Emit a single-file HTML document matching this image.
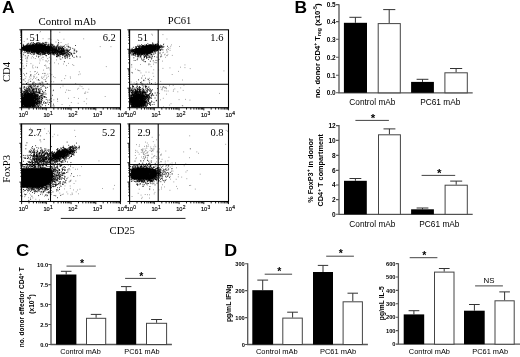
<!DOCTYPE html>
<html><head><meta charset="utf-8"><title>Figure</title>
<style>html,body{margin:0;padding:0;background:#fff}svg{display:block;filter:blur(0.4px)}.s{font-family:"Liberation Serif",serif;fill:#000}.a{font-family:"Liberation Sans",sans-serif;fill:#000}.b{font-family:"Liberation Sans",sans-serif;font-weight:bold;fill:#000}</style></head><body>
<svg width="520" height="357" viewBox="0 0 520 357">
<rect width="520" height="357" fill="#fff"/>
<text x="1.9" y="12.8" class="b" font-size="16.2" text-anchor="start" textLength="12.7" lengthAdjust="spacingAndGlyphs">A</text>
<text x="294.4" y="12.8" class="b" font-size="16.2" text-anchor="start" textLength="12.6" lengthAdjust="spacingAndGlyphs">B</text>
<text x="16.1" y="255.7" class="b" font-size="16.2" text-anchor="start" textLength="13.2" lengthAdjust="spacingAndGlyphs">C</text>
<text x="224.2" y="255.9" class="b" font-size="16.2" text-anchor="start" textLength="12.9" lengthAdjust="spacingAndGlyphs">D</text>
<rect x="21.6" y="29.8" width="98.9" height="77.9" fill="none" stroke="#000" stroke-width="1.1"/>
<path d="M50.8 29.8V107.7M21.6 84.3H120.5" stroke="#000" stroke-width="1.05" fill="none"/>
<path d="M29.0 107.7v1.9M21.6 101.8h-1.3M33.4 107.7v1.9M21.6 98.4h-1.3M36.5 107.7v1.9M21.6 96.0h-1.3M38.9 107.7v1.9M21.6 94.1h-1.3M40.8 107.7v1.9M21.6 92.5h-1.3M42.5 107.7v1.9M21.6 91.2h-1.3M43.9 107.7v1.9M21.6 90.1h-1.3M45.2 107.7v1.9M21.6 89.1h-1.3M53.8 107.7v1.9M21.6 82.4h-1.3M58.1 107.7v1.9M21.6 78.9h-1.3M61.2 107.7v1.9M21.6 76.5h-1.3M63.6 107.7v1.9M21.6 74.6h-1.3M65.6 107.7v1.9M21.6 73.1h-1.3M67.2 107.7v1.9M21.6 71.8h-1.3M68.7 107.7v1.9M21.6 70.6h-1.3M69.9 107.7v1.9M21.6 69.6h-1.3M78.5 107.7v1.9M21.6 62.9h-1.3M82.8 107.7v1.9M21.6 59.5h-1.3M85.9 107.7v1.9M21.6 57.0h-1.3M88.3 107.7v1.9M21.6 55.1h-1.3M90.3 107.7v1.9M21.6 53.6h-1.3M91.9 107.7v1.9M21.6 52.3h-1.3M93.4 107.7v1.9M21.6 51.2h-1.3M94.6 107.7v1.9M21.6 50.2h-1.3M103.2 107.7v1.9M21.6 43.4h-1.3M107.6 107.7v1.9M21.6 40.0h-1.3M110.7 107.7v1.9M21.6 37.5h-1.3M113.1 107.7v1.9M21.6 35.7h-1.3M115.0 107.7v1.9M21.6 34.1h-1.3M116.7 107.7v1.9M21.6 32.8h-1.3M118.1 107.7v1.9M21.6 31.7h-1.3M119.4 107.7v1.9M21.6 30.7h-1.3M21.6 107.7v2.6M21.6 107.7h-2.2M46.3 107.7v2.6M21.6 88.2h-2.2M71.1 107.7v2.6M21.6 68.8h-2.2M95.8 107.7v2.6M21.6 49.3h-2.2M120.5 107.7v2.6M21.6 29.8h-2.2" stroke="#000" stroke-width="0.9" fill="none"/>
<text x="18.7" y="117.4" class="a" font-size="5.7" stroke="#000" stroke-width="0.15">10<tspan dy="-2.1" dx="0.3" font-size="4.9">0</tspan></text>
<text x="43.4" y="117.4" class="a" font-size="5.7" stroke="#000" stroke-width="0.15">10<tspan dy="-2.1" dx="0.3" font-size="4.9">1</tspan></text>
<text x="68.2" y="117.4" class="a" font-size="5.7" stroke="#000" stroke-width="0.15">10<tspan dy="-2.1" dx="0.3" font-size="4.9">2</tspan></text>
<text x="92.9" y="117.4" class="a" font-size="5.7" stroke="#000" stroke-width="0.15">10<tspan dy="-2.1" dx="0.3" font-size="4.9">3</tspan></text>
<text x="117.6" y="117.4" class="a" font-size="5.7" stroke="#000" stroke-width="0.15">10<tspan dy="-2.1" dx="0.3" font-size="4.9">4</tspan></text>
<path d="M41.0 49.5h0.85M39.2 46.8h0.85M38.0 46.5h0.85M41.4 51.7h0.85M37.8 47.3h0.85M44.2 49.7h0.85M41.7 46.8h0.85M40.8 50.3h0.85M32.3 47.4h0.85M28.6 45.5h0.85M29.0 47.8h0.85M32.8 49.1h0.85M42.0 48.4h0.85M24.6 47.0h0.85M40.7 49.0h0.85M31.1 47.4h0.85M34.6 46.8h0.85M47.9 47.3h0.85M40.8 50.7h0.85M37.2 48.4h0.85M41.7 49.0h0.85M33.0 48.6h0.85M49.8 45.8h0.85M46.6 49.3h0.85M36.8 53.0h0.85M46.0 46.4h0.85M41.5 50.1h0.85M39.8 50.2h0.85M40.6 50.2h0.85M50.4 47.7h0.85M42.3 47.8h0.85M41.8 46.2h0.85M37.2 48.2h0.85M46.8 51.5h0.85M32.4 46.7h0.85M45.2 44.6h0.85M38.0 48.5h0.85M49.2 50.6h0.85M38.9 47.9h0.85M39.4 52.1h0.85M38.2 48.0h0.85M43.3 48.6h0.85M39.7 46.3h0.85M40.9 47.8h0.85M48.6 50.5h0.85M40.8 50.3h0.85M38.8 51.0h0.85M41.0 50.1h0.85M32.6 49.2h0.85M30.0 43.9h0.85M39.0 46.8h0.85M42.1 53.7h0.85M35.6 47.2h0.85M42.3 49.9h0.85M39.9 48.3h0.85M45.6 50.1h0.85M34.3 48.4h0.85M41.2 46.5h0.85M42.7 47.0h0.85M47.3 49.5h0.85M41.6 47.5h0.85M40.2 44.4h0.85M33.6 49.3h0.85M27.2 50.1h0.85M29.7 50.0h0.85M35.5 50.3h0.85M41.9 45.5h0.85M49.1 52.3h0.85M40.6 48.2h0.85M40.0 46.6h0.85M48.1 47.9h0.85M40.7 47.1h0.85M36.9 45.8h0.85M49.2 48.8h0.85M47.3 49.1h0.85M36.5 47.9h0.85M37.4 48.7h0.85M38.6 48.0h0.85M32.0 46.7h0.85M51.8 47.8h0.85M34.1 49.3h0.85M50.1 46.0h0.85M39.6 47.4h0.85M29.6 49.9h0.85M40.8 48.9h0.85M36.1 49.6h0.85M37.5 48.3h0.85M33.8 45.9h0.85M49.7 48.0h0.85M42.9 48.8h0.85M38.1 47.6h0.85M45.1 48.3h0.85M40.0 48.8h0.85M48.6 50.6h0.85M43.5 47.7h0.85M32.0 50.5h0.85M47.3 48.7h0.85M44.5 50.6h0.85M46.4 51.0h0.85M38.0 52.0h0.85M32.9 50.4h0.85M44.2 50.8h0.85M53.2 52.5h0.85M33.6 44.8h0.85M46.3 46.8h0.85M40.9 50.6h0.85M30.3 43.8h0.85M42.7 49.0h0.85M39.4 48.8h0.85M35.4 45.3h0.85M39.9 46.6h0.85M30.3 49.5h0.85M40.6 49.7h0.85M34.6 47.1h0.85M34.5 46.6h0.85M42.3 47.1h0.85M43.3 49.6h0.85M54.2 46.3h0.85M46.8 48.8h0.85M40.9 45.6h0.85M38.0 50.3h0.85M40.5 49.0h0.85M39.1 51.2h0.85M40.9 44.0h0.85M36.5 44.3h0.85M49.7 49.3h0.85M33.4 46.4h0.85M48.3 49.4h0.85M41.3 48.7h0.85M41.2 50.6h0.85M44.6 49.4h0.85M34.2 49.6h0.85M36.6 51.0h0.85M32.7 48.2h0.85M41.0 45.9h0.85M52.2 52.4h0.85M38.0 50.4h0.85M43.5 43.2h0.85M42.6 48.7h0.85M41.5 46.5h0.85M39.2 48.3h0.85M48.7 49.8h0.85M41.0 52.1h0.85M37.4 47.8h0.85M29.2 51.7h0.85M47.3 51.1h0.85M45.3 49.2h0.85M42.4 48.3h0.85M39.7 48.9h0.85M50.8 50.4h0.85M40.6 47.5h0.85M36.9 52.1h0.85M44.3 49.1h0.85M38.7 46.3h0.85M40.6 50.7h0.85M38.4 48.2h0.85M39.6 49.0h0.85M30.6 47.9h0.85M35.4 50.5h0.85M36.0 49.9h0.85M50.9 48.5h0.85M37.1 49.1h0.85M41.0 46.6h0.85M44.0 53.3h0.85M39.3 48.3h0.85M34.2 49.2h0.85M32.9 46.1h0.85M49.3 47.2h0.85M48.0 52.4h0.85M42.7 50.1h0.85M53.7 48.9h0.85M37.1 45.7h0.85M41.3 52.0h0.85M47.2 47.0h0.85M35.4 47.5h0.85M42.9 48.4h0.85M42.4 49.5h0.85M39.1 48.6h0.85M42.3 48.7h0.85M44.3 53.0h0.85M44.8 49.1h0.85M30.0 49.2h0.85M28.3 45.2h0.85M46.6 50.6h0.85M40.0 45.0h0.85M38.6 47.2h0.85M45.1 53.9h0.85M42.4 47.2h0.85M33.4 48.4h0.85M39.9 46.2h0.85M41.8 46.3h0.85M48.2 51.4h0.85M48.1 48.1h0.85M44.3 48.6h0.85M38.5 48.0h0.85M32.6 45.3h0.85M46.2 48.6h0.85M42.4 51.0h0.85M29.7 46.6h0.85M42.1 49.7h0.85M38.5 50.9h0.85M42.4 46.2h0.85M35.0 50.3h0.85M44.0 44.8h0.85M49.8 50.5h0.85M49.7 48.3h0.85M39.1 46.3h0.85M57.5 49.1h0.85M51.3 47.8h0.85M42.1 45.2h0.85M38.5 50.8h0.85M32.9 50.8h0.85M43.2 46.6h0.85M37.7 47.7h0.85M40.7 47.6h0.85M35.6 47.9h0.85M34.3 45.7h0.85M40.7 50.7h0.85M31.1 48.4h0.85M36.8 46.5h0.85M46.5 47.9h0.85M50.7 47.5h0.85M43.5 48.4h0.85M36.1 49.9h0.85M40.0 50.1h0.85M40.7 46.4h0.85M40.3 48.9h0.85M47.2 47.1h0.85M40.7 45.0h0.85M45.2 46.6h0.85M29.3 48.2h0.85M48.2 45.8h0.85M33.9 46.9h0.85M33.7 49.3h0.85M35.8 47.0h0.85M44.8 47.3h0.85M43.8 46.8h0.85M33.1 44.5h0.85M53.1 48.6h0.85M42.6 48.8h0.85M42.0 49.0h0.85M53.4 47.0h0.85M30.9 46.2h0.85M32.3 50.1h0.85M46.3 46.9h0.85M32.0 47.7h0.85M50.0 43.0h0.85M44.4 46.6h0.85M47.8 46.7h0.85M39.1 45.4h0.85M34.6 51.6h0.85M46.3 48.1h0.85M35.3 44.4h0.85M38.4 48.6h0.85M40.5 48.6h0.85M33.7 48.4h0.85M40.7 51.6h0.85M53.1 49.0h0.85M36.0 48.5h0.85M37.1 47.0h0.85M40.6 46.5h0.85M44.9 48.7h0.85M42.6 48.5h0.85M36.3 46.5h0.85M39.5 47.5h0.85M42.5 48.9h0.85M32.1 48.6h0.85M32.3 47.1h0.85M39.1 44.2h0.85M41.6 49.2h0.85M40.0 47.8h0.85M38.6 46.6h0.85M39.2 47.5h0.85M41.6 46.2h0.85M42.5 49.2h0.85M40.1 47.8h0.85M44.6 45.3h0.85M44.0 49.5h0.85M42.8 49.7h0.85M36.8 48.1h0.85M45.1 49.9h0.85M42.3 45.5h0.85M44.5 51.5h0.85M47.6 49.6h0.85M30.9 50.4h0.85M40.0 43.2h0.85M43.5 45.6h0.85M32.6 47.1h0.85M49.3 48.3h0.85M42.8 52.7h0.85M51.4 49.0h0.85M39.4 46.0h0.85M36.5 49.5h0.85M43.6 49.1h0.85M47.5 47.4h0.85M40.6 50.4h0.85M44.8 51.3h0.85M43.6 48.2h0.85M43.4 46.7h0.85M30.3 49.6h0.85M40.6 49.5h0.85M30.0 47.6h0.85M37.1 46.8h0.85M26.3 47.5h0.85M46.8 49.9h0.85M37.1 48.6h0.85M45.9 43.0h0.85M40.2 50.0h0.85M45.4 52.7h0.85M48.4 49.8h0.85M43.0 50.6h0.85M37.5 48.6h0.85M46.9 53.3h0.85M40.0 48.7h0.85M42.3 51.8h0.85M40.8 52.0h0.85M34.7 48.1h0.85M39.7 50.5h0.85M47.8 45.8h0.85M35.1 49.3h0.85M36.7 45.3h0.85M47.8 50.2h0.85M44.2 47.9h0.85M47.7 48.5h0.85M48.1 47.1h0.85M35.4 49.0h0.85M36.4 50.1h0.85M42.7 46.9h0.85M41.5 48.1h0.85M47.0 47.7h0.85M38.1 51.3h0.85M55.6 53.8h0.85M41.4 49.3h0.85M51.0 48.9h0.85M34.7 48.8h0.85M43.9 47.1h0.85M30.3 45.2h0.85M45.3 47.3h0.85M40.1 49.2h0.85M45.0 48.2h0.85M44.2 47.0h0.85M38.6 46.5h0.85M48.4 49.0h0.85M36.2 47.8h0.85M39.6 50.3h0.85M30.6 46.1h0.85M38.5 54.2h0.85M47.2 48.8h0.85M45.6 53.5h0.85M39.5 47.9h0.85M48.9 50.2h0.85M45.4 47.9h0.85M53.5 53.0h0.85M44.7 50.4h0.85M27.8 49.7h0.85M39.7 49.7h0.85M45.4 48.2h0.85M30.0 49.2h0.85M36.2 47.9h0.85M37.1 47.9h0.85M26.0 50.8h0.85M42.6 51.3h0.85M53.9 49.4h0.85M29.3 46.4h0.85M33.2 47.4h0.85M41.5 44.4h0.85M43.2 45.6h0.85M42.9 48.6h0.85M39.0 48.6h0.85M37.5 47.3h0.85M30.1 48.3h0.85M53.0 53.6h0.85M49.6 50.7h0.85M36.6 51.8h0.85M40.6 48.6h0.85M39.1 48.9h0.85M38.2 48.5h0.85M34.0 47.7h0.85M55.8 49.3h0.85M39.4 49.9h0.85M45.6 46.6h0.85M39.7 50.8h0.85M42.8 49.1h0.85M51.1 47.7h0.85M41.5 47.7h0.85M50.7 44.9h0.85M36.6 47.5h0.85M45.3 50.3h0.85M50.1 45.7h0.85M45.9 48.4h0.85M36.7 49.8h0.85M35.0 44.0h0.85M38.6 45.4h0.85M36.8 49.4h0.85M43.0 52.3h0.85M39.7 45.4h0.85M36.1 46.6h0.85M33.1 49.4h0.85M36.8 44.3h0.85M45.5 48.7h0.85M43.3 49.1h0.85M45.1 49.0h0.85M49.0 50.1h0.85M43.5 49.8h0.85M31.5 48.1h0.85M39.3 49.2h0.85M32.2 52.0h0.85M41.7 46.2h0.85M29.9 47.7h0.85M40.4 47.2h0.85M41.6 47.4h0.85M44.6 47.4h0.85M40.7 50.9h0.85M57.7 47.3h0.85M38.0 46.8h0.85M46.1 46.5h0.85M37.9 48.6h0.85M34.6 46.5h0.85M37.9 44.1h0.85M31.6 47.5h0.85M42.0 48.4h0.85M29.5 47.3h0.85M46.2 50.2h0.85M40.5 46.8h0.85M45.1 47.7h0.85M33.4 46.7h0.85M50.4 49.7h0.85M48.5 48.1h0.85M47.1 47.7h0.85M40.0 54.2h0.85M46.0 47.9h0.85M40.4 49.5h0.85M48.9 48.1h0.85M29.7 47.7h0.85M41.1 49.0h0.85M49.6 49.8h0.85M46.3 46.6h0.85M46.6 53.6h0.85M46.0 49.6h0.85M42.0 52.7h0.85M35.0 48.3h0.85M44.0 50.5h0.85M38.2 49.4h0.85M39.2 49.0h0.85M40.1 46.3h0.85M40.9 50.7h0.85M34.7 48.0h0.85M45.3 46.6h0.85M42.2 46.5h0.85M48.4 54.2h0.85M54.1 48.9h0.85M45.8 49.3h0.85M41.7 52.2h0.85M32.4 50.8h0.85M40.7 51.9h0.85M42.2 47.4h0.85M42.8 50.5h0.85M41.2 49.9h0.85M37.6 44.0h0.85M46.9 50.6h0.85M42.0 49.0h0.85M47.7 48.1h0.85M36.4 48.2h0.85M48.7 46.1h0.85M48.7 47.7h0.85M33.8 51.3h0.85M40.4 45.9h0.85M38.7 50.7h0.85M48.7 48.2h0.85M43.6 50.5h0.85M36.8 49.4h0.85M40.8 47.6h0.85M37.8 48.8h0.85M41.2 47.6h0.85M38.2 51.1h0.85M42.4 50.8h0.85M48.8 50.4h0.85M55.8 47.6h0.85M46.3 48.3h0.85M53.1 53.0h0.85M28.3 46.2h0.85M45.3 50.7h0.85M45.8 48.8h0.85M44.0 50.3h0.85M40.5 51.0h0.85M26.3 49.6h0.85M34.3 50.6h0.85M39.5 46.8h0.85M43.4 46.9h0.85M35.1 45.1h0.85M40.8 49.9h0.85M47.6 48.8h0.85M47.8 49.1h0.85M40.4 50.0h0.85M47.9 48.3h0.85M39.4 48.4h0.85M41.5 46.9h0.85M47.7 48.2h0.85M44.0 47.1h0.85M43.3 49.8h0.85M38.3 53.1h0.85M43.4 52.8h0.85M47.2 47.6h0.85M38.5 49.7h0.85M41.4 48.9h0.85M39.1 44.8h0.85M39.5 43.9h0.85M43.4 47.3h0.85M36.3 48.1h0.85M42.8 45.7h0.85M29.6 46.0h0.85M27.7 46.1h0.85M51.3 46.9h0.85M45.2 46.0h0.85M42.9 48.2h0.85M40.6 50.0h0.85M52.4 49.7h0.85M41.8 46.7h0.85M44.8 48.4h0.85M46.4 48.9h0.85M52.3 44.9h0.85M39.1 50.6h0.85M38.7 47.0h0.85M39.3 45.7h0.85M41.8 54.2h0.85M48.4 46.7h0.85M35.3 47.7h0.85M47.5 47.3h0.85M36.5 50.6h0.85M46.6 48.2h0.85M33.7 45.1h0.85M36.5 43.7h0.85M45.9 47.6h0.85M44.1 53.0h0.85M48.6 46.6h0.85M46.7 51.6h0.85M36.1 46.5h0.85M40.3 45.3h0.85M50.6 43.9h0.85M33.8 47.9h0.85M39.5 49.1h0.85M42.8 48.4h0.85M48.4 44.4h0.85M41.0 47.2h0.85M41.9 49.3h0.85M35.1 47.2h0.85M46.2 49.8h0.85M36.6 53.1h0.85M56.0 46.2h0.85M43.0 54.4h0.85M46.1 49.5h0.85M39.6 47.6h0.85M39.6 47.5h0.85M45.8 48.1h0.85M38.1 46.1h0.85M40.7 46.8h0.85M39.8 51.0h0.85M43.4 50.0h0.85M43.3 49.0h0.85M40.2 48.1h0.85M45.9 46.6h0.85M49.7 49.2h0.85M36.1 47.5h0.85M36.6 49.0h0.85M36.3 51.1h0.85M35.9 43.6h0.85M36.2 44.2h0.85M40.7 51.1h0.85M45.2 46.0h0.85M36.0 52.5h0.85M43.1 48.9h0.85M47.9 54.4h0.85M49.4 49.4h0.85M43.3 50.2h0.85M37.0 46.3h0.85M41.3 46.7h0.85M40.6 49.0h0.85M56.2 47.6h0.85M40.2 48.4h0.85M43.8 51.2h0.85M37.8 46.9h0.85M30.3 46.3h0.85M44.5 49.0h0.85M34.4 47.7h0.85M41.2 49.9h0.85M37.1 48.1h0.85M29.2 45.8h0.85M51.5 44.4h0.85M38.8 49.2h0.85M38.6 46.9h0.85M40.6 48.8h0.85M40.5 44.7h0.85M40.0 46.9h0.85M37.4 49.2h0.85M45.2 50.9h0.85M37.8 50.7h0.85M48.6 51.6h0.85M50.0 48.8h0.85M39.9 50.6h0.85M32.1 48.9h0.85M37.6 47.9h0.85M29.7 46.4h0.85M40.9 50.7h0.85M47.4 48.9h0.85M39.8 46.9h0.85M43.6 48.4h0.85M44.9 52.8h0.85M40.8 45.5h0.85M35.4 45.4h0.85M33.2 51.3h0.85M42.5 45.5h0.85M45.2 51.7h0.85M38.7 47.2h0.85M38.8 49.3h0.85M45.2 51.6h0.85M48.9 51.7h0.85M49.9 50.6h0.85M31.0 48.1h0.85M43.0 48.0h0.85M46.9 48.3h0.85M35.0 51.7h0.85M45.3 49.5h0.85M47.0 51.4h0.85M43.2 43.5h0.85M36.6 47.6h0.85M34.6 49.0h0.85M48.7 48.1h0.85M33.6 52.9h0.85M38.1 46.0h0.85M42.5 49.8h0.85M36.4 50.3h0.85M37.8 46.7h0.85M42.2 50.5h0.85M36.9 49.4h0.85M40.4 54.9h0.85M36.4 51.6h0.85M40.7 48.5h0.85M45.7 50.9h0.85M49.2 49.9h0.85M37.1 47.5h0.85M44.3 50.2h0.85M50.1 50.1h0.85M47.9 52.4h0.85M42.1 45.6h0.85M33.3 45.3h0.85M51.3 47.4h0.85M49.0 50.4h0.85M52.1 51.4h0.85M40.3 48.3h0.85M41.6 49.2h0.85M37.6 48.6h0.85M51.5 45.5h0.85M42.7 46.9h0.85M42.2 50.7h0.85M40.6 50.5h0.85M30.7 50.8h0.85M37.1 50.0h0.85M42.2 43.2h0.85M36.1 49.1h0.85M51.1 49.8h0.85M42.7 45.8h0.85M50.3 53.1h0.85M41.2 48.3h0.85M30.5 50.3h0.85M58.6 51.1h0.85M49.2 50.3h0.85M34.6 51.5h0.85M33.0 48.0h0.85M42.8 50.8h0.85M43.7 49.8h0.85M36.1 45.8h0.85M41.4 47.3h0.85M32.5 45.7h0.85M37.8 44.6h0.85M32.2 44.9h0.85M42.2 49.7h0.85M54.0 46.1h0.85M36.6 50.6h0.85M39.6 48.0h0.85M52.1 48.5h0.85M33.5 45.6h0.85M43.2 49.6h0.85M32.1 46.3h0.85M44.5 50.2h0.85M36.8 50.0h0.85M44.7 45.1h0.85M39.0 49.6h0.85M37.3 44.0h0.85M39.2 50.4h0.85M51.3 44.4h0.85M58.0 47.0h0.85M47.2 51.7h0.85M47.4 49.4h0.85M33.5 49.9h0.85M36.4 43.1h0.85M59.4 51.1h0.85M52.8 47.3h0.85M50.5 52.7h0.85M51.1 49.2h0.85M33.2 48.1h0.85M26.7 44.5h0.85M41.6 46.7h0.85M39.9 48.5h0.85M53.5 52.1h0.85M40.7 51.4h0.85M35.9 47.9h0.85M46.9 46.3h0.85M39.2 45.8h0.85M41.8 52.4h0.85M36.1 49.1h0.85M35.2 46.1h0.85M33.0 51.7h0.85M56.4 50.5h0.85M36.3 50.2h0.85M38.8 50.5h0.85M42.9 49.5h0.85M44.9 47.7h0.85M38.4 44.9h0.85M38.1 45.6h0.85M40.1 46.7h0.85M41.7 49.8h0.85M31.8 46.6h0.85M34.9 50.2h0.85M52.1 51.1h0.85M38.7 51.9h0.85M31.2 51.7h0.85M36.7 42.6h0.85M58.2 52.9h0.85M34.3 48.9h0.85M39.6 49.0h0.85M31.4 46.9h0.85M44.0 49.4h0.85M48.8 49.3h0.85M56.3 47.9h0.85M42.7 44.7h0.85M32.9 51.4h0.85M34.9 49.7h0.85M40.6 46.5h0.85M38.7 47.6h0.85M37.8 50.3h0.85M45.2 47.7h0.85M35.1 49.2h0.85M40.3 51.0h0.85M58.3 51.3h0.85M40.8 48.4h0.85M35.4 46.6h0.85M34.5 47.7h0.85M38.2 50.3h0.85M38.4 48.3h0.85M33.1 52.1h0.85M44.3 52.8h0.85M46.2 52.3h0.85M39.4 50.3h0.85M58.6 46.8h0.85M48.6 52.8h0.85M43.7 50.6h0.85M49.3 47.7h0.85M43.7 47.0h0.85M36.5 47.2h0.85M40.0 49.1h0.85M44.0 45.8h0.85M54.2 51.9h0.85M45.8 48.2h0.85M40.4 50.0h0.85M43.7 45.2h0.85M45.9 55.5h0.85M28.7 50.5h0.85M43.5 48.7h0.85M50.1 46.5h0.85M42.1 52.1h0.85M39.7 47.8h0.85M41.8 47.8h0.85M51.3 47.2h0.85M46.8 46.2h0.85M45.5 48.7h0.85M23.7 48.1h0.85M33.9 47.5h0.85M51.3 46.7h0.85M33.9 51.7h0.85M41.8 52.3h0.85M43.2 46.9h0.85M40.6 51.5h0.85M47.3 49.1h0.85M41.3 48.6h0.85M37.1 53.0h0.85M41.0 46.3h0.85M37.8 50.3h0.85M45.3 48.7h0.85M36.5 48.7h0.85M29.8 45.4h0.85M46.3 47.9h0.85M43.5 51.6h0.85M45.3 49.0h0.85M55.2 50.9h0.85M38.6 50.3h0.85M43.7 47.0h0.85M41.5 48.4h0.85M27.9 47.9h0.85M39.1 47.7h0.85M30.0 47.6h0.85M40.7 49.0h0.85M33.4 49.9h0.85M32.9 48.0h0.85M49.7 47.6h0.85M37.6 51.1h0.85M38.4 48.0h0.85M42.5 51.2h0.85M26.3 46.3h0.85M34.3 46.1h0.85M35.3 46.7h0.85M43.0 46.9h0.85M41.8 49.7h0.85M36.1 48.9h0.85M51.9 50.0h0.85M36.8 48.5h0.85M34.9 49.2h0.85M46.7 47.2h0.85M39.6 51.2h0.85M37.7 49.1h0.85M34.2 46.7h0.85M37.6 53.4h0.85M38.3 47.5h0.85M37.3 48.3h0.85M45.3 49.4h0.85M54.4 49.8h0.85M50.4 49.8h0.85M44.9 45.8h0.85M40.2 48.6h0.85M39.4 44.0h0.85M46.7 48.2h0.85M38.2 48.1h0.85M39.5 49.6h0.85M32.7 46.4h0.85M42.9 49.2h0.85M38.6 47.4h0.85M35.6 48.5h0.85M48.7 46.8h0.85M50.9 51.0h0.85M38.1 50.4h0.85M31.5 44.6h0.85M32.6 47.6h0.85M38.9 47.6h0.85M41.6 44.2h0.85M44.2 45.8h0.85M36.7 47.7h0.85M33.5 45.5h0.85M34.5 48.5h0.85M44.8 50.2h0.85M34.5 46.8h0.85M35.0 49.5h0.85M27.8 51.0h0.85M37.8 47.0h0.85M43.2 51.1h0.85M43.2 51.2h0.85M41.9 51.5h0.85M49.1 48.9h0.85M50.4 49.5h0.85M41.6 46.8h0.85M39.1 50.4h0.85M32.5 49.9h0.85M43.3 49.5h0.85M26.7 48.0h0.85M45.2 47.3h0.85M41.6 43.6h0.85M45.4 47.5h0.85M46.7 45.0h0.85M45.5 48.5h0.85M46.2 47.0h0.85M37.0 53.5h0.85M35.6 47.0h0.85M39.2 46.5h0.85M48.7 52.9h0.85M36.4 44.8h0.85M48.6 51.5h0.85M46.3 51.5h0.85M35.4 48.2h0.85M32.0 45.3h0.85M47.4 47.6h0.85M55.8 49.6h0.85M36.8 50.4h0.85M52.7 50.3h0.85M33.1 49.3h0.85M49.9 48.1h0.85M36.0 50.8h0.85M41.9 46.4h0.85M38.5 47.0h0.85M42.9 49.1h0.85M48.5 50.7h0.85M30.8 49.3h0.85M46.8 50.0h0.85M47.7 47.9h0.85M34.8 50.6h0.85M34.1 43.8h0.85M47.7 47.5h0.85M39.0 45.7h0.85M32.4 45.9h0.85M38.7 49.5h0.85M26.1 49.8h0.85M33.3 46.2h0.85M45.4 48.8h0.85M31.0 52.4h0.85M35.4 49.1h0.85M42.3 51.9h0.85M38.0 50.9h0.85M36.2 51.1h0.85M36.0 47.8h0.85M53.3 50.0h0.85M41.7 53.7h0.85M43.3 47.1h0.85M45.8 46.4h0.85M48.3 51.7h0.85M37.3 47.3h0.85M42.1 48.9h0.85M34.6 49.8h0.85M27.7 47.3h0.85M38.4 48.1h0.85M43.0 46.2h0.85M44.8 48.6h0.85M36.8 45.6h0.85M33.3 49.3h0.85M34.7 48.7h0.85M47.9 51.3h0.85M51.1 48.6h0.85M33.9 50.7h0.85M43.0 51.3h0.85M41.1 51.4h0.85M46.5 50.6h0.85M44.3 49.8h0.85M42.5 49.4h0.85M47.4 47.9h0.85M52.3 49.0h0.85M47.4 48.9h0.85M39.4 53.2h0.85M39.0 45.9h0.85M36.4 47.9h0.85M55.0 49.8h0.85M47.1 46.9h0.85M43.3 50.4h0.85M52.7 47.8h0.85M44.9 49.6h0.85M34.4 48.5h0.85M39.3 43.7h0.85M44.9 50.1h0.85M38.1 45.8h0.85M50.6 49.8h0.85M47.6 52.1h0.85M37.6 50.4h0.85M39.4 48.6h0.85M40.4 48.8h0.85M48.2 49.4h0.85M40.0 48.2h0.85M43.2 46.9h0.85M37.7 48.6h0.85M37.3 48.4h0.85M37.0 53.0h0.85M49.6 50.1h0.85M40.7 53.6h0.85M43.1 48.7h0.85M43.0 49.5h0.85M50.2 49.1h0.85M54.6 47.4h0.85M45.5 46.8h0.85M52.8 48.6h0.85M40.6 50.8h0.85M49.2 46.7h0.85M38.7 45.7h0.85M41.9 48.6h0.85M38.7 47.2h0.85M38.5 47.1h0.85M44.4 52.3h0.85M28.5 48.0h0.85M38.3 49.8h0.85M34.8 48.2h0.85M34.2 50.0h0.85M41.6 48.5h0.85M43.4 48.4h0.85M30.9 49.7h0.85M42.9 48.5h0.85M47.4 51.7h0.85M33.9 46.8h0.85M51.1 52.3h0.85M36.2 46.0h0.85M36.9 47.5h0.85M30.7 48.4h0.85M32.7 45.8h0.85M47.0 47.5h0.85M40.5 50.2h0.85M46.3 48.3h0.85M41.3 47.0h0.85M52.4 50.7h0.85M33.8 48.5h0.85M45.6 50.0h0.85M52.9 52.3h0.85M37.5 48.5h0.85M32.7 49.0h0.85M42.0 54.7h0.85M41.6 44.3h0.85M36.6 48.9h0.85M32.8 46.6h0.85M38.6 49.5h0.85M39.9 46.8h0.85M46.1 47.8h0.85M37.8 45.7h0.85M35.9 50.0h0.85M30.5 48.2h0.85M45.7 48.2h0.85M42.6 46.4h0.85M49.5 51.6h0.85M42.5 45.0h0.85M34.2 50.7h0.85M52.1 49.9h0.85M49.1 47.8h0.85M39.8 48.8h0.85M43.8 45.6h0.85M47.1 51.9h0.85M33.5 45.5h0.85M43.3 47.5h0.85M25.6 49.9h0.85M42.0 47.8h0.85M54.7 49.7h0.85M36.1 48.8h0.85M34.2 46.9h0.85M43.5 47.7h0.85M38.1 52.3h0.85M46.6 50.8h0.85M44.4 50.0h0.85M50.5 49.1h0.85M53.1 47.2h0.85M39.3 45.7h0.85M38.8 49.8h0.85M50.4 47.7h0.85M41.0 48.0h0.85M36.2 46.0h0.85M41.4 45.0h0.85M41.7 48.9h0.85M36.7 46.4h0.85M32.0 52.5h0.85M32.3 51.8h0.85M44.9 48.2h0.85M33.5 50.8h0.85M52.2 47.2h0.85M39.1 51.0h0.85M43.2 53.3h0.85M37.3 49.8h0.85M32.9 53.0h0.85M36.3 43.8h0.85M40.2 48.5h0.85M53.5 48.6h0.85M40.9 50.1h0.85M51.3 49.1h0.85M47.8 50.2h0.85M39.1 48.9h0.85M41.2 46.8h0.85M48.9 46.1h0.85M48.6 51.2h0.85M40.4 47.1h0.85M39.5 49.8h0.85M45.8 49.6h0.85M47.4 47.8h0.85M42.5 45.4h0.85M46.0 49.3h0.85M38.3 51.2h0.85M45.5 42.8h0.85M41.3 45.6h0.85M47.9 54.5h0.85M37.6 48.8h0.85M39.4 49.5h0.85M45.2 51.8h0.85M34.6 52.0h0.85M34.9 49.2h0.85M48.5 50.7h0.85M34.9 47.0h0.85M38.0 48.6h0.85M48.5 46.3h0.85M44.0 50.3h0.85M44.6 50.0h0.85M50.9 50.3h0.85M46.6 50.3h0.85M52.7 45.1h0.85M49.3 48.6h0.85M39.2 46.6h0.85M28.9 47.5h0.85M36.5 49.7h0.85M31.4 51.5h0.85M42.8 48.3h0.85M36.4 46.9h0.85M33.7 47.3h0.85M41.0 48.4h0.85M31.8 47.8h0.85M35.2 48.9h0.85M53.1 50.7h0.85M39.0 45.2h0.85M31.8 44.7h0.85M45.7 47.3h0.85M41.4 47.5h0.85M41.6 51.9h0.85M36.5 47.9h0.85M35.8 50.5h0.85M34.3 46.1h0.85M32.0 45.4h0.85M44.1 54.5h0.85M34.5 50.6h0.85M42.6 46.5h0.85M39.2 48.2h0.85M36.5 52.8h0.85M28.6 49.1h0.85M43.2 47.6h0.85M42.0 50.8h0.85M42.0 49.8h0.85M45.5 44.5h0.85M50.6 54.2h0.85M47.4 51.3h0.85M31.8 48.2h0.85M35.7 47.3h0.85M47.3 47.3h0.85M40.2 44.6h0.85M40.0 49.0h0.85M36.4 47.0h0.85M53.3 46.7h0.85M34.2 46.8h0.85M48.8 53.7h0.85M43.2 47.3h0.85M38.2 51.0h0.85M35.1 51.7h0.85M50.2 49.3h0.85M45.2 50.6h0.85M51.1 46.9h0.85M48.7 48.3h0.85M36.0 48.8h0.85M39.6 46.6h0.85M30.6 46.3h0.85M50.4 53.5h0.85M45.2 51.6h0.85M37.6 48.5h0.85M42.8 46.5h0.85M34.6 48.8h0.85M38.9 46.4h0.85M43.5 48.3h0.85M47.6 49.1h0.85M39.0 49.0h0.85M39.9 47.3h0.85M38.4 50.3h0.85M45.2 51.8h0.85M30.0 47.5h0.85M38.3 49.1h0.85M38.1 47.6h0.85M46.1 49.4h0.85M33.4 51.4h0.85M47.5 47.8h0.85M46.4 47.4h0.85M48.3 48.6h0.85M35.8 47.8h0.85M36.0 49.0h0.85M42.1 48.9h0.85M37.4 40.7h0.85M41.6 44.7h0.85M42.6 51.3h0.85M42.8 48.0h0.85M39.8 48.5h0.85M37.4 47.4h0.85M35.0 51.2h0.85M40.9 50.9h0.85M39.4 48.9h0.85M39.9 49.8h0.85M46.4 49.5h0.85M36.6 46.9h0.85M51.8 48.6h0.85M39.1 51.9h0.85M48.1 50.3h0.85M38.4 53.8h0.85M43.6 50.1h0.85M39.9 45.7h0.85M32.3 49.3h0.85M43.5 48.4h0.85M33.4 45.3h0.85M38.9 45.5h0.85M46.8 51.6h0.85M59.4 51.5h0.85M37.1 46.7h0.85M39.8 50.9h0.85M45.0 50.2h0.85M42.4 50.3h0.85M50.4 46.9h0.85M38.0 45.6h0.85M51.5 52.1h0.85M45.9 46.4h0.85M42.1 48.3h0.85M41.5 48.4h0.85M44.4 48.1h0.85M46.6 49.6h0.85M39.1 48.5h0.85M38.1 50.5h0.85M39.2 49.4h0.85M38.4 45.5h0.85M46.9 46.7h0.85M45.4 49.9h0.85M30.2 46.3h0.85M37.7 46.9h0.85M33.3 50.1h0.85M39.4 49.6h0.85M38.2 49.4h0.85M36.1 48.5h0.85M44.8 49.1h0.85M38.0 46.3h0.85M42.1 49.6h0.85M39.3 47.1h0.85M44.5 54.4h0.85M39.0 49.5h0.85M43.5 43.3h0.85M41.8 47.3h0.85M50.0 48.6h0.85M35.9 48.1h0.85M42.1 47.6h0.85M40.7 45.8h0.85M39.5 50.4h0.85M53.8 50.9h0.85M42.8 51.5h0.85M47.6 52.7h0.85M48.0 48.8h0.85M42.7 49.3h0.85M43.0 49.3h0.85M35.9 44.0h0.85M36.6 44.2h0.85M41.4 48.8h0.85M30.1 49.9h0.85M46.6 49.2h0.85M51.8 53.3h0.85M33.2 50.7h0.85M43.9 49.8h0.85M47.1 47.5h0.85M37.1 46.8h0.85M36.1 48.4h0.85M31.6 46.1h0.85M44.8 48.8h0.85M43.5 44.8h0.85M35.9 47.4h0.85M41.2 47.5h0.85M47.1 48.9h0.85M41.1 48.8h0.85M45.6 48.0h0.85M48.3 50.1h0.85M42.0 48.9h0.85M44.4 51.2h0.85M47.1 49.9h0.85M46.7 49.3h0.85M49.1 49.1h0.85M27.5 51.2h0.85M41.7 46.3h0.85M39.7 46.8h0.85M54.7 50.4h0.85M30.8 49.6h0.85M38.4 52.9h0.85M34.2 43.6h0.85M41.4 48.1h0.85M38.3 44.0h0.85M43.8 52.6h0.85M28.6 50.9h0.85M37.3 53.8h0.85M43.8 48.5h0.85M48.2 50.2h0.85M37.1 50.2h0.85M37.7 44.8h0.85M54.2 48.6h0.85M37.0 49.4h0.85M30.9 45.4h0.85M37.8 47.5h0.85M41.5 51.3h0.85M37.9 49.8h0.85M44.9 46.6h0.85M42.5 46.8h0.85M47.9 50.1h0.85M41.1 45.9h0.85M41.8 47.2h0.85M45.6 48.7h0.85M35.7 50.6h0.85M45.7 47.7h0.85M48.6 48.5h0.85M39.0 49.0h0.85M36.1 47.6h0.85M40.0 52.1h0.85M50.7 48.6h0.85M51.5 49.1h0.85M43.5 50.8h0.85M42.9 54.2h0.85M42.6 46.2h0.85M49.5 48.2h0.85M39.0 42.2h0.85M47.5 50.9h0.85M46.2 51.1h0.85M52.0 49.1h0.85M47.1 47.4h0.85M38.7 51.0h0.85M43.5 46.0h0.85M43.3 48.5h0.85M35.7 49.5h0.85M38.4 45.3h0.85M33.8 52.4h0.85M31.2 48.9h0.85M32.7 49.3h0.85M29.8 49.5h0.85M25.1 46.8h0.85M35.0 49.9h0.85M31.2 47.5h0.85M31.4 48.6h0.85M34.0 46.7h0.85M29.7 48.2h0.85M22.3 48.7h0.85M29.2 47.8h0.85M31.4 46.4h0.85M28.7 49.0h0.85M30.7 49.9h0.85M30.4 49.0h0.85M41.7 49.3h0.85M23.8 49.5h0.85M23.9 46.3h0.85M44.7 48.9h0.85M33.3 49.2h0.85M39.9 48.8h0.85M36.3 47.0h0.85M37.8 49.1h0.85M30.4 48.6h0.85M24.9 50.6h0.85M33.0 49.1h0.85M31.3 49.9h0.85M32.0 49.4h0.85M22.0 49.1h0.85M42.1 47.7h0.85M28.2 49.6h0.85M34.7 49.3h0.85M32.3 48.0h0.85M33.9 52.8h0.85M33.7 49.4h0.85M23.6 47.5h0.85M22.6 47.7h0.85M22.4 47.5h0.85M27.7 47.0h0.85M31.7 48.5h0.85M35.2 49.9h0.85M27.0 49.3h0.85M36.2 48.1h0.85M22.0 48.9h0.85M33.5 48.5h0.85M26.1 49.7h0.85M22.8 48.8h0.85M26.0 47.2h0.85M31.8 47.0h0.85M40.4 47.6h0.85M40.9 46.9h0.85M32.6 46.7h0.85M33.1 46.6h0.85M36.1 47.3h0.85M29.8 48.9h0.85M32.6 45.9h0.85M38.7 49.2h0.85M26.4 47.0h0.85M32.3 47.9h0.85M22.2 47.7h0.85M38.4 47.9h0.85M25.5 50.3h0.85M31.8 48.5h0.85M25.4 46.2h0.85M22.0 47.7h0.85M27.7 48.9h0.85M32.3 48.7h0.85M30.3 47.0h0.85M23.3 47.5h0.85M27.4 46.7h0.85M22.3 48.3h0.85M29.7 47.5h0.85M32.0 48.1h0.85M22.9 48.5h0.85M40.3 47.5h0.85M36.0 50.3h0.85M38.0 47.2h0.85M41.1 48.6h0.85M27.5 48.1h0.85M32.6 48.5h0.85M27.9 50.2h0.85M24.7 46.9h0.85M33.8 49.4h0.85M35.6 46.9h0.85M35.5 49.1h0.85M39.6 46.7h0.85M30.3 48.0h0.85M35.8 47.7h0.85M24.7 49.6h0.85M34.9 49.8h0.85M24.3 48.3h0.85M35.2 47.5h0.85M24.5 49.6h0.85M38.4 46.8h0.85M22.9 48.2h0.85M32.7 48.2h0.85M24.8 48.6h0.85M23.2 48.3h0.85M25.2 52.2h0.85M33.9 47.2h0.85M23.0 47.8h0.85M24.6 49.6h0.85M26.4 47.3h0.85M28.6 48.1h0.85M35.8 47.5h0.85M35.4 48.8h0.85M29.0 45.6h0.85M37.4 48.7h0.85M33.6 47.8h0.85M26.8 47.5h0.85M34.8 48.9h0.85M27.6 47.9h0.85M32.3 48.9h0.85M24.0 50.8h0.85M30.5 48.4h0.85M37.9 49.8h0.85M28.5 49.2h0.85M22.6 47.5h0.85M24.0 47.0h0.85M27.8 48.8h0.85M32.7 50.9h0.85M31.2 49.6h0.85M25.4 49.4h0.85M29.9 47.8h0.85M28.4 48.3h0.85M30.1 49.0h0.85M25.9 47.4h0.85M33.5 46.0h0.85M25.3 50.6h0.85M33.1 46.1h0.85M44.6 44.8h0.85M37.6 50.6h0.85M34.5 48.1h0.85M31.1 47.1h0.85M33.9 46.8h0.85M27.4 49.8h0.85M22.3 47.9h0.85M30.0 46.5h0.85M36.0 48.9h0.85M24.3 47.5h0.85M29.5 47.4h0.85M34.8 47.4h0.85M34.9 48.3h0.85M34.1 47.6h0.85M26.0 46.8h0.85M32.5 49.7h0.85M41.7 50.2h0.85M30.5 48.1h0.85M31.3 48.4h0.85M37.8 49.7h0.85M24.0 47.4h0.85M37.2 48.8h0.85M27.6 50.1h0.85M26.7 48.0h0.85M26.2 45.7h0.85M34.2 46.7h0.85M25.6 47.4h0.85M33.4 48.3h0.85M29.1 46.0h0.85M28.5 46.3h0.85M30.8 48.9h0.85M28.9 51.3h0.85M32.2 49.2h0.85M29.9 48.1h0.85M34.8 49.9h0.85M32.1 49.7h0.85M31.8 46.7h0.85M22.0 51.0h0.85M30.5 46.4h0.85M31.1 47.9h0.85M28.7 48.1h0.85M30.7 49.2h0.85M24.0 46.7h0.85M25.7 48.2h0.85M27.4 46.4h0.85M26.1 51.2h0.85M22.7 46.0h0.85M30.7 49.2h0.85M31.8 46.8h0.85M35.0 47.3h0.85M22.2 47.5h0.85M28.3 49.4h0.85M32.7 48.4h0.85M34.6 48.5h0.85M34.4 46.4h0.85M28.4 47.7h0.85M26.3 50.3h0.85M42.8 48.4h0.85M28.9 49.4h0.85M40.0 46.7h0.85M29.5 48.1h0.85M32.4 48.6h0.85M33.0 47.8h0.85M29.3 47.5h0.85M25.0 48.2h0.85M28.1 46.8h0.85M38.4 48.2h0.85M24.5 49.1h0.85M28.9 48.8h0.85M30.0 47.6h0.85M29.2 51.2h0.85M31.6 46.9h0.85M26.8 51.3h0.85M32.2 48.5h0.85M31.9 49.3h0.85M36.1 49.0h0.85M29.9 48.6h0.85M37.1 49.5h0.85M23.0 47.5h0.85M31.0 47.5h0.85M26.7 47.1h0.85M27.4 49.0h0.85M35.0 48.4h0.85M41.4 48.3h0.85M48.2 49.8h0.85M32.0 47.7h0.85M30.1 51.1h0.85M27.5 49.4h0.85M26.9 49.4h0.85M29.5 46.8h0.85M34.7 49.4h0.85M32.6 49.8h0.85M35.6 48.4h0.85M37.1 49.4h0.85M29.6 47.8h0.85M29.2 48.4h0.85M27.0 47.4h0.85M42.0 48.7h0.85M25.4 46.6h0.85M24.6 49.4h0.85M33.6 48.1h0.85M29.3 48.0h0.85M22.4 50.2h0.85M31.2 51.9h0.85M24.5 48.2h0.85M34.3 48.1h0.85M29.6 48.9h0.85M28.4 49.8h0.85M35.0 48.9h0.85M29.2 48.0h0.85M32.3 49.7h0.85M29.4 49.0h0.85M27.1 46.4h0.85M23.0 49.5h0.85M31.7 50.6h0.85M29.3 49.6h0.85M36.9 49.8h0.85M25.3 48.1h0.85M29.8 47.0h0.85M31.8 49.8h0.85M26.1 51.2h0.85M27.3 48.1h0.85M27.6 47.4h0.85M31.5 48.4h0.85M39.0 49.3h0.85M32.2 48.1h0.85M23.9 49.7h0.85M28.8 50.7h0.85M33.4 49.6h0.85M30.4 48.7h0.85M32.9 49.7h0.85M24.7 49.1h0.85M44.7 48.3h0.85M27.5 47.4h0.85M29.4 48.8h0.85M40.1 51.9h0.85M23.7 49.9h0.85M32.7 49.0h0.85M31.9 48.4h0.85M38.5 49.3h0.85M31.1 50.1h0.85M34.4 49.0h0.85M31.0 50.9h0.85M32.1 48.3h0.85M23.9 47.9h0.85M22.7 48.6h0.85M30.6 45.5h0.85M29.1 49.3h0.85M30.0 47.1h0.85M36.6 47.4h0.85M28.9 49.8h0.85M36.0 48.7h0.85M23.6 48.2h0.85M32.9 48.2h0.85M31.8 47.1h0.85M35.9 49.8h0.85M26.3 50.1h0.85M27.1 50.5h0.85M31.9 47.8h0.85M33.8 47.3h0.85M23.4 46.4h0.85M30.6 48.3h0.85M28.5 47.8h0.85M37.6 47.8h0.85M24.7 50.1h0.85M37.5 48.9h0.85M32.7 48.4h0.85M38.3 46.5h0.85M33.1 47.5h0.85M36.9 48.3h0.85M35.2 47.5h0.85M25.4 47.0h0.85M36.2 50.3h0.85M30.6 47.0h0.85M28.3 47.4h0.85M37.7 48.8h0.85M31.9 47.8h0.85M22.3 48.9h0.85M29.6 47.3h0.85M26.7 50.6h0.85M23.2 47.1h0.85M27.6 47.4h0.85M26.4 49.1h0.85M39.4 45.9h0.85M28.9 48.5h0.85M28.5 48.1h0.85M27.0 49.8h0.85M26.2 48.2h0.85M29.0 48.6h0.85M28.0 49.8h0.85M28.9 48.6h0.85M28.7 47.0h0.85M24.0 46.9h0.85M30.2 47.4h0.85M22.6 48.7h0.85M32.2 45.9h0.85M39.1 48.4h0.85M28.4 49.9h0.85M29.4 47.6h0.85M42.2 46.9h0.85M28.4 49.6h0.85M22.6 48.3h0.85M31.3 51.8h0.85M23.6 48.3h0.85M33.0 48.5h0.85M29.6 49.0h0.85M35.8 49.8h0.85M31.4 48.8h0.85M22.4 48.2h0.85M30.3 47.8h0.85M29.6 47.2h0.85M38.2 51.4h0.85M26.7 49.0h0.85M27.6 50.2h0.85M31.6 48.5h0.85M27.7 48.6h0.85M23.0 49.3h0.85M24.7 49.1h0.85M29.8 49.9h0.85M28.9 49.8h0.85M23.5 49.3h0.85M27.7 48.7h0.85M29.4 49.7h0.85M25.8 45.9h0.85M27.0 49.3h0.85M27.9 49.7h0.85M26.8 48.4h0.85M26.7 48.9h0.85M40.4 48.9h0.85M30.2 47.5h0.85M24.5 50.4h0.85M22.3 47.1h0.85M28.4 47.8h0.85M40.7 45.1h0.85M31.2 49.4h0.85M22.3 47.5h0.85M31.6 50.7h0.85M23.5 46.2h0.85M34.8 50.5h0.85M27.0 45.3h0.85M37.7 48.1h0.85M35.7 48.3h0.85M26.7 47.8h0.85M37.8 50.4h0.85M39.7 47.9h0.85M28.3 48.3h0.85M26.1 48.0h0.85M26.3 48.9h0.85M24.1 48.0h0.85M28.1 50.2h0.85M31.2 48.2h0.85M32.2 49.0h0.85M35.5 49.1h0.85M39.8 50.3h0.85M28.8 47.8h0.85M34.3 49.1h0.85M28.4 46.3h0.85M33.6 49.5h0.85M25.8 48.9h0.85M31.5 47.3h0.85M25.5 45.5h0.85M23.5 45.9h0.85M31.6 48.5h0.85M34.5 48.9h0.85M25.2 48.9h0.85M26.7 49.3h0.85M30.9 47.0h0.85M29.0 48.5h0.85M27.2 49.7h0.85M39.3 47.9h0.85M26.9 45.3h0.85M28.2 47.8h0.85M32.5 47.4h0.85M26.8 47.0h0.85M33.6 46.3h0.85M27.1 51.1h0.85M29.3 49.1h0.85M28.1 46.8h0.85M28.8 49.0h0.85M22.9 48.9h0.85M36.5 49.9h0.85M32.7 49.4h0.85M23.7 46.8h0.85M29.5 48.5h0.85M23.9 48.6h0.85M32.9 48.7h0.85M22.8 45.4h0.85M27.4 48.6h0.85M27.4 47.8h0.85M24.9 49.4h0.85M28.7 48.6h0.85M23.2 47.5h0.85M30.0 47.0h0.85M36.2 48.7h0.85M37.8 48.2h0.85M27.1 46.5h0.85M25.5 50.4h0.85M31.0 49.4h0.85M33.2 48.4h0.85M27.8 48.6h0.85M33.0 49.0h0.85M32.0 48.6h0.85M24.4 48.0h0.85M23.4 49.8h0.85M43.3 47.9h0.85M22.2 48.4h0.85M36.7 48.2h0.85M32.7 48.5h0.85M26.8 52.8h0.85M29.4 47.6h0.85M26.1 48.9h0.85M31.5 49.5h0.85M29.8 46.4h0.85M32.2 48.0h0.85M27.3 46.3h0.85M25.6 47.4h0.85M28.8 46.4h0.85M29.3 48.6h0.85M22.3 47.5h0.85M23.9 49.7h0.85M34.1 47.5h0.85M29.8 47.2h0.85M40.6 49.7h0.85M35.8 46.5h0.85M22.4 49.9h0.85M27.8 48.0h0.85M31.0 46.6h0.85M33.6 48.4h0.85M31.9 47.5h0.85M32.1 47.4h0.85M34.7 50.0h0.85M34.5 49.1h0.85M32.8 44.6h0.85M34.0 48.0h0.85M29.6 48.0h0.85M33.0 50.4h0.85M25.3 47.1h0.85M37.7 47.2h0.85M41.4 48.5h0.85M23.7 49.8h0.85M39.2 46.4h0.85M38.4 48.0h0.85M37.9 47.9h0.85M34.6 51.3h0.85M39.3 49.4h0.85M27.6 47.7h0.85M27.2 47.2h0.85M27.4 44.8h0.85M30.1 48.4h0.85M44.4 49.5h0.85M26.1 49.2h0.85M32.6 46.8h0.85M28.6 49.7h0.85M32.0 48.9h0.85M23.9 47.5h0.85M29.6 49.7h0.85M24.0 46.8h0.85M35.9 47.1h0.85M35.5 48.7h0.85M34.3 50.8h0.85M33.1 49.5h0.85M23.5 47.4h0.85M32.9 50.5h0.85M37.4 51.6h0.85M30.9 48.7h0.85M35.0 48.4h0.85M28.6 46.9h0.85M34.9 46.9h0.85M32.1 46.4h0.85M35.6 47.0h0.85M34.1 46.2h0.85M26.4 50.0h0.85M24.2 48.5h0.85M26.1 45.2h0.85M30.8 49.0h0.85M22.4 49.2h0.85M24.2 47.0h0.85M29.0 47.4h0.85M42.8 46.2h0.85M33.4 49.8h0.85M32.4 47.7h0.85M31.3 50.0h0.85M26.8 46.9h0.85M23.4 48.8h0.85M30.4 46.5h0.85M39.3 49.9h0.85M34.1 46.7h0.85M26.6 47.6h0.85M26.5 46.8h0.85M31.6 48.7h0.85M31.2 47.7h0.85M36.7 48.7h0.85M28.7 49.8h0.85M27.2 48.0h0.85M25.0 49.3h0.85M26.3 47.6h0.85M24.5 49.2h0.85M25.8 46.1h0.85M32.7 47.4h0.85M31.1 48.9h0.85M36.2 49.9h0.85M25.5 48.2h0.85M40.0 53.5h0.85M33.1 42.4h0.85M49.8 49.3h0.85M37.2 49.2h0.85M41.8 50.7h0.85M31.2 47.5h0.85M51.5 51.9h0.85M33.0 43.1h0.85M37.5 50.7h0.85M35.3 45.0h0.85M28.9 45.0h0.85M37.9 51.6h0.85M45.2 46.7h0.85M38.1 50.8h0.85M31.4 48.5h0.85M55.1 49.7h0.85M43.9 47.6h0.85M36.4 43.5h0.85M35.8 52.8h0.85M54.9 52.8h0.85M42.2 49.2h0.85M30.6 48.5h0.85M41.5 46.5h0.85M44.4 45.9h0.85M46.2 48.4h0.85M38.0 52.7h0.85M47.3 47.4h0.85M48.0 50.2h0.85M36.0 50.4h0.85M23.2 46.5h0.85M35.0 51.0h0.85M32.7 48.6h0.85M44.7 53.5h0.85M42.9 53.1h0.85M32.4 48.0h0.85M38.9 48.0h0.85M31.4 54.3h0.85M34.2 45.9h0.85M40.4 54.9h0.85M36.7 52.9h0.85M32.1 47.4h0.85M29.8 48.5h0.85M52.5 45.3h0.85M50.7 45.8h0.85M33.9 51.7h0.85M41.7 49.9h0.85M26.8 57.2h0.85M34.1 49.6h0.85M25.7 47.5h0.85M24.4 52.1h0.85M33.6 50.8h0.85M29.8 47.4h0.85M47.6 45.9h0.85M25.7 47.6h0.85M44.2 46.4h0.85M43.9 46.8h0.85M49.4 53.2h0.85M31.8 48.3h0.85M28.5 49.6h0.85M46.3 44.4h0.85M44.3 44.8h0.85M28.3 43.3h0.85M54.9 49.2h0.85M38.2 46.8h0.85M45.6 42.3h0.85M36.2 56.1h0.85M32.6 49.1h0.85M42.1 46.4h0.85M36.2 52.1h0.85M37.7 50.2h0.85M32.9 50.0h0.85M36.5 53.7h0.85M42.5 48.2h0.85M42.8 46.1h0.85M44.3 45.6h0.85M31.9 49.7h0.85M47.0 48.9h0.85M35.1 47.2h0.85M50.7 52.4h0.85M35.1 44.5h0.85M28.9 50.9h0.85M29.5 51.9h0.85M39.3 49.9h0.85M41.9 50.6h0.85M28.3 48.0h0.85M57.1 45.1h0.85M31.7 52.4h0.85M34.6 46.4h0.85M24.1 50.7h0.85M45.2 53.5h0.85M36.5 52.3h0.85M26.7 49.5h0.85M29.9 49.6h0.85M42.8 52.4h0.85M27.1 53.1h0.85M31.7 45.7h0.85M34.5 44.3h0.85M36.0 49.9h0.85M34.2 50.7h0.85M33.2 49.0h0.85M23.0 49.1h0.85M28.3 47.6h0.85M35.2 49.6h0.85M33.3 50.5h0.85M39.2 51.9h0.85M47.7 50.6h0.85M35.8 45.7h0.85M27.5 47.5h0.85M38.4 49.7h0.85M36.0 48.5h0.85M41.7 49.7h0.85M38.7 50.0h0.85M31.1 45.7h0.85M40.4 50.3h0.85M34.0 47.7h0.85M56.5 46.6h0.85M34.0 49.8h0.85M25.6 49.4h0.85M52.2 52.0h0.85M41.7 50.9h0.85M37.0 52.1h0.85M34.6 47.6h0.85M36.9 51.9h0.85M39.0 51.2h0.85M57.1 53.3h0.85M33.1 46.3h0.85M38.5 45.8h0.85M42.5 47.3h0.85M44.6 53.4h0.85M29.7 44.5h0.85M30.4 48.3h0.85M45.3 44.1h0.85M45.5 55.5h0.85M41.4 50.7h0.85M35.9 45.2h0.85M40.8 50.2h0.85M42.6 57.2h0.85M42.6 50.4h0.85M50.1 44.7h0.85M25.7 47.8h0.85M30.1 51.2h0.85M33.1 54.6h0.85M49.7 51.5h0.85M32.5 51.0h0.85M43.3 45.6h0.85M39.1 51.3h0.85M37.9 54.0h0.85M46.9 46.4h0.85M37.1 46.3h0.85M41.2 46.2h0.85M44.3 50.2h0.85M44.7 48.5h0.85M22.9 54.7h0.85M34.4 53.4h0.85M39.9 51.2h0.85M52.5 50.1h0.85M48.6 44.3h0.85M43.8 48.2h0.85M34.8 49.0h0.85M39.1 54.3h0.85M29.6 52.7h0.85M32.2 50.5h0.85M32.4 51.1h0.85M45.1 47.7h0.85M36.4 44.5h0.85M38.7 51.7h0.85M31.0 52.6h0.85M23.5 47.4h0.85M36.2 48.7h0.85M35.4 51.3h0.85M31.8 45.0h0.85M24.8 55.8h0.85M49.1 50.5h0.85M28.5 49.0h0.85M43.8 52.9h0.85M27.9 51.4h0.85M38.3 52.5h0.85M48.5 47.9h0.85M23.0 50.3h0.85M52.0 51.2h0.85M38.1 56.7h0.85M26.6 51.9h0.85M30.9 49.2h0.85M36.8 53.8h0.85M27.6 47.3h0.85M31.9 50.4h0.85M26.3 47.8h0.85M45.4 48.4h0.85M41.6 50.7h0.85M32.8 44.0h0.85M44.9 49.5h0.85M44.8 42.6h0.85M28.1 52.3h0.85M41.1 48.9h0.85M37.2 51.4h0.85M33.3 50.3h0.85M37.3 42.0h0.85M32.5 53.3h0.85M32.4 48.5h0.85M30.5 47.4h0.85M46.1 48.1h0.85M26.8 39.0h0.85M30.8 42.7h0.85M42.4 42.9h0.85M43.7 50.5h0.85M28.9 51.4h0.85M23.0 45.4h0.85M43.9 44.7h0.85M25.6 46.0h0.85M37.8 47.9h0.85M43.8 46.7h0.85M24.4 47.4h0.85M36.3 46.0h0.85M38.5 54.8h0.85M30.7 49.1h0.85M48.1 46.9h0.85M28.3 45.5h0.85M39.5 50.6h0.85M34.5 49.1h0.85M47.3 51.7h0.85M23.2 48.9h0.85M36.8 51.2h0.85M33.8 46.9h0.85M31.7 43.2h0.85M35.5 47.0h0.85M39.9 45.6h0.85M31.8 45.8h0.85M26.1 51.1h0.85M31.5 50.3h0.85M25.6 49.2h0.85M31.1 50.7h0.85M37.3 48.3h0.85M43.2 49.5h0.85M40.5 51.3h0.85M35.0 47.9h0.85M38.6 47.5h0.85M39.1 52.4h0.85M43.3 47.6h0.85M24.0 48.7h0.85M34.5 52.4h0.85M32.1 48.2h0.85M42.2 47.3h0.85M34.2 54.3h0.85M49.0 50.9h0.85M38.0 45.8h0.85M40.6 49.0h0.85M37.6 47.2h0.85M35.5 48.3h0.85M38.4 53.4h0.85M38.8 43.6h0.85M26.9 43.8h0.85M28.4 50.6h0.85M39.2 46.9h0.85M38.0 46.4h0.85M22.8 44.4h0.85M27.9 53.4h0.85M23.5 52.8h0.85M47.5 48.3h0.85M35.1 46.9h0.85M35.3 50.9h0.85M35.6 52.0h0.85M46.2 49.9h0.85M38.5 48.6h0.85M38.7 45.3h0.85M39.2 49.5h0.85M27.8 55.7h0.85M26.8 46.1h0.85M38.0 42.6h0.85M28.4 44.0h0.85M26.8 48.4h0.85M38.4 52.4h0.85M42.8 52.6h0.85M40.8 47.3h0.85M45.5 47.3h0.85M30.0 53.7h0.85M42.6 49.5h0.85M42.3 51.6h0.85M23.3 48.5h0.85M24.9 49.2h0.85M29.5 53.2h0.85M40.2 46.2h0.85M35.3 45.0h0.85M58.4 52.4h0.85M59.6 46.4h0.85M56.5 52.1h0.85M59.8 54.0h0.85M51.5 51.7h0.85M54.8 51.2h0.85M60.3 52.9h0.85M55.2 51.2h0.85M52.1 47.0h0.85M61.1 51.2h0.85M49.8 48.1h0.85M58.3 54.8h0.85M63.6 53.5h0.85M48.9 49.9h0.85M60.7 52.2h0.85M60.4 50.7h0.85M67.3 55.5h0.85M57.7 48.6h0.85M68.9 50.7h0.85M64.4 56.3h0.85M53.3 51.3h0.85M56.4 52.1h0.85M59.9 56.0h0.85M61.3 51.3h0.85M64.0 50.9h0.85M56.3 56.3h0.85M53.9 49.4h0.85M58.4 48.5h0.85M47.2 52.6h0.85M54.1 49.3h0.85M56.3 48.4h0.85M52.6 50.9h0.85M70.7 54.0h0.85M62.1 47.7h0.85M58.1 48.1h0.85M62.2 50.9h0.85M58.4 50.8h0.85M55.2 47.0h0.85M61.2 47.9h0.85M52.1 49.7h0.85M54.5 51.3h0.85M63.4 52.1h0.85M59.2 51.2h0.85M62.7 46.9h0.85M60.1 48.9h0.85M51.8 50.4h0.85M56.2 52.3h0.85M63.9 45.9h0.85M57.8 55.8h0.85M62.7 55.0h0.85M58.7 47.6h0.85M52.3 52.2h0.85M63.2 49.7h0.85M56.8 51.5h0.85M49.1 49.3h0.85M66.6 57.2h0.85M57.6 55.5h0.85M55.5 48.8h0.85M46.6 52.3h0.85M56.2 56.6h0.85M59.9 51.7h0.85M48.8 53.8h0.85M56.3 50.5h0.85M46.7 52.2h0.85M63.3 50.0h0.85M58.7 52.0h0.85M63.2 51.8h0.85M67.2 51.3h0.85M55.1 49.6h0.85M45.0 47.8h0.85M63.4 52.2h0.85M54.0 51.5h0.85M47.7 49.3h0.85M60.9 53.0h0.85M54.2 52.9h0.85M67.9 50.9h0.85M62.1 47.6h0.85M48.0 51.6h0.85M58.4 51.6h0.85M55.2 50.0h0.85M62.4 55.7h0.85M57.1 46.9h0.85M64.9 53.2h0.85M61.8 51.8h0.85M70.3 52.4h0.85M60.9 46.8h0.85M55.2 49.1h0.85M58.1 51.9h0.85M54.3 54.9h0.85M52.7 49.4h0.85M59.5 48.1h0.85M61.2 52.9h0.85M56.7 55.6h0.85M58.7 51.8h0.85M53.2 46.5h0.85M55.0 49.9h0.85M55.9 52.7h0.85M45.8 47.1h0.85M48.7 53.4h0.85M55.3 49.5h0.85M52.5 52.7h0.85M56.1 51.4h0.85M47.6 52.9h0.85M60.3 52.6h0.85M64.7 51.2h0.85M57.4 52.7h0.85M60.5 50.7h0.85M58.5 49.8h0.85M62.0 53.7h0.85M58.3 55.7h0.85M50.2 49.7h0.85M67.2 50.9h0.85M49.9 53.7h0.85M61.1 48.4h0.85M62.3 48.9h0.85M51.3 50.0h0.85M55.7 48.1h0.85M56.3 48.4h0.85M58.6 51.0h0.85M62.1 50.3h0.85M51.3 47.2h0.85M57.0 54.7h0.85M62.7 49.9h0.85M63.2 48.7h0.85M63.5 50.6h0.85M62.3 53.0h0.85M56.8 51.7h0.85M52.7 50.3h0.85M63.9 61.7h0.85M61.9 51.6h0.85M53.0 53.2h0.85M49.6 48.3h0.85M60.1 48.3h0.85M66.3 54.5h0.85M55.3 49.4h0.85M51.4 47.0h0.85M60.6 52.8h0.85M60.1 51.9h0.85M55.3 51.7h0.85M50.6 50.3h0.85M65.9 55.1h0.85M55.8 50.0h0.85M65.4 56.1h0.85M50.5 49.3h0.85M59.5 54.2h0.85M53.9 52.2h0.85M56.7 56.8h0.85M60.5 51.0h0.85M56.5 53.5h0.85M61.8 48.7h0.85M59.4 47.9h0.85M54.3 47.5h0.85M51.3 48.7h0.85M53.1 51.9h0.85M62.4 50.9h0.85M52.4 52.5h0.85M47.7 45.3h0.85M62.1 53.0h0.85M63.4 51.0h0.85M51.7 49.2h0.85M61.2 49.5h0.85M54.6 47.3h0.85M52.2 52.6h0.85M60.6 48.4h0.85M52.6 49.1h0.85M61.1 48.5h0.85M57.4 45.7h0.85M51.7 51.5h0.85M63.0 48.7h0.85M54.2 52.6h0.85M56.2 49.5h0.85M61.0 51.8h0.85M64.1 53.6h0.85M55.3 50.5h0.85M58.0 47.7h0.85M53.2 53.0h0.85M50.0 52.7h0.85M59.8 50.9h0.85M61.1 52.5h0.85M64.6 50.7h0.85M57.1 50.4h0.85M68.1 54.3h0.85M53.5 49.8h0.85M54.6 50.8h0.85M59.4 56.8h0.85M48.8 52.7h0.85M60.6 49.6h0.85M57.5 49.8h0.85M58.6 53.6h0.85M50.4 53.5h0.85M56.3 54.6h0.85M60.4 54.3h0.85M61.3 54.0h0.85M58.6 49.1h0.85M61.8 53.2h0.85M69.3 47.2h0.85M57.3 53.6h0.85M51.8 49.9h0.85M69.4 55.6h0.85M53.7 54.2h0.85M64.5 53.6h0.85M60.3 51.9h0.85M53.8 49.4h0.85M62.2 51.8h0.85M68.0 51.2h0.85M45.8 49.1h0.85M59.8 52.2h0.85M58.7 49.1h0.85M66.1 50.2h0.85M62.1 50.8h0.85M52.1 54.0h0.85M45.3 47.8h0.85M60.6 50.5h0.85M62.3 51.3h0.85M56.0 56.2h0.85M57.2 50.6h0.85M52.7 48.8h0.85M61.8 52.8h0.85M58.4 49.4h0.85M62.0 47.3h0.85M56.6 50.4h0.85M54.0 51.1h0.85M54.9 48.8h0.85M67.8 53.9h0.85M64.7 51.9h0.85M63.4 53.6h0.85M64.7 57.6h0.85M57.3 51.7h0.85M58.2 42.5h0.85M51.2 50.5h0.85M61.7 50.1h0.85M64.4 54.9h0.85M56.3 54.5h0.85M67.6 53.2h0.85M53.4 54.3h0.85M57.6 50.2h0.85M59.1 49.9h0.85M64.1 53.6h0.85M64.8 53.2h0.85M54.4 50.4h0.85M63.1 50.6h0.85M73.7 52.1h0.85M55.5 53.7h0.85M62.4 51.5h0.85M57.3 52.1h0.85M62.8 53.5h0.85M56.9 52.1h0.85M62.9 53.5h0.85M42.5 47.5h0.85M54.5 50.2h0.85M59.4 53.5h0.85M61.7 51.2h0.85M58.6 55.5h0.85M55.3 51.6h0.85M66.6 52.8h0.85M47.9 51.1h0.85M56.5 50.7h0.85M64.0 52.9h0.85M57.1 53.3h0.85M60.8 51.7h0.85M60.1 52.0h0.85M56.7 49.9h0.85M58.6 48.9h0.85M52.0 53.8h0.85M57.3 51.0h0.85M57.8 51.2h0.85M58.6 51.4h0.85M54.3 53.1h0.85M54.9 53.4h0.85M48.5 47.6h0.85M63.7 51.3h0.85M55.0 51.8h0.85M53.1 50.9h0.85M47.0 49.0h0.85M55.1 52.2h0.85M63.1 49.5h0.85M66.9 50.6h0.85M47.8 44.3h0.85M66.5 51.8h0.85M55.1 49.0h0.85M52.8 54.0h0.85M58.1 55.5h0.85M57.5 45.3h0.85M62.9 50.7h0.85M57.3 54.9h0.85M57.1 53.9h0.85M58.5 49.4h0.85M61.1 50.0h0.85M64.9 54.2h0.85M58.8 52.7h0.85M61.4 50.8h0.85M63.2 51.1h0.85M61.7 49.2h0.85M59.0 52.3h0.85M54.4 49.8h0.85M55.7 52.7h0.85M54.8 51.9h0.85M66.4 52.8h0.85M50.1 50.7h0.85M63.9 51.0h0.85M64.3 53.3h0.85M60.7 50.8h0.85M55.9 50.3h0.85M58.9 52.5h0.85M60.7 50.7h0.85M58.9 52.2h0.85M50.1 48.5h0.85M54.4 50.3h0.85M57.1 50.5h0.85M54.0 52.5h0.85M60.0 47.4h0.85M58.6 48.5h0.85M67.4 51.0h0.85M56.5 51.3h0.85M57.5 51.0h0.85M66.6 52.6h0.85M62.9 54.4h0.85M53.5 54.9h0.85M62.2 53.9h0.85M54.1 52.8h0.85M60.7 50.1h0.85M70.5 53.8h0.85M57.3 51.6h0.85M63.3 54.5h0.85M61.6 54.5h0.85M66.2 49.0h0.85M56.1 48.7h0.85M59.1 54.8h0.85M62.0 49.0h0.85M57.1 53.6h0.85M62.9 52.3h0.85M67.9 47.1h0.85M70.8 53.6h0.85M69.5 49.6h0.85M61.5 50.8h0.85M67.6 52.8h0.85M66.9 57.9h0.85M74.0 50.4h0.85M62.2 57.7h0.85M64.2 56.7h0.85M75.7 50.9h0.85M64.5 52.8h0.85M60.9 49.6h0.85M63.7 55.1h0.85M63.4 51.9h0.85M63.3 48.5h0.85M75.0 45.5h0.85M62.2 54.2h0.85M57.7 54.4h0.85M73.6 50.0h0.85M67.4 49.2h0.85M69.2 52.8h0.85M67.4 56.7h0.85M68.9 56.6h0.85M69.9 49.0h0.85M67.7 54.0h0.85M57.4 56.6h0.85M66.5 53.7h0.85M60.7 52.8h0.85M67.9 51.6h0.85M66.6 46.2h0.85M74.3 49.2h0.85M53.0 49.7h0.85M61.1 54.2h0.85M60.6 53.4h0.85M60.4 59.2h0.85M69.4 58.4h0.85M60.0 54.5h0.85M60.4 54.3h0.85M70.2 47.8h0.85M59.3 49.1h0.85M57.1 50.4h0.85M60.3 48.2h0.85M66.7 54.2h0.85M58.2 50.9h0.85M66.1 51.8h0.85M61.9 55.0h0.85M71.2 54.6h0.85M64.8 58.5h0.85M76.5 51.3h0.85M65.3 56.1h0.85M61.3 53.7h0.85M66.3 50.4h0.85M64.7 47.8h0.85M62.8 46.5h0.85M79.7 57.0h0.85M73.4 53.4h0.85M72.0 56.3h0.85M72.1 55.3h0.85M60.6 53.8h0.85M62.8 49.0h0.85M59.2 53.8h0.85M72.4 48.4h0.85M76.5 56.9h0.85M63.7 51.1h0.85M65.6 55.5h0.85M63.7 49.2h0.85M68.1 46.3h0.85M66.9 56.0h0.85M67.8 54.8h0.85M69.0 54.7h0.85M66.9 50.0h0.85M64.7 52.3h0.85M73.6 57.4h0.85M68.5 50.2h0.85M61.6 51.9h0.85M74.3 53.5h0.85M65.7 50.2h0.85M71.3 53.4h0.85M65.7 52.8h0.85M76.1 52.0h0.85M76.1 56.2h0.85M66.3 55.2h0.85M65.3 50.0h0.85M64.4 49.8h0.85M69.1 52.5h0.85M69.4 55.0h0.85M47.3 53.4h0.85M55.2 53.0h0.85M60.7 52.8h0.85M34.3 93.3h0.85M28.5 101.1h0.85M27.7 99.1h0.85M25.5 92.9h0.85M22.8 99.7h0.85M25.6 101.1h0.85M22.3 104.1h0.85M25.1 95.0h0.85M23.4 99.7h0.85M31.7 103.8h0.85M25.8 101.6h0.85M24.4 103.7h0.85M31.1 96.9h0.85M28.4 102.3h0.85M25.2 104.2h0.85M26.5 102.4h0.85M39.3 96.2h0.85M28.6 105.8h0.85M28.3 104.6h0.85M28.4 105.1h0.85M33.9 100.4h0.85M28.5 101.2h0.85M25.5 101.4h0.85M33.9 96.9h0.85M35.1 98.1h0.85M22.1 105.5h0.85M28.9 100.8h0.85M23.1 103.5h0.85M25.2 106.5h0.85M33.6 94.9h0.85M25.0 100.0h0.85M27.9 100.5h0.85M30.1 95.7h0.85M34.1 93.7h0.85M25.2 104.2h0.85M26.7 93.3h0.85M30.0 104.9h0.85M26.3 99.9h0.85M28.3 104.1h0.85M27.3 99.7h0.85M22.9 102.7h0.85M26.0 100.3h0.85M32.1 103.8h0.85M31.9 93.9h0.85M30.3 98.7h0.85M23.5 97.4h0.85M33.6 105.5h0.85M23.9 96.0h0.85M27.6 99.3h0.85M35.8 94.5h0.85M27.6 102.1h0.85M25.8 98.9h0.85M31.8 100.2h0.85M33.4 101.6h0.85M35.1 103.1h0.85M22.2 98.4h0.85M28.8 105.7h0.85M37.3 101.2h0.85M26.3 96.2h0.85M32.4 103.4h0.85M24.5 104.8h0.85M30.3 92.5h0.85M31.2 102.2h0.85M25.5 99.5h0.85M36.6 96.0h0.85M24.2 105.8h0.85M32.8 103.7h0.85M28.6 99.5h0.85M25.5 104.5h0.85M25.0 97.3h0.85M34.0 100.8h0.85M30.3 99.5h0.85M29.0 103.5h0.85M28.0 95.7h0.85M31.9 94.5h0.85M25.2 97.7h0.85M25.6 105.6h0.85M24.3 104.2h0.85M31.0 93.3h0.85M24.5 103.0h0.85M31.2 100.7h0.85M24.8 104.2h0.85M27.1 105.0h0.85M30.0 94.2h0.85M31.2 95.7h0.85M28.0 97.1h0.85M25.3 102.3h0.85M27.0 99.7h0.85M38.3 101.5h0.85M22.7 106.0h0.85M36.4 97.0h0.85M27.5 102.7h0.85M36.4 92.9h0.85M24.8 102.9h0.85M31.8 95.2h0.85M34.1 104.1h0.85M29.4 100.0h0.85M26.4 96.8h0.85M28.7 100.0h0.85M26.0 101.1h0.85M31.4 102.6h0.85M29.9 99.3h0.85M33.2 105.2h0.85M22.5 103.0h0.85M27.2 105.8h0.85M24.1 94.5h0.85M30.3 102.7h0.85M30.1 101.4h0.85M29.1 99.0h0.85M29.9 105.5h0.85M27.2 105.4h0.85M28.8 101.0h0.85M31.4 94.4h0.85M30.3 103.9h0.85M29.7 96.1h0.85M30.2 94.3h0.85M34.9 102.1h0.85M33.3 98.4h0.85M38.5 96.7h0.85M27.2 101.4h0.85M22.1 103.1h0.85M22.0 96.9h0.85M25.3 95.6h0.85M35.4 95.1h0.85M23.7 100.0h0.85M27.5 105.3h0.85M31.6 100.0h0.85M25.6 101.7h0.85M31.6 104.8h0.85M24.9 91.6h0.85M38.2 106.1h0.85M28.8 103.1h0.85M24.9 96.7h0.85M25.8 100.4h0.85M24.4 94.5h0.85M25.9 104.3h0.85M25.0 101.6h0.85M26.9 95.6h0.85M23.5 103.8h0.85M25.4 104.5h0.85M25.8 94.3h0.85M27.1 99.9h0.85M30.8 99.3h0.85M25.5 105.6h0.85M33.3 105.1h0.85M32.7 103.7h0.85M31.4 105.7h0.85M29.5 101.8h0.85M27.6 100.4h0.85M25.7 101.3h0.85M28.7 96.1h0.85M35.9 103.3h0.85M24.7 95.9h0.85M23.5 101.7h0.85M27.4 104.6h0.85M25.8 102.0h0.85M23.8 99.3h0.85M35.2 102.3h0.85M29.3 96.8h0.85M34.7 97.8h0.85M31.5 102.0h0.85M22.7 106.4h0.85M27.6 102.4h0.85M29.8 101.4h0.85M25.6 103.7h0.85M25.5 101.8h0.85M24.2 94.3h0.85M24.1 99.1h0.85M25.0 90.7h0.85M27.9 101.0h0.85M26.7 97.4h0.85M35.9 104.4h0.85M28.3 104.6h0.85M28.7 96.6h0.85M32.4 102.3h0.85M22.5 97.8h0.85M32.3 99.7h0.85M27.7 104.6h0.85M28.1 94.2h0.85M30.7 106.0h0.85M29.3 105.2h0.85M35.4 100.1h0.85M31.8 97.3h0.85M33.2 103.1h0.85M29.6 102.2h0.85M34.3 104.2h0.85M24.0 103.8h0.85M31.1 98.0h0.85M25.3 99.7h0.85M24.5 103.2h0.85M33.5 106.4h0.85M25.6 104.8h0.85M29.1 100.9h0.85M25.2 99.1h0.85M26.2 95.6h0.85M30.1 101.4h0.85M28.0 103.1h0.85M31.1 98.7h0.85M27.0 93.8h0.85M35.2 92.7h0.85M36.7 106.0h0.85M39.4 104.5h0.85M23.9 104.0h0.85M25.3 95.3h0.85M24.8 101.4h0.85M24.2 102.2h0.85M26.3 99.6h0.85M23.8 103.0h0.85M37.9 106.6h0.85M36.7 103.9h0.85M27.1 95.2h0.85M27.6 91.3h0.85M25.7 95.0h0.85M25.2 99.7h0.85M23.9 99.9h0.85M26.9 99.9h0.85M29.4 103.5h0.85M22.5 100.3h0.85M25.4 98.8h0.85M22.3 93.1h0.85M36.3 102.9h0.85M27.1 104.3h0.85M30.2 103.2h0.85M26.4 103.0h0.85M33.5 91.7h0.85M27.0 99.6h0.85M26.2 92.2h0.85M31.3 97.6h0.85M26.5 99.2h0.85M26.1 101.6h0.85M27.9 101.0h0.85M38.4 103.7h0.85M24.4 100.8h0.85M24.6 97.6h0.85M35.9 101.9h0.85M26.0 100.4h0.85M27.8 93.4h0.85M30.6 98.8h0.85M31.3 96.6h0.85M40.3 96.1h0.85M27.3 94.7h0.85M34.3 103.8h0.85M32.1 102.1h0.85M27.3 102.5h0.85M32.3 99.8h0.85M27.6 103.1h0.85M35.6 103.8h0.85M27.9 99.3h0.85M28.1 100.5h0.85M28.1 105.3h0.85M29.9 103.0h0.85M31.0 102.6h0.85M27.6 104.0h0.85M27.9 97.2h0.85M33.1 102.6h0.85M28.3 102.1h0.85M32.8 105.7h0.85M28.9 94.3h0.85M25.7 102.3h0.85M36.7 103.6h0.85M27.2 101.6h0.85M28.6 94.6h0.85M32.6 103.8h0.85M26.4 96.3h0.85M24.6 96.7h0.85M29.9 94.1h0.85M24.3 100.4h0.85M25.0 103.4h0.85M26.7 98.9h0.85M25.5 104.8h0.85M32.6 106.1h0.85M31.3 85.9h0.85M22.8 100.3h0.85M28.8 94.0h0.85M34.9 103.2h0.85M24.7 102.6h0.85M26.1 98.1h0.85M30.3 99.6h0.85M27.2 96.6h0.85M34.1 96.6h0.85M36.6 106.1h0.85M23.1 102.4h0.85M33.7 100.9h0.85M37.8 94.7h0.85M30.6 101.9h0.85M27.2 99.9h0.85M26.2 106.8h0.85M30.8 97.0h0.85M35.6 95.6h0.85M31.2 102.7h0.85M33.8 103.5h0.85M33.1 101.7h0.85M32.7 103.5h0.85M38.6 98.5h0.85M33.8 104.1h0.85M28.7 99.1h0.85M30.1 94.8h0.85M26.5 103.1h0.85M28.2 103.9h0.85M26.5 100.1h0.85M27.2 106.9h0.85M29.7 100.9h0.85M32.1 99.9h0.85M29.4 93.5h0.85M25.5 99.9h0.85M30.5 97.7h0.85M25.7 97.2h0.85M27.7 102.2h0.85M32.8 105.7h0.85M28.7 103.0h0.85M28.4 102.4h0.85M35.6 89.9h0.85M27.0 103.4h0.85M33.5 96.6h0.85M29.6 106.0h0.85M25.7 92.7h0.85M26.1 96.1h0.85M31.1 97.8h0.85M36.8 102.5h0.85M23.9 99.4h0.85M22.4 103.7h0.85M35.3 100.8h0.85M32.5 97.3h0.85M33.8 92.8h0.85M32.7 99.8h0.85M27.0 105.3h0.85M28.5 103.0h0.85M26.2 98.0h0.85M31.1 104.0h0.85M31.8 97.7h0.85M29.6 100.0h0.85M37.5 101.4h0.85M22.0 96.5h0.85M23.3 102.5h0.85M27.8 106.5h0.85M28.7 102.4h0.85M29.5 101.2h0.85M29.3 105.6h0.85M31.8 99.2h0.85M29.2 89.9h0.85M25.4 104.0h0.85M25.0 96.4h0.85M34.3 96.4h0.85M41.2 97.3h0.85M26.5 96.5h0.85M28.2 95.5h0.85M28.8 100.5h0.85M35.5 97.5h0.85M32.6 100.3h0.85M28.8 101.9h0.85M28.4 101.5h0.85M23.8 99.0h0.85M30.0 101.2h0.85M21.9 98.3h0.85M24.3 101.5h0.85M28.6 102.2h0.85M24.5 101.8h0.85M27.4 93.8h0.85M23.0 95.9h0.85M30.8 95.9h0.85M29.1 99.3h0.85M30.0 103.5h0.85M29.0 103.0h0.85M27.0 102.1h0.85M25.9 97.3h0.85M37.6 92.7h0.85M28.9 103.7h0.85M28.3 97.0h0.85M26.6 99.4h0.85M22.2 101.3h0.85M25.5 98.9h0.85M31.0 96.4h0.85M29.7 98.6h0.85M29.7 101.8h0.85M28.7 96.8h0.85M23.6 97.4h0.85M28.4 105.1h0.85M32.9 99.1h0.85M27.9 93.7h0.85M24.1 94.0h0.85M23.4 93.4h0.85M39.0 102.3h0.85M25.8 104.7h0.85M26.7 97.7h0.85M34.4 93.7h0.85M23.7 102.5h0.85M30.2 106.2h0.85M25.0 102.2h0.85M31.6 99.8h0.85M25.9 99.1h0.85M24.1 95.9h0.85M24.6 93.9h0.85M29.2 93.7h0.85M32.8 100.3h0.85M28.2 104.0h0.85M23.7 106.4h0.85M23.3 101.8h0.85M29.8 99.1h0.85M25.0 105.0h0.85M29.8 93.9h0.85M21.9 98.2h0.85M30.2 99.7h0.85M29.6 97.1h0.85M28.7 106.4h0.85M28.9 90.8h0.85M30.5 101.5h0.85M27.0 94.9h0.85M27.7 102.8h0.85M29.9 106.3h0.85M22.8 103.6h0.85M30.9 99.9h0.85M22.6 96.7h0.85M31.0 105.1h0.85M23.1 94.8h0.85M33.4 93.8h0.85M28.0 97.4h0.85M38.5 100.3h0.85M32.3 106.2h0.85M24.6 97.1h0.85M35.2 99.5h0.85M27.1 99.8h0.85M26.6 98.3h0.85M25.4 94.6h0.85M27.5 94.1h0.85M38.8 103.0h0.85M21.9 105.0h0.85M34.8 104.8h0.85M31.5 101.0h0.85M24.3 103.2h0.85M24.4 92.1h0.85M31.2 98.1h0.85M22.2 94.9h0.85M28.5 97.4h0.85M30.3 100.0h0.85M32.6 99.4h0.85M24.0 91.8h0.85M42.4 95.3h0.85M22.1 102.8h0.85M29.6 98.0h0.85M27.6 93.6h0.85M25.7 105.5h0.85M35.4 100.4h0.85M25.9 103.4h0.85M32.7 103.6h0.85M23.5 102.9h0.85M32.0 97.8h0.85M29.0 105.9h0.85M27.7 98.2h0.85M25.1 96.3h0.85M22.5 98.6h0.85M24.8 106.6h0.85M28.5 99.5h0.85M31.3 101.6h0.85M33.0 105.0h0.85M27.9 96.1h0.85M30.8 101.6h0.85M30.6 101.2h0.85M23.8 96.5h0.85M25.8 103.5h0.85M34.2 97.3h0.85M25.6 96.0h0.85M33.1 102.5h0.85M25.0 93.4h0.85M26.4 106.1h0.85M25.8 99.3h0.85M30.5 95.4h0.85M27.6 104.2h0.85M23.4 97.4h0.85M28.5 100.8h0.85M26.1 102.3h0.85M28.4 96.9h0.85M24.0 103.5h0.85M23.1 106.5h0.85M31.1 101.2h0.85M29.7 105.3h0.85M36.2 96.3h0.85M30.3 100.7h0.85M26.3 106.8h0.85M31.4 96.5h0.85M25.9 102.4h0.85M27.0 102.1h0.85M27.5 99.6h0.85M36.0 99.0h0.85M24.7 94.8h0.85M32.7 102.6h0.85M29.7 102.1h0.85M26.7 97.6h0.85M23.5 103.4h0.85M23.6 99.0h0.85M34.5 100.7h0.85M30.9 91.3h0.85M25.4 93.5h0.85M28.2 101.4h0.85M23.6 105.9h0.85M29.1 98.9h0.85M24.8 94.4h0.85M23.9 103.4h0.85M24.7 105.2h0.85M29.5 100.3h0.85M33.3 100.2h0.85M30.5 99.1h0.85M29.0 98.6h0.85M25.5 102.8h0.85M24.4 103.0h0.85M26.4 90.2h0.85M26.7 98.6h0.85M23.2 103.3h0.85M25.0 103.9h0.85M32.8 102.1h0.85M31.9 100.2h0.85M23.4 101.0h0.85M29.9 102.6h0.85M30.6 97.5h0.85M26.0 100.2h0.85M27.3 91.5h0.85M26.2 95.0h0.85M35.7 105.2h0.85M25.0 106.0h0.85M26.4 104.3h0.85M22.9 98.6h0.85M41.0 95.3h0.85M27.3 96.9h0.85M26.7 98.9h0.85M27.1 106.0h0.85M32.1 102.7h0.85M27.4 102.0h0.85M28.0 104.1h0.85M27.4 103.8h0.85M36.1 102.3h0.85M25.8 87.2h0.85M26.3 104.3h0.85M30.5 102.0h0.85M28.3 104.7h0.85M22.4 98.5h0.85M29.8 92.4h0.85M28.7 99.2h0.85M26.9 102.7h0.85M30.6 98.9h0.85M24.3 105.8h0.85M28.8 96.8h0.85M27.1 98.9h0.85M24.7 101.9h0.85M32.7 99.9h0.85M28.1 94.5h0.85M31.5 103.7h0.85M24.8 96.8h0.85M27.0 95.1h0.85M22.3 101.6h0.85M26.7 99.3h0.85M24.5 105.6h0.85M27.9 101.3h0.85M38.3 91.1h0.85M24.1 92.8h0.85M25.9 100.4h0.85M46.3 103.1h0.85M25.3 103.7h0.85M35.7 102.3h0.85M28.5 103.8h0.85M29.1 104.0h0.85M22.9 99.9h0.85M26.8 100.7h0.85M30.9 101.9h0.85M28.3 94.7h0.85M22.2 103.0h0.85M24.2 97.6h0.85M30.6 98.2h0.85M23.2 98.2h0.85M26.2 105.9h0.85M25.6 89.6h0.85M34.0 96.2h0.85M27.1 94.9h0.85M22.0 99.0h0.85M31.7 105.4h0.85M24.4 103.8h0.85M25.5 101.9h0.85M28.1 104.3h0.85M24.3 100.8h0.85M28.5 101.8h0.85M25.1 105.0h0.85M26.3 95.5h0.85M29.9 95.5h0.85M24.0 97.5h0.85M32.3 104.3h0.85M30.5 98.4h0.85M28.4 102.6h0.85M24.9 98.6h0.85M24.0 100.1h0.85M26.9 96.4h0.85M33.9 94.8h0.85M33.7 102.4h0.85M27.1 98.5h0.85M30.0 99.4h0.85M24.0 99.4h0.85M22.1 101.3h0.85M25.4 97.8h0.85M29.3 104.0h0.85M33.3 102.8h0.85M29.9 98.9h0.85M25.4 103.5h0.85M24.9 96.1h0.85M27.3 105.6h0.85M22.2 106.4h0.85M30.8 97.2h0.85M27.4 101.1h0.85M30.5 104.5h0.85M32.4 101.9h0.85M29.4 102.9h0.85M34.9 95.6h0.85M32.7 97.4h0.85M26.0 100.0h0.85M27.5 96.3h0.85M22.6 104.5h0.85M31.5 98.6h0.85M32.8 103.0h0.85M22.2 98.6h0.85M28.5 96.8h0.85M35.2 102.0h0.85M29.3 96.5h0.85M22.8 97.6h0.85M28.7 100.1h0.85M25.9 102.8h0.85M26.4 96.5h0.85M24.6 101.6h0.85M25.6 103.3h0.85M28.6 97.5h0.85M26.2 105.8h0.85M32.7 105.7h0.85M31.6 99.8h0.85M25.5 105.7h0.85M23.9 95.7h0.85M30.2 97.9h0.85M25.5 100.1h0.85M24.9 102.3h0.85M25.7 99.9h0.85M24.5 102.0h0.85M35.0 100.7h0.85M26.7 99.5h0.85M30.1 104.7h0.85M23.9 100.6h0.85M28.4 101.9h0.85M23.1 97.7h0.85M29.9 102.8h0.85M33.6 98.3h0.85M28.5 94.5h0.85M31.4 96.1h0.85M39.0 98.5h0.85M25.8 103.1h0.85M29.1 106.5h0.85M26.7 105.3h0.85M29.7 99.4h0.85M22.3 105.5h0.85M24.0 99.2h0.85M23.1 98.8h0.85M27.1 99.2h0.85M30.6 101.0h0.85M28.9 102.1h0.85M27.3 101.7h0.85M30.2 97.6h0.85M33.0 99.0h0.85M28.1 105.3h0.85M26.5 99.9h0.85M34.8 98.2h0.85M32.6 105.6h0.85M24.6 96.9h0.85M29.4 99.5h0.85M28.7 96.4h0.85M25.8 100.1h0.85M29.5 102.1h0.85M22.8 100.9h0.85M23.0 104.3h0.85M37.7 101.7h0.85M34.5 89.2h0.85M34.5 101.3h0.85M33.2 101.2h0.85M23.7 99.2h0.85M27.2 103.3h0.85M25.0 101.6h0.85M31.7 102.9h0.85M30.0 96.7h0.85M22.2 100.1h0.85M31.3 99.7h0.85M25.6 105.7h0.85M29.7 103.5h0.85M32.0 96.6h0.85M28.4 98.4h0.85M32.4 105.2h0.85M28.4 97.2h0.85M27.2 98.0h0.85M30.1 94.7h0.85M27.3 101.4h0.85M24.3 100.3h0.85M31.8 99.1h0.85M29.1 98.7h0.85M30.5 105.9h0.85M28.5 100.2h0.85M29.1 95.2h0.85M27.8 104.8h0.85M26.8 105.1h0.85M31.1 94.4h0.85M25.9 103.6h0.85M35.7 96.9h0.85M25.5 96.4h0.85M31.4 95.1h0.85M33.2 105.8h0.85M29.8 91.1h0.85M24.0 104.9h0.85M26.8 105.6h0.85M28.7 102.7h0.85M25.2 101.4h0.85M26.7 104.8h0.85M26.5 106.3h0.85M26.5 106.7h0.85M27.8 105.4h0.85M34.7 98.7h0.85M27.7 100.5h0.85M28.4 93.7h0.85M26.5 100.2h0.85M23.5 100.4h0.85M23.0 95.8h0.85M28.7 93.4h0.85M28.5 98.0h0.85M25.7 102.5h0.85M30.5 95.2h0.85M32.2 95.0h0.85M27.8 95.4h0.85M24.6 98.3h0.85M24.5 99.8h0.85M34.4 95.7h0.85M32.9 101.3h0.85M24.9 97.9h0.85M22.8 98.5h0.85M32.1 98.6h0.85M23.7 104.6h0.85M25.7 96.0h0.85M22.4 102.9h0.85M24.0 101.6h0.85M25.7 100.0h0.85M25.4 98.0h0.85M22.4 106.7h0.85M28.2 100.7h0.85M32.1 97.8h0.85M30.3 101.3h0.85M22.8 104.8h0.85M22.8 103.1h0.85M34.0 103.9h0.85M24.2 101.0h0.85M25.3 95.6h0.85M29.8 92.8h0.85M26.8 103.5h0.85M27.7 96.4h0.85M32.2 95.4h0.85M28.6 102.2h0.85M23.3 99.6h0.85M29.7 97.9h0.85M22.5 98.8h0.85M27.0 101.4h0.85M26.5 101.4h0.85M28.5 105.5h0.85M26.8 103.0h0.85M29.0 99.0h0.85M32.9 104.0h0.85M31.8 99.2h0.85M32.1 96.1h0.85M28.9 88.7h0.85M22.1 104.5h0.85M24.8 101.8h0.85M29.9 100.9h0.85M29.0 102.6h0.85M33.9 102.0h0.85M33.3 103.7h0.85M24.9 103.9h0.85M27.6 103.9h0.85M30.3 100.0h0.85M25.5 102.2h0.85M24.3 98.1h0.85M26.6 94.2h0.85M26.5 106.3h0.85M27.6 101.7h0.85M30.3 104.4h0.85M22.3 102.0h0.85M39.5 101.4h0.85M35.1 99.4h0.85M30.0 101.3h0.85M29.0 97.0h0.85M22.5 102.6h0.85M30.1 98.1h0.85M22.7 95.8h0.85M27.7 99.3h0.85M27.7 100.1h0.85M36.0 99.0h0.85M27.0 101.8h0.85M26.9 100.8h0.85M25.0 95.2h0.85M27.6 96.8h0.85M29.0 96.0h0.85M26.4 100.0h0.85M26.8 98.6h0.85M23.1 100.8h0.85M24.2 101.7h0.85M25.7 90.5h0.85M28.5 103.8h0.85M29.2 98.8h0.85M32.1 103.7h0.85M29.1 102.9h0.85M26.9 102.3h0.85M27.1 102.5h0.85M22.4 98.1h0.85M29.8 99.5h0.85M30.5 104.2h0.85M23.8 95.8h0.85M26.0 101.1h0.85M23.3 101.8h0.85M30.3 103.8h0.85M22.0 91.1h0.85M27.0 98.0h0.85M34.9 102.4h0.85M27.3 102.3h0.85M31.1 100.9h0.85M24.7 97.6h0.85M27.1 98.2h0.85M30.9 99.6h0.85M34.1 106.7h0.85M29.5 100.9h0.85M30.3 98.6h0.85M28.7 102.9h0.85M26.4 102.9h0.85M22.4 103.7h0.85M29.4 104.4h0.85M26.1 101.9h0.85M24.9 105.7h0.85M22.7 102.6h0.85M25.4 105.5h0.85M25.8 97.3h0.85M29.4 95.8h0.85M22.7 104.7h0.85M25.3 97.1h0.85M28.4 104.1h0.85M24.5 100.5h0.85M31.0 104.7h0.85M27.0 97.8h0.85M22.8 98.6h0.85M30.5 103.9h0.85M25.9 99.6h0.85M29.4 101.6h0.85M38.4 106.7h0.85M31.0 97.3h0.85M29.7 99.7h0.85M27.6 102.3h0.85M25.1 104.2h0.85M35.1 106.1h0.85M28.4 92.6h0.85M32.5 106.3h0.85M26.5 99.2h0.85M30.5 97.8h0.85M31.2 96.5h0.85M23.1 101.5h0.85M29.9 95.5h0.85M31.8 98.9h0.85M30.0 102.4h0.85M25.3 99.1h0.85M32.2 95.3h0.85M31.2 102.5h0.85M25.7 103.5h0.85M31.2 98.9h0.85M26.2 102.2h0.85M22.9 102.3h0.85M27.1 98.4h0.85M23.5 102.8h0.85M31.6 103.0h0.85M23.5 104.8h0.85M28.3 104.1h0.85M32.9 97.4h0.85M26.8 98.8h0.85M31.9 93.6h0.85M29.5 99.0h0.85M32.9 101.9h0.85M26.7 102.1h0.85M29.3 101.6h0.85M26.5 100.9h0.85M29.9 96.4h0.85M27.5 101.0h0.85M25.2 104.8h0.85M23.5 103.9h0.85M25.3 101.7h0.85M29.3 94.3h0.85M29.6 98.1h0.85M26.3 101.0h0.85M31.3 104.8h0.85M35.7 102.3h0.85M25.3 99.2h0.85M29.1 98.9h0.85M28.8 102.6h0.85M27.7 98.2h0.85M32.4 102.5h0.85M28.4 96.1h0.85M31.2 98.0h0.85M30.1 101.6h0.85M22.0 104.5h0.85M27.8 96.9h0.85M34.3 95.9h0.85M35.2 102.2h0.85M26.5 101.1h0.85M28.2 93.2h0.85M37.3 105.5h0.85M22.4 99.9h0.85M23.3 101.7h0.85M29.3 102.6h0.85M24.7 97.9h0.85M31.5 101.0h0.85M38.0 97.9h0.85M31.2 101.7h0.85M28.1 97.5h0.85M26.0 106.1h0.85M30.7 100.3h0.85M30.3 102.3h0.85M23.2 100.6h0.85M26.5 99.7h0.85M27.9 101.9h0.85M34.1 99.0h0.85M27.2 102.7h0.85M25.5 101.0h0.85M31.1 101.5h0.85M33.7 98.1h0.85M28.4 95.1h0.85M26.9 98.3h0.85M33.9 104.9h0.85M34.3 104.7h0.85M24.3 95.0h0.85M27.4 99.9h0.85M24.5 100.2h0.85M22.1 98.5h0.85M30.2 94.1h0.85M31.8 105.7h0.85M26.0 96.6h0.85M25.3 93.1h0.85M34.0 101.7h0.85M24.0 97.4h0.85M26.9 99.5h0.85M24.1 105.4h0.85M28.7 99.2h0.85M23.2 106.3h0.85M36.3 99.5h0.85M24.6 100.4h0.85M27.1 99.6h0.85M24.0 94.3h0.85M30.5 99.2h0.85M23.5 104.5h0.85M30.2 98.1h0.85M24.5 104.5h0.85M29.2 97.7h0.85M28.6 101.4h0.85M32.8 97.5h0.85M31.7 103.5h0.85M22.7 106.3h0.85M31.8 95.5h0.85M36.9 96.3h0.85M23.1 100.0h0.85M31.2 104.2h0.85M41.0 102.4h0.85M22.3 101.9h0.85M28.0 95.9h0.85M22.0 100.3h0.85M26.6 89.5h0.85M32.2 101.6h0.85M27.5 102.9h0.85M22.6 101.3h0.85M32.5 106.5h0.85M29.7 100.2h0.85M30.0 99.5h0.85M28.4 98.0h0.85M33.4 95.2h0.85M26.9 95.7h0.85M27.7 99.7h0.85M28.5 106.4h0.85M36.7 102.8h0.85M35.4 102.6h0.85M34.8 98.6h0.85M32.5 99.3h0.85M31.9 98.4h0.85M34.4 105.5h0.85M30.9 99.3h0.85M31.9 103.9h0.85M32.5 105.3h0.85M30.0 100.3h0.85M29.5 98.9h0.85M25.9 97.4h0.85M28.8 99.5h0.85M32.2 104.9h0.85M21.9 103.6h0.85M27.0 99.4h0.85M34.2 98.2h0.85M33.6 104.2h0.85M25.2 102.0h0.85M32.5 100.6h0.85M32.0 93.9h0.85M29.8 99.8h0.85M22.5 103.5h0.85M37.2 101.0h0.85M23.9 97.4h0.85M37.3 101.3h0.85M32.9 97.1h0.85M32.3 105.6h0.85M29.9 106.3h0.85M24.7 101.1h0.85M24.9 105.1h0.85M24.2 103.4h0.85M22.0 100.9h0.85M25.7 101.0h0.85M28.2 100.6h0.85M26.4 91.6h0.85M33.0 98.5h0.85M26.3 97.5h0.85M32.5 97.2h0.85M30.6 95.8h0.85M31.7 105.4h0.85M27.9 99.0h0.85M22.3 105.9h0.85M28.8 105.8h0.85M28.9 106.9h0.85M32.7 105.8h0.85M27.8 96.2h0.85M31.1 95.0h0.85M25.1 106.0h0.85M29.8 104.7h0.85M28.3 105.1h0.85M27.6 106.8h0.85M29.0 104.8h0.85M34.4 102.5h0.85M32.6 102.7h0.85M30.2 99.1h0.85M27.2 105.4h0.85M29.8 96.4h0.85M25.3 93.2h0.85M28.7 98.6h0.85M37.0 101.5h0.85M27.6 98.7h0.85M28.9 99.0h0.85M23.2 101.4h0.85M21.9 101.3h0.85M24.3 95.2h0.85M35.8 91.8h0.85M34.8 95.0h0.85M34.1 102.5h0.85M25.0 101.5h0.85M22.9 102.2h0.85M35.0 99.9h0.85M37.4 98.9h0.85M29.2 99.0h0.85M24.5 99.8h0.85M24.6 93.5h0.85M25.1 100.9h0.85M30.9 105.2h0.85M27.1 101.4h0.85M36.9 100.1h0.85M25.3 94.0h0.85M29.8 100.4h0.85M37.0 100.1h0.85M31.7 106.1h0.85M35.7 95.5h0.85M35.3 101.7h0.85M27.2 100.2h0.85M25.7 100.1h0.85M28.0 97.2h0.85M29.5 99.8h0.85M36.0 97.9h0.85M26.9 99.1h0.85M26.5 105.1h0.85M30.5 98.2h0.85M27.0 102.1h0.85M25.7 101.5h0.85M24.1 98.2h0.85M27.9 96.8h0.85M29.7 100.8h0.85M23.2 98.8h0.85M25.3 100.9h0.85M28.2 100.7h0.85M32.1 102.2h0.85M32.3 103.2h0.85M26.4 102.0h0.85M40.6 106.3h0.85M32.7 99.8h0.85M29.7 106.6h0.85M33.8 104.6h0.85M35.3 102.7h0.85M30.1 98.7h0.85M40.5 103.1h0.85M25.3 101.6h0.85M23.9 101.7h0.85M25.8 104.2h0.85M27.0 98.9h0.85M26.2 101.1h0.85M25.2 106.0h0.85M30.9 102.3h0.85M27.9 98.9h0.85M23.6 98.4h0.85M37.6 100.4h0.85M26.6 106.1h0.85M29.7 106.5h0.85M43.7 101.4h0.85M26.2 102.4h0.85M32.4 96.1h0.85M29.0 101.5h0.85M30.9 102.4h0.85M25.1 97.6h0.85M35.6 99.7h0.85M30.6 100.7h0.85M31.0 101.8h0.85M26.4 95.4h0.85M26.0 104.1h0.85M22.3 105.3h0.85M24.5 104.7h0.85M28.1 103.5h0.85M27.4 101.2h0.85M24.7 99.6h0.85M29.1 104.2h0.85M30.7 106.2h0.85M33.3 93.3h0.85M25.1 100.9h0.85M24.5 106.4h0.85M31.2 101.1h0.85M26.0 100.2h0.85M32.0 103.8h0.85M34.4 103.3h0.85M31.2 99.1h0.85M23.1 101.6h0.85M32.3 102.0h0.85M26.6 106.6h0.85M27.4 106.1h0.85M38.1 105.0h0.85M32.1 103.9h0.85M28.8 102.9h0.85M28.0 106.6h0.85M30.8 97.8h0.85M27.1 98.4h0.85M29.7 105.6h0.85M34.6 103.9h0.85M24.2 102.8h0.85M29.8 103.9h0.85M31.9 103.4h0.85M24.5 103.2h0.85M33.4 101.1h0.85M27.8 96.1h0.85M33.2 99.3h0.85M24.1 99.6h0.85M23.5 100.5h0.85M33.7 105.3h0.85M23.4 103.8h0.85M29.9 100.1h0.85M22.9 103.4h0.85M23.9 91.2h0.85M27.5 102.2h0.85M30.7 105.9h0.85M28.5 100.5h0.85M24.4 94.1h0.85M25.5 106.2h0.85M26.9 93.4h0.85M31.6 106.4h0.85M22.0 94.2h0.85M28.3 104.9h0.85M22.3 100.0h0.85M23.9 96.2h0.85M25.8 98.5h0.85M23.1 101.0h0.85M22.2 103.3h0.85M26.7 105.8h0.85M22.3 98.6h0.85M24.4 103.0h0.85M30.7 102.2h0.85M28.8 102.8h0.85M24.8 100.6h0.85M23.9 100.4h0.85M31.1 103.3h0.85M29.8 106.6h0.85M27.4 101.1h0.85M33.0 106.2h0.85M27.1 104.5h0.85M33.4 102.2h0.85M28.0 102.3h0.85M28.6 99.3h0.85M31.2 98.4h0.85M23.7 103.1h0.85M24.8 100.4h0.85M27.5 100.9h0.85M29.7 102.5h0.85M25.4 106.0h0.85M36.2 98.7h0.85M28.0 97.8h0.85M32.5 100.0h0.85M31.9 97.4h0.85M33.2 102.4h0.85M24.9 100.3h0.85M23.3 102.1h0.85M27.7 104.9h0.85M27.9 94.8h0.85M33.0 100.8h0.85M26.9 100.7h0.85M27.6 93.8h0.85M31.8 98.5h0.85M28.2 89.9h0.85M29.8 98.1h0.85M28.7 104.2h0.85M26.2 97.8h0.85M31.7 97.1h0.85M31.8 93.8h0.85M23.1 94.8h0.85M33.8 93.5h0.85M22.1 104.5h0.85M36.3 104.3h0.85M30.8 93.1h0.85M23.3 100.0h0.85M26.7 95.2h0.85M24.3 91.7h0.85M38.6 99.6h0.85M28.6 95.3h0.85M33.1 92.7h0.85M29.1 86.3h0.85M35.8 103.0h0.85M33.6 100.0h0.85M32.5 88.8h0.85M23.5 101.4h0.85M38.6 101.8h0.85M37.0 98.2h0.85M29.8 84.9h0.85M36.2 101.7h0.85M36.1 95.2h0.85M37.1 98.1h0.85M38.7 98.1h0.85M29.8 100.1h0.85M36.6 98.5h0.85M27.7 92.0h0.85M28.2 93.4h0.85M32.4 98.0h0.85M30.3 96.9h0.85M32.2 106.7h0.85M39.6 93.3h0.85M33.9 94.9h0.85M30.2 95.4h0.85M26.4 88.4h0.85M39.4 91.2h0.85M34.5 94.5h0.85M32.9 91.8h0.85M29.2 96.2h0.85M29.9 81.3h0.85M35.6 96.7h0.85M32.3 99.1h0.85M27.8 90.1h0.85M27.6 94.2h0.85M27.3 94.3h0.85M33.2 100.4h0.85M25.8 90.6h0.85M44.8 103.5h0.85M24.8 98.2h0.85M34.8 94.7h0.85M35.2 96.8h0.85M27.2 100.4h0.85M30.4 89.7h0.85M31.5 88.6h0.85M37.8 99.8h0.85M23.5 98.1h0.85M39.9 83.3h0.85M26.8 97.7h0.85M33.5 99.5h0.85M39.2 101.2h0.85M36.2 90.6h0.85M47.4 102.1h0.85M36.2 103.1h0.85M28.0 96.3h0.85M46.8 83.6h0.85M33.4 85.8h0.85M26.0 96.2h0.85M28.2 97.9h0.85M25.1 96.1h0.85M22.0 94.3h0.85M27.7 94.9h0.85M39.5 97.5h0.85M27.8 87.8h0.85M31.4 94.8h0.85M45.6 94.0h0.85M45.2 105.7h0.85M26.2 91.6h0.85M40.6 95.9h0.85M32.0 95.2h0.85M23.6 86.9h0.85M42.8 96.4h0.85M31.8 100.1h0.85M40.9 98.9h0.85M27.2 94.3h0.85M26.1 83.6h0.85M36.8 96.3h0.85M31.8 104.8h0.85M31.3 88.2h0.85M22.1 98.7h0.85M27.4 100.7h0.85M40.8 95.6h0.85M33.5 100.8h0.85M35.3 106.2h0.85M38.3 101.2h0.85M36.5 91.3h0.85M26.2 96.1h0.85M31.5 96.9h0.85M33.1 97.0h0.85M27.6 86.3h0.85M37.1 100.6h0.85M24.2 100.1h0.85M33.8 97.3h0.85M24.4 94.6h0.85M22.5 93.6h0.85M33.4 83.4h0.85M31.1 92.9h0.85M38.1 103.1h0.85M39.1 92.5h0.85M28.5 103.0h0.85M28.8 89.1h0.85M25.7 88.2h0.85M35.0 85.6h0.85M38.3 86.1h0.85M31.1 87.3h0.85M28.4 103.5h0.85M39.2 105.3h0.85M30.1 97.5h0.85M32.5 100.8h0.85M27.8 104.0h0.85M33.2 104.3h0.85M34.4 101.2h0.85M25.3 94.1h0.85M29.5 102.3h0.85M29.9 105.0h0.85M38.6 80.4h0.85M28.8 106.4h0.85M23.9 93.8h0.85M32.5 84.7h0.85M32.3 92.6h0.85M25.2 101.4h0.85M57.1 99.1h0.85M34.9 96.5h0.85M25.4 98.5h0.85M42.2 98.0h0.85M37.5 95.3h0.85M49.7 86.1h0.85M35.2 100.3h0.85M32.8 89.5h0.85M22.2 95.3h0.85M31.5 88.9h0.85M22.8 100.4h0.85M38.5 93.1h0.85M25.5 92.1h0.85M49.3 100.0h0.85M30.2 103.3h0.85M48.0 104.4h0.85M27.7 94.5h0.85M22.6 99.0h0.85M31.1 87.5h0.85M35.6 100.0h0.85M30.2 75.2h0.85M27.0 91.9h0.85M28.2 88.8h0.85M27.4 92.4h0.85M51.1 101.3h0.85M29.2 96.4h0.85M29.8 98.0h0.85M27.7 96.6h0.85M38.4 102.2h0.85M33.0 105.4h0.85M32.4 90.3h0.85M30.2 99.3h0.85M38.8 93.0h0.85M24.6 101.8h0.85M39.6 93.6h0.85M33.2 105.7h0.85M33.1 96.4h0.85M35.5 97.6h0.85M27.2 88.6h0.85M29.9 96.0h0.85M39.0 88.8h0.85M41.5 97.0h0.85M39.6 90.4h0.85M33.3 104.7h0.85M31.6 87.2h0.85M28.2 100.2h0.85M32.5 90.5h0.85M35.8 89.1h0.85M41.9 91.1h0.85M30.7 98.3h0.85M23.6 103.9h0.85M32.0 99.6h0.85M29.0 101.5h0.85M41.9 95.1h0.85M28.7 99.7h0.85M42.2 91.4h0.85M35.4 95.1h0.85M28.2 102.1h0.85M24.8 89.8h0.85M35.7 96.6h0.85M28.7 95.9h0.85M34.5 94.4h0.85M36.5 99.5h0.85M41.9 105.0h0.85M37.2 95.4h0.85M31.6 92.9h0.85M52.1 95.3h0.85M34.9 105.6h0.85M27.8 90.3h0.85M40.4 101.5h0.85M31.0 97.0h0.85M34.0 89.8h0.85M32.3 95.5h0.85M26.9 90.4h0.85M25.7 90.7h0.85M34.2 99.2h0.85M33.2 95.6h0.85M33.4 97.3h0.85M27.0 95.4h0.85M29.9 86.0h0.85M37.1 104.1h0.85M32.8 98.2h0.85M31.6 99.6h0.85M36.4 102.4h0.85M44.2 97.0h0.85M37.3 86.3h0.85M29.8 88.9h0.85M34.9 88.4h0.85M30.0 97.0h0.85M32.3 103.9h0.85M38.0 79.6h0.85M41.1 93.6h0.85M26.6 106.0h0.85M28.8 87.9h0.85M37.6 106.6h0.85M29.5 93.8h0.85M43.0 93.9h0.85M41.8 98.4h0.85M32.6 95.3h0.85M33.1 93.8h0.85M25.7 96.0h0.85M26.0 98.8h0.85M31.5 95.1h0.85M29.3 95.4h0.85M43.9 96.8h0.85M26.4 94.9h0.85M35.8 95.5h0.85M29.7 95.2h0.85M32.1 99.4h0.85M34.2 86.2h0.85M22.8 79.8h0.85M36.8 104.0h0.85M40.6 97.8h0.85M39.4 96.6h0.85M29.9 86.8h0.85M25.0 93.0h0.85M27.3 99.3h0.85M32.9 91.8h0.85M29.8 95.7h0.85M29.6 100.0h0.85M23.8 102.6h0.85M33.7 91.7h0.85M25.8 101.9h0.85M36.6 96.8h0.85M30.8 103.2h0.85M33.6 90.8h0.85M32.1 100.4h0.85M32.3 98.1h0.85M29.7 96.1h0.85M23.8 87.6h0.85M39.2 92.7h0.85M32.5 87.1h0.85M32.0 91.5h0.85M53.0 90.2h0.85M23.6 102.9h0.85M39.3 83.2h0.85M32.7 102.5h0.85M26.9 90.4h0.85M28.2 93.8h0.85M27.4 92.0h0.85M37.2 96.3h0.85M40.7 95.1h0.85M33.4 97.4h0.85M32.0 95.5h0.85M25.7 93.3h0.85M28.2 100.5h0.85M33.8 102.8h0.85M29.5 95.0h0.85M32.0 84.1h0.85M32.8 97.7h0.85M42.3 94.3h0.85M35.2 95.4h0.85M24.7 90.9h0.85M27.8 105.2h0.85M36.9 92.3h0.85M38.2 96.0h0.85M25.6 99.6h0.85M24.0 86.7h0.85M40.4 85.1h0.85M34.8 87.0h0.85M30.6 95.5h0.85M27.5 82.8h0.85M30.0 96.6h0.85M24.1 96.4h0.85M38.2 92.2h0.85M32.7 89.4h0.85M33.6 100.9h0.85M49.2 102.6h0.85M34.0 105.9h0.85M23.4 103.7h0.85M26.8 92.9h0.85M38.9 98.3h0.85M40.6 87.6h0.85M32.8 93.5h0.85M28.8 84.6h0.85M37.8 98.2h0.85M23.5 88.2h0.85M24.4 105.8h0.85M30.1 94.7h0.85M34.5 97.0h0.85M32.6 101.6h0.85M33.3 102.5h0.85M22.1 97.3h0.85M28.3 97.6h0.85M30.6 92.9h0.85M28.3 103.0h0.85M26.8 89.0h0.85M35.3 103.1h0.85M28.9 97.8h0.85M24.8 95.7h0.85M39.1 102.1h0.85M32.0 95.2h0.85M34.3 103.7h0.85M45.8 99.4h0.85M38.0 89.9h0.85M39.8 102.5h0.85M41.0 101.3h0.85M34.3 106.4h0.85M26.1 101.1h0.85M39.0 92.0h0.85M22.6 99.8h0.85M31.9 100.9h0.85M35.8 92.2h0.85M33.5 104.2h0.85M28.5 95.2h0.85M22.8 102.2h0.85M45.4 88.4h0.85M36.7 102.8h0.85M27.0 94.7h0.85M23.4 92.1h0.85M32.3 101.2h0.85M32.0 102.5h0.85M32.6 89.7h0.85M41.7 104.6h0.85M34.6 98.0h0.85M45.2 81.3h0.85M29.4 91.1h0.85M42.2 100.2h0.85M28.4 86.1h0.85M30.0 87.0h0.85M35.0 102.1h0.85M35.6 99.4h0.85M38.3 89.8h0.85M28.6 102.6h0.85M25.9 94.4h0.85M26.8 92.0h0.85M35.5 98.9h0.85M26.3 101.0h0.85M35.3 97.8h0.85M52.8 105.9h0.85M37.2 103.7h0.85M53.0 104.2h0.85M26.0 99.3h0.85M31.8 93.7h0.85M33.2 98.9h0.85M30.9 94.2h0.85M37.4 87.1h0.85M37.3 97.3h0.85M33.3 82.2h0.85M43.6 86.3h0.85M25.0 101.4h0.85M26.9 94.7h0.85M32.9 101.6h0.85M29.2 98.7h0.85M34.5 93.0h0.85M25.1 105.1h0.85M31.9 106.7h0.85M26.6 100.6h0.85M33.8 95.8h0.85M33.6 92.4h0.85M30.7 94.7h0.85M36.9 96.7h0.85M30.6 91.5h0.85M41.1 99.9h0.85M37.5 92.4h0.85M28.4 103.7h0.85M32.0 94.1h0.85M32.0 90.4h0.85M33.0 89.5h0.85M21.9 106.2h0.85M26.2 83.8h0.85M38.5 92.4h0.85M38.2 99.5h0.85M44.0 96.5h0.85M35.8 90.9h0.85M35.1 98.3h0.85M25.9 99.6h0.85M22.7 98.2h0.85M50.7 98.7h0.85M24.9 101.2h0.85M38.7 102.9h0.85M31.9 94.4h0.85M36.3 100.4h0.85M29.6 86.0h0.85M40.6 100.8h0.85M24.8 103.3h0.85M45.1 102.5h0.85M43.2 92.3h0.85M38.9 103.3h0.85M26.0 97.9h0.85M34.7 95.9h0.85M30.9 96.6h0.85M32.0 101.1h0.85M35.1 97.0h0.85M33.3 94.4h0.85M37.3 94.1h0.85M43.6 97.2h0.85M33.4 92.4h0.85M28.8 98.4h0.85M31.5 93.3h0.85M22.8 97.6h0.85M32.5 100.9h0.85M40.7 95.3h0.85M39.1 101.0h0.85M26.6 93.2h0.85M30.7 86.0h0.85M35.0 95.1h0.85M45.1 90.5h0.85M38.9 93.0h0.85M39.0 91.0h0.85M36.9 94.5h0.85M25.3 96.4h0.85M35.0 100.0h0.85M43.2 102.7h0.85M36.1 88.7h0.85M22.6 98.3h0.85M33.8 100.8h0.85M44.5 94.1h0.85M31.4 90.9h0.85M33.4 104.1h0.85M41.7 97.1h0.85M26.1 92.4h0.85M41.6 82.0h0.85M22.0 102.5h0.85M37.3 98.5h0.85M37.6 97.7h0.85M39.7 93.1h0.85M25.5 95.9h0.85M29.8 97.9h0.85M27.0 101.7h0.85M31.8 99.8h0.85M31.6 101.4h0.85M34.1 100.4h0.85M36.1 104.5h0.85M37.0 99.0h0.85M30.2 86.8h0.85M33.1 95.4h0.85M40.6 103.7h0.85M40.9 89.3h0.85M24.4 101.5h0.85M33.3 98.8h0.85M34.9 95.7h0.85M32.5 93.1h0.85M31.3 94.4h0.85M33.5 88.3h0.85M33.3 91.3h0.85M29.9 90.7h0.85M46.9 87.4h0.85M44.5 92.2h0.85M34.8 95.8h0.85M28.8 103.6h0.85M37.8 95.7h0.85M42.2 98.5h0.85M29.4 99.5h0.85M32.3 105.3h0.85M24.4 97.7h0.85M25.8 106.1h0.85M45.2 97.0h0.85M35.7 106.7h0.85M29.4 91.5h0.85M39.5 100.9h0.85M33.4 86.0h0.85M34.3 97.2h0.85M45.8 97.5h0.85M30.1 100.4h0.85M33.5 88.4h0.85M32.6 95.5h0.85M23.3 91.3h0.85M25.4 93.3h0.85M26.5 98.0h0.85M39.9 89.1h0.85M40.0 106.2h0.85M32.7 104.7h0.85M39.3 98.9h0.85M36.8 99.7h0.85M31.7 90.4h0.85M28.2 87.6h0.85M31.8 104.7h0.85M22.2 104.9h0.85M47.4 100.1h0.85M23.0 92.1h0.85M29.2 89.3h0.85M22.3 95.9h0.85M30.4 101.6h0.85M39.7 103.4h0.85M39.8 91.8h0.85M39.2 96.6h0.85M33.2 98.9h0.85M25.9 96.3h0.85M26.8 94.8h0.85M35.2 91.4h0.85M37.2 98.3h0.85M37.4 103.4h0.85M41.1 101.7h0.85M37.0 96.4h0.85M36.0 91.8h0.85M29.9 102.5h0.85M31.3 100.5h0.85M23.8 106.5h0.85M27.4 100.2h0.85M31.5 103.7h0.85M28.8 91.1h0.85M22.7 101.1h0.85M42.5 83.1h0.85M22.0 99.6h0.85M41.0 99.6h0.85M34.1 100.9h0.85M36.3 89.5h0.85M28.2 99.0h0.85M25.6 95.9h0.85M27.8 93.0h0.85M36.9 95.1h0.85M23.5 92.9h0.85M35.4 83.6h0.85M34.6 92.0h0.85M45.2 87.3h0.85M27.0 105.2h0.85M36.7 86.4h0.85M30.9 94.2h0.85M30.2 102.5h0.85M27.3 95.5h0.85M42.7 85.5h0.85M28.9 100.7h0.85M22.3 93.5h0.85M27.0 102.7h0.85M39.4 97.9h0.85M28.8 99.3h0.85M32.1 89.6h0.85M39.8 99.1h0.85M37.6 88.7h0.85M36.3 88.1h0.85M32.0 97.2h0.85M33.3 96.1h0.85M35.4 94.5h0.85M33.4 93.1h0.85M32.4 104.1h0.85M28.0 101.9h0.85M25.0 95.1h0.85M29.9 105.7h0.85M25.9 105.6h0.85M38.6 102.1h0.85M24.0 89.5h0.85M38.3 89.3h0.85M36.0 94.1h0.85M43.4 103.1h0.85M32.0 96.9h0.85M41.8 86.3h0.85M34.0 98.4h0.85M22.0 97.7h0.85M32.2 83.1h0.85M37.6 103.7h0.85M36.1 99.1h0.85M27.7 105.2h0.85M37.0 102.9h0.85M23.8 98.0h0.85M22.2 103.4h0.85M22.5 96.1h0.85M25.4 94.4h0.85M35.1 93.8h0.85M33.3 90.9h0.85M42.2 93.3h0.85M30.0 105.2h0.85M27.9 100.0h0.85M26.0 101.2h0.85" stroke="#000" stroke-width="0.85" fill="none" opacity="1"/>
<path d="M41.5 76.9h0.7M49.6 69.9h0.7M32.2 66.9h0.7M42.0 78.4h0.7M39.5 56.5h0.7M41.8 82.5h0.7M49.5 63.6h0.7M32.2 79.7h0.7M28.7 79.4h0.7M45.3 79.5h0.7M26.4 73.3h0.7M38.0 74.2h0.7M48.9 57.3h0.7M46.6 68.0h0.7M42.1 73.5h0.7M22.4 63.6h0.7M50.4 75.1h0.7M35.1 71.5h0.7M30.4 74.7h0.7M23.9 80.0h0.7M26.2 65.4h0.7M23.3 73.5h0.7M38.2 57.4h0.7M33.0 78.3h0.7M30.5 78.8h0.7M45.7 75.3h0.7M24.3 75.4h0.7M34.2 71.7h0.7M45.3 65.1h0.7M46.1 78.3h0.7M42.6 59.7h0.7M37.2 72.3h0.7M26.6 59.0h0.7M33.5 76.9h0.7M43.1 70.1h0.7M44.6 73.7h0.7M39.7 60.8h0.7M48.1 67.7h0.7M38.4 74.5h0.7M46.6 68.3h0.7M48.2 76.3h0.7M26.9 58.4h0.7M26.2 66.0h0.7M50.6 59.0h0.7M30.6 76.7h0.7M35.0 67.1h0.7M34.3 76.9h0.7M46.6 77.2h0.7M22.4 57.1h0.7M36.2 73.4h0.7M35.4 78.5h0.7M24.9 81.6h0.7M34.9 58.5h0.7M47.4 58.6h0.7M23.5 68.4h0.7M29.3 77.0h0.7M39.6 59.1h0.7M37.8 83.9h0.7M44.0 75.9h0.7M31.9 56.4h0.7M25.6 76.8h0.7M32.7 68.0h0.7M46.1 60.9h0.7M34.6 74.6h0.7M33.5 76.0h0.7M44.7 73.4h0.7M39.0 63.1h0.7M26.0 61.1h0.7M33.0 57.7h0.7M48.4 60.7h0.7M22.8 66.1h0.7M44.1 65.5h0.7M30.9 58.0h0.7M43.7 79.6h0.7M26.8 61.2h0.7M41.0 58.2h0.7M46.9 61.8h0.7M23.9 68.4h0.7M49.8 73.5h0.7M25.1 58.3h0.7M22.4 60.2h0.7M45.9 56.7h0.7M36.9 67.2h0.7M23.0 84.0h0.7M41.0 77.9h0.7M36.7 79.9h0.7M50.9 81.6h0.7M50.3 62.2h0.7M47.5 74.1h0.7M37.2 67.7h0.7M45.7 66.2h0.7M43.4 77.2h0.7M29.9 71.7h0.7M43.7 73.4h0.7M30.6 63.6h0.7M34.2 82.3h0.7M24.3 74.4h0.7M26.0 73.6h0.7M36.5 77.3h0.7M46.3 81.6h0.7M45.0 60.9h0.7M26.5 63.4h0.7M37.7 83.2h0.7M30.9 74.9h0.7M27.9 80.9h0.7M32.6 65.3h0.7M41.7 83.6h0.7M48.8 68.1h0.7M24.8 78.5h0.7M30.5 81.5h0.7M66.0 65.6h0.7M63.1 64.0h0.7M65.4 75.7h0.7M54.7 77.6h0.7M53.1 76.6h0.7M78.4 74.7h0.7M69.9 76.9h0.7M53.4 81.8h0.7M68.1 63.4h0.7M58.2 63.8h0.7M75.4 83.5h0.7M61.4 80.7h0.7M51.5 74.6h0.7M70.3 78.2h0.7M79.8 74.0h0.7M72.4 64.6h0.7M78.9 71.8h0.7M54.0 62.8h0.7M59.5 58.8h0.7M73.5 65.5h0.7M64.4 78.6h0.7M56.2 59.9h0.7M52.8 90.7h0.7M60.2 87.7h0.7M81.6 86.6h0.7M85.4 92.0h0.7M61.7 104.5h0.7M88.5 89.2h0.7M69.6 90.5h0.7M77.8 103.3h0.7M77.0 89.1h0.7M68.3 90.3h0.7M83.8 101.4h0.7M86.0 103.8h0.7M69.4 105.7h0.7M62.7 86.0h0.7M87.5 92.3h0.7M78.3 98.4h0.7M65.2 92.3h0.7M57.4 101.3h0.7M66.4 90.0h0.7M68.3 98.3h0.7M82.7 88.6h0.7M78.4 88.3h0.7M70.9 102.5h0.7M86.4 98.8h0.7M73.8 97.5h0.7M84.7 93.3h0.7M53.5 99.8h0.7M54.1 106.0h0.7M84.5 93.2h0.7M79.7 86.0h0.7M34.4 40.9h0.7M59.5 32.3h0.7M36.3 35.6h0.7M58.2 40.5h0.7M31.8 42.8h0.7M50.6 39.7h0.7M39.6 32.4h0.7M47.6 42.6h0.7M40.0 31.6h0.7M50.5 31.4h0.7M57.5 39.8h0.7M55.6 42.0h0.7M42.7 38.7h0.7M23.8 41.5h0.7M105.9 66.6h0.7M83.4 38.8h0.7M104.8 96.5h0.7M110.6 46.7h0.7M99.8 46.6h0.7M108.4 40.8h0.7M53.0 46.4h0.7M67.8 46.8h0.7M65.4 44.5h0.7M47.9 38.9h0.7M59.4 46.8h0.7M67.8 43.9h0.7M60.5 45.8h0.7M66.6 44.8h0.7M53.2 48.3h0.7M62.5 46.2h0.7M52.2 45.0h0.7M49.4 38.8h0.7M58.5 43.7h0.7M63.5 49.4h0.7M59.8 50.5h0.7M56.4 47.3h0.7M52.2 45.4h0.7M58.0 44.4h0.7M63.6 39.2h0.7M60.7 42.5h0.7M60.7 46.2h0.7M57.7 43.9h0.7M52.9 46.7h0.7M55.9 46.4h0.7M51.2 49.2h0.7M53.7 48.6h0.7M57.2 46.7h0.7M59.1 47.1h0.7M60.0 48.9h0.7M64.1 47.1h0.7" stroke="#222" stroke-width="0.7" fill="none" opacity="0.8"/>
<rect x="129.6" y="29.8" width="98.9" height="77.9" fill="none" stroke="#000" stroke-width="1.1"/>
<path d="M158.2 29.8V107.7M129.6 84.3H228.5" stroke="#000" stroke-width="1.05" fill="none"/>
<path d="M137.0 107.7v1.9M129.6 101.8h-1.3M141.4 107.7v1.9M129.6 98.4h-1.3M144.5 107.7v1.9M129.6 96.0h-1.3M146.9 107.7v1.9M129.6 94.1h-1.3M148.8 107.7v1.9M129.6 92.5h-1.3M150.5 107.7v1.9M129.6 91.2h-1.3M151.9 107.7v1.9M129.6 90.1h-1.3M153.2 107.7v1.9M129.6 89.1h-1.3M161.8 107.7v1.9M129.6 82.4h-1.3M166.1 107.7v1.9M129.6 78.9h-1.3M169.2 107.7v1.9M129.6 76.5h-1.3M171.6 107.7v1.9M129.6 74.6h-1.3M173.6 107.7v1.9M129.6 73.1h-1.3M175.2 107.7v1.9M129.6 71.8h-1.3M176.7 107.7v1.9M129.6 70.6h-1.3M177.9 107.7v1.9M129.6 69.6h-1.3M186.5 107.7v1.9M129.6 62.9h-1.3M190.8 107.7v1.9M129.6 59.5h-1.3M193.9 107.7v1.9M129.6 57.0h-1.3M196.3 107.7v1.9M129.6 55.1h-1.3M198.3 107.7v1.9M129.6 53.6h-1.3M199.9 107.7v1.9M129.6 52.3h-1.3M201.4 107.7v1.9M129.6 51.2h-1.3M202.6 107.7v1.9M129.6 50.2h-1.3M211.2 107.7v1.9M129.6 43.4h-1.3M215.6 107.7v1.9M129.6 40.0h-1.3M218.7 107.7v1.9M129.6 37.5h-1.3M221.1 107.7v1.9M129.6 35.7h-1.3M223.0 107.7v1.9M129.6 34.1h-1.3M224.7 107.7v1.9M129.6 32.8h-1.3M226.1 107.7v1.9M129.6 31.7h-1.3M227.4 107.7v1.9M129.6 30.7h-1.3M129.6 107.7v2.6M129.6 107.7h-2.2M154.3 107.7v2.6M129.6 88.2h-2.2M179.1 107.7v2.6M129.6 68.8h-2.2M203.8 107.7v2.6M129.6 49.3h-2.2M228.5 107.7v2.6M129.6 29.8h-2.2" stroke="#000" stroke-width="0.9" fill="none"/>
<text x="126.7" y="117.4" class="a" font-size="5.7" stroke="#000" stroke-width="0.15">10<tspan dy="-2.1" dx="0.3" font-size="4.9">0</tspan></text>
<text x="151.4" y="117.4" class="a" font-size="5.7" stroke="#000" stroke-width="0.15">10<tspan dy="-2.1" dx="0.3" font-size="4.9">1</tspan></text>
<text x="176.2" y="117.4" class="a" font-size="5.7" stroke="#000" stroke-width="0.15">10<tspan dy="-2.1" dx="0.3" font-size="4.9">2</tspan></text>
<text x="200.9" y="117.4" class="a" font-size="5.7" stroke="#000" stroke-width="0.15">10<tspan dy="-2.1" dx="0.3" font-size="4.9">3</tspan></text>
<text x="225.6" y="117.4" class="a" font-size="5.7" stroke="#000" stroke-width="0.15">10<tspan dy="-2.1" dx="0.3" font-size="4.9">4</tspan></text>
<path d="M156.7 46.4h0.85M154.7 48.2h0.85M139.3 51.4h0.85M146.4 52.7h0.85M144.8 49.7h0.85M148.8 45.2h0.85M150.3 46.8h0.85M155.3 51.3h0.85M147.5 46.1h0.85M148.5 49.4h0.85M151.5 48.0h0.85M140.9 49.9h0.85M142.4 53.5h0.85M143.6 48.5h0.85M147.2 46.8h0.85M145.0 49.3h0.85M144.8 49.1h0.85M154.4 49.0h0.85M140.1 49.5h0.85M151.6 47.3h0.85M148.0 49.1h0.85M150.4 48.4h0.85M146.7 47.6h0.85M149.5 47.1h0.85M157.1 47.7h0.85M146.3 50.9h0.85M147.0 49.4h0.85M147.2 47.8h0.85M142.4 48.6h0.85M153.8 47.0h0.85M145.3 48.7h0.85M151.4 52.5h0.85M142.4 51.1h0.85M148.2 48.5h0.85M150.3 46.3h0.85M152.1 48.9h0.85M142.0 53.2h0.85M152.2 50.8h0.85M139.5 49.9h0.85M144.6 50.9h0.85M155.0 44.3h0.85M147.6 48.9h0.85M153.0 48.3h0.85M140.5 49.9h0.85M141.8 48.6h0.85M147.7 48.2h0.85M149.0 46.0h0.85M160.3 49.7h0.85M151.5 46.0h0.85M135.6 49.4h0.85M146.2 53.8h0.85M154.7 47.0h0.85M154.2 50.6h0.85M147.6 51.6h0.85M149.3 47.6h0.85M141.0 50.0h0.85M153.0 45.7h0.85M138.6 51.7h0.85M132.5 55.1h0.85M145.1 51.0h0.85M157.8 44.7h0.85M141.7 54.5h0.85M145.9 49.2h0.85M148.8 51.1h0.85M154.8 48.3h0.85M145.6 49.4h0.85M149.2 51.5h0.85M148.2 52.7h0.85M142.8 51.0h0.85M157.2 50.2h0.85M149.3 47.2h0.85M143.6 49.5h0.85M149.2 48.4h0.85M139.5 49.0h0.85M150.4 50.4h0.85M139.8 49.7h0.85M138.3 49.5h0.85M167.1 46.3h0.85M145.6 48.3h0.85M140.8 46.6h0.85M147.3 48.7h0.85M155.7 44.7h0.85M149.9 51.5h0.85M136.7 52.2h0.85M138.6 51.6h0.85M155.6 47.9h0.85M149.1 47.6h0.85M149.1 51.2h0.85M146.5 49.1h0.85M149.7 50.5h0.85M138.5 50.7h0.85M143.7 50.8h0.85M153.2 48.9h0.85M154.6 46.1h0.85M145.2 47.6h0.85M147.8 49.3h0.85M146.4 47.0h0.85M147.1 48.4h0.85M150.8 48.2h0.85M153.9 48.7h0.85M137.2 50.5h0.85M139.6 52.3h0.85M155.4 47.9h0.85M150.0 46.0h0.85M135.1 50.0h0.85M146.1 46.4h0.85M148.0 49.7h0.85M151.1 51.7h0.85M152.0 47.8h0.85M148.1 50.3h0.85M141.7 52.7h0.85M152.5 48.0h0.85M144.0 57.2h0.85M152.2 50.3h0.85M157.5 49.6h0.85M148.7 50.4h0.85M142.5 51.4h0.85M139.0 51.4h0.85M150.6 45.7h0.85M158.1 45.3h0.85M153.3 47.3h0.85M149.3 47.6h0.85M161.3 49.1h0.85M157.6 49.2h0.85M151.4 48.9h0.85M146.3 50.6h0.85M148.5 48.8h0.85M140.0 49.8h0.85M150.9 47.8h0.85M149.5 48.6h0.85M141.9 48.3h0.85M143.5 49.3h0.85M146.2 51.7h0.85M141.6 46.1h0.85M151.4 47.7h0.85M147.0 54.4h0.85M155.7 49.1h0.85M152.9 48.6h0.85M152.9 47.2h0.85M143.7 48.9h0.85M156.4 50.9h0.85M144.3 52.0h0.85M146.8 51.5h0.85M145.9 51.4h0.85M147.0 48.8h0.85M147.5 49.6h0.85M144.5 47.0h0.85M157.1 47.0h0.85M137.6 46.3h0.85M132.1 50.4h0.85M155.2 44.8h0.85M145.9 45.9h0.85M153.8 49.0h0.85M149.5 51.6h0.85M156.8 49.9h0.85M144.5 47.1h0.85M141.9 46.7h0.85M157.7 47.3h0.85M148.4 49.5h0.85M158.9 46.4h0.85M154.3 48.8h0.85M146.9 45.6h0.85M152.8 47.0h0.85M145.2 50.1h0.85M148.3 51.4h0.85M144.0 50.2h0.85M149.3 49.1h0.85M151.5 48.2h0.85M154.4 46.8h0.85M139.7 50.4h0.85M154.3 47.2h0.85M144.2 49.1h0.85M148.6 48.8h0.85M149.5 45.6h0.85M156.1 49.1h0.85M142.9 52.7h0.85M150.2 51.8h0.85M141.2 53.6h0.85M148.0 45.1h0.85M151.9 48.0h0.85M142.1 49.7h0.85M136.9 52.1h0.85M146.5 48.9h0.85M155.6 48.1h0.85M144.1 47.9h0.85M147.4 51.4h0.85M144.5 47.7h0.85M152.9 48.6h0.85M147.6 53.4h0.85M141.0 50.7h0.85M137.9 50.2h0.85M151.0 51.0h0.85M140.7 52.0h0.85M152.1 48.3h0.85M161.4 47.1h0.85M142.8 50.9h0.85M137.4 53.9h0.85M153.2 47.6h0.85M151.1 49.8h0.85M158.5 46.4h0.85M140.5 46.3h0.85M146.1 46.4h0.85M146.8 50.2h0.85M145.3 47.8h0.85M154.4 47.8h0.85M149.0 50.9h0.85M140.5 48.5h0.85M161.6 46.8h0.85M141.9 49.6h0.85M144.5 47.3h0.85M145.4 49.6h0.85M147.6 50.3h0.85M138.1 47.8h0.85M152.1 47.7h0.85M154.5 48.8h0.85M139.9 51.5h0.85M142.1 50.6h0.85M154.6 52.4h0.85M147.3 50.7h0.85M149.4 50.6h0.85M133.5 50.7h0.85M149.3 49.9h0.85M143.5 51.5h0.85M153.9 48.4h0.85M146.5 48.7h0.85M148.5 51.5h0.85M156.0 47.0h0.85M142.6 48.5h0.85M153.2 48.8h0.85M149.4 49.9h0.85M149.8 48.7h0.85M142.0 48.9h0.85M148.4 49.9h0.85M145.7 48.7h0.85M155.3 47.1h0.85M149.0 48.4h0.85M143.0 47.0h0.85M144.8 48.1h0.85M152.4 46.2h0.85M145.4 50.9h0.85M147.1 50.3h0.85M152.3 45.3h0.85M145.4 47.7h0.85M155.2 47.9h0.85M150.5 52.2h0.85M145.8 49.7h0.85M150.0 48.4h0.85M154.6 49.8h0.85M153.2 48.5h0.85M145.8 48.8h0.85M145.7 46.3h0.85M149.7 50.5h0.85M147.7 48.3h0.85M147.9 49.7h0.85M149.5 52.5h0.85M143.0 50.7h0.85M151.5 48.8h0.85M146.4 47.4h0.85M144.5 51.1h0.85M155.7 46.7h0.85M150.3 49.9h0.85M153.2 48.9h0.85M150.1 50.6h0.85M141.3 50.3h0.85M138.0 46.9h0.85M143.2 46.9h0.85M150.5 50.7h0.85M146.0 49.2h0.85M146.4 48.9h0.85M148.4 49.8h0.85M145.2 48.1h0.85M144.9 51.2h0.85M145.4 52.4h0.85M146.4 52.1h0.85M141.2 48.9h0.85M150.3 49.8h0.85M146.8 53.3h0.85M148.1 49.7h0.85M144.6 52.9h0.85M152.4 49.3h0.85M138.8 51.3h0.85M145.1 50.4h0.85M152.7 47.0h0.85M148.9 50.8h0.85M148.6 48.5h0.85M141.9 48.8h0.85M140.8 52.2h0.85M148.2 46.8h0.85M147.7 46.7h0.85M154.0 45.4h0.85M143.8 50.2h0.85M145.6 47.9h0.85M144.9 49.2h0.85M144.7 50.1h0.85M146.4 48.0h0.85M147.8 46.0h0.85M155.5 44.7h0.85M147.2 50.0h0.85M149.9 49.4h0.85M154.5 46.0h0.85M147.3 49.6h0.85M145.0 48.5h0.85M154.6 46.8h0.85M145.1 49.1h0.85M146.5 49.7h0.85M146.5 50.1h0.85M148.4 50.0h0.85M155.0 46.5h0.85M156.6 47.0h0.85M151.2 49.0h0.85M146.0 45.7h0.85M156.3 46.4h0.85M143.4 51.9h0.85M148.0 52.8h0.85M156.7 49.2h0.85M149.0 50.5h0.85M140.5 50.7h0.85M148.4 48.2h0.85M149.0 46.2h0.85M152.5 50.9h0.85M140.7 50.6h0.85M155.9 48.7h0.85M142.1 48.2h0.85M152.2 52.0h0.85M141.8 50.2h0.85M143.4 49.3h0.85M149.3 48.9h0.85M143.9 53.8h0.85M146.8 49.0h0.85M153.6 48.3h0.85M146.5 51.2h0.85M142.1 51.5h0.85M153.1 49.6h0.85M146.7 49.4h0.85M138.4 50.4h0.85M149.2 50.6h0.85M148.4 48.4h0.85M143.1 49.8h0.85M148.3 51.4h0.85M147.7 48.3h0.85M147.0 48.4h0.85M146.3 45.2h0.85M139.1 48.3h0.85M150.1 48.7h0.85M148.4 51.3h0.85M142.0 52.3h0.85M149.7 47.5h0.85M155.6 45.3h0.85M141.6 49.8h0.85M149.8 48.5h0.85M136.2 50.4h0.85M147.1 54.1h0.85M154.9 48.3h0.85M141.8 50.8h0.85M141.4 50.6h0.85M149.5 48.2h0.85M148.9 48.4h0.85M144.5 52.6h0.85M150.7 48.2h0.85M143.5 50.2h0.85M150.6 50.4h0.85M155.4 48.9h0.85M141.6 54.0h0.85M153.8 49.8h0.85M154.7 45.3h0.85M145.6 48.6h0.85M153.9 46.0h0.85M145.9 52.4h0.85M151.0 47.9h0.85M157.6 45.1h0.85M150.0 48.4h0.85M150.3 48.3h0.85M143.1 50.3h0.85M140.6 51.3h0.85M145.9 51.2h0.85M145.2 48.3h0.85M149.7 51.2h0.85M136.5 51.2h0.85M150.9 46.0h0.85M142.9 51.2h0.85M143.2 48.7h0.85M156.7 46.0h0.85M143.0 45.5h0.85M141.7 47.8h0.85M156.7 50.1h0.85M140.8 54.0h0.85M151.7 48.2h0.85M151.9 49.3h0.85M143.5 46.5h0.85M142.7 50.0h0.85M145.7 48.1h0.85M152.7 46.4h0.85M152.3 47.6h0.85M148.1 47.0h0.85M147.5 47.7h0.85M138.3 50.6h0.85M147.3 50.8h0.85M149.1 47.0h0.85M144.3 45.0h0.85M141.6 52.6h0.85M155.6 49.4h0.85M149.1 50.1h0.85M150.1 45.5h0.85M142.9 52.2h0.85M153.8 48.7h0.85M145.9 48.7h0.85M144.6 47.9h0.85M137.3 51.1h0.85M145.1 49.2h0.85M156.7 48.9h0.85M143.8 50.9h0.85M139.5 52.5h0.85M148.9 48.6h0.85M150.6 51.5h0.85M145.1 47.7h0.85M158.8 47.5h0.85M155.5 46.7h0.85M149.5 47.7h0.85M150.9 48.2h0.85M143.9 52.7h0.85M149.3 45.1h0.85M146.3 47.7h0.85M141.0 49.1h0.85M145.0 49.7h0.85M143.3 46.3h0.85M144.7 51.3h0.85M140.2 51.5h0.85M150.0 48.0h0.85M149.2 47.5h0.85M145.4 47.6h0.85M150.0 51.4h0.85M143.9 52.1h0.85M136.1 49.3h0.85M142.1 53.3h0.85M144.3 51.2h0.85M136.5 51.1h0.85M150.5 48.7h0.85M132.9 51.8h0.85M151.9 51.1h0.85M149.6 45.6h0.85M146.4 51.1h0.85M143.1 51.0h0.85M144.9 49.8h0.85M151.6 47.2h0.85M162.9 47.1h0.85M149.3 47.5h0.85M147.8 48.6h0.85M139.6 47.5h0.85M149.0 48.8h0.85M133.3 47.3h0.85M145.8 49.3h0.85M150.8 46.3h0.85M150.7 48.1h0.85M144.8 49.4h0.85M152.8 49.4h0.85M152.3 47.1h0.85M146.0 47.2h0.85M144.5 48.9h0.85M145.0 51.0h0.85M149.8 50.3h0.85M148.2 51.2h0.85M148.1 51.0h0.85M150.2 50.2h0.85M147.1 46.9h0.85M139.7 54.2h0.85M149.6 49.7h0.85M146.6 48.5h0.85M163.0 44.6h0.85M147.2 49.2h0.85M141.4 47.7h0.85M143.7 49.1h0.85M144.9 51.2h0.85M141.1 51.0h0.85M155.4 49.7h0.85M141.3 44.5h0.85M152.1 49.4h0.85M144.3 52.2h0.85M145.3 49.7h0.85M141.9 50.7h0.85M145.2 48.6h0.85M153.3 48.7h0.85M139.4 51.8h0.85M152.0 46.9h0.85M145.4 49.6h0.85M146.2 49.6h0.85M151.0 47.7h0.85M158.7 46.1h0.85M144.6 53.4h0.85M160.4 47.3h0.85M146.5 47.3h0.85M153.7 48.6h0.85M142.9 50.7h0.85M154.9 49.4h0.85M159.4 49.6h0.85M149.9 48.8h0.85M150.5 51.1h0.85M152.1 50.5h0.85M148.7 50.5h0.85M154.1 47.9h0.85M140.5 53.6h0.85M150.6 47.9h0.85M148.8 48.5h0.85M138.3 50.3h0.85M139.8 50.8h0.85M146.9 51.5h0.85M146.9 50.0h0.85M145.9 48.7h0.85M140.0 52.3h0.85M148.4 47.9h0.85M148.6 48.2h0.85M143.6 50.3h0.85M154.1 47.7h0.85M139.8 49.2h0.85M157.2 46.1h0.85M153.9 47.7h0.85M151.5 48.4h0.85M139.0 49.7h0.85M158.9 47.2h0.85M150.6 48.1h0.85M146.8 49.9h0.85M150.1 53.1h0.85M147.4 48.9h0.85M143.9 47.2h0.85M138.8 51.8h0.85M137.5 53.5h0.85M152.1 47.9h0.85M141.3 50.2h0.85M147.6 51.4h0.85M143.5 49.1h0.85M147.2 48.7h0.85M144.1 46.4h0.85M138.7 49.3h0.85M146.3 51.3h0.85M160.0 50.6h0.85M149.7 52.5h0.85M146.9 48.3h0.85M160.0 45.2h0.85M145.3 49.0h0.85M155.4 46.8h0.85M151.7 47.8h0.85M140.9 50.7h0.85M148.4 46.8h0.85M142.8 48.4h0.85M152.7 49.3h0.85M148.8 49.9h0.85M145.0 50.5h0.85M144.3 47.2h0.85M143.7 50.2h0.85M148.0 51.2h0.85M138.4 50.2h0.85M149.7 47.0h0.85M148.9 48.2h0.85M141.4 52.3h0.85M140.0 52.3h0.85M145.3 47.7h0.85M142.8 48.5h0.85M143.0 50.4h0.85M137.5 53.2h0.85M152.0 51.2h0.85M142.2 45.6h0.85M144.2 49.4h0.85M149.2 48.0h0.85M147.1 49.6h0.85M139.2 54.0h0.85M141.5 50.7h0.85M153.4 46.8h0.85M147.6 52.3h0.85M146.0 51.5h0.85M149.1 49.4h0.85M151.4 48.2h0.85M146.4 51.2h0.85M149.0 50.0h0.85M141.1 50.2h0.85M154.1 49.9h0.85M149.4 47.9h0.85M144.3 50.6h0.85M155.2 48.1h0.85M154.6 47.5h0.85M154.1 46.3h0.85M148.6 47.0h0.85M151.1 49.8h0.85M142.5 48.6h0.85M145.2 46.7h0.85M142.6 48.3h0.85M151.8 51.2h0.85M145.2 49.0h0.85M148.7 48.0h0.85M146.1 51.1h0.85M148.8 48.9h0.85M144.5 52.5h0.85M144.3 50.0h0.85M142.0 48.9h0.85M148.1 48.4h0.85M150.5 48.9h0.85M140.1 45.9h0.85M152.9 47.3h0.85M155.6 48.0h0.85M143.5 50.9h0.85M146.1 49.5h0.85M142.6 51.2h0.85M153.5 47.3h0.85M157.2 46.6h0.85M148.9 45.9h0.85M137.2 54.9h0.85M155.3 50.2h0.85M138.4 51.1h0.85M149.8 49.0h0.85M149.2 47.2h0.85M146.7 47.2h0.85M145.7 50.2h0.85M143.4 49.3h0.85M145.2 49.6h0.85M152.5 48.9h0.85M149.7 46.1h0.85M145.6 51.1h0.85M142.9 49.1h0.85M142.3 52.6h0.85M145.1 48.2h0.85M150.9 50.8h0.85M150.2 50.7h0.85M148.7 48.8h0.85M145.2 48.6h0.85M144.3 50.4h0.85M146.9 49.5h0.85M150.8 48.6h0.85M140.2 48.8h0.85M141.5 46.5h0.85M148.1 46.8h0.85M140.6 48.2h0.85M152.2 47.9h0.85M152.9 48.2h0.85M145.2 50.7h0.85M150.8 48.9h0.85M141.9 49.2h0.85M141.2 49.7h0.85M148.0 52.0h0.85M155.1 49.3h0.85M152.7 48.8h0.85M162.5 49.8h0.85M161.8 47.7h0.85M149.7 50.9h0.85M148.5 49.6h0.85M142.2 51.8h0.85M148.2 50.6h0.85M146.3 46.0h0.85M150.2 51.0h0.85M140.6 48.4h0.85M145.9 49.0h0.85M138.3 54.0h0.85M153.0 47.2h0.85M137.7 51.4h0.85M158.2 49.1h0.85M153.7 46.4h0.85M148.8 46.1h0.85M158.2 48.6h0.85M136.1 47.4h0.85M150.1 49.1h0.85M145.8 50.6h0.85M158.3 48.2h0.85M137.8 50.4h0.85M140.4 48.8h0.85M149.3 48.6h0.85M141.7 50.0h0.85M143.1 50.9h0.85M146.2 50.1h0.85M146.0 50.9h0.85M146.7 49.3h0.85M144.4 49.9h0.85M137.9 55.8h0.85M143.8 50.0h0.85M144.9 48.6h0.85M149.6 47.9h0.85M145.1 46.9h0.85M142.5 47.7h0.85M157.2 45.1h0.85M141.6 50.5h0.85M155.1 44.7h0.85M139.1 50.7h0.85M149.2 46.2h0.85M137.7 48.8h0.85M151.5 48.5h0.85M151.4 48.3h0.85M147.2 50.4h0.85M146.8 49.7h0.85M142.5 48.8h0.85M149.9 48.3h0.85M143.4 51.1h0.85M150.3 48.7h0.85M143.3 51.5h0.85M160.9 45.5h0.85M139.1 49.0h0.85M142.3 47.5h0.85M141.0 51.8h0.85M152.0 51.3h0.85M151.4 47.6h0.85M153.2 47.1h0.85M145.5 47.2h0.85M154.0 50.1h0.85M144.9 49.0h0.85M147.6 49.5h0.85M151.9 48.6h0.85M149.5 45.9h0.85M145.7 46.0h0.85M157.0 50.4h0.85M151.2 50.7h0.85M158.2 49.3h0.85M138.8 50.1h0.85M134.6 49.6h0.85M140.6 50.2h0.85M149.4 47.1h0.85M145.8 49.9h0.85M146.5 49.0h0.85M134.3 50.3h0.85M151.6 49.0h0.85M139.3 49.9h0.85M148.8 47.1h0.85M151.0 47.1h0.85M145.5 49.2h0.85M159.3 46.7h0.85M144.2 51.0h0.85M144.8 49.9h0.85M135.1 51.6h0.85M147.2 46.7h0.85M154.6 47.6h0.85M146.2 46.8h0.85M138.5 49.4h0.85M139.1 51.4h0.85M152.0 47.2h0.85M138.6 49.8h0.85M141.6 50.4h0.85M148.3 48.2h0.85M147.7 51.1h0.85M156.5 46.7h0.85M151.2 48.1h0.85M141.6 52.5h0.85M149.4 49.1h0.85M149.2 48.5h0.85M141.6 53.5h0.85M152.1 48.9h0.85M152.5 50.8h0.85M146.2 50.5h0.85M145.5 50.7h0.85M145.9 54.1h0.85M145.3 50.4h0.85M149.8 48.1h0.85M152.3 48.2h0.85M145.1 49.5h0.85M143.2 52.1h0.85M150.7 50.5h0.85M140.0 50.8h0.85M143.1 50.0h0.85M154.2 48.6h0.85M146.3 51.5h0.85M152.7 51.9h0.85M137.2 51.3h0.85M145.0 47.8h0.85M147.9 46.8h0.85M135.2 49.3h0.85M145.9 53.0h0.85M143.4 47.5h0.85M136.6 50.1h0.85M146.0 49.6h0.85M139.5 48.9h0.85M135.0 51.4h0.85M138.8 45.2h0.85M153.5 49.2h0.85M149.2 49.5h0.85M141.7 52.1h0.85M141.6 53.7h0.85M148.5 45.4h0.85M152.0 52.2h0.85M145.9 51.4h0.85M146.1 48.1h0.85M133.3 53.7h0.85M144.9 50.3h0.85M141.2 48.4h0.85M153.3 47.5h0.85M145.1 47.1h0.85M148.4 50.5h0.85M144.8 49.2h0.85M140.7 52.9h0.85M144.0 49.4h0.85M156.4 47.3h0.85M138.9 48.7h0.85M145.4 52.9h0.85M148.5 48.5h0.85M151.8 51.0h0.85M143.2 52.6h0.85M152.0 49.3h0.85M134.5 51.5h0.85M154.9 47.5h0.85M159.9 47.4h0.85M141.8 51.2h0.85M148.9 50.5h0.85M146.1 51.9h0.85M144.3 49.9h0.85M140.6 48.7h0.85M148.5 47.7h0.85M144.9 49.2h0.85M148.7 50.4h0.85M151.5 50.5h0.85M148.5 47.9h0.85M138.7 49.8h0.85M143.0 46.3h0.85M156.4 44.2h0.85M149.3 50.0h0.85M146.1 54.4h0.85M147.5 47.7h0.85M157.0 46.1h0.85M139.5 48.4h0.85M143.9 49.8h0.85M149.2 45.9h0.85M149.3 53.2h0.85M143.5 49.5h0.85M151.2 50.9h0.85M143.7 47.9h0.85M141.9 52.2h0.85M152.3 44.2h0.85M135.7 48.6h0.85M139.2 51.3h0.85M148.6 52.8h0.85M151.7 48.7h0.85M153.8 46.4h0.85M139.7 50.4h0.85M152.5 45.2h0.85M152.3 50.1h0.85M144.6 49.9h0.85M145.9 49.6h0.85M151.8 46.9h0.85M153.1 50.0h0.85M152.4 44.6h0.85M137.2 52.1h0.85M144.2 48.3h0.85M143.2 47.2h0.85M145.8 48.0h0.85M143.8 50.7h0.85M140.9 52.4h0.85M135.2 56.0h0.85M139.9 51.5h0.85M152.4 48.4h0.85M151.5 48.3h0.85M137.7 51.4h0.85M153.7 47.1h0.85M138.1 49.4h0.85M149.2 49.5h0.85M153.4 49.3h0.85M150.2 44.8h0.85M159.6 47.4h0.85M152.1 47.8h0.85M146.5 49.4h0.85M156.0 50.8h0.85M150.8 52.5h0.85M145.2 50.5h0.85M144.9 52.1h0.85M147.6 51.1h0.85M156.9 43.6h0.85M159.4 47.9h0.85M145.7 45.7h0.85M145.7 44.9h0.85M147.9 48.8h0.85M157.5 47.0h0.85M153.3 50.6h0.85M158.8 46.9h0.85M151.6 45.5h0.85M141.3 49.6h0.85M147.3 46.8h0.85M145.2 50.9h0.85M144.9 49.3h0.85M142.5 52.7h0.85M157.3 48.1h0.85M146.8 52.6h0.85M150.1 47.5h0.85M140.0 49.2h0.85M159.6 46.1h0.85M163.5 46.7h0.85M146.3 52.0h0.85M146.1 50.2h0.85M141.7 47.6h0.85M143.4 50.3h0.85M143.8 45.9h0.85M150.1 48.5h0.85M145.9 48.2h0.85M135.0 54.3h0.85M144.8 50.7h0.85M155.2 50.2h0.85M148.6 49.0h0.85M149.2 50.7h0.85M150.7 47.8h0.85M150.0 49.6h0.85M151.3 49.0h0.85M155.1 48.4h0.85M152.4 48.5h0.85M144.3 47.8h0.85M146.6 50.4h0.85M154.5 47.9h0.85M144.6 48.6h0.85M154.6 48.3h0.85M144.7 51.1h0.85M140.2 50.6h0.85M147.3 49.0h0.85M141.1 52.1h0.85M156.8 45.1h0.85M148.2 50.4h0.85M160.0 46.4h0.85M142.2 50.0h0.85M158.6 47.6h0.85M149.0 52.5h0.85M135.7 46.8h0.85M152.5 49.9h0.85M139.8 51.4h0.85M147.7 49.6h0.85M143.0 49.0h0.85M142.6 50.1h0.85M146.2 52.7h0.85M151.0 45.6h0.85M149.8 51.7h0.85M149.1 51.1h0.85M147.3 50.6h0.85M142.3 51.6h0.85M139.9 52.9h0.85M139.1 46.3h0.85M150.4 48.4h0.85M148.1 49.9h0.85M147.3 47.5h0.85M148.7 49.7h0.85M150.2 52.7h0.85M143.4 50.0h0.85M150.6 47.8h0.85M140.9 49.1h0.85M153.4 47.8h0.85M150.9 47.2h0.85M150.0 47.5h0.85M142.8 50.1h0.85M147.8 52.1h0.85M138.5 51.6h0.85M156.4 50.5h0.85M145.4 48.2h0.85M144.8 50.2h0.85M148.5 49.7h0.85M150.8 46.6h0.85M141.3 47.8h0.85M140.1 50.2h0.85M149.2 53.9h0.85M150.5 48.8h0.85M155.4 46.5h0.85M149.4 50.8h0.85M151.9 49.3h0.85M145.6 47.0h0.85M146.7 48.2h0.85M151.3 48.3h0.85M150.6 45.5h0.85M152.9 46.7h0.85M138.8 47.8h0.85M144.0 52.0h0.85M151.4 46.3h0.85M148.0 48.9h0.85M138.8 48.6h0.85M136.2 49.2h0.85M132.8 49.9h0.85M142.3 48.4h0.85M142.9 52.2h0.85M145.6 50.0h0.85M151.7 50.3h0.85M151.3 47.5h0.85M141.4 48.6h0.85M144.9 49.6h0.85M147.0 51.4h0.85M146.9 52.8h0.85M153.2 47.4h0.85M152.3 42.8h0.85M155.1 48.8h0.85M149.7 45.5h0.85M161.4 46.5h0.85M146.7 51.5h0.85M146.4 47.7h0.85M151.1 46.6h0.85M151.6 48.8h0.85M153.7 45.8h0.85M154.4 48.7h0.85M158.4 46.2h0.85M157.8 49.0h0.85M151.9 47.1h0.85M150.6 50.0h0.85M142.9 47.6h0.85M143.2 52.7h0.85M148.4 50.9h0.85M149.1 49.2h0.85M148.7 48.2h0.85M154.2 48.5h0.85M148.7 46.3h0.85M149.2 47.6h0.85M144.7 51.7h0.85M141.5 49.7h0.85M151.0 50.9h0.85M144.6 50.3h0.85M149.1 46.7h0.85M135.7 47.2h0.85M150.8 48.9h0.85M140.1 49.1h0.85M145.3 48.8h0.85M147.3 53.6h0.85M143.2 50.2h0.85M143.2 48.6h0.85M142.6 49.5h0.85M144.4 50.4h0.85M148.7 47.3h0.85M158.1 45.3h0.85M149.5 53.2h0.85M143.6 52.4h0.85M155.3 48.6h0.85M137.3 53.6h0.85M148.0 48.0h0.85M154.5 46.7h0.85M153.4 47.2h0.85M150.5 46.6h0.85M145.3 47.7h0.85M143.6 50.2h0.85M146.6 49.7h0.85M154.6 47.9h0.85M137.2 50.2h0.85M147.9 51.1h0.85M153.2 50.2h0.85M146.2 50.7h0.85M139.5 53.0h0.85M149.9 49.8h0.85M145.4 49.6h0.85M143.8 50.9h0.85M140.2 52.2h0.85M150.5 52.7h0.85M147.3 49.0h0.85M148.6 49.1h0.85M146.9 47.1h0.85M141.4 49.0h0.85M145.9 47.1h0.85M141.1 49.6h0.85M151.6 48.2h0.85M151.2 50.5h0.85M151.7 47.7h0.85M145.3 45.9h0.85M143.7 50.7h0.85M141.5 52.8h0.85M155.4 47.2h0.85M152.6 45.6h0.85M141.7 49.4h0.85M147.5 48.8h0.85M142.7 53.8h0.85M149.1 49.5h0.85M151.3 49.0h0.85M146.2 48.3h0.85M138.5 53.5h0.85M142.4 46.7h0.85M143.0 46.7h0.85M158.5 48.2h0.85M155.3 50.8h0.85M150.6 49.8h0.85M143.5 49.7h0.85M144.2 49.8h0.85M143.6 52.3h0.85M151.7 48.3h0.85M138.3 52.0h0.85M152.4 48.3h0.85M140.6 51.1h0.85M153.3 44.5h0.85M150.6 45.1h0.85M147.9 52.6h0.85M148.0 50.1h0.85M145.7 49.5h0.85M160.4 49.8h0.85M145.8 48.7h0.85M147.6 53.5h0.85M148.7 51.2h0.85M145.5 47.0h0.85M154.8 47.9h0.85M143.2 48.5h0.85M143.8 48.6h0.85M139.0 52.9h0.85M149.6 50.8h0.85M145.6 50.2h0.85M148.4 51.4h0.85M152.0 49.2h0.85M143.9 47.4h0.85M143.1 48.6h0.85M144.5 47.2h0.85M156.6 48.3h0.85M136.4 48.8h0.85M140.1 50.8h0.85M153.4 46.4h0.85M150.9 48.1h0.85M153.8 50.9h0.85M149.2 50.3h0.85M147.5 48.5h0.85M141.1 50.8h0.85M147.1 48.5h0.85M147.1 48.9h0.85M141.8 49.1h0.85M153.8 47.8h0.85M155.1 45.8h0.85M140.1 50.6h0.85M151.7 47.3h0.85M150.9 50.5h0.85M153.4 48.1h0.85M147.2 46.0h0.85M147.6 49.7h0.85M155.2 45.5h0.85M142.9 48.0h0.85M152.4 43.5h0.85M141.6 54.1h0.85M151.1 46.1h0.85M147.2 50.9h0.85M150.5 48.3h0.85M143.2 51.5h0.85M147.5 50.8h0.85M149.7 48.0h0.85M155.4 47.0h0.85M149.9 47.6h0.85M146.2 48.9h0.85M143.9 50.2h0.85M154.6 51.7h0.85M155.3 47.6h0.85M155.4 48.8h0.85M157.3 45.2h0.85M155.6 46.8h0.85M153.8 47.3h0.85M152.5 47.9h0.85M137.3 48.9h0.85M146.2 49.5h0.85M135.3 48.8h0.85M143.5 49.4h0.85M148.7 47.4h0.85M139.2 51.1h0.85M145.7 51.2h0.85M144.6 50.9h0.85M142.7 50.5h0.85M148.0 50.0h0.85M142.4 49.8h0.85M142.9 49.6h0.85M150.9 54.5h0.85M147.7 50.6h0.85M148.1 51.3h0.85M150.0 50.8h0.85M149.4 53.6h0.85M155.0 44.7h0.85M149.1 49.1h0.85M135.5 49.4h0.85M145.0 48.2h0.85M148.2 45.6h0.85M151.6 50.1h0.85M149.4 48.3h0.85M147.5 48.3h0.85M153.7 49.2h0.85M158.3 46.8h0.85M155.4 46.9h0.85M146.6 47.3h0.85M150.4 48.6h0.85M150.9 51.6h0.85M147.2 50.0h0.85M152.4 48.3h0.85M144.6 50.4h0.85M150.3 50.3h0.85M152.0 47.2h0.85M149.9 51.2h0.85M145.0 50.3h0.85M144.2 50.1h0.85M156.9 48.1h0.85M142.3 50.7h0.85M148.7 51.2h0.85M140.1 48.6h0.85M147.1 46.3h0.85M153.7 44.3h0.85M143.0 47.1h0.85M144.0 51.3h0.85M150.8 50.5h0.85M150.8 44.8h0.85M149.2 45.4h0.85M144.8 48.9h0.85M144.6 50.6h0.85M143.2 53.2h0.85M150.8 51.0h0.85M151.6 50.3h0.85M147.3 53.0h0.85M141.8 51.0h0.85M147.6 48.8h0.85M149.3 47.5h0.85M152.2 50.0h0.85M148.1 50.5h0.85M141.9 46.6h0.85M144.4 49.2h0.85M161.0 46.7h0.85M153.1 50.0h0.85M159.0 47.7h0.85M151.1 48.3h0.85M142.9 48.0h0.85M143.3 52.6h0.85M149.1 48.7h0.85M147.6 48.1h0.85M147.4 49.2h0.85M151.1 50.4h0.85M138.7 51.0h0.85M155.0 46.1h0.85M146.2 49.7h0.85M153.5 49.4h0.85M146.4 50.4h0.85M153.2 49.1h0.85M157.6 48.5h0.85M141.9 48.6h0.85M146.8 48.9h0.85M150.9 49.4h0.85M156.8 49.3h0.85M155.6 46.5h0.85M145.3 50.9h0.85M148.1 50.3h0.85M148.9 47.8h0.85M156.8 50.0h0.85M139.2 49.3h0.85M147.7 50.5h0.85M147.2 46.7h0.85M152.1 48.1h0.85M154.1 48.8h0.85M153.0 50.0h0.85M152.4 47.5h0.85M153.2 48.7h0.85M140.9 49.5h0.85M145.8 50.4h0.85M151.3 46.5h0.85M151.5 48.5h0.85M141.9 51.7h0.85M143.5 47.6h0.85M151.7 50.3h0.85M144.1 51.8h0.85M153.0 47.4h0.85M158.4 47.4h0.85M148.8 44.5h0.85M151.1 47.5h0.85M150.0 45.6h0.85M153.9 51.1h0.85M157.8 42.0h0.85M150.8 49.4h0.85M131.4 50.4h0.85M147.2 52.0h0.85M143.2 50.3h0.85M147.4 50.0h0.85M145.5 51.3h0.85M152.9 45.8h0.85M153.7 46.9h0.85M146.2 51.6h0.85M148.2 50.3h0.85M152.0 49.7h0.85M144.8 47.9h0.85M151.4 50.1h0.85M149.7 48.6h0.85M152.4 48.5h0.85M140.4 50.9h0.85M150.5 50.3h0.85M143.0 48.6h0.85M149.6 48.1h0.85M147.4 51.1h0.85M149.9 52.4h0.85M149.4 52.3h0.85M153.5 53.3h0.85M147.9 49.1h0.85M154.9 47.2h0.85M145.4 50.1h0.85M149.9 46.3h0.85M149.3 48.5h0.85M147.8 49.6h0.85M146.9 51.5h0.85M150.6 48.5h0.85M148.4 51.2h0.85M152.2 51.1h0.85M147.2 49.7h0.85M158.8 47.5h0.85M157.0 49.5h0.85M145.7 47.0h0.85M151.4 47.4h0.85M144.2 46.6h0.85M154.4 48.5h0.85M148.2 50.0h0.85M149.4 49.3h0.85M150.8 48.4h0.85M134.2 52.9h0.85M150.3 49.0h0.85M156.6 45.3h0.85M132.5 54.6h0.85M150.3 45.8h0.85M145.9 50.8h0.85M141.6 51.4h0.85M159.4 50.2h0.85M147.9 50.0h0.85M143.0 50.4h0.85M146.3 47.7h0.85M140.9 54.1h0.85M148.5 47.3h0.85M145.8 52.5h0.85M156.8 46.8h0.85M149.1 50.9h0.85M146.2 47.4h0.85M142.8 50.1h0.85M143.9 47.5h0.85M146.8 51.3h0.85M151.7 48.3h0.85M158.3 46.2h0.85M147.6 46.8h0.85M152.2 48.4h0.85M139.0 49.1h0.85M157.7 49.2h0.85M148.6 50.9h0.85M139.5 49.1h0.85M140.9 48.8h0.85M146.0 50.6h0.85M153.4 50.3h0.85M162.4 46.1h0.85M147.9 50.3h0.85M143.6 49.4h0.85M150.2 47.3h0.85M150.5 51.3h0.85M142.0 45.9h0.85M148.5 47.2h0.85M148.9 48.3h0.85M149.6 51.2h0.85M152.4 47.9h0.85M141.7 45.5h0.85M136.3 49.6h0.85M148.5 47.9h0.85M144.7 46.7h0.85M139.1 47.4h0.85M151.2 45.0h0.85M151.5 47.0h0.85M150.7 49.3h0.85M151.8 50.9h0.85M143.5 48.0h0.85M145.3 48.1h0.85M151.2 48.5h0.85M147.7 50.0h0.85M145.1 51.7h0.85M137.7 51.2h0.85M150.3 47.3h0.85M143.8 51.5h0.85M145.8 45.8h0.85M140.3 52.3h0.85M142.8 52.4h0.85M154.9 47.7h0.85M150.4 47.2h0.85M145.3 48.2h0.85M150.7 46.3h0.85M146.8 49.4h0.85M150.3 44.7h0.85M137.9 49.0h0.85M146.3 49.6h0.85M148.5 52.9h0.85M151.0 49.8h0.85M144.8 51.1h0.85M151.2 49.9h0.85M146.8 50.5h0.85M155.6 46.4h0.85M135.8 52.6h0.85M151.4 48.1h0.85M145.1 54.8h0.85M144.9 47.2h0.85M144.9 50.5h0.85M144.1 49.0h0.85M149.1 48.1h0.85M148.1 49.0h0.85M141.7 50.2h0.85M141.2 51.9h0.85M142.4 49.5h0.85M137.7 49.8h0.85M140.7 53.1h0.85M146.8 50.3h0.85M138.0 48.3h0.85M146.5 46.7h0.85M153.5 47.5h0.85M148.2 49.6h0.85M146.6 50.8h0.85M143.8 50.4h0.85M153.8 48.6h0.85M148.0 48.4h0.85M147.7 50.4h0.85M146.1 46.2h0.85M148.2 48.8h0.85M149.9 48.9h0.85M155.8 45.6h0.85M142.2 51.2h0.85M141.9 50.6h0.85M147.3 45.5h0.85M150.9 51.2h0.85M148.5 46.3h0.85M151.5 46.5h0.85M146.7 50.1h0.85M143.2 46.6h0.85M146.6 49.2h0.85M142.8 48.4h0.85M151.3 48.4h0.85M144.8 48.4h0.85M148.2 49.2h0.85M146.4 46.7h0.85M145.4 48.3h0.85M147.7 51.3h0.85M152.3 49.6h0.85M147.9 48.5h0.85M149.1 48.0h0.85M145.5 47.9h0.85M147.0 49.1h0.85M157.0 48.7h0.85M145.3 50.9h0.85M144.8 51.4h0.85M151.4 53.9h0.85M141.6 49.9h0.85M146.7 49.8h0.85M151.0 46.8h0.85M143.5 50.3h0.85M152.4 46.3h0.85M139.2 52.6h0.85M151.7 50.5h0.85M142.2 49.6h0.85M148.5 49.8h0.85M146.7 49.2h0.85M152.6 47.5h0.85M144.5 48.8h0.85M144.7 49.8h0.85M146.2 48.5h0.85M154.7 48.6h0.85M145.6 51.8h0.85M144.5 49.6h0.85M146.8 48.2h0.85M145.3 49.6h0.85M139.9 49.6h0.85M148.6 49.5h0.85M148.9 53.2h0.85M150.8 48.4h0.85M146.7 49.3h0.85M149.6 48.3h0.85M155.1 45.9h0.85M150.6 49.6h0.85M141.4 51.2h0.85M150.2 47.5h0.85M159.2 48.6h0.85M145.6 48.5h0.85M143.5 50.2h0.85M147.6 46.5h0.85M142.0 48.7h0.85M145.2 48.8h0.85M143.9 50.9h0.85M152.2 48.5h0.85M136.0 50.6h0.85M150.2 48.6h0.85M148.7 49.1h0.85M139.6 45.7h0.85M150.5 47.7h0.85M149.4 48.3h0.85M146.4 51.8h0.85M141.1 50.1h0.85M141.7 50.2h0.85M149.7 50.0h0.85M148.1 46.5h0.85M148.5 50.6h0.85M152.4 52.3h0.85M150.2 46.8h0.85M144.6 49.7h0.85M152.7 46.2h0.85M152.0 49.6h0.85M142.8 51.0h0.85M143.4 49.8h0.85M145.7 49.8h0.85M141.2 51.1h0.85M136.2 50.1h0.85M144.4 52.5h0.85M150.0 47.8h0.85M142.7 49.9h0.85M144.1 53.7h0.85M133.1 51.5h0.85M134.7 53.0h0.85M143.2 52.7h0.85M144.5 51.6h0.85M148.3 51.2h0.85M147.4 43.7h0.85M143.6 46.9h0.85M152.1 49.4h0.85M147.3 50.0h0.85M148.3 48.0h0.85M157.3 48.0h0.85M146.3 46.6h0.85M144.1 49.7h0.85M146.4 48.4h0.85M147.0 47.1h0.85M147.3 46.3h0.85M142.9 48.5h0.85M151.8 49.4h0.85M147.7 47.0h0.85M145.2 50.9h0.85M153.7 45.5h0.85M145.1 49.7h0.85M149.1 48.9h0.85M150.7 46.0h0.85M155.3 45.8h0.85M147.6 50.1h0.85M153.3 49.9h0.85M151.8 50.8h0.85M146.5 50.7h0.85M155.2 46.5h0.85M130.5 49.8h0.85M145.2 52.6h0.85M136.0 51.5h0.85M140.3 52.6h0.85M136.5 51.6h0.85M138.3 50.4h0.85M139.4 46.5h0.85M154.0 51.3h0.85M142.5 49.6h0.85M140.1 54.3h0.85M147.4 50.5h0.85M131.4 51.7h0.85M136.3 52.5h0.85M131.2 51.1h0.85M139.3 50.1h0.85M143.4 48.7h0.85M131.4 50.8h0.85M142.3 50.2h0.85M134.8 52.5h0.85M139.1 50.0h0.85M138.6 50.5h0.85M141.1 51.0h0.85M133.7 50.4h0.85M135.7 51.7h0.85M139.9 49.4h0.85M136.9 51.6h0.85M143.7 51.0h0.85M148.2 50.3h0.85M141.8 50.2h0.85M132.7 51.5h0.85M140.4 51.4h0.85M138.7 50.4h0.85M133.6 50.7h0.85M140.4 52.4h0.85M143.6 52.7h0.85M139.9 52.0h0.85M135.6 51.0h0.85M140.7 48.9h0.85M133.7 51.6h0.85M130.9 51.5h0.85M130.1 51.8h0.85M138.0 50.0h0.85M132.9 50.4h0.85M138.5 53.0h0.85M135.2 50.9h0.85M145.2 53.4h0.85M135.3 52.9h0.85M144.1 51.4h0.85M132.7 49.7h0.85M140.9 54.7h0.85M137.0 53.7h0.85M147.9 48.2h0.85M134.7 53.7h0.85M143.0 51.6h0.85M137.8 52.0h0.85M134.6 55.4h0.85M131.8 48.3h0.85M138.7 53.4h0.85M135.3 51.1h0.85M132.5 51.2h0.85M132.5 49.6h0.85M130.1 50.6h0.85M147.7 50.2h0.85M138.9 54.7h0.85M134.5 49.5h0.85M140.7 48.7h0.85M139.7 52.8h0.85M132.2 50.5h0.85M146.9 48.6h0.85M134.3 51.6h0.85M136.2 49.6h0.85M146.4 49.4h0.85M139.6 50.2h0.85M136.7 48.7h0.85M142.8 49.9h0.85M144.6 48.6h0.85M135.3 52.0h0.85M138.5 49.8h0.85M137.2 48.8h0.85M138.2 46.5h0.85M138.8 53.2h0.85M142.6 52.1h0.85M135.7 51.9h0.85M135.8 51.0h0.85M137.4 45.3h0.85M142.8 51.4h0.85M142.3 49.1h0.85M141.6 51.5h0.85M138.2 49.8h0.85M137.8 49.9h0.85M145.8 47.2h0.85M130.7 49.8h0.85M130.7 50.5h0.85M137.7 48.7h0.85M139.8 53.1h0.85M143.7 54.0h0.85M143.9 50.5h0.85M147.3 51.6h0.85M147.8 50.0h0.85M138.9 51.9h0.85M136.8 52.8h0.85M131.8 50.2h0.85M143.2 50.7h0.85M138.5 53.3h0.85M143.8 49.3h0.85M139.0 48.0h0.85M137.9 51.7h0.85M148.6 51.1h0.85M142.9 53.2h0.85M137.1 52.8h0.85M140.0 48.3h0.85M133.2 50.3h0.85M143.7 50.8h0.85M143.2 49.9h0.85M131.2 54.9h0.85M152.4 50.7h0.85M137.0 53.1h0.85M132.1 51.0h0.85M130.4 52.3h0.85M139.3 50.2h0.85M134.6 48.6h0.85M133.6 53.4h0.85M136.1 53.3h0.85M133.4 51.2h0.85M135.6 50.7h0.85M142.1 47.2h0.85M141.9 51.9h0.85M138.0 51.1h0.85M136.8 52.3h0.85M138.3 49.5h0.85M138.8 52.6h0.85M140.0 50.9h0.85M139.1 50.1h0.85M135.6 48.0h0.85M137.0 52.7h0.85M136.0 49.6h0.85M142.8 51.0h0.85M138.8 51.8h0.85M141.7 50.7h0.85M133.6 54.2h0.85M138.3 49.7h0.85M139.0 53.0h0.85M130.5 53.7h0.85M137.3 54.4h0.85M141.5 50.6h0.85M144.6 52.7h0.85M136.2 51.5h0.85M135.3 52.7h0.85M130.6 51.2h0.85M139.4 50.3h0.85M135.7 49.5h0.85M135.6 48.2h0.85M139.7 52.3h0.85M142.0 50.7h0.85M144.4 51.4h0.85M143.0 51.3h0.85M138.2 49.7h0.85M137.4 54.4h0.85M133.1 51.3h0.85M133.4 51.9h0.85M137.9 52.5h0.85M138.8 51.8h0.85M144.7 51.4h0.85M137.3 53.1h0.85M137.4 51.7h0.85M136.3 50.0h0.85M132.0 52.6h0.85M147.5 48.2h0.85M142.6 50.5h0.85M140.4 48.8h0.85M138.2 51.3h0.85M145.5 54.1h0.85M139.7 50.3h0.85M149.7 50.1h0.85M137.8 51.2h0.85M140.5 52.0h0.85M135.0 51.0h0.85M147.9 53.1h0.85M140.4 51.3h0.85M136.9 52.8h0.85M135.4 51.4h0.85M135.7 50.1h0.85M138.3 51.0h0.85M135.1 51.1h0.85M138.4 50.2h0.85M134.7 51.0h0.85M141.8 52.6h0.85M139.1 50.5h0.85M137.9 54.2h0.85M142.9 49.1h0.85M137.8 50.2h0.85M136.2 48.3h0.85M138.2 48.7h0.85M135.0 53.8h0.85M143.3 49.2h0.85M132.7 49.8h0.85M136.7 49.4h0.85M142.0 50.7h0.85M135.3 54.1h0.85M141.8 50.9h0.85M147.8 52.6h0.85M134.4 51.8h0.85M135.8 48.8h0.85M148.0 52.9h0.85M131.4 52.3h0.85M137.8 50.6h0.85M144.7 50.6h0.85M136.7 52.7h0.85M136.5 52.6h0.85M138.1 52.4h0.85M141.4 52.1h0.85M132.8 54.5h0.85M137.3 54.1h0.85M135.0 50.8h0.85M136.7 53.1h0.85M135.9 51.9h0.85M139.3 50.8h0.85M133.0 54.6h0.85M137.1 54.9h0.85M141.6 51.6h0.85M135.6 51.0h0.85M140.5 47.6h0.85M143.4 48.7h0.85M136.7 46.5h0.85M140.5 52.1h0.85M139.6 51.5h0.85M136.1 51.4h0.85M144.5 49.9h0.85M140.8 52.1h0.85M136.9 51.5h0.85M139.3 50.1h0.85M151.0 49.4h0.85M147.2 52.3h0.85M143.6 52.1h0.85M133.3 51.8h0.85M131.7 49.7h0.85M136.8 51.4h0.85M146.6 51.1h0.85M143.7 48.6h0.85M131.9 50.6h0.85M147.4 48.1h0.85M144.4 47.8h0.85M136.7 48.8h0.85M145.8 51.7h0.85M139.5 50.8h0.85M136.8 51.3h0.85M134.6 49.7h0.85M132.1 51.4h0.85M133.8 52.8h0.85M140.9 52.9h0.85M136.7 48.5h0.85M133.1 53.3h0.85M136.4 50.4h0.85M134.9 51.1h0.85M136.8 48.4h0.85M134.9 53.0h0.85M145.8 50.3h0.85M135.3 53.5h0.85M137.1 49.1h0.85M137.4 52.3h0.85M146.4 49.6h0.85M140.9 50.3h0.85M144.2 51.1h0.85M139.5 49.2h0.85M136.3 50.6h0.85M138.0 50.7h0.85M136.1 51.2h0.85M139.3 48.7h0.85M138.7 51.2h0.85M138.2 48.5h0.85M137.3 48.9h0.85M139.9 53.1h0.85M142.7 50.1h0.85M135.2 50.2h0.85M139.9 49.7h0.85M135.2 46.9h0.85M133.5 50.0h0.85M135.2 53.3h0.85M130.8 49.2h0.85M141.3 49.1h0.85M137.2 51.4h0.85M138.1 49.7h0.85M142.9 53.3h0.85M132.7 50.9h0.85M143.1 50.3h0.85M132.7 50.6h0.85M142.5 49.0h0.85M139.4 51.6h0.85M134.5 52.2h0.85M141.6 52.5h0.85M143.0 48.1h0.85M142.8 51.7h0.85M143.3 49.2h0.85M142.9 51.3h0.85M131.8 53.6h0.85M133.9 49.5h0.85M140.2 49.8h0.85M140.0 50.5h0.85M139.5 52.3h0.85M137.9 52.5h0.85M142.6 49.3h0.85M142.6 51.8h0.85M138.8 52.9h0.85M146.9 51.7h0.85M130.2 52.3h0.85M137.4 50.6h0.85M139.9 50.3h0.85M146.8 50.9h0.85M138.2 52.4h0.85M142.3 52.8h0.85M141.5 50.7h0.85M138.8 47.3h0.85M130.3 53.3h0.85M136.3 54.2h0.85M147.7 48.3h0.85M139.7 55.8h0.85M133.9 52.0h0.85M136.9 50.7h0.85M136.6 51.1h0.85M142.2 49.4h0.85M140.8 49.6h0.85M140.9 51.4h0.85M133.9 51.5h0.85M134.2 49.8h0.85M144.3 47.5h0.85M141.1 52.0h0.85M134.9 53.1h0.85M142.9 48.5h0.85M140.9 51.6h0.85M134.2 52.3h0.85M142.1 49.5h0.85M133.5 55.4h0.85M140.8 48.2h0.85M142.9 46.0h0.85M143.1 59.2h0.85M139.7 52.7h0.85M139.8 56.2h0.85M145.0 51.4h0.85M137.5 52.6h0.85M151.8 49.9h0.85M147.5 55.2h0.85M133.4 57.8h0.85M144.9 61.7h0.85M155.2 53.2h0.85M144.2 50.6h0.85M137.1 56.8h0.85M143.6 52.7h0.85M144.1 56.4h0.85M150.6 54.1h0.85M144.0 54.4h0.85M157.2 47.0h0.85M138.3 55.7h0.85M146.0 58.3h0.85M152.8 60.8h0.85M140.4 56.2h0.85M143.7 57.4h0.85M146.2 57.1h0.85M140.8 54.6h0.85M142.1 53.2h0.85M142.5 50.5h0.85M151.7 55.1h0.85M151.5 50.7h0.85M133.7 51.9h0.85M144.2 56.8h0.85M151.4 58.3h0.85M154.2 56.6h0.85M145.8 51.5h0.85M149.2 52.4h0.85M140.4 56.1h0.85M146.4 57.0h0.85M140.9 58.1h0.85M147.3 53.5h0.85M140.7 50.4h0.85M137.1 58.9h0.85M136.8 56.3h0.85M143.7 52.1h0.85M142.4 53.8h0.85M150.5 56.0h0.85M145.1 49.4h0.85M134.7 60.5h0.85M139.2 48.7h0.85M151.8 48.9h0.85M149.5 57.3h0.85M146.6 57.4h0.85M137.0 49.9h0.85M144.0 54.1h0.85M144.6 55.7h0.85M140.8 46.8h0.85M147.5 53.3h0.85M149.9 61.2h0.85M145.6 56.1h0.85M139.9 57.2h0.85M147.1 54.9h0.85M150.5 50.2h0.85M148.5 55.6h0.85M154.5 47.9h0.85M144.6 61.6h0.85M142.7 52.6h0.85M155.6 62.7h0.85M145.8 51.6h0.85M141.6 52.7h0.85M140.2 51.3h0.85M146.2 54.2h0.85M147.9 54.2h0.85M138.0 56.6h0.85M146.6 52.1h0.85M143.5 55.2h0.85M145.6 53.6h0.85M149.6 57.7h0.85M143.3 54.0h0.85M138.6 53.5h0.85M147.9 57.0h0.85M146.1 53.8h0.85M140.9 54.8h0.85M138.7 54.5h0.85M145.2 51.0h0.85M147.0 53.3h0.85M148.6 52.4h0.85M148.0 59.4h0.85M146.2 56.8h0.85M141.3 52.9h0.85M134.0 53.5h0.85M138.5 54.5h0.85M133.0 51.1h0.85M145.6 55.4h0.85M135.4 52.6h0.85M160.2 56.8h0.85M146.0 44.6h0.85M139.7 55.8h0.85M146.5 55.6h0.85M150.7 54.4h0.85M150.1 47.9h0.85M159.8 53.0h0.85M141.3 59.2h0.85M148.6 57.4h0.85M141.4 55.0h0.85M149.3 50.1h0.85M143.8 53.2h0.85M143.4 51.6h0.85M137.7 55.5h0.85M146.5 58.0h0.85M144.7 51.7h0.85M136.6 54.3h0.85M143.2 60.9h0.85M158.5 59.4h0.85M139.8 49.3h0.85M143.7 51.0h0.85M153.4 54.4h0.85M142.7 54.0h0.85M152.4 50.8h0.85M147.9 49.5h0.85M143.8 51.8h0.85M146.9 54.6h0.85M152.1 56.4h0.85M141.5 49.5h0.85M140.3 52.6h0.85M143.7 51.4h0.85M151.4 57.2h0.85M143.5 52.3h0.85M143.7 53.9h0.85M144.9 48.5h0.85M142.5 47.6h0.85M145.2 56.3h0.85M138.8 54.6h0.85M141.4 51.6h0.85M156.6 57.1h0.85M147.9 52.5h0.85M147.4 53.4h0.85M147.7 50.9h0.85M144.6 52.7h0.85M136.7 59.8h0.85M149.8 51.3h0.85M136.4 51.5h0.85M140.1 51.9h0.85M136.1 51.2h0.85M145.4 55.4h0.85M133.4 54.0h0.85M139.2 50.4h0.85M143.1 51.7h0.85M149.1 56.4h0.85M143.2 51.8h0.85M155.6 60.4h0.85M147.3 53.5h0.85M151.0 59.0h0.85M141.9 60.2h0.85M144.1 57.8h0.85M142.0 54.2h0.85M142.3 54.1h0.85M151.0 50.9h0.85M143.3 55.9h0.85M133.5 105.6h0.85M143.8 103.5h0.85M130.1 99.4h0.85M136.8 103.7h0.85M141.0 106.3h0.85M143.2 96.5h0.85M141.0 92.7h0.85M137.2 95.9h0.85M136.4 105.7h0.85M136.1 97.8h0.85M136.8 98.0h0.85M135.0 95.6h0.85M142.4 99.5h0.85M131.1 104.2h0.85M138.7 102.0h0.85M137.5 99.1h0.85M135.9 90.5h0.85M137.8 106.8h0.85M135.8 99.7h0.85M141.7 99.3h0.85M139.5 103.1h0.85M130.4 102.5h0.85M137.4 95.5h0.85M131.8 94.9h0.85M132.2 106.2h0.85M136.0 106.1h0.85M133.6 101.1h0.85M133.9 103.3h0.85M136.0 106.3h0.85M140.3 103.0h0.85M136.3 99.6h0.85M136.5 104.6h0.85M137.1 102.4h0.85M136.3 100.7h0.85M133.5 92.0h0.85M139.1 103.7h0.85M131.2 105.8h0.85M137.7 102.5h0.85M141.7 105.4h0.85M136.6 96.0h0.85M130.9 101.9h0.85M143.8 105.2h0.85M136.4 102.6h0.85M133.0 104.5h0.85M137.8 97.4h0.85M138.0 100.0h0.85M137.0 105.7h0.85M135.3 97.3h0.85M136.0 96.5h0.85M134.9 106.9h0.85M144.4 104.0h0.85M137.4 96.7h0.85M131.9 102.8h0.85M137.3 98.2h0.85M141.1 101.3h0.85M138.2 102.2h0.85M136.5 102.6h0.85M132.5 103.1h0.85M138.6 100.6h0.85M142.8 98.3h0.85M145.4 101.2h0.85M132.9 99.1h0.85M138.0 94.4h0.85M139.2 92.8h0.85M137.2 103.3h0.85M136.8 95.6h0.85M136.0 100.1h0.85M133.6 97.4h0.85M136.6 103.1h0.85M144.8 95.1h0.85M133.1 97.6h0.85M138.8 100.7h0.85M135.0 93.7h0.85M139.3 101.0h0.85M133.4 101.1h0.85M140.1 93.9h0.85M132.5 86.4h0.85M133.7 106.3h0.85M135.0 105.9h0.85M134.2 97.0h0.85M138.3 95.2h0.85M134.8 93.0h0.85M136.9 101.0h0.85M144.0 102.7h0.85M133.5 100.6h0.85M130.6 101.2h0.85M135.5 103.0h0.85M140.8 91.4h0.85M138.0 104.5h0.85M140.1 105.7h0.85M137.7 105.9h0.85M131.7 97.1h0.85M133.2 104.6h0.85M139.3 94.6h0.85M139.7 102.2h0.85M137.4 103.2h0.85M136.4 101.1h0.85M141.4 96.2h0.85M131.0 97.3h0.85M141.3 99.5h0.85M145.3 86.2h0.85M133.2 98.9h0.85M135.6 96.1h0.85M137.9 97.0h0.85M134.3 102.4h0.85M136.6 99.8h0.85M131.1 102.4h0.85M133.4 101.4h0.85M133.8 102.0h0.85M139.9 102.1h0.85M139.5 94.3h0.85M138.6 102.4h0.85M133.6 100.2h0.85M134.6 90.1h0.85M138.8 97.9h0.85M137.8 99.8h0.85M138.7 101.4h0.85M135.2 103.4h0.85M140.3 90.1h0.85M136.6 98.1h0.85M140.9 96.0h0.85M131.3 104.9h0.85M133.6 99.4h0.85M141.7 98.8h0.85M139.4 106.7h0.85M137.3 100.4h0.85M133.0 96.1h0.85M136.1 101.3h0.85M130.0 100.7h0.85M138.2 100.6h0.85M139.3 96.9h0.85M138.0 105.3h0.85M139.0 102.8h0.85M136.0 96.2h0.85M139.0 99.1h0.85M132.1 104.6h0.85M140.0 105.5h0.85M134.7 101.3h0.85M139.0 100.6h0.85M132.9 103.0h0.85M137.2 101.5h0.85M141.6 102.4h0.85M134.4 101.7h0.85M145.4 97.5h0.85M135.2 97.1h0.85M138.1 94.9h0.85M138.5 104.6h0.85M132.9 96.9h0.85M131.3 98.0h0.85M134.5 97.7h0.85M137.6 95.9h0.85M134.0 102.0h0.85M142.9 106.6h0.85M135.1 101.6h0.85M134.8 100.1h0.85M131.1 92.5h0.85M134.8 105.7h0.85M140.0 92.0h0.85M135.6 98.0h0.85M137.8 95.7h0.85M140.7 100.0h0.85M139.1 105.2h0.85M143.4 101.1h0.85M141.3 103.0h0.85M134.2 102.3h0.85M143.1 95.7h0.85M140.3 94.4h0.85M135.9 100.0h0.85M139.4 102.5h0.85M142.2 98.0h0.85M140.4 102.9h0.85M136.5 95.2h0.85M139.1 102.5h0.85M140.1 100.8h0.85M135.3 102.8h0.85M138.6 104.3h0.85M145.2 98.0h0.85M145.7 86.8h0.85M140.9 97.1h0.85M145.7 96.7h0.85M141.4 96.2h0.85M131.3 104.8h0.85M140.5 97.6h0.85M147.5 99.5h0.85M143.7 96.1h0.85M132.1 101.4h0.85M131.8 103.2h0.85M133.9 96.4h0.85M137.5 99.9h0.85M134.4 104.9h0.85M137.8 102.8h0.85M142.6 100.6h0.85M140.3 99.0h0.85M139.3 103.5h0.85M134.0 93.7h0.85M130.6 96.5h0.85M139.0 100.3h0.85M135.1 103.3h0.85M133.8 103.6h0.85M139.7 96.4h0.85M137.1 96.6h0.85M135.5 103.0h0.85M132.8 101.4h0.85M133.1 102.8h0.85M132.6 98.5h0.85M139.3 102.5h0.85M137.2 100.8h0.85M134.8 97.5h0.85M132.4 94.7h0.85M137.7 106.0h0.85M130.8 100.4h0.85M129.9 97.7h0.85M143.9 101.8h0.85M135.3 101.3h0.85M137.8 100.5h0.85M131.1 95.4h0.85M145.7 97.3h0.85M142.0 97.6h0.85M142.4 104.3h0.85M132.2 99.9h0.85M132.6 97.3h0.85M134.8 96.4h0.85M132.1 98.8h0.85M141.1 104.4h0.85M138.7 102.0h0.85M147.4 95.6h0.85M131.2 100.9h0.85M137.4 99.9h0.85M132.7 94.8h0.85M135.2 97.6h0.85M134.3 95.8h0.85M142.6 103.1h0.85M145.0 98.5h0.85M136.8 99.8h0.85M136.6 99.8h0.85M135.7 91.6h0.85M135.3 104.3h0.85M136.1 103.2h0.85M134.4 98.1h0.85M141.2 102.1h0.85M134.0 99.9h0.85M137.9 100.0h0.85M135.3 99.9h0.85M135.9 101.6h0.85M139.1 104.9h0.85M131.9 100.7h0.85M139.0 100.9h0.85M142.9 100.7h0.85M133.2 100.1h0.85M134.8 101.2h0.85M140.3 100.4h0.85M136.2 105.8h0.85M137.8 105.5h0.85M137.1 94.8h0.85M131.4 93.1h0.85M141.7 103.0h0.85M134.3 96.3h0.85M138.1 100.4h0.85M138.0 97.0h0.85M132.2 100.9h0.85M142.6 92.3h0.85M139.7 101.3h0.85M135.8 102.3h0.85M131.1 90.4h0.85M145.1 99.6h0.85M140.6 106.3h0.85M137.8 103.2h0.85M135.2 99.0h0.85M136.9 102.9h0.85M140.3 101.3h0.85M145.6 102.6h0.85M138.1 103.3h0.85M135.0 95.8h0.85M137.1 99.5h0.85M132.6 101.6h0.85M135.6 98.2h0.85M144.5 105.2h0.85M141.4 100.9h0.85M141.3 97.8h0.85M134.4 103.5h0.85M130.0 101.3h0.85M133.3 103.0h0.85M133.5 98.4h0.85M141.7 103.5h0.85M139.0 95.1h0.85M135.6 100.7h0.85M143.8 96.7h0.85M138.4 105.7h0.85M132.8 101.4h0.85M144.3 103.0h0.85M136.8 101.7h0.85M146.3 103.7h0.85M141.3 99.0h0.85M134.6 96.1h0.85M135.7 97.7h0.85M141.0 104.1h0.85M136.0 98.4h0.85M137.9 104.2h0.85M137.2 96.1h0.85M135.5 98.8h0.85M139.2 92.2h0.85M133.9 105.5h0.85M137.5 97.1h0.85M138.6 102.4h0.85M132.5 104.3h0.85M139.6 100.4h0.85M140.8 95.5h0.85M140.0 100.1h0.85M132.3 98.2h0.85M141.8 98.4h0.85M134.9 97.9h0.85M132.9 105.6h0.85M138.8 104.6h0.85M135.0 98.7h0.85M135.0 97.6h0.85M133.6 101.9h0.85M134.0 101.1h0.85M130.9 102.4h0.85M133.4 99.0h0.85M143.9 104.0h0.85M134.8 103.4h0.85M136.4 106.3h0.85M134.3 103.4h0.85M135.6 101.1h0.85M135.8 98.1h0.85M137.0 105.7h0.85M133.8 99.2h0.85M138.2 97.5h0.85M140.5 104.4h0.85M131.6 105.0h0.85M140.8 95.4h0.85M133.4 100.7h0.85M134.9 104.5h0.85M141.0 103.8h0.85M141.5 105.5h0.85M136.2 99.0h0.85M133.2 104.9h0.85M140.6 105.9h0.85M135.1 99.2h0.85M138.2 102.1h0.85M132.8 103.2h0.85M139.0 96.6h0.85M144.5 96.7h0.85M140.8 100.1h0.85M137.3 97.3h0.85M134.0 104.4h0.85M135.7 99.4h0.85M140.6 104.4h0.85M137.3 102.2h0.85M144.4 100.3h0.85M138.3 103.1h0.85M130.2 91.9h0.85M137.1 105.2h0.85M137.5 98.5h0.85M133.6 104.9h0.85M135.2 93.5h0.85M139.7 102.2h0.85M138.3 106.0h0.85M142.6 103.7h0.85M135.8 91.1h0.85M137.9 100.4h0.85M136.2 100.9h0.85M132.7 99.6h0.85M137.5 106.1h0.85M133.2 104.9h0.85M147.2 94.7h0.85M135.4 101.2h0.85M142.1 100.9h0.85M132.7 100.8h0.85M136.4 102.2h0.85M133.3 104.3h0.85M137.5 95.9h0.85M136.9 101.2h0.85M135.7 104.9h0.85M141.7 96.7h0.85M137.7 101.4h0.85M132.1 94.2h0.85M143.8 98.4h0.85M145.1 92.3h0.85M139.7 104.4h0.85M132.6 98.9h0.85M131.8 101.2h0.85M142.5 105.8h0.85M138.4 106.3h0.85M136.3 94.8h0.85M134.8 97.9h0.85M137.0 102.5h0.85M144.4 96.1h0.85M130.2 104.5h0.85M132.1 95.2h0.85M141.6 104.0h0.85M136.6 101.7h0.85M133.3 98.3h0.85M133.9 100.7h0.85M136.6 94.9h0.85M137.9 95.0h0.85M135.1 99.8h0.85M144.0 106.2h0.85M143.8 99.6h0.85M143.0 100.8h0.85M137.6 102.3h0.85M130.4 98.1h0.85M135.8 102.8h0.85M135.9 96.9h0.85M131.2 101.1h0.85M131.1 95.4h0.85M136.0 101.9h0.85M132.7 92.5h0.85M137.8 104.9h0.85M134.6 99.2h0.85M131.5 104.5h0.85M133.8 100.3h0.85M135.6 92.4h0.85M149.1 93.5h0.85M137.0 97.1h0.85M138.8 101.6h0.85M138.3 97.4h0.85M134.6 104.6h0.85M137.0 101.9h0.85M137.4 92.7h0.85M139.2 95.7h0.85M130.8 101.6h0.85M137.8 101.6h0.85M136.5 98.3h0.85M145.7 91.4h0.85M139.0 97.3h0.85M132.4 99.8h0.85M148.6 103.4h0.85M131.8 102.1h0.85M138.4 102.3h0.85M131.8 99.0h0.85M138.3 98.6h0.85M147.9 100.9h0.85M133.0 105.7h0.85M134.1 103.0h0.85M136.1 97.5h0.85M142.9 101.4h0.85M141.5 99.4h0.85M129.9 95.0h0.85M134.1 100.1h0.85M136.8 103.5h0.85M130.8 102.1h0.85M130.9 97.7h0.85M143.0 105.3h0.85M143.3 99.8h0.85M135.9 96.9h0.85M139.2 95.0h0.85M134.2 103.2h0.85M134.2 102.7h0.85M144.9 96.3h0.85M143.0 97.7h0.85M132.2 102.1h0.85M141.2 97.6h0.85M133.1 98.9h0.85M133.2 101.9h0.85M133.2 99.8h0.85M138.1 99.0h0.85M141.8 97.8h0.85M143.4 101.3h0.85M140.3 102.6h0.85M134.2 104.2h0.85M137.3 97.7h0.85M134.5 99.1h0.85M130.4 98.2h0.85M140.1 93.7h0.85M134.8 89.6h0.85M133.9 102.9h0.85M136.3 101.2h0.85M131.4 103.7h0.85M132.3 105.4h0.85M137.5 99.2h0.85M143.3 99.1h0.85M141.2 101.5h0.85M136.5 105.8h0.85M138.5 101.0h0.85M136.0 102.0h0.85M136.9 99.4h0.85M131.7 88.6h0.85M136.0 99.8h0.85M142.1 103.2h0.85M136.0 97.0h0.85M140.3 98.1h0.85M139.0 106.3h0.85M130.3 101.2h0.85M141.7 94.9h0.85M137.4 102.9h0.85M133.2 100.3h0.85M144.2 92.4h0.85M138.6 98.9h0.85M136.7 97.1h0.85M142.8 95.6h0.85M138.2 103.6h0.85M136.1 99.7h0.85M135.3 105.9h0.85M138.6 100.6h0.85M131.5 101.8h0.85M139.0 100.9h0.85M143.1 91.8h0.85M148.0 100.1h0.85M131.3 92.6h0.85M140.5 103.8h0.85M135.5 100.8h0.85M137.3 99.0h0.85M141.8 104.0h0.85M136.0 93.2h0.85M142.8 98.7h0.85M138.8 91.4h0.85M130.7 100.3h0.85M136.3 104.9h0.85M140.6 100.5h0.85M135.7 103.2h0.85M139.8 97.2h0.85M144.3 101.4h0.85M137.6 99.0h0.85M139.8 105.9h0.85M134.0 103.9h0.85M134.5 95.1h0.85M135.0 104.0h0.85M139.1 106.2h0.85M133.4 99.6h0.85M136.9 104.0h0.85M136.0 96.5h0.85M141.5 97.9h0.85M143.4 100.8h0.85M134.3 97.3h0.85M138.6 105.2h0.85M139.4 101.6h0.85M141.9 96.1h0.85M138.4 103.5h0.85M140.7 100.2h0.85M145.5 106.4h0.85M136.7 100.5h0.85M131.8 100.4h0.85M135.5 102.1h0.85M134.6 103.8h0.85M136.2 93.5h0.85M134.2 96.7h0.85M130.7 99.9h0.85M140.8 95.7h0.85M150.4 98.2h0.85M137.8 99.1h0.85M135.9 106.8h0.85M131.6 102.1h0.85M130.7 102.0h0.85M133.8 102.2h0.85M131.4 102.2h0.85M137.1 98.3h0.85M132.9 95.4h0.85M134.8 103.0h0.85M136.0 101.9h0.85M142.5 99.6h0.85M138.0 105.1h0.85M139.0 103.0h0.85M136.3 99.3h0.85M143.1 101.3h0.85M140.5 103.5h0.85M137.0 104.3h0.85M139.5 101.8h0.85M144.6 99.3h0.85M146.4 102.4h0.85M135.8 93.4h0.85M140.5 104.1h0.85M138.2 93.8h0.85M141.1 94.7h0.85M141.8 102.1h0.85M133.4 93.4h0.85M135.0 100.7h0.85M136.0 98.3h0.85M135.6 105.3h0.85M132.4 100.1h0.85M138.7 101.0h0.85M135.0 102.2h0.85M139.7 95.7h0.85M142.7 92.0h0.85M142.8 98.6h0.85M131.9 98.8h0.85M135.4 96.2h0.85M130.2 98.6h0.85M141.0 103.0h0.85M142.8 98.2h0.85M134.9 99.5h0.85M137.2 103.3h0.85M144.7 104.5h0.85M133.0 94.8h0.85M139.7 101.9h0.85M137.1 105.6h0.85M135.0 100.5h0.85M138.3 104.2h0.85M141.1 101.6h0.85M137.8 89.4h0.85M142.2 93.5h0.85M135.1 93.4h0.85M144.0 98.4h0.85M135.8 100.3h0.85M139.9 104.8h0.85M136.0 106.4h0.85M132.4 104.3h0.85M133.7 104.4h0.85M133.5 98.9h0.85M143.3 95.6h0.85M131.1 103.8h0.85M135.3 99.0h0.85M131.8 99.7h0.85M137.3 96.5h0.85M136.4 103.4h0.85M132.3 106.4h0.85M131.3 100.3h0.85M148.1 98.2h0.85M141.5 102.1h0.85M129.9 102.9h0.85M132.4 101.4h0.85M142.4 103.5h0.85M134.9 99.9h0.85M136.3 100.9h0.85M133.1 98.7h0.85M139.3 98.1h0.85M132.8 98.4h0.85M134.9 101.8h0.85M134.3 100.1h0.85M136.9 99.5h0.85M137.8 100.8h0.85M144.1 103.4h0.85M141.9 97.8h0.85M142.7 96.2h0.85M132.8 106.3h0.85M135.3 100.0h0.85M138.3 101.4h0.85M135.1 102.2h0.85M133.2 100.8h0.85M139.5 95.9h0.85M135.5 95.5h0.85M139.9 104.0h0.85M140.8 106.0h0.85M141.2 104.4h0.85M132.9 105.5h0.85M137.8 103.8h0.85M130.8 106.1h0.85M141.9 93.5h0.85M133.9 98.7h0.85M146.5 95.9h0.85M141.3 99.7h0.85M142.8 89.2h0.85M134.5 106.8h0.85M133.0 106.7h0.85M134.1 106.5h0.85M139.2 99.0h0.85M133.0 100.2h0.85M141.8 101.0h0.85M139.0 96.0h0.85M136.4 99.0h0.85M131.2 97.4h0.85M142.2 95.6h0.85M139.3 106.7h0.85M141.1 103.2h0.85M135.4 94.2h0.85M137.1 103.1h0.85M134.1 96.2h0.85M140.5 95.9h0.85M138.5 98.7h0.85M139.3 103.6h0.85M129.9 100.3h0.85M137.7 97.4h0.85M144.0 91.2h0.85M139.7 91.8h0.85M139.0 97.5h0.85M133.3 96.5h0.85M131.8 99.3h0.85M134.6 89.3h0.85M133.3 106.6h0.85M134.1 100.4h0.85M132.9 97.4h0.85M135.9 94.2h0.85M135.4 92.7h0.85M137.7 93.1h0.85M139.2 105.5h0.85M134.2 106.2h0.85M133.7 99.2h0.85M134.7 106.6h0.85M136.5 98.2h0.85M135.0 105.0h0.85M133.1 91.4h0.85M133.5 99.6h0.85M134.0 106.4h0.85M146.5 102.3h0.85M133.1 100.7h0.85M139.9 102.3h0.85M135.7 101.9h0.85M139.5 103.5h0.85M145.5 86.1h0.85M132.4 97.7h0.85M139.8 101.6h0.85M139.9 93.6h0.85M135.0 103.6h0.85M135.8 98.6h0.85M137.3 96.4h0.85M139.0 100.7h0.85M141.6 96.6h0.85M140.5 96.1h0.85M137.5 103.8h0.85M135.6 103.6h0.85M133.3 105.6h0.85M133.7 97.1h0.85M135.5 100.2h0.85M132.2 104.3h0.85M135.4 103.4h0.85M134.8 95.7h0.85M135.4 103.2h0.85M139.6 97.1h0.85M138.5 98.0h0.85M138.5 95.4h0.85M142.2 102.5h0.85M134.7 94.0h0.85M137.3 98.0h0.85M137.2 97.1h0.85M133.5 103.5h0.85M142.8 94.4h0.85M135.1 102.4h0.85M135.3 98.4h0.85M146.0 96.5h0.85M137.7 98.2h0.85M135.6 89.5h0.85M140.1 99.5h0.85M134.8 97.6h0.85M132.1 105.6h0.85M136.2 99.0h0.85M129.9 96.2h0.85M137.6 100.4h0.85M132.6 89.8h0.85M139.6 98.2h0.85M130.0 103.2h0.85M135.0 95.9h0.85M130.0 99.9h0.85M136.4 92.0h0.85M140.6 94.4h0.85M142.5 102.1h0.85M135.2 102.1h0.85M133.3 100.2h0.85M143.6 97.8h0.85M139.8 96.2h0.85M135.9 105.1h0.85M130.5 102.1h0.85M134.1 104.8h0.85M139.3 96.1h0.85M135.4 101.4h0.85M142.3 106.5h0.85M133.3 98.6h0.85M131.7 98.1h0.85M134.9 103.8h0.85M136.4 96.1h0.85M139.8 104.7h0.85M133.2 99.3h0.85M135.6 92.6h0.85M136.7 103.7h0.85M145.0 101.4h0.85M134.7 99.8h0.85M138.9 104.3h0.85M132.1 101.5h0.85M139.1 90.9h0.85M142.4 99.5h0.85M140.1 100.3h0.85M134.9 100.2h0.85M137.4 104.7h0.85M134.8 95.2h0.85M132.8 95.9h0.85M139.6 95.9h0.85M143.1 101.2h0.85M135.7 106.8h0.85M134.4 99.1h0.85M139.7 104.1h0.85M138.7 94.6h0.85M135.3 105.0h0.85M137.1 104.7h0.85M147.0 105.1h0.85M145.3 103.9h0.85M132.9 105.2h0.85M139.1 96.6h0.85M132.9 99.8h0.85M140.2 97.6h0.85M133.4 101.1h0.85M133.8 100.3h0.85M139.8 102.0h0.85M140.8 97.5h0.85M132.3 94.1h0.85M136.6 99.8h0.85M131.3 99.5h0.85M134.1 96.5h0.85M142.6 100.7h0.85M142.1 95.4h0.85M132.4 100.8h0.85M135.8 103.5h0.85M130.4 103.1h0.85M139.7 98.0h0.85M134.6 104.5h0.85M133.5 95.4h0.85M139.2 102.7h0.85M139.8 101.1h0.85M141.3 103.4h0.85M140.0 101.1h0.85M143.1 98.7h0.85M139.6 95.0h0.85M136.4 98.3h0.85M131.8 94.6h0.85M137.4 103.0h0.85M133.5 95.0h0.85M132.4 104.6h0.85M130.9 106.4h0.85M139.5 106.8h0.85M134.5 97.3h0.85M135.8 98.7h0.85M134.5 102.1h0.85M136.6 106.6h0.85M134.0 100.6h0.85M135.0 100.5h0.85M139.9 102.0h0.85M136.0 102.7h0.85M136.6 100.6h0.85M141.2 95.7h0.85M146.5 98.3h0.85M131.7 104.7h0.85M143.2 103.3h0.85M136.8 102.8h0.85M136.5 98.4h0.85M136.5 99.9h0.85M134.2 92.9h0.85M133.4 98.5h0.85M136.4 96.2h0.85M144.4 90.8h0.85M135.9 105.1h0.85M131.1 94.1h0.85M136.7 99.9h0.85M143.4 104.2h0.85M136.2 99.5h0.85M140.6 99.9h0.85M133.8 104.7h0.85M143.8 104.2h0.85M132.2 99.8h0.85M135.0 101.7h0.85M136.8 99.4h0.85M134.1 94.1h0.85M138.4 101.2h0.85M138.6 97.9h0.85M138.0 96.8h0.85M132.5 88.8h0.85M134.5 98.7h0.85M137.7 101.4h0.85M134.2 99.5h0.85M138.8 92.4h0.85M140.4 98.3h0.85M130.2 97.3h0.85M139.1 105.4h0.85M142.6 103.5h0.85M133.5 104.0h0.85M140.4 103.4h0.85M136.5 98.7h0.85M132.5 93.9h0.85M146.3 105.9h0.85M140.0 103.2h0.85M132.3 102.8h0.85M135.9 101.6h0.85M133.4 103.2h0.85M137.3 92.5h0.85M132.5 99.0h0.85M145.1 102.5h0.85M144.0 102.9h0.85M141.7 100.7h0.85M140.2 98.9h0.85M135.4 97.0h0.85M139.8 104.1h0.85M133.9 106.0h0.85M133.8 96.8h0.85M137.8 105.3h0.85M131.2 98.8h0.85M138.0 105.2h0.85M131.2 103.3h0.85M133.3 105.6h0.85M136.1 100.2h0.85M132.6 103.0h0.85M132.0 102.7h0.85M133.0 101.8h0.85M140.0 97.0h0.85M139.5 102.8h0.85M133.0 105.7h0.85M135.8 105.3h0.85M133.1 103.8h0.85M142.5 98.5h0.85M135.8 104.6h0.85M139.5 103.3h0.85M136.5 94.2h0.85M137.1 95.5h0.85M137.5 90.4h0.85M139.1 97.6h0.85M135.7 105.8h0.85M140.1 98.3h0.85M142.6 105.1h0.85M139.5 99.9h0.85M137.1 98.2h0.85M137.9 98.4h0.85M142.4 101.8h0.85M138.0 103.2h0.85M138.5 94.8h0.85M142.9 102.0h0.85M134.5 97.0h0.85M133.9 98.7h0.85M137.1 97.5h0.85M137.5 102.3h0.85M136.5 103.2h0.85M137.5 100.8h0.85M136.7 97.4h0.85M139.5 91.3h0.85M137.7 100.6h0.85M138.5 94.3h0.85M135.0 96.6h0.85M134.5 104.3h0.85M136.0 98.6h0.85M142.3 101.5h0.85M138.8 103.5h0.85M137.9 102.6h0.85M132.8 100.9h0.85M131.4 97.4h0.85M132.7 97.3h0.85M135.2 100.2h0.85M133.1 106.4h0.85M141.3 95.5h0.85M140.7 94.6h0.85M143.2 102.7h0.85M132.2 90.8h0.85M134.8 94.7h0.85M141.6 95.2h0.85M135.5 103.4h0.85M136.6 102.3h0.85M135.4 104.5h0.85M132.3 103.7h0.85M131.1 101.9h0.85M131.4 100.1h0.85M139.2 106.9h0.85M132.1 106.7h0.85M132.6 104.3h0.85M134.1 94.2h0.85M137.0 95.6h0.85M139.8 104.9h0.85M142.5 96.2h0.85M143.6 105.5h0.85M144.1 96.0h0.85M137.9 94.6h0.85M135.8 101.8h0.85M139.3 97.0h0.85M136.3 96.5h0.85M138.2 104.1h0.85M136.8 106.4h0.85M139.9 102.7h0.85M141.7 95.1h0.85M136.3 92.5h0.85M136.4 98.7h0.85M140.2 98.8h0.85M133.5 100.5h0.85M135.8 103.4h0.85M132.5 93.8h0.85M130.7 98.7h0.85M131.4 105.1h0.85M133.9 106.8h0.85M133.2 102.4h0.85M139.9 105.5h0.85M131.0 99.2h0.85M136.1 92.3h0.85M139.7 102.8h0.85M138.8 94.3h0.85M137.3 103.0h0.85M141.1 98.5h0.85M134.5 99.0h0.85M135.0 93.9h0.85M132.2 100.1h0.85M141.9 103.7h0.85M137.5 99.4h0.85M136.0 101.0h0.85M139.6 101.4h0.85M140.8 92.1h0.85M140.2 98.5h0.85M136.5 99.0h0.85M139.4 100.4h0.85M139.3 97.2h0.85M137.4 106.8h0.85M141.6 99.3h0.85M137.1 99.2h0.85M136.0 101.1h0.85M142.0 103.8h0.85M130.8 102.5h0.85M134.5 93.4h0.85M131.6 98.6h0.85M144.1 101.4h0.85M135.7 100.9h0.85M133.1 101.8h0.85M136.1 93.3h0.85M139.4 100.6h0.85M139.5 96.4h0.85M136.9 105.2h0.85M134.7 99.7h0.85M134.2 102.3h0.85M141.1 102.7h0.85M141.2 106.0h0.85M133.8 102.3h0.85M134.8 104.1h0.85M135.0 100.2h0.85M144.2 100.2h0.85M137.9 98.7h0.85M136.9 105.8h0.85M134.2 100.2h0.85M133.4 102.6h0.85M136.0 96.7h0.85M138.1 94.5h0.85M145.3 94.1h0.85M130.7 98.6h0.85M141.4 104.8h0.85M139.1 102.5h0.85M142.4 92.5h0.85M131.8 102.6h0.85M138.8 106.1h0.85M131.8 97.5h0.85M140.1 101.8h0.85M135.2 106.7h0.85M141.3 104.6h0.85M132.4 99.7h0.85M140.2 96.9h0.85M135.9 104.1h0.85M141.6 102.6h0.85M139.7 97.8h0.85M133.9 103.9h0.85M138.1 95.9h0.85M136.2 97.4h0.85M132.4 98.1h0.85M139.1 101.5h0.85M137.4 94.4h0.85M136.5 99.4h0.85M133.0 98.5h0.85M135.3 105.0h0.85M145.0 101.7h0.85M143.2 101.7h0.85M130.0 101.4h0.85M133.4 97.8h0.85M138.4 105.4h0.85M136.2 104.4h0.85M134.6 106.7h0.85M133.6 94.7h0.85M140.1 97.6h0.85M141.6 100.4h0.85M136.2 94.4h0.85M134.3 101.7h0.85M137.6 98.6h0.85M133.1 103.1h0.85M129.9 103.1h0.85M132.4 100.5h0.85M137.5 100.1h0.85M141.4 97.6h0.85M134.6 102.7h0.85M136.6 102.4h0.85M135.8 97.5h0.85M139.7 101.6h0.85M135.2 97.8h0.85M134.7 98.2h0.85M134.3 104.0h0.85M138.0 100.9h0.85M141.1 101.3h0.85M136.4 102.0h0.85M139.4 104.9h0.85M139.5 100.4h0.85M144.1 100.3h0.85M130.5 104.2h0.85M142.0 101.8h0.85M138.4 105.7h0.85M143.5 104.0h0.85M144.2 102.6h0.85M146.1 94.9h0.85M141.0 102.6h0.85M137.3 95.4h0.85M141.5 100.4h0.85M132.4 98.4h0.85M135.8 101.8h0.85M132.8 97.0h0.85M138.6 101.0h0.85M145.5 99.3h0.85M135.9 105.8h0.85M138.1 101.5h0.85M143.9 96.7h0.85M134.1 93.1h0.85M136.2 105.8h0.85M135.7 105.1h0.85M133.4 106.6h0.85M136.3 99.1h0.85M144.0 101.2h0.85M139.3 101.8h0.85M139.9 101.9h0.85M131.5 102.6h0.85M138.9 103.1h0.85M133.6 101.9h0.85M137.7 96.3h0.85M131.5 104.3h0.85M139.8 101.9h0.85M137.8 104.1h0.85M142.0 103.4h0.85M134.8 103.5h0.85M137.7 96.6h0.85M132.8 103.3h0.85M136.0 104.6h0.85M133.4 103.8h0.85M141.7 95.2h0.85M132.5 103.1h0.85M139.2 106.1h0.85M131.6 99.3h0.85M143.1 98.7h0.85M135.7 93.3h0.85M135.9 93.9h0.85M138.1 102.0h0.85M135.0 103.8h0.85M131.8 99.1h0.85M146.3 95.2h0.85M134.2 94.8h0.85M142.1 100.1h0.85M131.1 95.5h0.85M141.6 104.3h0.85M140.2 100.9h0.85M139.6 93.8h0.85M137.9 94.3h0.85M131.9 101.3h0.85M132.8 95.3h0.85M140.9 103.4h0.85M140.1 105.4h0.85M143.0 100.9h0.85M135.8 93.0h0.85M135.5 98.3h0.85M141.2 104.2h0.85M143.1 106.1h0.85M141.8 103.5h0.85M137.2 99.3h0.85M136.5 96.7h0.85M138.3 100.7h0.85M133.3 98.9h0.85M133.7 95.2h0.85M138.2 105.6h0.85M143.8 96.3h0.85M135.4 99.0h0.85M143.2 104.2h0.85M136.6 104.3h0.85M134.9 100.0h0.85M136.3 98.7h0.85M135.4 102.6h0.85M140.3 100.6h0.85M134.2 99.2h0.85M130.7 99.2h0.85M136.9 98.0h0.85M135.8 100.5h0.85M133.3 96.9h0.85M135.8 102.1h0.85M131.8 91.5h0.85M132.2 103.2h0.85M133.8 101.5h0.85M133.0 103.5h0.85M136.6 102.6h0.85M138.6 100.0h0.85M138.5 101.6h0.85M136.8 97.1h0.85M140.8 106.0h0.85M134.0 96.8h0.85M137.2 97.4h0.85M136.9 104.6h0.85M138.4 96.1h0.85M132.6 103.3h0.85M144.7 99.2h0.85M135.8 104.0h0.85M141.0 96.4h0.85M134.8 98.3h0.85M138.6 103.8h0.85M134.2 103.4h0.85M137.8 100.8h0.85M130.0 100.4h0.85M135.1 99.9h0.85M135.8 103.3h0.85M136.7 103.2h0.85M132.3 105.8h0.85M134.2 104.2h0.85M137.4 105.7h0.85M136.0 94.2h0.85M131.3 99.8h0.85M142.3 98.9h0.85M136.6 106.5h0.85M133.9 102.2h0.85M137.5 98.1h0.85M137.3 105.5h0.85M140.9 99.3h0.85M148.9 102.4h0.85M135.1 97.6h0.85M132.1 104.5h0.85M130.4 100.0h0.85M136.2 94.9h0.85M132.1 106.5h0.85M133.9 100.8h0.85M135.0 104.6h0.85M141.6 105.0h0.85M138.7 103.4h0.85M131.2 106.7h0.85M133.9 96.8h0.85M134.7 97.2h0.85M138.1 104.1h0.85M141.9 100.4h0.85M133.8 99.6h0.85M131.3 97.5h0.85M145.0 97.3h0.85M134.3 103.7h0.85M137.4 104.3h0.85M132.6 96.0h0.85M142.0 97.8h0.85M135.9 101.8h0.85M133.5 103.2h0.85M135.0 90.7h0.85M139.7 89.3h0.85M134.5 97.7h0.85M133.7 100.8h0.85M140.4 96.9h0.85M133.7 104.2h0.85M138.5 104.0h0.85M137.8 99.7h0.85M134.2 98.7h0.85M144.9 96.1h0.85M135.3 100.8h0.85M135.6 95.7h0.85M135.6 98.8h0.85M136.3 95.4h0.85M134.9 104.3h0.85M143.5 104.8h0.85M141.9 96.1h0.85M137.1 100.5h0.85M143.6 96.5h0.85M132.2 97.5h0.85M143.4 105.1h0.85M136.4 102.8h0.85M138.2 106.8h0.85M132.0 104.0h0.85M136.7 99.8h0.85M132.8 97.6h0.85M132.6 92.9h0.85M139.6 100.2h0.85M130.1 90.7h0.85M136.0 87.1h0.85M138.0 95.2h0.85M138.6 99.2h0.85M145.6 101.5h0.85M141.5 100.2h0.85M134.8 91.2h0.85M143.7 100.1h0.85M153.3 95.4h0.85M133.7 98.5h0.85M137.0 91.5h0.85M142.1 92.9h0.85M141.3 96.5h0.85M131.2 101.7h0.85M141.9 104.2h0.85M136.3 96.7h0.85M139.1 86.6h0.85M155.3 84.4h0.85M132.7 94.7h0.85M130.1 99.3h0.85M136.9 97.2h0.85M141.2 97.3h0.85M140.4 95.9h0.85M142.5 101.6h0.85M138.2 94.2h0.85M137.3 98.7h0.85M137.6 94.6h0.85M132.2 106.8h0.85M144.8 103.0h0.85M141.5 99.8h0.85M141.7 100.4h0.85M145.1 106.0h0.85M133.7 99.8h0.85M150.0 105.2h0.85M133.6 98.8h0.85M141.7 98.4h0.85M144.1 96.4h0.85M144.0 97.9h0.85M136.7 96.5h0.85M142.2 92.2h0.85M144.5 103.7h0.85M146.8 104.1h0.85M148.2 101.3h0.85M148.3 97.4h0.85M142.7 105.6h0.85M152.3 95.0h0.85M145.8 98.6h0.85M136.1 91.3h0.85M149.3 103.0h0.85M142.1 90.4h0.85M136.8 93.4h0.85M138.2 79.8h0.85M141.6 106.5h0.85M136.7 97.3h0.85M141.9 91.1h0.85M142.8 92.2h0.85M137.4 98.6h0.85M139.8 97.7h0.85M134.3 101.5h0.85M133.3 102.2h0.85M137.1 90.0h0.85M139.6 90.7h0.85M136.8 96.2h0.85M145.1 101.9h0.85M143.2 95.4h0.85M130.5 95.8h0.85M138.1 96.3h0.85M136.8 94.0h0.85M145.2 89.1h0.85M140.2 104.7h0.85M135.3 91.2h0.85M138.7 95.1h0.85M141.8 105.3h0.85M139.3 100.5h0.85M136.5 94.2h0.85M142.0 93.1h0.85M147.7 94.7h0.85M139.1 90.8h0.85M137.4 91.1h0.85M137.0 86.4h0.85M139.4 102.5h0.85M133.3 96.6h0.85M150.0 89.3h0.85M135.2 91.2h0.85M134.3 88.2h0.85M149.0 104.5h0.85M131.4 96.4h0.85M137.2 103.8h0.85M140.1 92.3h0.85M139.5 93.5h0.85M154.6 98.0h0.85M137.0 97.7h0.85M149.5 91.2h0.85M144.0 94.3h0.85M139.6 103.9h0.85M138.9 101.2h0.85M136.1 103.8h0.85M145.1 87.5h0.85M146.6 104.4h0.85M135.6 99.2h0.85M136.3 104.9h0.85M138.3 95.0h0.85M150.5 91.7h0.85M148.4 94.8h0.85M134.3 91.8h0.85M147.3 96.5h0.85M137.7 87.7h0.85M147.6 103.5h0.85M142.1 101.8h0.85M141.1 97.7h0.85M136.3 98.5h0.85M135.3 92.9h0.85M131.9 97.9h0.85M135.3 93.9h0.85M149.0 96.7h0.85M139.8 87.5h0.85M136.6 103.1h0.85M143.6 97.3h0.85M138.9 97.4h0.85M142.6 95.0h0.85M147.4 96.0h0.85M149.2 88.9h0.85M148.4 98.2h0.85M145.8 94.9h0.85M141.0 100.6h0.85M146.8 100.2h0.85M142.9 93.3h0.85M151.2 98.3h0.85M138.5 95.0h0.85M132.2 92.4h0.85M130.1 98.3h0.85M139.5 98.4h0.85M131.9 94.4h0.85M135.8 103.1h0.85M130.3 87.6h0.85M148.3 99.2h0.85M149.7 104.1h0.85M134.4 95.3h0.85M135.5 98.7h0.85M145.2 100.8h0.85M142.7 94.6h0.85M141.4 95.6h0.85M135.9 93.8h0.85M137.3 88.4h0.85M132.1 85.8h0.85M143.0 104.3h0.85M140.5 89.9h0.85M148.5 95.0h0.85M141.2 105.9h0.85M137.5 93.0h0.85M138.2 91.7h0.85M136.4 98.5h0.85M135.3 102.7h0.85M133.6 101.4h0.85M142.2 94.6h0.85M138.0 94.9h0.85M150.9 91.9h0.85M147.7 103.2h0.85M140.8 97.1h0.85M145.4 94.5h0.85M138.7 104.1h0.85M139.2 90.5h0.85M143.7 96.4h0.85M136.3 100.4h0.85M134.9 90.9h0.85M138.3 95.8h0.85M140.3 89.5h0.85M151.1 101.1h0.85M140.9 98.4h0.85M133.3 100.1h0.85M132.2 103.1h0.85M136.5 95.6h0.85M149.9 103.1h0.85M131.0 92.6h0.85M141.2 95.5h0.85M145.2 92.7h0.85M138.8 100.4h0.85M144.8 104.7h0.85M141.5 95.7h0.85M144.7 96.3h0.85M136.9 94.1h0.85M146.0 106.2h0.85M148.5 87.0h0.85M147.1 90.0h0.85M137.7 100.6h0.85M131.3 89.3h0.85M147.0 91.4h0.85M140.9 97.8h0.85M142.0 92.6h0.85M149.3 94.6h0.85M145.3 86.5h0.85M142.5 97.9h0.85M148.8 80.9h0.85M143.6 102.0h0.85M138.2 105.1h0.85M153.6 102.4h0.85M145.2 105.3h0.85M142.8 104.6h0.85M143.9 92.7h0.85M133.1 104.3h0.85M143.9 92.8h0.85M140.1 106.1h0.85M144.5 102.1h0.85M132.4 90.8h0.85M141.1 105.7h0.85M140.1 82.6h0.85M146.7 96.8h0.85M137.0 89.8h0.85M147.7 98.6h0.85M142.6 99.1h0.85M142.8 102.2h0.85M151.1 90.4h0.85M139.5 94.2h0.85M150.9 95.2h0.85M135.2 92.4h0.85M137.1 88.9h0.85M139.1 91.2h0.85M144.0 105.2h0.85M141.8 91.7h0.85M142.9 89.3h0.85M135.6 96.2h0.85M142.8 97.2h0.85M135.5 94.7h0.85M137.3 95.1h0.85M141.7 100.5h0.85M142.2 92.8h0.85M134.8 93.5h0.85M139.9 98.5h0.85M148.4 96.0h0.85M146.0 86.7h0.85M143.9 98.1h0.85M136.4 98.0h0.85M142.5 100.6h0.85M147.4 96.9h0.85M133.0 95.2h0.85M137.6 101.7h0.85M147.2 88.7h0.85M148.0 89.6h0.85M156.9 92.8h0.85M147.1 95.3h0.85M144.6 92.3h0.85M140.8 97.1h0.85M140.6 101.9h0.85M137.1 94.9h0.85M131.4 96.1h0.85M136.8 102.4h0.85M144.3 92.5h0.85M142.8 105.1h0.85M138.6 89.7h0.85M156.0 100.4h0.85M134.8 98.9h0.85M142.5 92.1h0.85M134.4 95.9h0.85M138.5 106.8h0.85M138.4 96.0h0.85M138.8 87.0h0.85M136.8 88.6h0.85M140.8 83.3h0.85M132.6 98.5h0.85M146.4 88.7h0.85M139.9 98.9h0.85M133.0 86.5h0.85M149.9 93.5h0.85M143.3 92.2h0.85M142.3 88.8h0.85M131.0 90.5h0.85M135.9 93.0h0.85M137.8 99.6h0.85M136.5 102.7h0.85M135.6 101.1h0.85M139.9 99.1h0.85M133.8 102.8h0.85M144.4 93.5h0.85M135.9 102.3h0.85M146.7 101.7h0.85M137.5 97.0h0.85M146.1 102.2h0.85M147.3 97.8h0.85M135.4 98.8h0.85M142.9 93.7h0.85M142.9 91.8h0.85M141.6 93.2h0.85M153.7 104.4h0.85M141.7 88.8h0.85M132.0 101.3h0.85M139.0 98.9h0.85M140.7 95.7h0.85M131.3 92.0h0.85M145.1 94.3h0.85M142.2 97.8h0.85M136.1 104.5h0.85M130.6 90.1h0.85M139.8 87.8h0.85M146.3 93.1h0.85M143.4 95.0h0.85M138.3 97.0h0.85M145.2 101.4h0.85M133.2 102.5h0.85M148.1 101.6h0.85M157.0 88.6h0.85M133.0 95.3h0.85M133.6 97.3h0.85M143.3 96.9h0.85M140.6 99.5h0.85M145.0 92.9h0.85M135.6 104.3h0.85M137.7 91.8h0.85M141.8 94.8h0.85M140.7 96.5h0.85M144.0 102.6h0.85M134.5 89.4h0.85M150.3 92.7h0.85M139.7 92.9h0.85M133.0 103.1h0.85M141.4 96.8h0.85M131.7 95.8h0.85M144.2 97.9h0.85M146.8 97.4h0.85M144.4 99.7h0.85M136.2 105.2h0.85M142.3 102.0h0.85M133.0 90.2h0.85M138.7 91.9h0.85M143.9 99.4h0.85M147.9 100.6h0.85M132.6 102.8h0.85M135.7 92.4h0.85M140.3 96.8h0.85M142.7 105.9h0.85M138.5 99.0h0.85M136.5 94.3h0.85M148.6 99.7h0.85M142.8 91.9h0.85M151.0 95.8h0.85M135.7 96.8h0.85M144.3 101.5h0.85M149.4 90.3h0.85M137.1 106.6h0.85M154.7 93.0h0.85M139.3 87.3h0.85M134.6 91.4h0.85M139.2 89.5h0.85M145.9 96.6h0.85M138.3 102.6h0.85M138.2 89.2h0.85M140.6 100.2h0.85M138.6 95.6h0.85M143.2 80.6h0.85M131.9 93.2h0.85M138.2 105.9h0.85M155.8 100.8h0.85M142.5 101.1h0.85M149.7 90.8h0.85M136.7 97.9h0.85M141.8 85.2h0.85M142.7 87.1h0.85M144.9 102.2h0.85M141.2 93.1h0.85M143.1 90.2h0.85M130.6 89.7h0.85M133.3 103.9h0.85M141.8 96.7h0.85M145.6 97.0h0.85M140.1 91.7h0.85M135.9 97.1h0.85M140.7 93.5h0.85M146.2 90.4h0.85M146.8 97.4h0.85M152.1 93.5h0.85M137.3 91.7h0.85M131.8 98.5h0.85M133.0 98.9h0.85M135.8 103.4h0.85M140.2 96.9h0.85M137.2 99.5h0.85M138.2 94.7h0.85M140.5 101.1h0.85M132.6 94.0h0.85M130.8 99.3h0.85M134.3 92.3h0.85M144.1 96.8h0.85M142.5 96.0h0.85M142.5 97.4h0.85M132.6 98.2h0.85M137.6 95.4h0.85M141.7 93.5h0.85M133.0 104.2h0.85M151.8 94.7h0.85M147.3 99.3h0.85M135.7 91.7h0.85M138.0 94.2h0.85M137.7 96.1h0.85M132.5 102.2h0.85M132.5 90.3h0.85M145.9 101.6h0.85M149.3 97.7h0.85M135.7 104.0h0.85M139.2 96.1h0.85M134.4 99.4h0.85M155.9 95.2h0.85M137.0 90.0h0.85M148.0 79.3h0.85M130.2 88.7h0.85M135.4 84.3h0.85M145.2 103.2h0.85M139.5 94.3h0.85M135.3 100.7h0.85M146.5 97.2h0.85M148.7 98.6h0.85M149.1 83.0h0.85M139.1 95.8h0.85M146.2 100.2h0.85M136.4 98.9h0.85M147.6 90.2h0.85M141.8 103.4h0.85M135.4 105.0h0.85M139.3 103.8h0.85M145.9 98.5h0.85M138.0 92.8h0.85M141.0 98.2h0.85M149.0 96.4h0.85M142.0 99.7h0.85M150.4 97.5h0.85M142.5 101.6h0.85M139.1 90.0h0.85M130.4 95.7h0.85M147.2 103.1h0.85M150.5 102.5h0.85M135.7 87.9h0.85M136.5 95.3h0.85M135.1 102.6h0.85M134.8 100.5h0.85M145.0 86.1h0.85M137.2 104.7h0.85M145.4 97.7h0.85M132.7 92.5h0.85M140.5 104.7h0.85M143.1 96.4h0.85M141.4 101.7h0.85M140.1 104.4h0.85M146.9 92.1h0.85M140.0 92.3h0.85M137.4 97.8h0.85M137.5 93.4h0.85M132.3 87.1h0.85M138.6 98.1h0.85M143.9 91.8h0.85M135.2 104.7h0.85M142.6 102.4h0.85M136.2 92.5h0.85M132.4 103.0h0.85M132.5 86.2h0.85M135.0 104.7h0.85M140.1 98.3h0.85M140.6 96.6h0.85M138.8 88.2h0.85M150.7 95.9h0.85M147.7 87.2h0.85M143.4 89.6h0.85M131.5 98.5h0.85M146.6 105.3h0.85M148.5 95.2h0.85M145.0 93.2h0.85M136.4 98.4h0.85M139.1 102.1h0.85M136.1 106.0h0.85M147.3 89.8h0.85M139.6 101.1h0.85M134.7 92.3h0.85M137.9 101.5h0.85M145.8 94.3h0.85M145.3 106.0h0.85M145.8 92.4h0.85M134.4 98.7h0.85M145.2 99.6h0.85M137.4 91.2h0.85M148.1 96.0h0.85M152.0 89.8h0.85M137.8 93.0h0.85M151.8 104.6h0.85M136.7 85.0h0.85M147.4 97.7h0.85M132.6 87.7h0.85M142.5 95.7h0.85M140.9 99.4h0.85M137.5 95.3h0.85M144.2 96.3h0.85M138.2 100.9h0.85M142.8 92.2h0.85M138.8 104.5h0.85M143.5 86.0h0.85M133.4 98.1h0.85M151.5 101.7h0.85M138.7 100.5h0.85M140.1 95.1h0.85M142.4 83.8h0.85M146.5 100.3h0.85M137.2 91.7h0.85M132.2 98.7h0.85M141.0 98.1h0.85M151.0 83.5h0.85M135.3 92.2h0.85M146.1 95.5h0.85M133.9 98.3h0.85M141.6 94.3h0.85M136.8 92.0h0.85M143.2 102.0h0.85M138.5 96.2h0.85M148.9 97.6h0.85M143.2 90.3h0.85M136.1 83.9h0.85M131.2 99.3h0.85M148.0 95.4h0.85M132.3 97.6h0.85M147.4 96.0h0.85M145.9 96.6h0.85M132.1 91.4h0.85M143.8 95.5h0.85M141.9 98.3h0.85M137.2 96.4h0.85M138.4 101.6h0.85M150.1 105.2h0.85M138.0 100.4h0.85M135.3 90.3h0.85M140.5 100.8h0.85M139.6 102.1h0.85M145.4 101.7h0.85M139.0 88.6h0.85M151.6 94.1h0.85" stroke="#000" stroke-width="0.85" fill="none" opacity="1"/>
<path d="M167.6 54.4h0.7M162.3 61.1h0.7M167.4 51.9h0.7M161.9 47.2h0.7M157.7 54.8h0.7M161.8 49.8h0.7M166.5 50.3h0.7M167.2 48.8h0.7M161.4 56.6h0.7M160.6 55.0h0.7M166.5 52.1h0.7M155.8 45.5h0.7M158.6 45.6h0.7M168.3 47.7h0.7M157.9 49.5h0.7M163.5 43.8h0.7M167.0 55.6h0.7M161.1 56.0h0.7M156.3 49.3h0.7M163.2 52.3h0.7M169.7 50.4h0.7M159.0 53.1h0.7M164.8 54.2h0.7M162.4 52.8h0.7M161.2 54.8h0.7M160.7 48.9h0.7M169.7 48.2h0.7M164.0 54.8h0.7M141.0 78.1h0.7M132.0 73.2h0.7M138.0 70.4h0.7M138.7 70.6h0.7M153.2 64.1h0.7M153.8 62.3h0.7M151.4 79.5h0.7M143.9 75.3h0.7M132.0 72.5h0.7M149.3 78.3h0.7M144.1 59.5h0.7M152.6 73.2h0.7M143.5 79.7h0.7M131.3 72.4h0.7M144.5 80.6h0.7M133.5 60.4h0.7M154.9 82.7h0.7M131.4 64.9h0.7M142.2 75.9h0.7M133.8 83.0h0.7M145.7 72.1h0.7M131.4 64.7h0.7M157.4 83.5h0.7M148.3 64.0h0.7M153.4 76.4h0.7M140.6 72.9h0.7M139.6 70.9h0.7M141.5 78.0h0.7M130.7 82.0h0.7M149.4 82.7h0.7M145.1 78.1h0.7M147.3 79.2h0.7M138.6 57.8h0.7M131.5 67.1h0.7M148.6 72.2h0.7M153.4 69.8h0.7M141.2 82.3h0.7M141.4 81.7h0.7M137.3 70.0h0.7M136.3 81.8h0.7M150.8 66.6h0.7M145.1 78.4h0.7M157.6 60.6h0.7M147.1 83.7h0.7M135.0 69.2h0.7M137.3 83.3h0.7M148.9 63.9h0.7M140.0 64.5h0.7M149.7 64.6h0.7M148.4 64.9h0.7M160.4 81.4h0.7M179.3 46.5h0.7M171.8 74.5h0.7M171.9 55.4h0.7M165.2 57.3h0.7M171.0 44.9h0.7M170.4 46.3h0.7M158.4 69.9h0.7M166.1 49.7h0.7M162.6 68.4h0.7M166.0 55.6h0.7M169.6 67.9h0.7M184.6 67.6h0.7M168.1 49.5h0.7M182.1 80.0h0.7M178.0 71.4h0.7M184.6 64.9h0.7M180.1 67.2h0.7M178.7 99.6h0.7M169.3 85.7h0.7M177.5 91.8h0.7M163.0 106.9h0.7M189.6 100.1h0.7M180.4 87.9h0.7M182.5 105.9h0.7M181.9 105.5h0.7M185.2 99.4h0.7M172.8 85.4h0.7M166.1 94.2h0.7M159.0 93.5h0.7M174.5 88.9h0.7M162.9 98.3h0.7M172.9 91.3h0.7M160.0 99.8h0.7M182.8 90.4h0.7M169.4 105.1h0.7M167.8 91.0h0.7M183.6 85.3h0.7M170.7 103.7h0.7M173.0 89.9h0.7M164.4 90.8h0.7M165.7 87.2h0.7M165.8 91.0h0.7M160.9 89.3h0.7M166.3 88.7h0.7M165.1 87.6h0.7M161.8 89.9h0.7M162.2 88.8h0.7M162.8 87.0h0.7M165.8 88.3h0.7M161.9 87.9h0.7M162.7 87.1h0.7M164.5 88.0h0.7M164.3 87.2h0.7M160.4 87.1h0.7M163.1 86.5h0.7M162.6 34.6h0.7M141.1 38.4h0.7M139.1 33.6h0.7M166.6 39.0h0.7M142.4 34.7h0.7M143.4 33.7h0.7M152.3 35.1h0.7M151.5 34.2h0.7M219.3 93.4h0.7M217.6 38.2h0.7M189.8 68.6h0.7M223.6 70.9h0.7" stroke="#222" stroke-width="0.7" fill="none" opacity="0.8"/>
<rect x="21.6" y="123.9" width="98.9" height="77.6" fill="none" stroke="#000" stroke-width="1.1"/>
<path d="M50.5 123.9V201.5M21.6 164.5H120.5" stroke="#000" stroke-width="1.05" fill="none"/>
<path d="M29.0 201.5v1.9M21.6 195.7h-1.3M33.4 201.5v1.9M21.6 192.2h-1.3M36.5 201.5v1.9M21.6 189.8h-1.3M38.9 201.5v1.9M21.6 187.9h-1.3M40.8 201.5v1.9M21.6 186.4h-1.3M42.5 201.5v1.9M21.6 185.1h-1.3M43.9 201.5v1.9M21.6 184.0h-1.3M45.2 201.5v1.9M21.6 183.0h-1.3M53.8 201.5v1.9M21.6 176.3h-1.3M58.1 201.5v1.9M21.6 172.8h-1.3M61.2 201.5v1.9M21.6 170.4h-1.3M63.6 201.5v1.9M21.6 168.5h-1.3M65.6 201.5v1.9M21.6 167.0h-1.3M67.2 201.5v1.9M21.6 165.7h-1.3M68.7 201.5v1.9M21.6 164.6h-1.3M69.9 201.5v1.9M21.6 163.6h-1.3M78.5 201.5v1.9M21.6 156.9h-1.3M82.8 201.5v1.9M21.6 153.4h-1.3M85.9 201.5v1.9M21.6 151.0h-1.3M88.3 201.5v1.9M21.6 149.1h-1.3M90.3 201.5v1.9M21.6 147.6h-1.3M91.9 201.5v1.9M21.6 146.3h-1.3M93.4 201.5v1.9M21.6 145.2h-1.3M94.6 201.5v1.9M21.6 144.2h-1.3M103.2 201.5v1.9M21.6 137.5h-1.3M107.6 201.5v1.9M21.6 134.0h-1.3M110.7 201.5v1.9M21.6 131.6h-1.3M113.1 201.5v1.9M21.6 129.7h-1.3M115.0 201.5v1.9M21.6 128.2h-1.3M116.7 201.5v1.9M21.6 126.9h-1.3M118.1 201.5v1.9M21.6 125.8h-1.3M119.4 201.5v1.9M21.6 124.8h-1.3M21.6 201.5v2.6M21.6 201.5h-2.2M46.3 201.5v2.6M21.6 182.1h-2.2M71.1 201.5v2.6M21.6 162.7h-2.2M95.8 201.5v2.6M21.6 143.3h-2.2M120.5 201.5v2.6M21.6 123.9h-2.2" stroke="#000" stroke-width="0.9" fill="none"/>
<text x="18.7" y="211.2" class="a" font-size="5.7" stroke="#000" stroke-width="0.15">10<tspan dy="-2.1" dx="0.3" font-size="4.9">0</tspan></text>
<text x="43.4" y="211.2" class="a" font-size="5.7" stroke="#000" stroke-width="0.15">10<tspan dy="-2.1" dx="0.3" font-size="4.9">1</tspan></text>
<text x="68.2" y="211.2" class="a" font-size="5.7" stroke="#000" stroke-width="0.15">10<tspan dy="-2.1" dx="0.3" font-size="4.9">2</tspan></text>
<text x="92.9" y="211.2" class="a" font-size="5.7" stroke="#000" stroke-width="0.15">10<tspan dy="-2.1" dx="0.3" font-size="4.9">3</tspan></text>
<text x="117.6" y="211.2" class="a" font-size="5.7" stroke="#000" stroke-width="0.15">10<tspan dy="-2.1" dx="0.3" font-size="4.9">4</tspan></text>
<path d="M22 168.3H49.5Q53.5 170 53 176Q52.5 181 48 184.5Q44 187.8 36 187.8H22Z" fill="#000"/>
<path d="M37.3 178.1h0.85M27.9 181.9h0.85M44.7 179.7h0.85M31.4 181.3h0.85M33.3 184.8h0.85M32.8 174.6h0.85M35.4 171.7h0.85M30.3 176.0h0.85M41.5 179.3h0.85M30.4 178.7h0.85M38.1 178.2h0.85M25.0 176.9h0.85M30.3 174.1h0.85M35.3 182.4h0.85M49.0 177.8h0.85M28.6 186.1h0.85M25.6 174.4h0.85M36.2 173.3h0.85M50.0 179.9h0.85M47.7 175.9h0.85M45.8 176.7h0.85M36.8 179.3h0.85M41.6 180.8h0.85M36.2 168.9h0.85M35.2 162.1h0.85M35.5 172.9h0.85M45.4 162.0h0.85M55.9 175.6h0.85M23.8 180.0h0.85M42.4 180.0h0.85M57.5 172.7h0.85M40.6 178.4h0.85M31.9 179.2h0.85M49.2 172.6h0.85M42.0 183.3h0.85M43.8 168.3h0.85M40.5 175.3h0.85M48.9 176.8h0.85M55.5 170.4h0.85M42.5 172.5h0.85M53.8 186.5h0.85M29.8 181.8h0.85M37.6 168.2h0.85M28.7 178.1h0.85M42.6 175.4h0.85M40.6 179.3h0.85M40.6 170.7h0.85M39.2 180.6h0.85M24.7 186.4h0.85M51.0 178.4h0.85M56.7 172.9h0.85M29.6 173.9h0.85M31.6 188.1h0.85M38.5 177.2h0.85M41.3 186.7h0.85M39.5 175.3h0.85M40.5 184.8h0.85M36.2 185.6h0.85M40.8 176.5h0.85M42.4 188.9h0.85M35.9 185.4h0.85M43.1 178.4h0.85M38.5 182.2h0.85M43.5 179.7h0.85M43.9 172.6h0.85M32.2 171.8h0.85M35.0 176.3h0.85M34.8 180.6h0.85M29.6 176.1h0.85M45.8 187.2h0.85M38.5 184.4h0.85M50.2 171.7h0.85M40.2 171.5h0.85M34.6 179.9h0.85M26.8 180.6h0.85M36.8 176.1h0.85M42.8 172.8h0.85M23.0 177.7h0.85M31.6 176.4h0.85M28.3 172.2h0.85M28.9 170.2h0.85M30.8 173.0h0.85M38.2 195.6h0.85M32.5 168.4h0.85M43.1 170.4h0.85M30.1 175.5h0.85M38.3 177.9h0.85M40.1 176.8h0.85M47.7 182.2h0.85M33.1 176.2h0.85M25.9 181.2h0.85M36.1 188.3h0.85M31.9 186.1h0.85M29.8 167.9h0.85M30.3 179.4h0.85M46.9 172.4h0.85M46.4 174.5h0.85M33.3 175.7h0.85M52.4 178.4h0.85M40.6 168.8h0.85M39.3 179.0h0.85M52.2 172.5h0.85M31.6 172.2h0.85M32.1 181.2h0.85M30.8 184.6h0.85M38.1 172.2h0.85M32.1 169.6h0.85M25.0 183.9h0.85M45.6 171.8h0.85M33.8 186.5h0.85M31.4 178.6h0.85M42.2 176.2h0.85M36.1 175.4h0.85M38.8 168.5h0.85M38.2 178.4h0.85M26.1 179.9h0.85M29.5 162.4h0.85M42.7 174.9h0.85M24.9 176.4h0.85M45.8 177.0h0.85M24.7 179.9h0.85M35.9 176.3h0.85M38.2 180.5h0.85M36.7 171.8h0.85M36.7 178.0h0.85M48.0 170.3h0.85M36.4 172.3h0.85M40.0 174.2h0.85M31.8 171.1h0.85M24.3 171.2h0.85M26.2 176.4h0.85M38.9 176.8h0.85M40.8 172.5h0.85M42.9 176.7h0.85M41.5 180.7h0.85M34.4 184.3h0.85M44.7 174.9h0.85M53.1 186.7h0.85M24.1 164.5h0.85M32.2 179.9h0.85M45.9 181.0h0.85M37.5 182.8h0.85M43.9 174.8h0.85M39.3 183.3h0.85M32.1 173.7h0.85M30.4 185.6h0.85M43.6 182.1h0.85M34.5 177.2h0.85M48.4 175.7h0.85M48.1 177.2h0.85M37.5 180.5h0.85M45.3 187.3h0.85M34.7 186.9h0.85M31.1 172.5h0.85M50.8 170.6h0.85M34.9 175.9h0.85M24.2 177.8h0.85M40.4 174.5h0.85M28.9 178.1h0.85M43.0 169.4h0.85M36.9 180.5h0.85M52.9 170.1h0.85M49.3 175.7h0.85M43.1 176.5h0.85M27.8 167.7h0.85M58.8 169.8h0.85M35.5 185.5h0.85M40.5 178.4h0.85M26.2 167.2h0.85M41.0 182.1h0.85M31.1 173.7h0.85M41.6 182.4h0.85M28.6 184.0h0.85M46.1 177.4h0.85M28.1 180.6h0.85M43.9 187.4h0.85M32.6 186.4h0.85M34.8 180.4h0.85M36.9 177.9h0.85M50.8 173.5h0.85M45.2 175.9h0.85M37.6 173.4h0.85M39.6 166.1h0.85M35.6 183.2h0.85M45.3 168.2h0.85M28.0 175.1h0.85M54.4 175.0h0.85M37.8 176.0h0.85M40.6 172.3h0.85M40.2 180.1h0.85M47.1 172.4h0.85M45.9 188.4h0.85M44.9 181.4h0.85M54.9 184.4h0.85M42.4 182.2h0.85M64.5 173.4h0.85M34.4 183.8h0.85M40.2 165.1h0.85M39.9 179.5h0.85M29.7 179.6h0.85M40.1 167.2h0.85M42.5 189.8h0.85M53.5 171.0h0.85M26.2 177.8h0.85M40.5 169.8h0.85M31.4 185.3h0.85M40.1 183.4h0.85M37.7 183.4h0.85M33.2 174.5h0.85M29.5 166.4h0.85M34.4 169.7h0.85M33.8 178.3h0.85M39.5 179.7h0.85M34.4 177.1h0.85M48.2 176.6h0.85M38.2 163.3h0.85M28.0 183.7h0.85M30.2 171.2h0.85M46.5 170.4h0.85M46.7 176.8h0.85M32.3 165.6h0.85M49.7 166.9h0.85M26.8 181.9h0.85M26.7 180.3h0.85M37.5 175.8h0.85M28.4 173.6h0.85M40.3 171.7h0.85M43.5 178.8h0.85M42.7 178.7h0.85M42.9 179.6h0.85M45.2 179.6h0.85M40.7 172.1h0.85M22.4 177.7h0.85M46.4 172.0h0.85M23.6 174.2h0.85M41.0 182.3h0.85M34.9 170.6h0.85M37.3 181.3h0.85M37.3 183.2h0.85M33.3 182.4h0.85M52.5 171.6h0.85M30.0 181.1h0.85M65.7 180.3h0.85M37.6 184.9h0.85M36.8 168.0h0.85M29.3 185.2h0.85M22.7 169.2h0.85M45.1 178.2h0.85M48.6 171.3h0.85M31.2 175.4h0.85M26.7 176.0h0.85M36.3 182.4h0.85M37.0 175.1h0.85M42.2 183.8h0.85M47.1 179.0h0.85M34.4 174.6h0.85M26.1 177.8h0.85M37.6 186.9h0.85M39.8 181.7h0.85M49.5 166.6h0.85M32.0 176.0h0.85M38.9 170.8h0.85M45.5 182.6h0.85M42.3 181.3h0.85M28.0 183.9h0.85M32.3 166.5h0.85M38.9 179.8h0.85M31.7 167.8h0.85M27.5 176.5h0.85M46.8 176.3h0.85M47.3 176.4h0.85M27.6 181.0h0.85M42.8 172.0h0.85M25.1 171.7h0.85M48.3 175.6h0.85M63.0 173.6h0.85M43.2 179.2h0.85M35.8 182.2h0.85M30.1 177.0h0.85M27.3 164.7h0.85M38.4 170.7h0.85M26.1 180.7h0.85M36.3 179.6h0.85M53.3 178.4h0.85M41.9 170.5h0.85M45.3 182.3h0.85M28.4 181.2h0.85M40.7 176.1h0.85M38.6 191.4h0.85M32.0 175.5h0.85M38.7 176.3h0.85M46.1 187.4h0.85M32.8 170.1h0.85M43.7 171.4h0.85M37.8 175.0h0.85M39.5 174.8h0.85M44.1 172.1h0.85M59.3 181.9h0.85M32.2 171.8h0.85M36.2 174.7h0.85M30.4 185.5h0.85M46.6 171.1h0.85M42.9 177.5h0.85M44.8 173.6h0.85M57.0 177.9h0.85M55.8 174.7h0.85M50.0 176.8h0.85M52.9 176.4h0.85M28.3 171.2h0.85M32.2 180.9h0.85M41.3 178.1h0.85M47.5 186.9h0.85M28.9 183.3h0.85M58.7 173.9h0.85M32.8 179.8h0.85M40.0 174.3h0.85M37.3 186.8h0.85M46.2 172.8h0.85M22.6 171.0h0.85M39.6 172.9h0.85M30.4 181.6h0.85M35.4 175.2h0.85M39.9 185.9h0.85M40.7 181.5h0.85M38.7 186.5h0.85M26.9 171.0h0.85M33.4 189.2h0.85M51.8 171.1h0.85M33.8 180.7h0.85M38.6 182.6h0.85M33.5 167.9h0.85M43.5 184.7h0.85M24.2 166.6h0.85M33.9 166.7h0.85M41.8 170.8h0.85M44.7 175.5h0.85M39.2 181.3h0.85M36.2 171.6h0.85M46.2 169.0h0.85M50.7 174.0h0.85M33.3 179.8h0.85M41.8 180.4h0.85M24.8 172.4h0.85M41.1 179.7h0.85M37.2 185.0h0.85M36.4 183.0h0.85M47.8 179.5h0.85M36.3 181.8h0.85M42.0 181.1h0.85M30.2 180.2h0.85M52.4 175.9h0.85M39.3 176.1h0.85M46.0 165.6h0.85M52.4 180.5h0.85M36.0 179.1h0.85M48.2 179.7h0.85M44.1 184.5h0.85M39.6 181.8h0.85M51.3 180.8h0.85M32.5 182.0h0.85M56.4 175.7h0.85M42.2 180.1h0.85M46.0 175.2h0.85M37.9 188.9h0.85M44.3 174.0h0.85M45.2 178.0h0.85M51.9 168.3h0.85M39.0 183.3h0.85M26.8 173.3h0.85M42.4 177.8h0.85M35.5 179.4h0.85M25.7 172.8h0.85M53.6 173.9h0.85M42.1 177.3h0.85M45.8 179.5h0.85M41.8 184.3h0.85M41.0 167.8h0.85M32.3 185.8h0.85M47.6 176.3h0.85M24.0 173.5h0.85M56.7 184.5h0.85M49.1 168.3h0.85M26.1 174.2h0.85M26.1 178.2h0.85M28.4 180.3h0.85M36.2 174.4h0.85M44.0 180.2h0.85M39.3 175.5h0.85M37.7 166.5h0.85M39.4 187.7h0.85M41.7 171.9h0.85M33.8 170.3h0.85M37.7 177.1h0.85M37.8 179.1h0.85M47.4 181.5h0.85M27.9 182.4h0.85M29.1 179.8h0.85M39.0 187.2h0.85M37.2 177.0h0.85M35.7 182.5h0.85M40.9 176.1h0.85M45.5 189.6h0.85M52.6 186.2h0.85M33.4 177.1h0.85M39.6 167.9h0.85M53.4 169.4h0.85M41.7 170.6h0.85M39.3 182.3h0.85M42.8 172.7h0.85M32.4 182.9h0.85M37.6 178.3h0.85M46.5 163.3h0.85M40.5 184.8h0.85M54.0 181.6h0.85M31.7 183.2h0.85M54.8 174.0h0.85M31.8 176.8h0.85M34.6 166.0h0.85M32.6 180.1h0.85M33.6 178.7h0.85M50.3 194.7h0.85M46.0 172.1h0.85M47.0 177.6h0.85M41.2 183.1h0.85M45.1 170.2h0.85M28.1 179.2h0.85M44.4 189.6h0.85M43.5 175.5h0.85M33.9 173.6h0.85M26.7 170.2h0.85M33.3 178.2h0.85M31.4 177.7h0.85M35.7 176.3h0.85M34.3 179.2h0.85M38.3 162.5h0.85M40.5 178.2h0.85M32.8 178.6h0.85M32.0 178.3h0.85M30.4 181.5h0.85M41.2 169.3h0.85M32.0 181.6h0.85M41.7 178.4h0.85M28.1 173.7h0.85M39.6 179.3h0.85M38.0 172.9h0.85M36.1 174.8h0.85M27.9 171.3h0.85M31.0 169.0h0.85M42.2 181.9h0.85M45.9 173.1h0.85M31.5 179.0h0.85M34.0 175.8h0.85M35.3 168.4h0.85M49.2 169.4h0.85M24.2 182.1h0.85M28.4 183.6h0.85M41.0 179.5h0.85M34.7 169.5h0.85M27.6 178.1h0.85M37.1 170.7h0.85M28.0 172.6h0.85M37.5 180.0h0.85M45.9 175.4h0.85M50.6 181.6h0.85M51.0 172.6h0.85M43.1 183.7h0.85M22.5 182.7h0.85M41.6 182.7h0.85M39.5 184.0h0.85M34.3 174.6h0.85M44.3 181.6h0.85M26.3 184.3h0.85M48.3 183.3h0.85M31.6 184.6h0.85M42.5 182.7h0.85M37.6 175.1h0.85M31.9 174.1h0.85M45.9 173.2h0.85M32.6 179.4h0.85M35.7 166.0h0.85M32.3 175.5h0.85M52.1 181.3h0.85M29.3 171.3h0.85M34.0 178.8h0.85M31.2 180.0h0.85M25.8 179.4h0.85M48.4 162.6h0.85M37.8 178.9h0.85M41.9 178.1h0.85M37.4 179.1h0.85M39.0 178.0h0.85M51.7 183.3h0.85M46.1 174.0h0.85M33.8 183.4h0.85M28.9 183.2h0.85M26.3 189.4h0.85M48.8 174.4h0.85M34.0 166.0h0.85M37.6 184.2h0.85M43.3 176.0h0.85M55.8 180.6h0.85M41.6 175.8h0.85M43.1 192.2h0.85M41.9 168.2h0.85M39.9 188.2h0.85M48.4 174.6h0.85M41.0 169.2h0.85M43.6 172.6h0.85M33.4 174.3h0.85M31.8 187.0h0.85M50.9 175.9h0.85M38.8 187.0h0.85M35.5 175.0h0.85M30.6 186.2h0.85M39.4 177.6h0.85M34.3 172.4h0.85M46.3 173.2h0.85M33.5 168.1h0.85M28.4 174.6h0.85M33.7 169.0h0.85M32.6 176.7h0.85M35.5 169.9h0.85M35.5 179.9h0.85M37.9 177.7h0.85M38.0 181.1h0.85M26.1 174.1h0.85M41.2 177.6h0.85M28.6 175.8h0.85M31.8 177.5h0.85M23.4 168.3h0.85M25.3 176.7h0.85M59.4 182.9h0.85M48.5 177.5h0.85M51.7 179.4h0.85M38.4 183.5h0.85M27.3 165.1h0.85M27.5 185.3h0.85M45.7 178.4h0.85M35.8 176.4h0.85M41.2 172.5h0.85M44.5 171.9h0.85M49.5 175.5h0.85M29.8 175.8h0.85M29.7 176.6h0.85M22.1 174.6h0.85M38.5 179.5h0.85M34.4 184.2h0.85M23.0 176.1h0.85M33.5 177.3h0.85M35.5 185.1h0.85M37.7 172.1h0.85M59.5 177.6h0.85M36.4 182.3h0.85M32.6 176.1h0.85M45.3 170.7h0.85M33.8 182.7h0.85M53.5 176.9h0.85M36.8 183.5h0.85M24.8 173.4h0.85M30.8 165.7h0.85M45.7 181.1h0.85M48.8 161.9h0.85M36.5 184.9h0.85M30.2 170.0h0.85M40.8 177.4h0.85M43.3 177.3h0.85M48.7 181.3h0.85M40.0 175.2h0.85M44.0 173.6h0.85M46.2 183.9h0.85M46.1 170.1h0.85M41.7 179.5h0.85M45.5 168.6h0.85M32.5 176.9h0.85M50.1 174.0h0.85M45.7 178.2h0.85M54.8 179.2h0.85M23.7 175.8h0.85M40.1 184.6h0.85M43.7 175.8h0.85M26.7 177.6h0.85M36.8 184.9h0.85M46.0 169.5h0.85M40.2 171.9h0.85M33.3 184.1h0.85M44.3 167.6h0.85M40.9 178.3h0.85M36.1 180.6h0.85M43.0 191.5h0.85M39.9 173.3h0.85M33.5 181.5h0.85M54.9 180.9h0.85M42.6 178.9h0.85M34.0 177.9h0.85M27.2 181.7h0.85M42.1 178.5h0.85M30.3 176.0h0.85M32.9 179.2h0.85M35.4 179.5h0.85M46.1 184.7h0.85M28.9 175.6h0.85M28.3 184.6h0.85M30.4 185.1h0.85M33.5 183.3h0.85M33.2 176.2h0.85M39.0 178.0h0.85M36.7 181.3h0.85M48.5 182.4h0.85M33.7 167.0h0.85M39.0 161.4h0.85M43.9 181.0h0.85M27.3 180.8h0.85M32.1 184.7h0.85M31.2 172.7h0.85M32.2 178.8h0.85M28.8 190.3h0.85M34.7 187.4h0.85M35.5 175.7h0.85M31.7 173.2h0.85M41.8 184.3h0.85M38.9 172.4h0.85M39.9 173.0h0.85M22.6 173.9h0.85M38.4 175.2h0.85M35.7 186.3h0.85M46.4 186.1h0.85M39.9 178.8h0.85M53.5 173.9h0.85M40.9 178.2h0.85M40.6 180.9h0.85M39.0 182.1h0.85M30.5 180.3h0.85M28.8 183.6h0.85M46.6 176.3h0.85M33.5 177.3h0.85M42.8 168.9h0.85M29.1 182.8h0.85M36.0 170.2h0.85M22.5 178.1h0.85M37.1 187.8h0.85M26.9 181.0h0.85M27.3 171.5h0.85M36.0 172.6h0.85M53.7 177.0h0.85M31.2 190.4h0.85M30.8 175.2h0.85M35.9 172.9h0.85M43.0 184.0h0.85M26.4 174.6h0.85M34.4 169.4h0.85M26.1 175.2h0.85M29.7 179.0h0.85M44.8 178.3h0.85M40.1 172.0h0.85M32.3 179.4h0.85M42.6 176.7h0.85M42.3 175.8h0.85M27.4 178.9h0.85M33.8 167.6h0.85M44.9 179.3h0.85M43.9 174.5h0.85M50.4 179.9h0.85M46.0 173.5h0.85M34.8 184.4h0.85M37.3 177.3h0.85M50.5 183.7h0.85M39.5 187.9h0.85M24.6 176.8h0.85M32.8 185.5h0.85M51.2 174.5h0.85M38.8 182.5h0.85M42.1 178.7h0.85M46.2 188.1h0.85M38.7 171.1h0.85M36.7 177.1h0.85M34.4 181.2h0.85M44.0 182.3h0.85M41.8 178.7h0.85M28.8 175.4h0.85M30.2 179.1h0.85M36.6 177.1h0.85M42.2 175.7h0.85M46.9 183.1h0.85M29.6 184.5h0.85M34.8 173.3h0.85M35.0 170.3h0.85M40.6 184.0h0.85M24.7 179.6h0.85M42.7 180.9h0.85M43.2 179.7h0.85M33.7 182.2h0.85M40.5 181.7h0.85M40.3 175.8h0.85M37.3 180.7h0.85M46.6 166.7h0.85M26.7 168.3h0.85M33.1 173.6h0.85M39.4 175.6h0.85M49.1 173.9h0.85M31.6 172.7h0.85M35.1 178.2h0.85M33.5 172.2h0.85M25.9 178.3h0.85M32.9 171.8h0.85M35.3 179.1h0.85M55.1 186.2h0.85M30.0 174.8h0.85M36.3 169.1h0.85M31.8 174.4h0.85M31.9 185.3h0.85M39.6 179.9h0.85M26.8 174.0h0.85M23.9 181.5h0.85M64.2 182.8h0.85M35.0 167.5h0.85M45.0 183.8h0.85M28.1 182.4h0.85M22.2 170.2h0.85M38.8 169.5h0.85M44.1 185.1h0.85M38.1 180.0h0.85M51.3 180.1h0.85M48.9 185.2h0.85M28.7 189.4h0.85M47.9 178.2h0.85M44.8 179.1h0.85M39.8 171.9h0.85M34.4 175.6h0.85M47.2 180.1h0.85M41.4 176.8h0.85M48.7 163.9h0.85M30.1 182.7h0.85M34.4 181.0h0.85M51.5 181.9h0.85M25.3 176.2h0.85M28.1 180.1h0.85M46.8 176.1h0.85M42.3 176.3h0.85M54.4 178.2h0.85M39.9 180.6h0.85M47.0 181.3h0.85M37.7 177.8h0.85M42.3 180.7h0.85M34.8 174.3h0.85M36.0 180.0h0.85M34.2 171.5h0.85M35.1 174.8h0.85M43.2 174.7h0.85M34.5 187.8h0.85M41.8 172.4h0.85M48.3 175.5h0.85M31.1 181.1h0.85M25.9 177.1h0.85M42.8 181.6h0.85M33.5 174.8h0.85M37.3 184.2h0.85M22.7 182.0h0.85M40.6 185.0h0.85M28.5 183.9h0.85M30.6 179.2h0.85M34.7 164.0h0.85M37.5 179.7h0.85M45.4 174.1h0.85M28.1 181.4h0.85M35.0 183.3h0.85M50.2 176.3h0.85M36.6 173.6h0.85M44.3 183.4h0.85M37.9 187.7h0.85M33.6 177.4h0.85M33.4 175.1h0.85M35.7 173.8h0.85M34.5 179.1h0.85M39.0 171.8h0.85M42.4 173.1h0.85M42.0 178.0h0.85M46.2 174.0h0.85M32.5 175.2h0.85M39.1 180.8h0.85M35.6 186.9h0.85M33.3 175.0h0.85M36.6 178.5h0.85M50.7 190.5h0.85M35.2 176.7h0.85M43.6 176.9h0.85M45.5 171.7h0.85M45.5 165.5h0.85M42.7 181.3h0.85M59.5 172.6h0.85M44.1 181.2h0.85M30.0 179.0h0.85M30.9 171.1h0.85M25.1 176.4h0.85M29.1 166.1h0.85M40.6 168.0h0.85M44.1 178.9h0.85M31.0 168.7h0.85M30.2 170.0h0.85M34.8 175.5h0.85M59.4 165.9h0.85M32.9 180.6h0.85M46.9 185.0h0.85M29.5 182.0h0.85M45.4 181.5h0.85M25.8 172.9h0.85M26.0 179.0h0.85M31.4 180.9h0.85M37.0 175.6h0.85M53.4 184.0h0.85M26.4 185.3h0.85M44.6 185.0h0.85M41.9 167.4h0.85M34.7 163.8h0.85M25.7 173.6h0.85M49.1 177.7h0.85M39.9 181.6h0.85M30.0 183.7h0.85M39.9 172.0h0.85M32.9 176.1h0.85M43.3 185.5h0.85M35.2 176.2h0.85M53.7 195.5h0.85M53.8 178.6h0.85M34.8 181.3h0.85M40.6 173.0h0.85M49.9 191.8h0.85M30.5 173.0h0.85M33.5 170.3h0.85M45.1 169.3h0.85M43.8 179.7h0.85M44.5 169.1h0.85M39.2 179.0h0.85M45.7 179.6h0.85M32.8 184.0h0.85M50.2 185.2h0.85M31.4 180.5h0.85M29.9 176.5h0.85M44.6 169.3h0.85M62.5 184.4h0.85M31.2 174.2h0.85M37.3 176.7h0.85M27.3 176.7h0.85M24.3 173.9h0.85M53.8 177.1h0.85M34.5 186.4h0.85M40.8 181.0h0.85M32.9 183.7h0.85M35.0 182.5h0.85M43.7 187.4h0.85M46.8 177.4h0.85M28.6 175.8h0.85M31.8 186.2h0.85M34.0 164.4h0.85M41.4 182.1h0.85M29.8 181.6h0.85M26.2 178.9h0.85M36.5 179.3h0.85M41.7 173.6h0.85M45.1 174.6h0.85M39.0 185.6h0.85M29.7 177.9h0.85M52.2 184.7h0.85M31.9 173.9h0.85M42.8 173.7h0.85M38.6 169.6h0.85M43.6 168.2h0.85M39.1 181.5h0.85M32.0 168.4h0.85M26.6 166.4h0.85M53.9 166.4h0.85M26.4 179.4h0.85M38.4 183.4h0.85M49.7 180.1h0.85M37.4 174.2h0.85M36.3 182.9h0.85M43.4 181.1h0.85M22.9 173.0h0.85M31.8 174.3h0.85M28.4 181.4h0.85M47.5 188.0h0.85M33.2 176.9h0.85M38.8 177.4h0.85M30.4 182.1h0.85M25.4 170.8h0.85M37.8 171.4h0.85M40.2 175.2h0.85M55.6 170.4h0.85M30.6 180.8h0.85M39.0 180.1h0.85M35.3 183.0h0.85M41.1 185.1h0.85M25.8 179.0h0.85M36.0 179.8h0.85M29.5 182.2h0.85M26.0 182.6h0.85M42.9 167.0h0.85M41.6 166.2h0.85M43.1 168.2h0.85M37.3 175.9h0.85M23.3 166.7h0.85M42.5 174.7h0.85M47.8 177.2h0.85M62.8 178.5h0.85M53.9 179.5h0.85M38.8 180.7h0.85M31.2 173.8h0.85M53.0 176.4h0.85M27.7 180.5h0.85M30.5 178.0h0.85M48.4 185.1h0.85M54.6 184.4h0.85M44.1 180.8h0.85M40.9 177.4h0.85M58.7 177.2h0.85M53.4 177.0h0.85M49.2 161.1h0.85M39.7 174.1h0.85M52.5 186.5h0.85M32.7 177.3h0.85M46.8 179.5h0.85M39.3 183.5h0.85M26.7 187.2h0.85M42.6 161.1h0.85M30.3 177.4h0.85M59.1 177.9h0.85M25.1 185.9h0.85M42.3 178.0h0.85M48.3 175.8h0.85M37.8 183.9h0.85M42.9 183.7h0.85M35.6 187.9h0.85M26.1 170.1h0.85M43.5 176.3h0.85M40.8 178.4h0.85M37.6 172.0h0.85M41.8 185.8h0.85M31.5 189.2h0.85M53.2 173.3h0.85M46.4 171.8h0.85M38.0 171.9h0.85M34.3 167.4h0.85M37.7 172.1h0.85M31.1 166.8h0.85M39.5 189.3h0.85M35.8 177.3h0.85M28.9 175.5h0.85M31.4 169.2h0.85M31.1 175.2h0.85M41.9 176.2h0.85M41.6 185.7h0.85M47.4 175.7h0.85M23.1 177.1h0.85M39.7 183.9h0.85M40.2 194.3h0.85M36.0 181.9h0.85M30.7 172.3h0.85M36.2 179.3h0.85M45.1 159.8h0.85M49.0 186.8h0.85M51.1 183.0h0.85M37.7 181.3h0.85M50.5 172.4h0.85M44.9 181.0h0.85M37.6 188.4h0.85M32.5 172.3h0.85M38.4 174.4h0.85M50.8 168.3h0.85M26.9 179.8h0.85M45.5 171.1h0.85M50.4 166.8h0.85M48.0 172.8h0.85M34.4 188.4h0.85M38.1 174.2h0.85M40.8 188.9h0.85M39.2 173.4h0.85M40.5 170.7h0.85M32.4 174.6h0.85M44.4 175.0h0.85M42.9 184.5h0.85M52.7 168.0h0.85M38.0 171.2h0.85M44.3 179.3h0.85M38.4 174.7h0.85M29.8 168.0h0.85M47.2 176.7h0.85M38.8 179.7h0.85M45.6 188.7h0.85M36.9 181.6h0.85M23.8 175.5h0.85M32.1 174.2h0.85M48.9 178.4h0.85M39.1 178.3h0.85M36.5 176.5h0.85M32.7 174.7h0.85M34.6 176.7h0.85M38.1 180.2h0.85M28.5 172.4h0.85M45.6 173.6h0.85M42.7 173.9h0.85M27.7 169.4h0.85M33.0 175.1h0.85M27.5 186.0h0.85M38.6 172.7h0.85M51.8 182.5h0.85M31.7 171.9h0.85M36.8 182.0h0.85M25.9 184.4h0.85M35.0 182.6h0.85M37.2 180.6h0.85M44.2 185.2h0.85M32.1 188.7h0.85M27.1 179.6h0.85M44.5 178.0h0.85M46.4 168.5h0.85M38.1 183.6h0.85M38.6 171.5h0.85M39.9 178.9h0.85M29.7 185.4h0.85M33.8 172.0h0.85M39.5 174.1h0.85M36.9 179.2h0.85M34.9 181.3h0.85M41.2 184.8h0.85M29.7 178.2h0.85M40.9 179.5h0.85M41.5 181.2h0.85M38.9 178.9h0.85M49.5 175.9h0.85M31.8 186.4h0.85M44.0 177.0h0.85M32.3 187.1h0.85M36.2 173.3h0.85M49.9 169.5h0.85M37.3 181.5h0.85M36.1 175.0h0.85M42.5 171.0h0.85M36.7 182.0h0.85M28.9 185.8h0.85M36.8 177.5h0.85M34.4 181.2h0.85M34.4 179.2h0.85M49.8 185.1h0.85M25.2 185.6h0.85M34.3 179.6h0.85M39.5 179.5h0.85M33.3 181.2h0.85M47.6 174.6h0.85M38.5 182.5h0.85M48.1 179.8h0.85M41.0 180.7h0.85M35.6 179.8h0.85M36.2 175.9h0.85M41.9 182.1h0.85M42.5 178.5h0.85M35.9 181.1h0.85M35.0 177.8h0.85M51.8 169.9h0.85M33.2 176.4h0.85M47.9 180.8h0.85M37.3 185.3h0.85M29.8 188.7h0.85M37.9 174.4h0.85M48.1 180.8h0.85M40.2 177.1h0.85M22.4 165.9h0.85M38.4 183.3h0.85M31.4 178.3h0.85M24.5 169.2h0.85M37.9 181.7h0.85M44.9 184.6h0.85M31.3 176.8h0.85M45.3 171.9h0.85M35.6 177.7h0.85M38.2 182.7h0.85M42.1 175.2h0.85M47.1 180.6h0.85M41.5 180.2h0.85M49.0 174.8h0.85M37.7 172.0h0.85M36.3 173.0h0.85M31.0 166.3h0.85M37.4 183.4h0.85M37.9 173.7h0.85M40.9 176.2h0.85M37.5 185.7h0.85M39.6 179.7h0.85M35.8 176.6h0.85M30.1 176.9h0.85M31.2 184.1h0.85M36.1 181.8h0.85M49.5 183.4h0.85M32.0 187.1h0.85M37.4 173.5h0.85M40.3 167.8h0.85M43.7 184.1h0.85M50.0 179.0h0.85M37.6 175.2h0.85M62.4 184.4h0.85M43.6 179.4h0.85M47.7 166.6h0.85M45.7 174.2h0.85M31.3 180.0h0.85M31.5 175.2h0.85M52.3 179.4h0.85M41.5 168.6h0.85M46.0 173.8h0.85M42.2 171.7h0.85M41.3 180.7h0.85M25.1 179.3h0.85M30.1 184.7h0.85M41.3 177.8h0.85M65.1 182.3h0.85M34.7 182.5h0.85M40.6 185.3h0.85M29.2 188.8h0.85M33.6 175.4h0.85M31.6 175.8h0.85M55.1 178.6h0.85M28.6 176.7h0.85M40.3 183.1h0.85M35.3 178.7h0.85M64.2 176.8h0.85M39.1 170.7h0.85M46.6 174.9h0.85M54.5 184.5h0.85M45.3 174.7h0.85M35.1 175.4h0.85M38.9 175.6h0.85M33.3 178.2h0.85M37.9 175.4h0.85M46.2 183.6h0.85M33.2 189.9h0.85M41.5 184.6h0.85M54.8 169.5h0.85M42.6 182.8h0.85M48.8 182.1h0.85M47.1 169.0h0.85M29.7 180.9h0.85M36.5 179.7h0.85M46.2 179.0h0.85M30.8 172.1h0.85M41.8 181.0h0.85M41.5 178.4h0.85M39.1 169.6h0.85M37.9 182.0h0.85M28.1 180.1h0.85M44.4 191.0h0.85M37.6 176.2h0.85M27.4 171.3h0.85M23.7 167.3h0.85M44.4 177.6h0.85M40.9 168.5h0.85M52.6 184.1h0.85M26.2 178.2h0.85M39.7 172.0h0.85M32.4 183.1h0.85M44.5 182.8h0.85M41.1 178.3h0.85M42.7 176.8h0.85M53.3 179.0h0.85M43.1 177.2h0.85M32.3 177.4h0.85M35.4 173.1h0.85M45.5 189.2h0.85M40.9 177.1h0.85M31.9 169.3h0.85M43.8 181.0h0.85M31.3 178.2h0.85M30.8 185.9h0.85M39.4 180.3h0.85M53.6 165.0h0.85M42.0 179.3h0.85M35.8 177.9h0.85M49.5 174.0h0.85M32.7 187.7h0.85M47.6 180.6h0.85M45.7 178.4h0.85M35.9 177.0h0.85M41.4 175.2h0.85M24.4 176.9h0.85M41.1 177.1h0.85M44.6 179.6h0.85M47.2 178.6h0.85M37.1 181.2h0.85M46.5 175.4h0.85M31.0 185.6h0.85M34.0 180.0h0.85M34.5 179.2h0.85M51.0 187.5h0.85M27.1 169.7h0.85M52.4 179.4h0.85M36.0 182.6h0.85M30.4 181.7h0.85M50.6 185.0h0.85M44.9 175.0h0.85M35.7 172.7h0.85M55.1 185.0h0.85M38.1 177.5h0.85M40.7 174.1h0.85M43.2 180.7h0.85M42.4 178.2h0.85M26.1 168.3h0.85M58.4 175.0h0.85M36.8 176.1h0.85M31.0 187.0h0.85M22.2 180.5h0.85M33.3 185.0h0.85M45.9 178.2h0.85M25.2 182.3h0.85M47.1 181.5h0.85M35.8 181.4h0.85M31.6 179.2h0.85M41.7 176.4h0.85M29.6 176.5h0.85M30.6 170.9h0.85M47.7 176.9h0.85M33.8 174.8h0.85M42.2 175.9h0.85M32.1 179.3h0.85M39.6 172.6h0.85M28.8 185.1h0.85M35.9 184.6h0.85M43.6 177.3h0.85M36.2 187.0h0.85M32.6 175.5h0.85M31.0 176.8h0.85M30.0 178.4h0.85M27.2 180.7h0.85M41.3 178.9h0.85M32.9 185.0h0.85M56.1 176.9h0.85M31.4 181.3h0.85M36.4 178.5h0.85M44.0 169.9h0.85M44.7 171.7h0.85M27.2 175.5h0.85M51.2 174.1h0.85M42.4 172.3h0.85M43.8 179.5h0.85M48.5 178.7h0.85M38.3 167.0h0.85M41.0 182.2h0.85M40.0 178.7h0.85M43.2 182.6h0.85M30.3 177.2h0.85M42.0 179.1h0.85M29.7 166.3h0.85M41.1 181.8h0.85M53.1 180.1h0.85M30.5 180.2h0.85M37.2 173.8h0.85M25.5 167.2h0.85M32.0 175.2h0.85M38.7 177.7h0.85M40.2 188.5h0.85M37.6 185.5h0.85M31.3 173.5h0.85M33.5 167.3h0.85M52.9 179.1h0.85M44.6 187.5h0.85M42.2 186.9h0.85M40.8 174.4h0.85M47.8 177.8h0.85M31.9 166.5h0.85M54.0 162.6h0.85M38.8 186.8h0.85M44.0 174.0h0.85M35.8 174.1h0.85M40.4 177.2h0.85M26.6 169.1h0.85M48.3 170.2h0.85M28.0 190.9h0.85M30.6 170.0h0.85M29.4 181.9h0.85M31.4 176.7h0.85M38.3 177.8h0.85M51.1 180.4h0.85M30.0 175.7h0.85M38.3 181.0h0.85M22.8 164.5h0.85M44.9 171.6h0.85M33.8 170.3h0.85M27.2 183.2h0.85M27.8 179.1h0.85M39.7 175.3h0.85M58.9 169.5h0.85M60.9 171.8h0.85M35.3 179.1h0.85M47.7 181.4h0.85M34.6 175.3h0.85M48.3 186.2h0.85M33.0 184.5h0.85M42.9 178.9h0.85M27.9 170.1h0.85M41.7 161.3h0.85M33.4 179.9h0.85M22.8 186.9h0.85M52.8 171.3h0.85M36.9 176.7h0.85M33.0 174.6h0.85M42.2 187.1h0.85M38.7 178.1h0.85M39.1 173.4h0.85M43.5 174.6h0.85M29.1 181.2h0.85M34.4 176.7h0.85M24.1 172.0h0.85M36.6 181.0h0.85M36.9 176.3h0.85M30.4 177.6h0.85M46.6 177.4h0.85M29.2 185.2h0.85M31.9 185.3h0.85M35.5 173.1h0.85M36.0 173.5h0.85M36.5 180.4h0.85M35.7 174.8h0.85M37.8 179.7h0.85M38.0 180.6h0.85M43.2 179.2h0.85M44.4 177.6h0.85M48.2 179.8h0.85M45.5 176.4h0.85M25.3 174.9h0.85M38.4 179.6h0.85M37.7 185.9h0.85M26.4 167.4h0.85M36.4 173.6h0.85M38.3 181.3h0.85M62.1 170.0h0.85M28.5 177.2h0.85M24.9 173.2h0.85M49.4 177.2h0.85M37.8 183.8h0.85M22.8 178.2h0.85M37.6 179.0h0.85M29.2 175.0h0.85M37.1 181.7h0.85M31.6 181.0h0.85M44.9 172.3h0.85M35.4 177.5h0.85M40.6 184.3h0.85M39.7 176.2h0.85M36.3 179.0h0.85M44.9 179.0h0.85M33.2 175.6h0.85M31.1 172.6h0.85M33.7 174.2h0.85M44.7 170.8h0.85M38.6 170.9h0.85M45.0 179.2h0.85M49.1 180.6h0.85M29.0 177.7h0.85M32.5 174.6h0.85M29.1 175.8h0.85M38.8 178.7h0.85M59.7 176.6h0.85M38.8 177.0h0.85M35.8 175.8h0.85M38.5 176.4h0.85M44.4 179.9h0.85M30.3 177.5h0.85M40.7 176.0h0.85M36.0 177.0h0.85M43.3 178.5h0.85M33.3 177.2h0.85M48.7 172.2h0.85M43.7 176.1h0.85M70.2 181.0h0.85M38.5 176.9h0.85M24.9 174.7h0.85M55.4 179.5h0.85M35.5 177.5h0.85M38.4 172.2h0.85M39.0 180.4h0.85M25.3 176.2h0.85M45.2 184.3h0.85M54.1 170.4h0.85M37.3 175.7h0.85M47.2 179.3h0.85M38.8 180.9h0.85M34.1 182.9h0.85M35.1 183.6h0.85M39.6 178.8h0.85M28.3 169.0h0.85M24.6 180.3h0.85M35.3 170.1h0.85M41.0 170.7h0.85M38.4 176.1h0.85M48.3 182.5h0.85M46.1 175.0h0.85M48.7 177.1h0.85M39.0 180.0h0.85M40.4 170.2h0.85M43.6 168.8h0.85M42.1 177.1h0.85M38.7 171.5h0.85M46.6 176.7h0.85M45.3 173.5h0.85M31.9 177.9h0.85M46.8 170.2h0.85M33.1 174.7h0.85M35.7 175.0h0.85M47.2 181.4h0.85M38.2 182.2h0.85M46.8 174.1h0.85M31.8 181.3h0.85M56.2 164.5h0.85M32.7 181.8h0.85M31.1 182.3h0.85M40.0 170.6h0.85M34.1 179.6h0.85M30.4 180.8h0.85M40.7 175.8h0.85M41.4 175.5h0.85M39.9 172.0h0.85M50.1 176.1h0.85M48.0 189.4h0.85M51.6 177.4h0.85M39.4 177.3h0.85M40.7 173.0h0.85M22.5 179.3h0.85M38.4 186.0h0.85M53.6 170.0h0.85M30.1 181.8h0.85M48.2 178.2h0.85M38.6 167.3h0.85M57.7 173.7h0.85M42.9 179.4h0.85M30.4 182.3h0.85M50.6 177.3h0.85M39.3 181.2h0.85M46.5 182.3h0.85M30.4 172.4h0.85M33.3 162.6h0.85M26.7 176.5h0.85M32.3 172.9h0.85M45.6 179.4h0.85M45.1 176.6h0.85M34.5 172.7h0.85M40.2 167.5h0.85M30.6 180.8h0.85M45.3 177.2h0.85M28.1 180.7h0.85M31.7 176.8h0.85M29.7 187.6h0.85M50.9 172.8h0.85M28.0 177.2h0.85M43.4 184.5h0.85M37.5 170.7h0.85M40.6 179.0h0.85M24.4 176.1h0.85M35.5 172.1h0.85M39.9 183.3h0.85M46.7 172.6h0.85M33.0 181.3h0.85M35.2 175.6h0.85M57.0 163.3h0.85M32.4 172.9h0.85M37.6 187.0h0.85M36.8 175.9h0.85M39.4 175.8h0.85M41.3 191.6h0.85M32.1 176.4h0.85M37.4 165.9h0.85M43.2 177.2h0.85M39.4 172.6h0.85M47.4 174.2h0.85M25.2 181.9h0.85M36.8 178.3h0.85M24.1 169.8h0.85M29.3 176.6h0.85M36.8 185.1h0.85M51.2 178.2h0.85M37.2 188.0h0.85M38.5 183.1h0.85M33.8 176.9h0.85M35.6 173.7h0.85M41.2 172.9h0.85M37.1 179.8h0.85M56.1 167.0h0.85M38.6 181.1h0.85M35.0 182.3h0.85M42.6 180.2h0.85M34.4 176.3h0.85M36.0 172.0h0.85M39.6 171.6h0.85M30.0 169.8h0.85M47.5 174.4h0.85M30.4 181.9h0.85M34.4 179.3h0.85M36.5 179.5h0.85M39.6 165.5h0.85M50.6 183.0h0.85M25.5 182.4h0.85M36.0 178.1h0.85M49.0 183.0h0.85M46.4 188.6h0.85M47.3 174.2h0.85M27.0 182.1h0.85M23.3 175.6h0.85M34.9 173.6h0.85M49.6 179.3h0.85M36.1 182.4h0.85M34.5 184.1h0.85M55.5 176.8h0.85M36.6 183.9h0.85M29.2 168.6h0.85M38.0 179.1h0.85M37.7 177.3h0.85M45.8 183.4h0.85M48.6 176.7h0.85M38.1 185.6h0.85M41.5 184.8h0.85M33.9 177.2h0.85M32.5 177.4h0.85M41.6 175.0h0.85M54.8 169.3h0.85M45.4 171.5h0.85M40.5 173.2h0.85M38.6 177.9h0.85M31.1 170.8h0.85M31.9 177.6h0.85M44.9 186.3h0.85M23.2 180.0h0.85M33.9 177.5h0.85M40.7 181.8h0.85M41.4 177.3h0.85M51.3 179.0h0.85M37.9 183.7h0.85M28.2 172.3h0.85M50.4 176.4h0.85M22.7 181.9h0.85M48.2 173.2h0.85M26.8 177.2h0.85M41.0 174.2h0.85M30.1 180.3h0.85M42.4 168.7h0.85M28.4 175.6h0.85M32.5 178.6h0.85M42.3 187.6h0.85M40.9 182.5h0.85M24.6 173.6h0.85M46.9 169.4h0.85M49.3 180.4h0.85M39.0 176.7h0.85M27.9 171.5h0.85M33.3 175.0h0.85M50.0 171.6h0.85M31.6 166.5h0.85M39.4 178.8h0.85M48.7 192.5h0.85M43.1 172.8h0.85M40.0 180.9h0.85M37.2 171.2h0.85M41.2 170.3h0.85M36.9 176.7h0.85M58.9 176.2h0.85M31.6 185.4h0.85M24.8 179.0h0.85M40.2 174.9h0.85M37.0 172.8h0.85M32.0 183.5h0.85M29.1 174.8h0.85M30.8 182.4h0.85M34.1 172.8h0.85M41.1 164.6h0.85M56.3 175.4h0.85M41.1 169.0h0.85M39.0 180.2h0.85M43.5 173.6h0.85M57.0 172.0h0.85M52.9 171.2h0.85M45.6 188.4h0.85M59.4 178.0h0.85M30.8 171.2h0.85M32.0 172.4h0.85M45.4 180.2h0.85M44.6 185.0h0.85M34.0 183.9h0.85M49.9 192.1h0.85M39.5 177.0h0.85M28.6 176.1h0.85M38.0 180.7h0.85M24.5 176.0h0.85M35.9 174.7h0.85M31.8 181.4h0.85M28.2 182.3h0.85M27.2 180.5h0.85M26.8 187.3h0.85M45.3 188.5h0.85M29.6 169.6h0.85M24.8 177.3h0.85M48.5 184.0h0.85M44.6 170.2h0.85M48.7 184.1h0.85M32.5 160.8h0.85M30.0 178.0h0.85M53.6 180.5h0.85M37.3 190.2h0.85M53.4 181.6h0.85M44.1 187.8h0.85M30.7 181.8h0.85M33.7 172.1h0.85M42.9 186.8h0.85M56.6 184.5h0.85M49.3 177.7h0.85M22.9 174.4h0.85M41.9 174.7h0.85M57.1 187.7h0.85M36.0 191.4h0.85M44.5 190.7h0.85M36.2 184.6h0.85M35.7 179.1h0.85M49.5 192.7h0.85M39.3 181.2h0.85M29.2 177.5h0.85M43.0 170.1h0.85M33.7 171.0h0.85M40.0 185.4h0.85M41.5 177.0h0.85M27.9 167.5h0.85M38.2 189.9h0.85M35.4 178.6h0.85M33.6 171.0h0.85M48.7 184.1h0.85M23.3 170.2h0.85M51.5 172.7h0.85M37.6 171.7h0.85M41.3 173.4h0.85M32.0 171.1h0.85M57.1 197.7h0.85M40.3 183.9h0.85M43.8 179.1h0.85M37.2 176.5h0.85M46.0 170.3h0.85M29.7 184.1h0.85M24.0 190.7h0.85M35.3 180.4h0.85M51.4 178.7h0.85M39.4 174.8h0.85M43.3 184.0h0.85M29.2 183.8h0.85M47.9 182.5h0.85M30.5 185.8h0.85M51.9 175.6h0.85M38.3 188.4h0.85M50.1 184.0h0.85M31.6 184.6h0.85M38.0 171.7h0.85M60.8 179.3h0.85M29.6 174.5h0.85M31.3 181.8h0.85M48.2 173.6h0.85M34.7 174.4h0.85M49.7 186.1h0.85M29.5 176.9h0.85M39.8 166.2h0.85M32.7 180.1h0.85M24.0 180.6h0.85M38.6 175.1h0.85M48.5 172.3h0.85M42.4 177.2h0.85M49.1 173.4h0.85M44.1 183.5h0.85M49.6 190.7h0.85M22.8 178.5h0.85M27.2 186.1h0.85M51.9 176.9h0.85M40.5 188.5h0.85M40.1 178.1h0.85M48.2 168.5h0.85M41.0 180.6h0.85M38.0 184.8h0.85M30.5 189.1h0.85M33.7 186.4h0.85M32.2 180.9h0.85M34.7 191.2h0.85M27.6 174.5h0.85M52.9 184.9h0.85M37.7 177.2h0.85M25.1 177.1h0.85M41.7 187.8h0.85M47.5 189.5h0.85M42.0 173.9h0.85M34.6 190.1h0.85M39.2 189.3h0.85M22.0 175.5h0.85M30.0 180.9h0.85M30.1 169.5h0.85M37.3 162.5h0.85M32.1 182.1h0.85M26.4 178.7h0.85M29.1 176.6h0.85M40.5 182.4h0.85M42.5 173.6h0.85M53.6 181.4h0.85M31.5 188.8h0.85M34.1 193.3h0.85M46.7 178.3h0.85M33.2 173.0h0.85M30.2 177.1h0.85M51.9 180.4h0.85M37.4 182.2h0.85M35.0 170.0h0.85M23.0 189.6h0.85M35.4 190.9h0.85M57.7 181.2h0.85M46.2 176.6h0.85M36.9 179.8h0.85M38.2 190.2h0.85M37.3 185.8h0.85M39.6 183.8h0.85M57.2 167.8h0.85M50.3 174.6h0.85M40.4 176.7h0.85M33.4 169.2h0.85M47.3 177.5h0.85M54.7 182.4h0.85M41.1 178.7h0.85M49.8 172.0h0.85M31.7 160.8h0.85M50.1 183.9h0.85M33.8 165.8h0.85M47.3 168.6h0.85M24.9 164.8h0.85M23.3 172.1h0.85M26.8 187.3h0.85M45.6 179.7h0.85M32.2 178.7h0.85M24.2 182.0h0.85M28.3 175.2h0.85M41.6 172.5h0.85M23.5 186.7h0.85M25.7 173.6h0.85M36.5 154.8h0.85M32.7 189.6h0.85M50.6 185.6h0.85M37.1 180.6h0.85M32.1 166.4h0.85M41.8 187.1h0.85M41.2 178.8h0.85M47.2 181.4h0.85M49.9 175.8h0.85M47.4 173.1h0.85M40.5 184.5h0.85M46.2 177.5h0.85M25.7 167.0h0.85M73.4 176.5h0.85M45.4 174.0h0.85M34.5 184.0h0.85M28.0 178.4h0.85M35.8 182.6h0.85M47.1 177.6h0.85M52.9 175.4h0.85M33.9 179.6h0.85M35.2 184.9h0.85M46.8 173.7h0.85M42.1 165.5h0.85M34.7 190.3h0.85M44.9 195.3h0.85M32.7 187.8h0.85M39.2 181.4h0.85M40.8 184.9h0.85M52.2 179.5h0.85M42.1 178.3h0.85M41.2 172.9h0.85M48.8 184.4h0.85M41.6 179.0h0.85M31.0 171.9h0.85M26.2 173.1h0.85M48.0 182.4h0.85M22.9 171.7h0.85M52.5 191.9h0.85M47.2 195.3h0.85M30.9 182.5h0.85M31.5 196.2h0.85M43.0 182.5h0.85M42.4 174.1h0.85M37.9 161.9h0.85M33.7 171.7h0.85M47.0 189.6h0.85M41.5 171.6h0.85M26.9 185.1h0.85M35.8 177.5h0.85M27.1 181.4h0.85M40.9 185.6h0.85M28.7 179.3h0.85M23.6 181.3h0.85M38.8 176.7h0.85M48.4 169.8h0.85M55.4 182.7h0.85M45.0 181.7h0.85M31.3 175.3h0.85M49.0 179.5h0.85M42.2 177.0h0.85M47.9 184.6h0.85M25.0 194.5h0.85M50.0 186.0h0.85M42.4 179.2h0.85M48.1 199.3h0.85M37.9 171.3h0.85M38.6 180.2h0.85M49.1 170.3h0.85M34.2 177.2h0.85M49.3 188.1h0.85M41.0 187.8h0.85M40.0 180.4h0.85M26.8 183.0h0.85M39.5 171.3h0.85M39.1 178.5h0.85M42.7 175.2h0.85M30.9 188.6h0.85M35.7 187.1h0.85M29.1 177.6h0.85M35.0 172.0h0.85M46.0 169.1h0.85M40.9 163.1h0.85M45.7 179.6h0.85M50.4 194.5h0.85M31.2 179.4h0.85M24.7 175.8h0.85M39.0 179.5h0.85M46.7 183.0h0.85M48.7 174.1h0.85M39.9 171.4h0.85M36.5 158.6h0.85M37.2 179.6h0.85M33.4 176.1h0.85M31.9 180.8h0.85M43.0 175.8h0.85M36.7 181.8h0.85M28.8 186.8h0.85M59.7 182.0h0.85M33.1 180.8h0.85M50.5 188.7h0.85M24.1 181.6h0.85M30.5 175.8h0.85M41.0 183.1h0.85M35.2 172.8h0.85M36.1 171.4h0.85M56.5 167.4h0.85M44.5 179.9h0.85M38.2 171.3h0.85M33.0 176.6h0.85M32.5 177.3h0.85M39.3 175.7h0.85M42.7 184.5h0.85M32.5 184.5h0.85M38.7 174.9h0.85M43.0 187.4h0.85M34.7 165.4h0.85M46.2 186.5h0.85M26.4 178.0h0.85M42.8 161.3h0.85M46.1 184.4h0.85M46.5 190.1h0.85M26.9 186.0h0.85M61.7 162.1h0.85M34.0 184.2h0.85M30.3 165.2h0.85M41.1 180.2h0.85M30.2 180.7h0.85M47.4 186.4h0.85M42.2 169.6h0.85M34.5 161.8h0.85M26.6 180.0h0.85M43.5 178.6h0.85M37.6 164.1h0.85M24.2 170.1h0.85M31.4 174.3h0.85M60.6 186.3h0.85M26.9 173.7h0.85M31.8 174.3h0.85M32.1 163.4h0.85M49.9 183.8h0.85M44.3 179.5h0.85M42.4 176.0h0.85M37.8 168.8h0.85M26.8 177.1h0.85M30.2 191.3h0.85M32.2 161.7h0.85M38.0 178.0h0.85M37.1 182.2h0.85M22.7 172.9h0.85M27.2 179.5h0.85M31.8 171.0h0.85M51.9 174.6h0.85M48.9 184.9h0.85M29.8 164.7h0.85M39.5 183.7h0.85M49.8 181.5h0.85M42.0 173.8h0.85M49.5 168.6h0.85M40.6 182.1h0.85M43.4 191.2h0.85M54.6 176.0h0.85M34.1 175.1h0.85M39.9 185.1h0.85M26.5 177.3h0.85M31.3 172.8h0.85M32.1 192.5h0.85M56.0 189.8h0.85M62.9 181.8h0.85M30.0 183.2h0.85M34.8 175.6h0.85M40.3 182.3h0.85M35.7 178.5h0.85M26.7 178.3h0.85M45.1 179.4h0.85M35.7 167.8h0.85M49.5 169.9h0.85M44.8 176.0h0.85M46.1 186.6h0.85M34.2 155.7h0.85M27.8 180.9h0.85M58.6 183.7h0.85M36.2 189.0h0.85M35.6 185.2h0.85M41.6 164.1h0.85M47.9 192.1h0.85M34.0 184.6h0.85M43.1 176.7h0.85M33.7 186.3h0.85M30.9 174.7h0.85M46.7 185.8h0.85M54.2 174.4h0.85M23.6 187.0h0.85M35.4 191.8h0.85M38.0 169.7h0.85M37.4 188.9h0.85M48.6 179.7h0.85M27.0 177.3h0.85M38.5 170.1h0.85M31.7 189.8h0.85M41.1 187.3h0.85M37.4 174.6h0.85M41.0 171.9h0.85M41.6 176.5h0.85M34.6 176.8h0.85M27.7 189.1h0.85M24.4 185.6h0.85M35.4 180.2h0.85M42.7 181.5h0.85M39.7 181.6h0.85M41.4 175.4h0.85M34.6 177.0h0.85M30.2 174.7h0.85M51.7 168.0h0.85M55.6 174.9h0.85M44.3 178.9h0.85M35.9 183.0h0.85M55.7 178.0h0.85M37.4 174.8h0.85M59.1 187.7h0.85M49.6 179.1h0.85M48.0 174.5h0.85M30.6 162.9h0.85M45.3 182.0h0.85M32.6 181.6h0.85M39.8 185.4h0.85M37.4 169.6h0.85M32.6 187.2h0.85M31.5 180.7h0.85M42.3 174.7h0.85M38.0 165.4h0.85M31.7 179.1h0.85M44.4 188.6h0.85M32.7 182.3h0.85M36.4 172.9h0.85M29.5 178.4h0.85M37.8 173.2h0.85M66.5 178.6h0.85M44.7 176.8h0.85M67.0 162.0h0.85M34.0 180.2h0.85M50.2 178.4h0.85M27.3 190.5h0.85M44.6 176.8h0.85M35.0 176.9h0.85M39.3 165.9h0.85M39.1 174.2h0.85M42.7 181.2h0.85M26.6 188.8h0.85M45.6 172.0h0.85M26.6 173.6h0.85M41.2 188.2h0.85M28.2 172.9h0.85M43.0 178.3h0.85M37.0 177.8h0.85M34.2 191.8h0.85M47.8 176.2h0.85M50.7 192.8h0.85M42.5 181.0h0.85M32.5 179.6h0.85M39.9 188.4h0.85M27.7 166.6h0.85M32.3 181.4h0.85M29.1 170.3h0.85M39.0 187.4h0.85M23.3 180.4h0.85M35.8 183.5h0.85M37.6 174.0h0.85M46.8 181.9h0.85M26.8 163.7h0.85M30.1 180.1h0.85M45.5 174.4h0.85M33.4 165.1h0.85M32.7 179.4h0.85M31.3 177.8h0.85M27.2 171.8h0.85M40.3 167.0h0.85M37.6 187.4h0.85M31.4 174.9h0.85M28.7 168.8h0.85M31.3 169.0h0.85M34.9 174.4h0.85M25.5 178.7h0.85M47.6 184.3h0.85M34.3 178.2h0.85M26.2 176.5h0.85M44.0 184.0h0.85M51.1 167.1h0.85M53.3 181.2h0.85M53.2 178.4h0.85M49.8 178.1h0.85M26.0 180.7h0.85M31.8 178.0h0.85M42.4 184.0h0.85M43.8 185.5h0.85M28.3 179.0h0.85M32.7 169.7h0.85M46.2 170.7h0.85M31.2 189.1h0.85M46.9 175.2h0.85M45.2 178.2h0.85M32.0 183.5h0.85M29.7 174.2h0.85M39.4 170.1h0.85M22.0 166.0h0.85M46.7 192.6h0.85M49.3 173.5h0.85M31.6 170.9h0.85M37.0 186.0h0.85M36.3 178.1h0.85M24.5 176.4h0.85M40.8 179.2h0.85M44.8 189.8h0.85M54.4 182.0h0.85M29.7 176.4h0.85M37.3 186.3h0.85M33.8 178.4h0.85M23.3 189.4h0.85M42.0 175.0h0.85M23.3 178.3h0.85M46.5 195.8h0.85M57.4 175.7h0.85M33.0 171.3h0.85M42.2 172.9h0.85M43.5 181.0h0.85M41.8 171.3h0.85M49.6 177.1h0.85M24.8 178.4h0.85M39.4 179.1h0.85M47.5 187.7h0.85M61.5 178.0h0.85M50.4 159.3h0.85M57.4 178.6h0.85M51.0 177.0h0.85M43.3 183.5h0.85M31.2 174.5h0.85M36.0 177.1h0.85M50.5 181.4h0.85M40.1 164.5h0.85M39.3 176.6h0.85M48.0 175.0h0.85M24.8 177.0h0.85M57.1 172.2h0.85M51.2 177.5h0.85M62.5 182.2h0.85M26.5 177.2h0.85M28.4 200.4h0.85M43.6 160.9h0.85M46.4 182.2h0.85M26.9 174.2h0.85M37.0 191.8h0.85M32.2 173.1h0.85M47.8 174.0h0.85M26.7 177.8h0.85M46.4 179.9h0.85M33.8 189.6h0.85M52.4 166.7h0.85M25.5 171.8h0.85M35.4 180.1h0.85M36.9 179.3h0.85M42.5 169.1h0.85M50.9 180.3h0.85M33.4 183.0h0.85M34.3 169.0h0.85M33.7 184.6h0.85M41.2 184.0h0.85M32.5 183.0h0.85M52.8 176.4h0.85M32.6 188.1h0.85M38.9 170.1h0.85M33.4 188.8h0.85M41.7 192.9h0.85M44.6 180.9h0.85M49.0 174.3h0.85M49.1 178.3h0.85M35.3 181.9h0.85M33.0 170.5h0.85M28.5 182.8h0.85M41.1 179.6h0.85M45.5 172.3h0.85M33.7 191.2h0.85M28.0 188.6h0.85M35.2 182.9h0.85M40.5 177.1h0.85M39.2 186.2h0.85M30.7 171.9h0.85M47.0 176.0h0.85M36.2 177.6h0.85M33.6 165.5h0.85M37.0 175.5h0.85M23.9 174.8h0.85M40.5 191.9h0.85M32.3 189.0h0.85M33.3 182.5h0.85M35.4 184.6h0.85M39.5 176.1h0.85M21.9 186.4h0.85M22.3 174.5h0.85M56.5 180.8h0.85M38.9 180.0h0.85M40.6 176.5h0.85M41.6 177.8h0.85M34.6 182.6h0.85M44.7 181.7h0.85M48.0 193.0h0.85M56.0 179.8h0.85M26.7 187.6h0.85M39.3 184.9h0.85M34.5 185.5h0.85M26.6 180.4h0.85M24.2 194.2h0.85M35.6 163.6h0.85M51.5 186.4h0.85M52.6 170.9h0.85M42.2 189.0h0.85M36.5 182.1h0.85M36.1 177.0h0.85M52.7 173.5h0.85M38.8 183.6h0.85M38.9 185.5h0.85M26.2 177.7h0.85M34.9 182.8h0.85M36.5 176.2h0.85M45.6 194.6h0.85M32.1 174.4h0.85M32.4 170.3h0.85M25.8 175.8h0.85M45.8 175.5h0.85M29.9 178.5h0.85M30.2 199.3h0.85M54.3 179.5h0.85M28.9 172.7h0.85M32.1 174.2h0.85M25.0 181.9h0.85M29.4 162.5h0.85M27.6 185.1h0.85M50.5 170.8h0.85M36.4 183.2h0.85M47.6 175.7h0.85M41.1 175.9h0.85M37.4 182.1h0.85M35.9 172.6h0.85M33.0 181.5h0.85M25.0 190.4h0.85M61.5 162.3h0.85M47.5 175.8h0.85M44.4 180.4h0.85M36.2 185.7h0.85M39.1 190.0h0.85M41.5 168.5h0.85M36.4 179.1h0.85M32.3 170.1h0.85M58.3 178.6h0.85M37.8 167.2h0.85M43.9 178.3h0.85M49.5 191.6h0.85M31.6 173.8h0.85M50.1 187.1h0.85M41.5 184.5h0.85M35.0 179.0h0.85M38.2 163.5h0.85M45.8 184.9h0.85M28.8 175.2h0.85M41.3 184.5h0.85M38.4 175.8h0.85M42.6 180.1h0.85M28.0 176.8h0.85M34.5 184.1h0.85M24.8 173.3h0.85M38.7 158.6h0.85M56.2 154.8h0.85M47.8 159.6h0.85M49.3 162.7h0.85M44.8 154.0h0.85M38.9 163.8h0.85M54.8 160.2h0.85M56.4 157.8h0.85M35.9 159.3h0.85M43.0 161.0h0.85M46.6 154.0h0.85M48.7 154.8h0.85M42.9 160.1h0.85M45.6 159.1h0.85M37.7 158.2h0.85M47.1 155.4h0.85M33.7 150.3h0.85M41.3 154.8h0.85M41.2 154.3h0.85M38.3 157.2h0.85M47.2 153.9h0.85M33.5 159.8h0.85M46.4 153.9h0.85M44.3 157.5h0.85M44.3 150.9h0.85M41.7 157.0h0.85M42.4 155.4h0.85M40.3 150.4h0.85M40.9 162.9h0.85M42.3 158.1h0.85M43.3 162.7h0.85M36.7 153.5h0.85M34.0 156.9h0.85M41.6 160.8h0.85M36.3 155.2h0.85M46.7 160.8h0.85M36.1 161.6h0.85M39.8 156.5h0.85M40.2 155.1h0.85M30.1 154.8h0.85M36.1 159.9h0.85M43.5 160.6h0.85M35.9 158.8h0.85M31.7 156.1h0.85M47.5 156.3h0.85M53.0 158.3h0.85M37.9 156.0h0.85M27.6 165.0h0.85M47.3 169.8h0.85M54.3 156.8h0.85M34.2 152.8h0.85M38.5 158.3h0.85M31.5 162.1h0.85M47.2 153.3h0.85M39.3 153.2h0.85M47.5 153.6h0.85M33.6 152.2h0.85M34.3 152.9h0.85M47.8 159.1h0.85M33.0 156.1h0.85M40.4 158.4h0.85M34.0 164.0h0.85M45.0 164.5h0.85M22.9 155.4h0.85M45.6 157.9h0.85M39.1 154.1h0.85M44.2 155.5h0.85M49.7 160.4h0.85M46.9 150.2h0.85M43.0 164.0h0.85M52.9 160.4h0.85M48.4 153.9h0.85M50.5 163.1h0.85M43.7 159.4h0.85M40.0 158.8h0.85M39.0 160.1h0.85M39.8 152.6h0.85M36.9 160.2h0.85M42.3 163.0h0.85M47.2 161.6h0.85M40.6 161.9h0.85M36.3 156.3h0.85M46.8 157.8h0.85M35.8 162.4h0.85M50.5 159.1h0.85M49.5 159.9h0.85M47.0 154.0h0.85M28.8 158.9h0.85M33.6 159.7h0.85M36.3 158.8h0.85M35.1 158.1h0.85M50.7 152.5h0.85M29.5 165.1h0.85M46.0 156.9h0.85M38.3 159.5h0.85M38.5 161.9h0.85M38.9 156.0h0.85M44.5 154.4h0.85M44.5 153.0h0.85M37.4 159.2h0.85M36.3 162.4h0.85M40.3 158.8h0.85M28.0 162.3h0.85M41.5 150.6h0.85M42.5 158.9h0.85M36.2 154.8h0.85M31.7 159.7h0.85M41.1 157.1h0.85M54.1 155.6h0.85M41.9 152.0h0.85M42.9 161.0h0.85M35.0 166.6h0.85M37.2 159.1h0.85M38.4 157.0h0.85M22.1 164.4h0.85M26.5 165.0h0.85M33.6 157.3h0.85M57.2 151.5h0.85M39.4 153.6h0.85M39.6 159.6h0.85M51.1 146.6h0.85M40.4 160.2h0.85M46.7 154.1h0.85M41.4 164.7h0.85M43.3 165.2h0.85M33.0 156.7h0.85M41.1 154.2h0.85M45.1 153.1h0.85M43.1 152.1h0.85M35.3 159.8h0.85M44.8 153.8h0.85M31.0 161.7h0.85M34.3 160.5h0.85M49.4 158.8h0.85M30.9 164.2h0.85M48.2 154.5h0.85M38.1 163.6h0.85M43.0 159.2h0.85M48.1 158.7h0.85M59.4 159.8h0.85M42.0 158.3h0.85M39.0 162.8h0.85M33.2 162.6h0.85M37.1 152.0h0.85M47.4 158.5h0.85M42.9 156.5h0.85M40.9 155.7h0.85M49.8 161.5h0.85M40.8 158.1h0.85M43.0 161.0h0.85M42.6 156.1h0.85M39.6 159.3h0.85M40.2 156.8h0.85M49.2 158.2h0.85M47.1 153.8h0.85M46.6 157.2h0.85M39.5 155.9h0.85M37.0 157.1h0.85M41.9 157.6h0.85M54.3 157.5h0.85M42.8 157.5h0.85M36.0 156.0h0.85M43.5 152.1h0.85M51.8 161.9h0.85M31.5 164.2h0.85M48.4 160.9h0.85M45.7 163.3h0.85M36.0 157.3h0.85M45.2 157.6h0.85M31.9 162.7h0.85M48.0 156.1h0.85M43.7 161.1h0.85M27.5 158.5h0.85M35.6 158.6h0.85M33.2 154.9h0.85M42.7 164.5h0.85M33.2 165.4h0.85M47.5 160.7h0.85M49.9 155.1h0.85M48.6 151.3h0.85M36.1 160.2h0.85M46.3 152.2h0.85M28.9 161.8h0.85M43.2 160.3h0.85M40.8 153.4h0.85M48.7 159.6h0.85M42.4 165.8h0.85M42.8 163.3h0.85M40.4 147.7h0.85M33.7 149.4h0.85M39.8 162.7h0.85M30.1 162.7h0.85M39.5 161.7h0.85M43.7 154.1h0.85M45.1 157.3h0.85M47.2 164.2h0.85M40.0 164.3h0.85M40.7 160.5h0.85M42.6 155.5h0.85M42.2 156.4h0.85M45.0 153.6h0.85M35.1 162.4h0.85M44.9 159.6h0.85M45.1 161.3h0.85M44.5 160.9h0.85M36.3 160.9h0.85M36.6 154.5h0.85M39.9 160.8h0.85M41.5 164.6h0.85M45.8 158.9h0.85M42.1 153.1h0.85M41.7 158.2h0.85M52.8 153.3h0.85M40.6 155.7h0.85M42.4 151.7h0.85M43.3 157.9h0.85M42.6 167.5h0.85M40.9 160.0h0.85M41.3 162.1h0.85M56.0 161.8h0.85M43.6 153.1h0.85M44.2 151.6h0.85M35.7 157.0h0.85M34.1 159.4h0.85M39.0 155.9h0.85M43.8 155.0h0.85M49.8 159.0h0.85M38.5 160.2h0.85M36.9 156.6h0.85M48.1 151.1h0.85M44.4 164.6h0.85M26.8 169.5h0.85M28.7 152.1h0.85M27.5 156.3h0.85M37.4 151.8h0.85M40.0 161.3h0.85M36.2 159.4h0.85M45.3 163.8h0.85M40.7 160.8h0.85M44.6 157.7h0.85M39.0 159.8h0.85M45.8 152.4h0.85M38.8 159.8h0.85M43.2 159.0h0.85M52.1 160.1h0.85M32.9 165.4h0.85M36.6 155.8h0.85M48.4 155.6h0.85M30.0 162.3h0.85M44.2 159.6h0.85M31.9 162.7h0.85M37.1 162.1h0.85M33.0 156.0h0.85M28.1 157.5h0.85M48.3 157.7h0.85M37.4 163.8h0.85M42.6 160.7h0.85M43.4 157.3h0.85M42.1 159.5h0.85M48.7 159.0h0.85M47.0 152.9h0.85M28.7 161.4h0.85M42.2 159.5h0.85M34.5 159.8h0.85M34.1 159.6h0.85M40.6 157.5h0.85M43.2 155.8h0.85M41.0 160.7h0.85M51.2 157.8h0.85M46.5 159.3h0.85M52.2 163.9h0.85M36.9 161.4h0.85M43.1 163.6h0.85M24.9 158.5h0.85M29.6 165.2h0.85M43.0 160.2h0.85M43.9 158.6h0.85M43.9 156.0h0.85M27.6 161.6h0.85M40.7 156.0h0.85M37.1 163.6h0.85M36.2 155.0h0.85M45.5 162.7h0.85M32.5 155.9h0.85M34.1 160.7h0.85M44.8 162.6h0.85M40.7 157.2h0.85M37.1 162.9h0.85M37.1 155.7h0.85M39.6 158.2h0.85M43.7 155.2h0.85M52.7 163.1h0.85M33.6 159.9h0.85M34.4 158.2h0.85M32.9 158.4h0.85M42.9 158.3h0.85M32.2 152.2h0.85M28.8 164.7h0.85M39.9 158.5h0.85M50.7 152.6h0.85M43.8 155.0h0.85M42.3 150.8h0.85M38.4 158.2h0.85M41.8 152.6h0.85M39.4 161.6h0.85M40.4 161.3h0.85M45.4 158.1h0.85M38.6 158.7h0.85M34.8 161.6h0.85M43.2 162.0h0.85M56.0 158.5h0.85M44.8 158.1h0.85M46.7 162.1h0.85M39.2 153.7h0.85M32.0 163.3h0.85M44.2 159.5h0.85M29.9 157.9h0.85M30.7 155.6h0.85M37.3 156.1h0.85M51.6 151.5h0.85M36.9 156.0h0.85M41.5 160.6h0.85M35.7 152.8h0.85M38.2 160.0h0.85M33.8 162.9h0.85M34.3 156.8h0.85M38.0 165.6h0.85M46.2 158.4h0.85M34.3 155.0h0.85M32.0 163.7h0.85M46.4 156.3h0.85M32.0 146.5h0.85M33.8 158.2h0.85M41.0 157.5h0.85M32.0 158.1h0.85M35.9 160.0h0.85M38.8 159.5h0.85M39.4 153.1h0.85M45.5 150.2h0.85M41.8 153.3h0.85M34.4 156.9h0.85M33.3 150.3h0.85M30.4 149.8h0.85M37.2 157.1h0.85M36.4 147.6h0.85M38.0 160.4h0.85M28.9 150.9h0.85M43.6 154.7h0.85M44.8 153.8h0.85M26.8 155.3h0.85M36.7 157.0h0.85M31.0 153.2h0.85M51.6 152.7h0.85M48.3 149.8h0.85M38.7 157.4h0.85M43.3 155.5h0.85M32.4 156.1h0.85M26.5 142.8h0.85M26.0 163.5h0.85M43.0 164.9h0.85M40.6 148.1h0.85M30.0 157.1h0.85M31.1 150.7h0.85M29.3 151.7h0.85M23.5 157.7h0.85M31.9 161.9h0.85M48.8 155.2h0.85M44.5 161.1h0.85M38.5 154.6h0.85M46.1 158.9h0.85M35.8 153.0h0.85M37.1 160.3h0.85M41.9 152.5h0.85M36.0 156.4h0.85M34.1 155.1h0.85M30.1 151.4h0.85M39.1 156.7h0.85M34.9 166.5h0.85M35.9 159.1h0.85M39.0 153.2h0.85M41.9 161.1h0.85M37.2 158.1h0.85M57.1 151.1h0.85M35.6 158.4h0.85M37.1 151.5h0.85M33.7 154.4h0.85M35.2 155.8h0.85M48.3 156.7h0.85M34.5 159.1h0.85M41.7 150.2h0.85M32.8 150.1h0.85M39.5 159.9h0.85M35.6 161.8h0.85M33.1 154.0h0.85M36.7 156.5h0.85M48.8 150.0h0.85M41.1 156.0h0.85M45.4 148.9h0.85M29.0 164.1h0.85M46.0 161.0h0.85M36.3 160.9h0.85M37.2 150.2h0.85M36.2 154.3h0.85M29.9 152.7h0.85M32.3 158.2h0.85M44.0 161.2h0.85M44.8 150.3h0.85M41.2 159.7h0.85M40.0 150.9h0.85M31.3 160.1h0.85M26.8 158.3h0.85M34.1 148.9h0.85M34.0 154.8h0.85M42.9 159.6h0.85M45.8 159.4h0.85M33.9 153.4h0.85M38.2 153.8h0.85M25.5 145.3h0.85M42.4 156.1h0.85M50.9 153.0h0.85M44.4 156.3h0.85M40.5 155.9h0.85M44.8 158.1h0.85M33.8 155.0h0.85M35.5 156.0h0.85M38.7 153.4h0.85M33.0 155.5h0.85M24.7 157.6h0.85M39.7 140.0h0.85M29.4 155.4h0.85M44.0 157.9h0.85M43.7 155.0h0.85M43.0 159.0h0.85M36.2 156.0h0.85M25.4 148.8h0.85M44.1 160.7h0.85M31.3 147.9h0.85M23.1 161.3h0.85M39.4 165.1h0.85M45.9 165.7h0.85M42.9 152.7h0.85M34.6 161.1h0.85M27.0 158.4h0.85M34.1 162.0h0.85M33.1 151.8h0.85M43.7 139.4h0.85M44.5 157.0h0.85M32.8 158.8h0.85M33.6 158.6h0.85M37.6 159.3h0.85M30.3 152.1h0.85M49.9 157.0h0.85M35.7 150.9h0.85M33.3 156.7h0.85M28.5 155.3h0.85M35.2 145.7h0.85M37.0 161.6h0.85M33.9 154.4h0.85M38.8 152.5h0.85M24.7 155.6h0.85M33.8 152.2h0.85M46.7 156.0h0.85M31.7 152.0h0.85M48.1 159.5h0.85M24.5 158.5h0.85M33.5 152.5h0.85M44.8 159.1h0.85M31.0 155.4h0.85M41.4 154.9h0.85M39.9 152.0h0.85M46.0 162.8h0.85M32.3 148.4h0.85M33.6 159.8h0.85M38.4 155.2h0.85M38.2 148.1h0.85M36.7 155.0h0.85M32.5 159.4h0.85M32.4 152.3h0.85M41.9 158.7h0.85M37.5 156.6h0.85M39.7 157.2h0.85M30.1 159.7h0.85M51.1 157.4h0.85M35.1 161.4h0.85M41.4 151.7h0.85M36.3 152.6h0.85M44.2 148.9h0.85M45.8 152.1h0.85M39.1 153.3h0.85M39.7 161.3h0.85M41.4 149.4h0.85M35.2 156.2h0.85M50.2 152.9h0.85M34.2 151.6h0.85M36.6 158.8h0.85M30.0 162.5h0.85M45.9 159.5h0.85M66.5 158.3h0.85M55.8 153.8h0.85M76.1 147.0h0.85M64.5 152.5h0.85M56.6 152.6h0.85M61.1 154.4h0.85M65.6 154.1h0.85M62.9 153.4h0.85M66.4 150.9h0.85M54.1 157.6h0.85M49.3 158.1h0.85M70.6 148.3h0.85M48.4 154.9h0.85M64.4 150.5h0.85M69.0 153.3h0.85M56.2 156.9h0.85M53.4 154.6h0.85M63.9 156.3h0.85M67.5 155.8h0.85M53.3 163.6h0.85M56.9 155.5h0.85M72.4 152.1h0.85M70.2 148.5h0.85M55.3 154.1h0.85M58.9 154.6h0.85M60.4 151.1h0.85M63.9 149.6h0.85M58.0 155.3h0.85M56.8 154.8h0.85M66.6 156.0h0.85M70.1 153.6h0.85M65.6 149.5h0.85M57.0 152.6h0.85M59.0 153.9h0.85M56.4 153.9h0.85M69.6 150.5h0.85M50.1 155.8h0.85M61.5 152.7h0.85M76.1 152.2h0.85M73.2 149.2h0.85M67.3 152.8h0.85M61.9 151.5h0.85M63.8 148.3h0.85M68.5 158.7h0.85M71.9 145.9h0.85M63.6 151.2h0.85M58.5 153.7h0.85M69.8 153.3h0.85M57.0 156.1h0.85M63.4 158.1h0.85M53.0 155.5h0.85M56.3 154.8h0.85M49.5 154.4h0.85M61.6 152.1h0.85M56.7 154.5h0.85M58.7 152.0h0.85M60.8 153.8h0.85M64.4 148.6h0.85M59.7 156.9h0.85M53.2 156.0h0.85M59.2 156.8h0.85M70.0 152.1h0.85M59.1 150.3h0.85M58.9 152.2h0.85M62.5 157.1h0.85M74.3 151.1h0.85M63.1 152.9h0.85M64.2 152.4h0.85M73.4 148.8h0.85M63.1 151.7h0.85M68.3 156.2h0.85M66.5 152.8h0.85M62.7 154.7h0.85M59.4 158.1h0.85M73.5 153.0h0.85M67.6 151.1h0.85M73.9 147.2h0.85M57.9 159.7h0.85M59.9 152.1h0.85M52.1 158.5h0.85M70.0 152.0h0.85M52.3 155.8h0.85M57.6 156.8h0.85M71.8 152.2h0.85M65.3 156.5h0.85M73.2 147.9h0.85M65.4 149.9h0.85M57.8 157.4h0.85M55.7 154.8h0.85M70.4 152.6h0.85M52.4 155.8h0.85M61.3 151.6h0.85M75.5 150.3h0.85M63.1 155.8h0.85M63.8 150.0h0.85M62.8 154.5h0.85M63.8 155.7h0.85M68.3 153.3h0.85M61.8 153.8h0.85M74.9 146.4h0.85M69.9 152.7h0.85M58.6 154.5h0.85M66.7 149.1h0.85M64.0 154.6h0.85M57.4 155.2h0.85M71.6 151.7h0.85M57.6 151.0h0.85M52.0 158.6h0.85M61.7 153.5h0.85M61.6 152.0h0.85M73.9 152.4h0.85M72.2 148.3h0.85M66.7 154.1h0.85M55.9 153.2h0.85M57.9 157.2h0.85M64.4 151.4h0.85M67.3 150.8h0.85M63.8 153.1h0.85M57.7 157.1h0.85M63.3 147.9h0.85M61.8 157.3h0.85M49.1 159.1h0.85M64.4 150.2h0.85M62.8 150.8h0.85M53.5 156.8h0.85M64.7 148.7h0.85M59.6 154.4h0.85M53.2 158.5h0.85M58.4 155.6h0.85M67.0 150.2h0.85M65.1 153.2h0.85M65.4 151.8h0.85M69.0 153.6h0.85M72.5 153.6h0.85M54.6 154.2h0.85M65.6 155.2h0.85M58.6 154.6h0.85M64.9 152.7h0.85M69.2 149.5h0.85M66.1 150.8h0.85M65.6 150.6h0.85M61.2 156.1h0.85M57.0 155.1h0.85M66.9 152.2h0.85M61.3 153.9h0.85M57.5 156.6h0.85M67.4 156.5h0.85M64.7 155.6h0.85M59.9 155.4h0.85M57.3 155.5h0.85M61.0 156.2h0.85M50.4 156.2h0.85M61.1 155.5h0.85M58.5 153.6h0.85M70.7 150.0h0.85M60.6 156.8h0.85M50.0 157.7h0.85M65.1 153.5h0.85M52.0 152.9h0.85M57.9 152.7h0.85M67.1 151.4h0.85M71.7 151.2h0.85M66.7 150.9h0.85M59.3 155.4h0.85M68.3 150.5h0.85M70.9 150.9h0.85M72.6 148.1h0.85M60.8 155.5h0.85M62.5 152.2h0.85M66.9 154.7h0.85M60.5 155.9h0.85M60.3 152.3h0.85M70.9 150.1h0.85M60.0 156.0h0.85M56.9 152.8h0.85M61.4 154.1h0.85M68.7 151.6h0.85M59.0 151.4h0.85M61.0 152.9h0.85M69.7 147.9h0.85M52.0 151.8h0.85M61.5 154.9h0.85M72.8 147.1h0.85M63.9 151.8h0.85M72.8 151.7h0.85M72.2 151.0h0.85M69.5 152.6h0.85M59.0 156.7h0.85M61.0 148.6h0.85M62.2 150.7h0.85M66.1 156.3h0.85M64.7 154.3h0.85M55.3 153.5h0.85M59.2 159.0h0.85M60.3 154.8h0.85M51.5 155.1h0.85M63.6 152.9h0.85M61.0 154.9h0.85M65.8 149.8h0.85M54.6 156.8h0.85M67.8 148.9h0.85M67.0 149.1h0.85M61.8 156.7h0.85M52.7 156.0h0.85M61.4 151.1h0.85M67.5 150.0h0.85M58.6 151.9h0.85M65.5 154.1h0.85M71.2 150.7h0.85M57.6 158.3h0.85M58.9 156.0h0.85M72.8 152.8h0.85M51.4 153.8h0.85M57.8 156.7h0.85M57.9 156.5h0.85M64.0 153.5h0.85M62.5 151.7h0.85M71.2 151.6h0.85M72.0 148.9h0.85M52.1 159.4h0.85M55.4 155.5h0.85M60.3 153.6h0.85M60.5 151.3h0.85M55.1 155.8h0.85M58.1 158.6h0.85M63.0 156.6h0.85M59.6 156.1h0.85M58.8 152.1h0.85M61.0 153.3h0.85M78.7 146.1h0.85M58.4 156.1h0.85M61.4 154.0h0.85M67.3 151.8h0.85M58.0 151.3h0.85M62.0 154.8h0.85M63.7 155.9h0.85M59.8 154.7h0.85M57.2 150.1h0.85M66.0 151.4h0.85M66.4 150.9h0.85M52.8 153.6h0.85M60.5 152.2h0.85M60.6 155.1h0.85M62.3 154.5h0.85M61.4 152.0h0.85M56.2 149.7h0.85M66.0 155.1h0.85M56.2 152.7h0.85M57.0 155.5h0.85M62.9 152.7h0.85M62.0 149.5h0.85M61.5 153.1h0.85M65.3 150.9h0.85M59.0 154.7h0.85M79.0 147.7h0.85M75.0 147.9h0.85M62.7 151.1h0.85M70.9 151.5h0.85M63.6 155.5h0.85M70.5 149.7h0.85M63.9 151.8h0.85M69.6 146.5h0.85M76.0 149.4h0.85M49.5 157.3h0.85M57.2 154.8h0.85M63.2 155.8h0.85M51.0 157.2h0.85M69.6 148.4h0.85M67.1 154.2h0.85M59.1 149.6h0.85M63.4 152.0h0.85M72.2 150.4h0.85M66.8 153.1h0.85M63.6 150.1h0.85M57.9 154.8h0.85M61.9 153.3h0.85M67.2 152.3h0.85M66.9 152.5h0.85M64.8 151.5h0.85M53.1 157.8h0.85M67.8 153.6h0.85M57.4 157.3h0.85M63.0 153.6h0.85M58.2 153.3h0.85M58.5 155.3h0.85M58.1 154.4h0.85M59.0 151.2h0.85M62.8 153.6h0.85M62.9 146.2h0.85M68.9 151.7h0.85M56.5 159.5h0.85M62.6 155.1h0.85M63.2 147.6h0.85M69.9 148.8h0.85M69.2 151.4h0.85M57.1 148.9h0.85M59.5 151.7h0.85M62.6 150.7h0.85M66.9 151.0h0.85M59.6 158.9h0.85M67.3 150.6h0.85M64.7 148.9h0.85M57.7 154.1h0.85M57.8 152.2h0.85M66.4 150.9h0.85M57.4 153.2h0.85M58.3 156.3h0.85M64.2 149.3h0.85M70.7 153.9h0.85M60.6 151.5h0.85M62.5 152.0h0.85M65.6 152.5h0.85M70.2 147.5h0.85M58.5 155.0h0.85M59.3 153.2h0.85M55.2 159.7h0.85M61.2 155.3h0.85M57.5 153.5h0.85M61.9 157.4h0.85M70.8 156.2h0.85M71.8 154.5h0.85M61.0 152.1h0.85M70.4 149.6h0.85M65.7 151.1h0.85M55.9 155.2h0.85M56.8 154.1h0.85M67.8 151.6h0.85M68.5 150.8h0.85M64.5 150.4h0.85M70.5 146.5h0.85M64.1 154.3h0.85M46.3 153.6h0.85M53.0 155.6h0.85M60.7 153.0h0.85M66.1 157.8h0.85M56.1 155.8h0.85M62.6 155.9h0.85M49.2 152.9h0.85M55.7 152.5h0.85M63.8 151.9h0.85M49.9 154.7h0.85M52.3 154.1h0.85M61.1 151.8h0.85M69.8 156.8h0.85M65.4 148.9h0.85M71.1 156.1h0.85M61.1 154.6h0.85M69.1 152.1h0.85M70.0 152.7h0.85M58.5 153.2h0.85M60.7 152.1h0.85M70.4 152.1h0.85M61.1 155.6h0.85M62.8 155.7h0.85M72.3 151.3h0.85M58.7 151.5h0.85M73.2 151.5h0.85M58.6 154.1h0.85M55.3 158.3h0.85M64.2 152.0h0.85M53.2 160.7h0.85M63.0 147.9h0.85M58.7 154.2h0.85M63.2 150.5h0.85M69.4 153.0h0.85M62.5 151.7h0.85M51.3 155.1h0.85M61.0 150.9h0.85M64.1 154.8h0.85M59.3 153.1h0.85M62.1 157.3h0.85M71.0 147.2h0.85M59.2 160.2h0.85M60.2 158.0h0.85M65.4 155.6h0.85M60.1 154.1h0.85M65.6 152.5h0.85M61.9 156.8h0.85M61.3 156.8h0.85M58.6 153.6h0.85M66.8 153.5h0.85M68.3 152.0h0.85M62.1 152.3h0.85M52.6 154.9h0.85M68.7 151.6h0.85M63.6 156.0h0.85M56.7 155.6h0.85M58.9 156.9h0.85M53.3 154.8h0.85M59.2 153.4h0.85M58.9 158.7h0.85M61.0 153.4h0.85M53.5 152.5h0.85M57.7 151.7h0.85M65.5 151.2h0.85M59.5 153.7h0.85M56.7 151.8h0.85M58.2 154.9h0.85M61.6 151.5h0.85M72.1 151.8h0.85M66.4 156.0h0.85M56.7 157.1h0.85M63.9 153.7h0.85M53.0 153.8h0.85M62.4 153.3h0.85M71.8 150.1h0.85M63.8 152.3h0.85M54.4 154.6h0.85M63.0 157.3h0.85M69.9 150.2h0.85M56.9 154.7h0.85M58.9 160.0h0.85M67.5 152.0h0.85M59.1 151.7h0.85M61.8 147.5h0.85M60.0 152.9h0.85M71.7 146.9h0.85M67.9 151.2h0.85M67.1 150.5h0.85M64.9 154.7h0.85M78.0 147.6h0.85M61.6 153.3h0.85M58.8 154.1h0.85M62.6 152.6h0.85M52.0 156.7h0.85M53.6 155.4h0.85M68.6 148.8h0.85M61.6 154.1h0.85M62.2 152.4h0.85M62.5 155.0h0.85M56.3 154.6h0.85M66.8 150.9h0.85M55.1 157.0h0.85M66.7 154.6h0.85M62.4 151.9h0.85M71.7 154.0h0.85M67.3 151.0h0.85M63.2 151.2h0.85M56.1 155.2h0.85M64.4 154.2h0.85M63.1 158.0h0.85M56.5 158.0h0.85M60.0 156.2h0.85M56.9 159.9h0.85M71.2 147.5h0.85M70.5 151.8h0.85M68.0 152.0h0.85M61.7 150.4h0.85M59.7 154.1h0.85M52.4 153.7h0.85M62.7 154.4h0.85M59.9 157.4h0.85M59.5 155.7h0.85M70.6 149.6h0.85M69.7 151.3h0.85M57.5 158.5h0.85M72.7 150.2h0.85M69.2 154.1h0.85M62.6 158.6h0.85M62.0 152.1h0.85M62.9 153.1h0.85M60.1 153.4h0.85M54.6 156.9h0.85M54.5 158.1h0.85M67.0 151.5h0.85M60.4 152.5h0.85M62.8 157.5h0.85M64.8 151.9h0.85M73.5 149.8h0.85M60.7 159.0h0.85M66.9 155.2h0.85M66.6 153.7h0.85M67.0 154.2h0.85M76.3 147.3h0.85M48.4 156.5h0.85M53.8 156.1h0.85M55.6 155.4h0.85M69.6 150.5h0.85M58.3 156.4h0.85M58.3 154.4h0.85M62.0 150.7h0.85M68.6 149.4h0.85M68.4 152.9h0.85M56.3 154.3h0.85M68.1 151.4h0.85M76.3 147.7h0.85M70.1 147.7h0.85M61.3 156.2h0.85M51.1 157.0h0.85M56.1 152.0h0.85M58.3 153.3h0.85M59.8 152.8h0.85M57.5 148.6h0.85M71.0 156.3h0.85M65.5 152.1h0.85M56.7 155.6h0.85M64.5 150.9h0.85M61.6 155.5h0.85M64.5 152.9h0.85M63.5 151.5h0.85M62.4 153.7h0.85M58.2 154.3h0.85M68.3 154.5h0.85M49.3 153.4h0.85M68.9 152.9h0.85M65.4 149.4h0.85M63.1 154.7h0.85M65.4 151.0h0.85M59.2 155.1h0.85M63.8 156.2h0.85M48.8 155.5h0.85M70.3 148.8h0.85M63.4 156.7h0.85M56.5 155.8h0.85M74.5 147.4h0.85M50.5 159.0h0.85M59.7 154.1h0.85M63.1 156.2h0.85M60.9 156.2h0.85M67.4 152.2h0.85M69.2 152.5h0.85M62.1 160.7h0.85M50.4 153.8h0.85M56.4 154.0h0.85M63.7 152.6h0.85M76.7 148.7h0.85M56.0 155.2h0.85M60.0 152.9h0.85M68.3 152.7h0.85M69.6 149.1h0.85M66.4 152.5h0.85M58.8 150.6h0.85M62.1 150.8h0.85M67.1 153.4h0.85M65.6 159.3h0.85M70.5 146.6h0.85M66.3 153.0h0.85M63.9 151.9h0.85M68.3 145.3h0.85M54.3 157.0h0.85M63.8 155.3h0.85M60.2 152.7h0.85M67.4 152.6h0.85M51.8 158.4h0.85M55.8 157.2h0.85M63.7 154.5h0.85M68.9 149.4h0.85M66.6 152.2h0.85M61.0 153.8h0.85M59.4 154.3h0.85M64.1 151.5h0.85M69.3 151.9h0.85M55.7 156.2h0.85M65.8 149.2h0.85M64.4 152.1h0.85M64.2 152.6h0.85M65.0 153.2h0.85M48.5 157.2h0.85M66.0 154.3h0.85M70.2 152.3h0.85M70.7 153.4h0.85M59.6 152.5h0.85M70.5 153.1h0.85M51.7 153.6h0.85M69.8 152.0h0.85M51.9 157.2h0.85M68.7 153.4h0.85M62.3 153.0h0.85M59.3 153.0h0.85M64.3 159.0h0.85M78.6 148.9h0.85M53.4 155.5h0.85M60.8 153.3h0.85M52.2 155.9h0.85M58.5 154.5h0.85M52.9 155.9h0.85M55.0 153.3h0.85M58.5 153.1h0.85M59.1 152.9h0.85M58.7 152.7h0.85M59.0 153.5h0.85M74.3 152.6h0.85M58.8 151.1h0.85M69.6 151.6h0.85M64.7 155.6h0.85M50.7 155.0h0.85M63.7 156.4h0.85M62.0 153.7h0.85M62.3 153.4h0.85M63.5 151.8h0.85M58.1 153.6h0.85M66.4 155.2h0.85M63.4 152.5h0.85M70.2 152.8h0.85M67.1 152.0h0.85M60.0 155.2h0.85M61.6 156.5h0.85M57.1 155.6h0.85M62.7 151.0h0.85M60.4 151.5h0.85M60.4 153.3h0.85M79.0 146.8h0.85M66.6 151.3h0.85M64.8 152.0h0.85M57.6 158.1h0.85M69.5 147.5h0.85M61.7 152.8h0.85M52.7 156.3h0.85M65.7 152.7h0.85M65.4 156.9h0.85M59.8 157.1h0.85M76.1 143.1h0.85M61.2 157.0h0.85M64.7 151.4h0.85M71.5 153.3h0.85M52.6 157.9h0.85M61.5 154.2h0.85M55.3 156.6h0.85M63.6 150.9h0.85M60.5 157.3h0.85M72.2 147.4h0.85M65.8 151.9h0.85M59.5 154.8h0.85M72.1 152.4h0.85M56.7 155.1h0.85M65.4 155.4h0.85M62.2 153.9h0.85M64.1 154.6h0.85M51.0 159.7h0.85M64.7 152.9h0.85M55.9 155.8h0.85M75.0 148.9h0.85M52.6 157.0h0.85M62.9 153.3h0.85M53.2 156.8h0.85M66.7 142.1h0.85M63.7 155.0h0.85M57.1 149.7h0.85M63.3 158.4h0.85M64.9 158.3h0.85M64.8 152.4h0.85M57.9 158.0h0.85M54.4 154.1h0.85M60.1 154.8h0.85M63.0 149.8h0.85M55.4 159.4h0.85M63.3 153.3h0.85M60.5 154.7h0.85M58.0 157.3h0.85M68.1 152.1h0.85M68.5 151.6h0.85M60.1 156.5h0.85M62.1 151.6h0.85M72.7 150.5h0.85M65.6 156.3h0.85M54.8 154.7h0.85M68.8 151.2h0.85M60.0 153.8h0.85M60.9 153.2h0.85M65.3 153.0h0.85M73.5 151.5h0.85M73.2 151.1h0.85M73.6 150.4h0.85M70.4 151.9h0.85M72.9 149.0h0.85M59.9 155.1h0.85M56.8 158.5h0.85M61.7 155.0h0.85M69.2 153.3h0.85M58.2 151.4h0.85M52.4 153.9h0.85M58.1 152.7h0.85M65.6 149.5h0.85M52.7 156.4h0.85M73.9 148.4h0.85M62.0 153.5h0.85M69.5 153.8h0.85M60.0 156.3h0.85M63.2 155.3h0.85M74.1 145.3h0.85M53.9 152.4h0.85M55.0 155.6h0.85M63.5 157.4h0.85M71.6 151.9h0.85M61.9 155.2h0.85M65.4 151.6h0.85M67.0 151.1h0.85M62.1 153.2h0.85M59.0 152.8h0.85M63.1 153.0h0.85M55.0 159.3h0.85M73.2 154.7h0.85M70.0 151.3h0.85M56.8 152.5h0.85M51.8 155.4h0.85M51.9 156.4h0.85M64.3 151.7h0.85M59.2 154.1h0.85M66.1 151.7h0.85M73.1 148.6h0.85M58.8 153.2h0.85M61.3 154.2h0.85M65.9 151.8h0.85M72.4 146.5h0.85M64.2 153.1h0.85M54.1 152.1h0.85M63.1 156.0h0.85M64.9 152.6h0.85M60.5 152.7h0.85M60.0 155.5h0.85M69.0 153.0h0.85M58.2 155.8h0.85M68.7 147.5h0.85M64.3 151.6h0.85M63.1 150.2h0.85M55.9 154.8h0.85M59.0 153.1h0.85M56.9 155.8h0.85M68.9 149.4h0.85M63.9 151.9h0.85M63.9 155.6h0.85M63.9 152.7h0.85M55.9 157.6h0.85M72.4 146.3h0.85M65.9 152.1h0.85M54.5 159.4h0.85M65.5 157.5h0.85M57.5 153.5h0.85M53.1 155.9h0.85M52.0 155.2h0.85M69.3 152.9h0.85M68.2 152.2h0.85M67.0 151.9h0.85M54.6 156.5h0.85M61.9 151.6h0.85M55.5 157.9h0.85M52.2 154.0h0.85M64.5 154.2h0.85M63.7 149.4h0.85M68.9 151.4h0.85M53.3 158.2h0.85M61.7 149.2h0.85M46.0 157.1h0.85M58.4 155.0h0.85M63.2 151.3h0.85M64.9 153.2h0.85M55.8 156.9h0.85M63.5 152.6h0.85M64.4 150.9h0.85M57.4 154.3h0.85M56.5 158.4h0.85M63.8 154.7h0.85M73.3 154.0h0.85M75.2 148.1h0.85M72.4 149.9h0.85M61.1 154.2h0.85M62.9 153.2h0.85M64.3 156.5h0.85M49.0 153.4h0.85M54.5 156.1h0.85M63.1 154.1h0.85M74.1 150.5h0.85M53.8 156.6h0.85M73.6 155.2h0.85M62.1 153.9h0.85M64.5 154.3h0.85M61.6 152.5h0.85M72.0 154.6h0.85M62.6 152.0h0.85M58.7 151.7h0.85M55.0 154.7h0.85M58.1 155.2h0.85M59.4 152.0h0.85M60.1 148.1h0.85M64.7 152.3h0.85M70.9 150.2h0.85M61.6 151.5h0.85M75.3 150.8h0.85M70.0 150.7h0.85M66.1 150.3h0.85M58.7 153.6h0.85M57.0 156.5h0.85M67.6 154.9h0.85M56.9 153.4h0.85M62.2 155.0h0.85M54.7 154.7h0.85M68.7 152.0h0.85M61.7 150.9h0.85M60.3 155.5h0.85M68.6 147.9h0.85M64.8 151.9h0.85M56.6 159.1h0.85M66.4 149.8h0.85M56.1 155.4h0.85M53.2 155.2h0.85M65.3 149.5h0.85M63.3 154.1h0.85M58.2 155.3h0.85M66.2 153.3h0.85M58.1 156.4h0.85M55.2 157.9h0.85M57.0 156.8h0.85M47.0 162.4h0.85M59.1 156.7h0.85M59.7 155.0h0.85M56.0 158.5h0.85M46.3 157.5h0.85M53.8 156.8h0.85M54.1 155.4h0.85M57.9 158.8h0.85M58.9 159.2h0.85M59.2 160.5h0.85M64.4 153.6h0.85M52.8 156.2h0.85M55.0 159.4h0.85M59.2 156.9h0.85M53.5 156.6h0.85M55.8 157.8h0.85M42.1 161.4h0.85M59.1 154.2h0.85M63.6 157.3h0.85M60.1 151.5h0.85M60.6 156.4h0.85M57.7 150.1h0.85M49.2 158.0h0.85M50.2 162.3h0.85M51.3 160.4h0.85M58.5 164.5h0.85M57.0 161.1h0.85M54.6 154.2h0.85M58.5 160.1h0.85M54.1 160.6h0.85M59.6 156.2h0.85M57.8 157.1h0.85M53.8 158.1h0.85M58.8 154.3h0.85M44.1 162.0h0.85M53.5 159.4h0.85M52.6 159.1h0.85M55.7 156.3h0.85M56.6 158.0h0.85M48.3 162.7h0.85M61.8 156.6h0.85M48.8 161.4h0.85M56.8 161.6h0.85M54.6 157.0h0.85M61.6 149.6h0.85M54.9 156.9h0.85M45.5 157.1h0.85M58.0 157.6h0.85M64.9 157.6h0.85M50.3 160.9h0.85M58.7 156.8h0.85M51.3 163.7h0.85M65.4 155.6h0.85M52.9 154.7h0.85M51.4 160.9h0.85M48.5 162.4h0.85M56.0 158.2h0.85M60.6 162.9h0.85M60.5 155.5h0.85M58.7 156.9h0.85M57.0 157.2h0.85M52.0 159.1h0.85M50.2 161.9h0.85M55.0 154.1h0.85M60.1 158.1h0.85M57.4 152.5h0.85M50.5 160.2h0.85M67.9 154.9h0.85M58.3 158.3h0.85M52.7 161.2h0.85M53.8 157.9h0.85M52.9 154.5h0.85M53.2 155.3h0.85M54.9 161.9h0.85M58.4 155.0h0.85M58.9 154.8h0.85M62.5 157.8h0.85M55.2 157.3h0.85M57.3 154.0h0.85M51.3 158.0h0.85M52.5 158.0h0.85M61.1 155.3h0.85M59.8 161.3h0.85M54.9 161.7h0.85M52.9 154.7h0.85M57.9 156.3h0.85M49.8 162.5h0.85M61.2 153.1h0.85M56.0 157.0h0.85M50.9 159.5h0.85M50.4 153.7h0.85M64.1 153.4h0.85M53.3 157.3h0.85M53.5 164.1h0.85M59.2 158.8h0.85M61.4 162.0h0.85M46.1 162.0h0.85M57.9 157.0h0.85M62.7 157.3h0.85M48.5 159.9h0.85M56.2 160.4h0.85M46.8 161.4h0.85M57.7 158.7h0.85M58.9 150.5h0.85M60.4 156.0h0.85M53.1 160.7h0.85M56.8 161.8h0.85M62.3 152.5h0.85M60.8 156.0h0.85M56.9 156.6h0.85M62.0 153.4h0.85M59.1 152.0h0.85M58.6 153.0h0.85M50.8 158.5h0.85M51.5 161.6h0.85M51.6 163.0h0.85M61.0 156.2h0.85M60.1 156.8h0.85M68.6 155.5h0.85M54.1 158.9h0.85M55.3 157.2h0.85M54.1 156.2h0.85M61.2 155.8h0.85M60.8 155.2h0.85M56.6 155.8h0.85M63.3 160.1h0.85M56.6 159.7h0.85M50.0 155.2h0.85M60.7 151.1h0.85M70.7 156.4h0.85M65.6 154.6h0.85M50.4 156.2h0.85M52.8 160.6h0.85M52.0 156.0h0.85M64.8 151.5h0.85M53.9 161.8h0.85M69.4 149.1h0.85M45.1 158.1h0.85M58.1 156.6h0.85M54.3 154.0h0.85M61.3 154.5h0.85M53.8 158.0h0.85M64.3 155.7h0.85M70.0 152.8h0.85M60.2 150.0h0.85M53.9 157.8h0.85M53.6 155.7h0.85M54.4 154.9h0.85M54.4 158.0h0.85M59.0 153.4h0.85M56.1 155.0h0.85M61.7 161.0h0.85M58.1 158.0h0.85M55.8 158.8h0.85M56.1 153.6h0.85M63.4 162.0h0.85M60.3 156.3h0.85M59.6 161.4h0.85M54.9 159.8h0.85M58.1 150.5h0.85M55.4 159.2h0.85M59.0 156.3h0.85M51.0 159.4h0.85M58.1 158.4h0.85M66.2 154.9h0.85M62.7 157.1h0.85M71.1 155.0h0.85M70.5 150.8h0.85M51.2 160.1h0.85M56.6 161.1h0.85M61.4 158.5h0.85M53.4 158.0h0.85M61.6 154.4h0.85M57.5 160.7h0.85M57.2 157.9h0.85M63.6 156.9h0.85M50.1 159.4h0.85M57.6 158.1h0.85M69.0 157.6h0.85M58.2 155.0h0.85M61.7 156.6h0.85M64.1 156.4h0.85M62.5 153.5h0.85M56.6 157.5h0.85M53.4 159.4h0.85M55.6 156.6h0.85M54.0 157.8h0.85M49.3 161.9h0.85M59.5 158.3h0.85M63.7 156.4h0.85M55.9 161.4h0.85M55.5 158.1h0.85M46.6 158.3h0.85M57.3 159.1h0.85M60.0 159.3h0.85M54.6 156.2h0.85M58.4 154.5h0.85M55.3 157.8h0.85M47.3 155.0h0.85M59.3 154.4h0.85M61.0 154.7h0.85M52.0 160.2h0.85M55.9 158.5h0.85M53.8 155.6h0.85M55.5 155.2h0.85M56.2 154.3h0.85M58.8 158.9h0.85M59.4 152.7h0.85M63.2 150.3h0.85M58.1 157.1h0.85M60.9 154.1h0.85M54.6 161.1h0.85M62.7 152.6h0.85M55.7 155.1h0.85M44.1 163.7h0.85M53.8 158.0h0.85M58.3 152.9h0.85M61.6 153.9h0.85M50.8 175.3h0.85M58.9 169.6h0.85M57.8 184.1h0.85M61.5 173.2h0.85M56.3 185.0h0.85M55.9 160.4h0.85M64.2 169.9h0.85M47.2 164.0h0.85M51.3 158.8h0.85M54.3 169.2h0.85M66.2 172.5h0.85M55.1 172.0h0.85M59.0 179.5h0.85M64.6 160.4h0.85M50.7 172.9h0.85M67.6 169.9h0.85M63.5 169.4h0.85M55.2 171.4h0.85M65.0 170.0h0.85M58.4 175.2h0.85M62.7 173.5h0.85M62.5 184.1h0.85M62.1 170.7h0.85M57.4 174.9h0.85M56.8 165.9h0.85M53.4 169.5h0.85M48.3 192.1h0.85M62.4 169.5h0.85M54.4 181.1h0.85M51.1 166.5h0.85M63.3 172.6h0.85M62.0 173.9h0.85M58.1 169.0h0.85M60.5 174.7h0.85M59.3 170.4h0.85M64.1 173.6h0.85M61.1 165.6h0.85M49.8 177.9h0.85M54.9 167.7h0.85M60.0 181.8h0.85M56.7 171.3h0.85M60.3 176.7h0.85M58.5 161.4h0.85M62.0 168.1h0.85M68.6 168.7h0.85M59.2 172.8h0.85M59.1 189.5h0.85M56.9 179.9h0.85M58.2 170.9h0.85M62.0 175.4h0.85M57.2 166.9h0.85M60.3 195.4h0.85M57.5 177.3h0.85M55.3 195.8h0.85M51.0 169.4h0.85M48.8 177.7h0.85M59.0 176.0h0.85M58.1 183.4h0.85M65.1 180.9h0.85M44.7 167.3h0.85M58.7 179.0h0.85M44.4 183.6h0.85M59.9 183.7h0.85M52.3 168.2h0.85M52.9 169.2h0.85M54.3 161.8h0.85M64.7 176.8h0.85M54.0 159.8h0.85M64.0 158.3h0.85M52.6 164.9h0.85M54.4 176.2h0.85M62.4 175.2h0.85M52.2 181.6h0.85M64.1 178.2h0.85M70.0 166.1h0.85M54.2 168.0h0.85M55.0 177.3h0.85M59.1 170.5h0.85M63.9 172.6h0.85M55.2 169.0h0.85M51.5 171.6h0.85M53.7 172.3h0.85M59.9 176.0h0.85M55.7 185.4h0.85M52.2 177.6h0.85M58.1 174.9h0.85M54.6 167.9h0.85M61.2 161.7h0.85M58.7 163.4h0.85M48.8 173.4h0.85M55.1 185.6h0.85M49.1 173.9h0.85M58.5 174.1h0.85M55.6 162.4h0.85M61.7 177.8h0.85M59.9 174.8h0.85M64.0 179.4h0.85M61.5 168.9h0.85M63.1 167.3h0.85M59.9 166.5h0.85M57.2 178.1h0.85M56.4 179.2h0.85M55.6 183.9h0.85M57.2 190.0h0.85M61.6 172.7h0.85M52.4 170.3h0.85M67.9 164.8h0.85M50.1 174.9h0.85M64.3 170.5h0.85M53.7 171.5h0.85M56.9 180.3h0.85M67.4 172.0h0.85M53.9 165.2h0.85M49.3 172.5h0.85M50.2 177.6h0.85M56.8 168.4h0.85M65.2 161.6h0.85M62.5 173.7h0.85M59.3 172.9h0.85M52.3 176.9h0.85M64.0 159.7h0.85M58.5 172.2h0.85M56.5 175.6h0.85M56.9 170.3h0.85M63.9 166.6h0.85M55.9 170.1h0.85M53.9 169.5h0.85M65.0 167.4h0.85M70.5 162.5h0.85M45.7 168.3h0.85M51.5 181.0h0.85M60.2 165.8h0.85M56.8 170.8h0.85M71.1 173.7h0.85M59.2 176.3h0.85M59.0 172.8h0.85M53.5 173.4h0.85M58.9 164.0h0.85M58.2 164.6h0.85M49.4 172.3h0.85M60.4 178.9h0.85M55.0 163.2h0.85M53.3 171.1h0.85M57.2 175.8h0.85M56.9 179.7h0.85M54.6 175.8h0.85M61.1 175.3h0.85M60.5 165.6h0.85M62.3 169.4h0.85M56.9 166.1h0.85" stroke="#000" stroke-width="0.85" fill="none" opacity="1"/>
<path d="M59.5 193.1h0.7M79.6 189.2h0.7M75.5 181.0h0.7M56.1 190.1h0.7M58.3 190.8h0.7M67.0 169.9h0.7M62.9 194.1h0.7M72.1 194.2h0.7M66.5 192.0h0.7M61.8 194.5h0.7M70.7 180.1h0.7M67.5 193.9h0.7M58.0 176.3h0.7M73.1 189.9h0.7M64.0 167.9h0.7M73.7 183.5h0.7M69.8 186.0h0.7M71.7 193.0h0.7M75.8 191.8h0.7M56.5 172.8h0.7M59.7 185.1h0.7M52.5 171.2h0.7M68.9 181.2h0.7M64.0 181.8h0.7M56.6 173.5h0.7M67.6 177.4h0.7M77.1 190.0h0.7M70.4 175.8h0.7M72.7 167.7h0.7M56.4 191.4h0.7M63.7 175.3h0.7M64.0 188.9h0.7M65.7 183.2h0.7M77.1 169.2h0.7M69.6 169.8h0.7M64.6 185.9h0.7M79.6 175.6h0.7M78.2 193.8h0.7M59.9 186.0h0.7M61.6 165.7h0.7M55.5 169.9h0.7M69.9 188.4h0.7M61.9 183.5h0.7M56.7 172.7h0.7M77.1 175.7h0.7M75.2 169.3h0.7M59.4 175.2h0.7M51.3 169.8h0.7M68.8 182.0h0.7M81.3 166.6h0.7M26.0 194.3h0.7M29.1 193.4h0.7M41.7 191.3h0.7M30.5 191.4h0.7M22.3 196.2h0.7M23.3 191.7h0.7M38.3 189.4h0.7M24.3 196.7h0.7M48.1 191.6h0.7M27.8 188.2h0.7M35.5 199.3h0.7M28.0 197.7h0.7M39.2 200.0h0.7M44.0 196.3h0.7M40.6 192.1h0.7M30.0 197.9h0.7M32.5 197.9h0.7M43.4 192.7h0.7M42.1 194.7h0.7M27.2 192.1h0.7M24.9 195.8h0.7M30.3 194.9h0.7M40.5 189.6h0.7M35.6 188.3h0.7M49.7 193.8h0.7M40.4 131.5h0.7M44.4 128.8h0.7M36.4 134.5h0.7M47.9 131.2h0.7M46.4 133.6h0.7M39.9 135.8h0.7M40.4 135.9h0.7M40.5 141.8h0.7M49.1 133.1h0.7M30.7 130.6h0.7M57.5 135.2h0.7M53.9 134.3h0.7M52.5 136.7h0.7M30.1 128.3h0.7M70.6 194.7h0.7M114.3 185.4h0.7M98.6 160.9h0.7M74.4 130.3h0.7M70.7 149.6h0.7M102.0 188.5h0.7M112.9 188.9h0.7M75.3 136.5h0.7" stroke="#222" stroke-width="0.7" fill="none" opacity="0.8"/>
<rect x="129.6" y="123.9" width="98.9" height="77.6" fill="none" stroke="#000" stroke-width="1.1"/>
<path d="M158.2 123.9V201.5M129.6 164.5H228.5" stroke="#000" stroke-width="1.05" fill="none"/>
<path d="M137.0 201.5v1.9M129.6 195.7h-1.3M141.4 201.5v1.9M129.6 192.2h-1.3M144.5 201.5v1.9M129.6 189.8h-1.3M146.9 201.5v1.9M129.6 187.9h-1.3M148.8 201.5v1.9M129.6 186.4h-1.3M150.5 201.5v1.9M129.6 185.1h-1.3M151.9 201.5v1.9M129.6 184.0h-1.3M153.2 201.5v1.9M129.6 183.0h-1.3M161.8 201.5v1.9M129.6 176.3h-1.3M166.1 201.5v1.9M129.6 172.8h-1.3M169.2 201.5v1.9M129.6 170.4h-1.3M171.6 201.5v1.9M129.6 168.5h-1.3M173.6 201.5v1.9M129.6 167.0h-1.3M175.2 201.5v1.9M129.6 165.7h-1.3M176.7 201.5v1.9M129.6 164.6h-1.3M177.9 201.5v1.9M129.6 163.6h-1.3M186.5 201.5v1.9M129.6 156.9h-1.3M190.8 201.5v1.9M129.6 153.4h-1.3M193.9 201.5v1.9M129.6 151.0h-1.3M196.3 201.5v1.9M129.6 149.1h-1.3M198.3 201.5v1.9M129.6 147.6h-1.3M199.9 201.5v1.9M129.6 146.3h-1.3M201.4 201.5v1.9M129.6 145.2h-1.3M202.6 201.5v1.9M129.6 144.2h-1.3M211.2 201.5v1.9M129.6 137.5h-1.3M215.6 201.5v1.9M129.6 134.0h-1.3M218.7 201.5v1.9M129.6 131.6h-1.3M221.1 201.5v1.9M129.6 129.7h-1.3M223.0 201.5v1.9M129.6 128.2h-1.3M224.7 201.5v1.9M129.6 126.9h-1.3M226.1 201.5v1.9M129.6 125.8h-1.3M227.4 201.5v1.9M129.6 124.8h-1.3M129.6 201.5v2.6M129.6 201.5h-2.2M154.3 201.5v2.6M129.6 182.1h-2.2M179.1 201.5v2.6M129.6 162.7h-2.2M203.8 201.5v2.6M129.6 143.3h-2.2M228.5 201.5v2.6M129.6 123.9h-2.2" stroke="#000" stroke-width="0.9" fill="none"/>
<text x="126.7" y="211.2" class="a" font-size="5.7" stroke="#000" stroke-width="0.15">10<tspan dy="-2.1" dx="0.3" font-size="4.9">0</tspan></text>
<text x="151.4" y="211.2" class="a" font-size="5.7" stroke="#000" stroke-width="0.15">10<tspan dy="-2.1" dx="0.3" font-size="4.9">1</tspan></text>
<text x="176.2" y="211.2" class="a" font-size="5.7" stroke="#000" stroke-width="0.15">10<tspan dy="-2.1" dx="0.3" font-size="4.9">2</tspan></text>
<text x="200.9" y="211.2" class="a" font-size="5.7" stroke="#000" stroke-width="0.15">10<tspan dy="-2.1" dx="0.3" font-size="4.9">3</tspan></text>
<text x="225.6" y="211.2" class="a" font-size="5.7" stroke="#000" stroke-width="0.15">10<tspan dy="-2.1" dx="0.3" font-size="4.9">4</tspan></text>
<path d="M131.5 169.2Q137 167.8 146 168Q154 168.3 156.3 170.4Q157.6 173.5 156.3 176.6Q153 179.4 144 179.6Q136 179.8 131.5 178.8Z" fill="#000"/>
<path d="M160.6 175.0h0.85M157.9 179.4h0.85M136.6 173.1h0.85M146.2 177.8h0.85M155.2 176.6h0.85M145.9 170.0h0.85M151.9 171.7h0.85M151.4 178.6h0.85M130.8 181.1h0.85M141.4 177.7h0.85M151.1 180.5h0.85M153.1 179.7h0.85M150.2 171.0h0.85M141.5 176.3h0.85M151.2 174.4h0.85M137.0 169.3h0.85M143.9 184.7h0.85M142.1 172.1h0.85M148.3 176.5h0.85M144.2 166.6h0.85M137.3 171.6h0.85M148.4 171.6h0.85M141.2 169.9h0.85M138.4 181.8h0.85M150.2 175.4h0.85M136.0 169.5h0.85M151.9 173.8h0.85M148.2 174.9h0.85M144.2 164.9h0.85M150.9 180.2h0.85M143.8 173.3h0.85M145.0 173.0h0.85M143.1 177.7h0.85M134.9 172.8h0.85M143.4 175.6h0.85M159.7 176.2h0.85M148.8 169.6h0.85M156.9 167.7h0.85M154.7 177.1h0.85M144.1 170.1h0.85M147.9 172.2h0.85M154.8 163.4h0.85M144.0 164.5h0.85M143.9 172.8h0.85M150.4 169.8h0.85M134.9 166.1h0.85M139.4 174.5h0.85M141.1 170.4h0.85M141.3 175.9h0.85M145.8 166.8h0.85M138.9 170.7h0.85M145.9 170.1h0.85M147.6 174.7h0.85M139.0 175.0h0.85M141.3 171.4h0.85M151.9 168.2h0.85M159.4 174.8h0.85M139.6 175.4h0.85M135.2 172.4h0.85M160.1 175.6h0.85M141.8 173.3h0.85M151.0 177.2h0.85M140.4 178.2h0.85M143.0 173.7h0.85M149.7 171.2h0.85M150.7 172.8h0.85M150.7 178.3h0.85M140.2 173.9h0.85M142.0 176.3h0.85M147.4 174.6h0.85M154.9 175.3h0.85M145.7 171.3h0.85M143.9 178.8h0.85M149.3 174.3h0.85M142.5 170.6h0.85M137.1 177.6h0.85M143.6 174.3h0.85M154.1 172.5h0.85M139.3 179.1h0.85M148.7 168.3h0.85M143.3 171.2h0.85M139.1 173.1h0.85M158.8 173.2h0.85M139.4 177.4h0.85M131.8 173.2h0.85M154.4 174.0h0.85M146.3 173.2h0.85M146.4 176.5h0.85M142.0 174.4h0.85M145.6 167.2h0.85M151.2 180.5h0.85M150.4 174.9h0.85M140.4 175.3h0.85M160.1 179.4h0.85M137.7 179.5h0.85M137.7 171.7h0.85M142.4 176.3h0.85M141.7 177.6h0.85M146.2 179.7h0.85M131.9 174.5h0.85M149.2 179.6h0.85M139.0 175.3h0.85M152.2 177.2h0.85M142.0 176.3h0.85M169.9 172.4h0.85M148.5 172.4h0.85M150.8 171.3h0.85M148.9 168.8h0.85M145.4 183.1h0.85M134.2 172.1h0.85M151.6 170.2h0.85M145.5 178.1h0.85M144.6 174.4h0.85M153.0 174.0h0.85M155.2 179.5h0.85M141.2 178.7h0.85M149.8 173.7h0.85M143.7 178.0h0.85M133.4 168.5h0.85M153.7 181.2h0.85M146.2 177.9h0.85M130.0 169.4h0.85M139.1 172.8h0.85M145.1 172.4h0.85M143.1 173.4h0.85M148.9 178.0h0.85M151.2 179.1h0.85M142.1 172.5h0.85M150.5 175.8h0.85M144.0 172.9h0.85M133.1 166.1h0.85M138.6 173.1h0.85M137.8 175.6h0.85M154.7 179.4h0.85M140.9 177.5h0.85M151.3 174.2h0.85M146.3 170.8h0.85M145.8 171.6h0.85M141.6 174.4h0.85M151.6 173.2h0.85M141.2 172.5h0.85M166.9 172.5h0.85M147.5 168.6h0.85M143.9 169.7h0.85M138.7 176.7h0.85M158.2 174.6h0.85M148.7 174.7h0.85M139.7 174.3h0.85M151.8 174.7h0.85M140.2 172.3h0.85M147.6 172.8h0.85M151.4 168.9h0.85M150.0 171.1h0.85M142.9 181.7h0.85M152.4 172.2h0.85M140.2 177.3h0.85M151.6 173.9h0.85M149.9 172.5h0.85M139.3 176.2h0.85M142.0 173.0h0.85M135.9 176.8h0.85M150.7 178.6h0.85M149.6 175.6h0.85M139.1 174.2h0.85M147.2 165.0h0.85M133.6 173.4h0.85M150.5 179.1h0.85M158.2 171.3h0.85M144.1 172.1h0.85M136.6 172.7h0.85M144.5 177.0h0.85M130.8 173.5h0.85M134.9 179.1h0.85M158.1 172.3h0.85M137.4 176.2h0.85M151.7 170.4h0.85M139.8 175.0h0.85M134.4 179.4h0.85M143.8 174.2h0.85M133.4 178.4h0.85M131.8 171.3h0.85M138.2 173.5h0.85M131.0 171.1h0.85M148.4 173.8h0.85M144.4 177.5h0.85M147.2 177.6h0.85M143.5 170.7h0.85M157.6 167.8h0.85M131.6 169.8h0.85M163.6 174.2h0.85M152.6 168.3h0.85M133.9 175.1h0.85M139.4 174.4h0.85M148.5 174.3h0.85M144.1 174.7h0.85M141.6 175.1h0.85M151.7 170.6h0.85M145.7 177.2h0.85M141.7 173.6h0.85M159.2 178.0h0.85M163.0 180.7h0.85M140.6 171.5h0.85M141.0 177.1h0.85M153.8 174.2h0.85M146.2 173.2h0.85M141.0 175.7h0.85M143.7 181.1h0.85M147.5 175.6h0.85M142.7 171.1h0.85M146.9 177.9h0.85M143.5 166.2h0.85M136.8 181.0h0.85M138.7 174.7h0.85M136.1 176.9h0.85M148.9 176.0h0.85M152.2 172.3h0.85M158.0 173.1h0.85M151.4 181.7h0.85M139.1 175.4h0.85M142.5 174.5h0.85M146.1 173.7h0.85M143.6 176.6h0.85M132.2 171.3h0.85M139.2 169.0h0.85M146.4 172.4h0.85M136.2 169.1h0.85M135.9 175.6h0.85M132.6 177.3h0.85M148.8 175.0h0.85M152.3 172.6h0.85M136.9 171.4h0.85M146.7 167.4h0.85M152.2 174.8h0.85M134.6 176.2h0.85M146.0 179.4h0.85M133.2 168.8h0.85M142.8 174.3h0.85M136.9 171.1h0.85M156.6 170.6h0.85M154.4 176.4h0.85M143.0 169.2h0.85M142.5 184.3h0.85M148.4 177.7h0.85M138.5 180.2h0.85M140.8 173.7h0.85M139.1 163.6h0.85M153.0 167.1h0.85M138.3 168.2h0.85M138.1 172.2h0.85M138.8 179.1h0.85M133.0 172.8h0.85M147.8 172.4h0.85M138.7 180.9h0.85M149.8 170.9h0.85M145.4 170.6h0.85M147.1 168.7h0.85M150.1 175.2h0.85M146.1 173.9h0.85M145.1 170.7h0.85M143.7 176.0h0.85M146.9 170.5h0.85M148.0 169.5h0.85M136.9 170.8h0.85M138.0 173.4h0.85M148.9 177.7h0.85M147.0 171.2h0.85M149.5 177.4h0.85M136.6 169.5h0.85M141.8 180.9h0.85M140.5 173.2h0.85M149.1 169.6h0.85M133.8 173.4h0.85M150.3 172.7h0.85M137.5 167.8h0.85M156.6 169.3h0.85M154.3 171.2h0.85M152.9 180.0h0.85M135.6 175.9h0.85M149.3 178.4h0.85M140.4 178.3h0.85M144.0 170.2h0.85M151.6 178.4h0.85M142.9 173.4h0.85M149.7 179.9h0.85M132.5 177.7h0.85M160.4 170.6h0.85M148.0 174.0h0.85M146.1 178.4h0.85M131.3 172.7h0.85M159.0 170.0h0.85M139.0 171.6h0.85M146.5 172.7h0.85M136.3 171.0h0.85M141.7 169.4h0.85M144.1 171.6h0.85M141.6 176.5h0.85M135.7 173.9h0.85M138.4 178.3h0.85M155.0 169.5h0.85M136.2 169.4h0.85M148.8 174.9h0.85M132.4 171.9h0.85M157.0 173.1h0.85M135.0 177.0h0.85M140.4 167.0h0.85M135.6 177.1h0.85M141.5 173.4h0.85M148.4 171.0h0.85M130.1 173.7h0.85M137.5 173.7h0.85M136.7 171.0h0.85M130.8 174.8h0.85M159.5 169.3h0.85M152.8 176.2h0.85M137.4 170.1h0.85M147.5 172.5h0.85M140.5 172.1h0.85M159.3 167.9h0.85M146.7 180.7h0.85M144.4 181.6h0.85M143.0 174.4h0.85M149.7 171.2h0.85M143.3 175.9h0.85M137.4 175.5h0.85M152.4 169.6h0.85M142.1 175.3h0.85M136.9 177.5h0.85M153.7 171.8h0.85M145.3 171.6h0.85M142.1 175.6h0.85M141.8 174.5h0.85M139.4 178.2h0.85M151.2 171.6h0.85M148.0 183.5h0.85M139.3 178.9h0.85M166.1 173.2h0.85M150.2 166.0h0.85M155.1 176.3h0.85M150.5 174.7h0.85M151.6 178.0h0.85M149.5 173.0h0.85M142.0 174.1h0.85M141.6 171.0h0.85M132.5 173.6h0.85M135.5 172.6h0.85M132.5 169.0h0.85M139.8 173.1h0.85M161.9 173.7h0.85M152.3 175.8h0.85M146.0 172.9h0.85M148.9 175.9h0.85M131.4 176.4h0.85M141.6 168.2h0.85M136.8 176.5h0.85M151.4 173.5h0.85M153.8 176.8h0.85M130.2 170.0h0.85M146.3 170.7h0.85M138.0 175.0h0.85M140.9 171.4h0.85M131.3 181.4h0.85M131.4 172.4h0.85M152.7 173.6h0.85M135.2 169.8h0.85M153.2 176.7h0.85M148.7 179.8h0.85M138.6 177.4h0.85M132.5 175.7h0.85M145.0 176.5h0.85M139.7 183.6h0.85M145.5 167.3h0.85M142.9 170.8h0.85M156.5 174.7h0.85M154.0 171.0h0.85M136.6 174.4h0.85M143.9 170.5h0.85M147.7 178.2h0.85M140.1 172.1h0.85M138.9 175.8h0.85M142.1 175.5h0.85M152.8 172.8h0.85M140.8 172.8h0.85M156.0 173.4h0.85M143.7 172.7h0.85M150.8 175.3h0.85M133.1 177.3h0.85M146.6 178.3h0.85M147.7 173.6h0.85M134.4 177.5h0.85M153.8 170.6h0.85M142.5 175.5h0.85M141.9 175.3h0.85M139.8 171.5h0.85M153.6 167.6h0.85M148.6 170.9h0.85M143.3 171.4h0.85M144.4 171.5h0.85M145.4 168.6h0.85M133.7 173.3h0.85M148.4 170.7h0.85M159.8 172.4h0.85M149.8 167.1h0.85M134.4 170.1h0.85M132.9 168.0h0.85M139.2 170.7h0.85M157.0 173.5h0.85M145.4 166.1h0.85M155.9 179.4h0.85M133.4 169.9h0.85M136.3 179.0h0.85M131.4 170.0h0.85M150.2 170.2h0.85M152.8 174.3h0.85M135.7 175.8h0.85M154.0 178.5h0.85M147.5 178.6h0.85M143.0 175.0h0.85M158.5 173.4h0.85M136.0 169.3h0.85M138.5 166.9h0.85M134.9 169.6h0.85M141.4 168.8h0.85M142.0 173.8h0.85M149.9 177.6h0.85M156.6 172.9h0.85M131.1 176.7h0.85M146.6 172.2h0.85M150.2 181.1h0.85M146.4 172.3h0.85M144.9 170.5h0.85M160.4 169.4h0.85M134.3 177.6h0.85M141.5 169.4h0.85M151.3 178.1h0.85M151.8 180.7h0.85M147.3 176.7h0.85M144.1 176.5h0.85M158.2 176.5h0.85M137.9 173.6h0.85M160.3 169.3h0.85M138.0 171.5h0.85M154.6 170.7h0.85M139.6 173.7h0.85M148.1 176.2h0.85M133.3 169.7h0.85M130.8 178.1h0.85M141.0 174.6h0.85M143.2 168.4h0.85M160.0 172.5h0.85M147.5 170.2h0.85M165.7 174.2h0.85M146.0 177.5h0.85M140.1 176.3h0.85M145.7 174.7h0.85M139.6 175.3h0.85M152.7 173.8h0.85M140.2 184.0h0.85M149.1 176.3h0.85M130.6 177.9h0.85M146.0 172.1h0.85M137.2 174.5h0.85M139.7 167.6h0.85M152.3 168.3h0.85M141.6 172.1h0.85M156.5 168.3h0.85M151.7 175.5h0.85M137.1 170.0h0.85M144.9 175.9h0.85M152.1 171.2h0.85M147.5 173.0h0.85M147.5 173.6h0.85M142.9 172.6h0.85M147.5 174.2h0.85M134.7 166.2h0.85M151.7 176.6h0.85M142.3 178.1h0.85M142.6 173.4h0.85M139.4 178.5h0.85M158.7 173.1h0.85M137.7 177.7h0.85M150.8 176.2h0.85M130.8 175.0h0.85M144.8 172.8h0.85M147.1 173.3h0.85M146.6 173.8h0.85M140.8 180.1h0.85M142.9 176.1h0.85M151.3 170.5h0.85M141.7 170.7h0.85M141.8 169.6h0.85M150.7 173.9h0.85M132.7 175.6h0.85M134.7 168.7h0.85M146.8 174.1h0.85M137.0 176.5h0.85M147.2 174.5h0.85M152.0 175.0h0.85M154.0 175.2h0.85M146.2 163.7h0.85M140.3 180.8h0.85M138.4 173.4h0.85M139.5 167.4h0.85M148.4 180.8h0.85M157.5 173.1h0.85M135.7 171.9h0.85M147.6 172.5h0.85M150.0 174.9h0.85M132.8 169.8h0.85M150.5 177.0h0.85M143.4 179.2h0.85M142.8 172.9h0.85M142.9 175.9h0.85M144.6 170.9h0.85M136.0 178.4h0.85M139.3 172.8h0.85M151.2 169.5h0.85M164.3 171.2h0.85M137.8 168.7h0.85M138.0 170.4h0.85M139.3 169.9h0.85M149.6 176.3h0.85M147.8 176.0h0.85M137.2 184.3h0.85M138.1 169.5h0.85M160.6 172.4h0.85M143.6 170.2h0.85M140.9 175.6h0.85M145.9 169.4h0.85M149.6 171.0h0.85M146.0 173.0h0.85M136.5 176.6h0.85M140.8 171.3h0.85M147.9 174.9h0.85M132.8 178.4h0.85M146.2 173.5h0.85M149.9 175.9h0.85M138.9 173.9h0.85M136.6 170.0h0.85M148.6 175.6h0.85M145.3 171.5h0.85M156.6 175.2h0.85M148.2 174.2h0.85M145.7 178.1h0.85M152.1 177.9h0.85M144.2 174.4h0.85M133.4 173.2h0.85M138.5 170.9h0.85M143.3 174.2h0.85M137.2 167.8h0.85M141.0 173.9h0.85M145.9 170.7h0.85M132.0 167.2h0.85M143.0 171.7h0.85M148.1 168.7h0.85M154.4 173.2h0.85M141.3 174.4h0.85M149.1 176.7h0.85M146.8 175.9h0.85M144.9 170.6h0.85M146.6 173.2h0.85M143.1 178.2h0.85M142.2 175.5h0.85M155.5 177.4h0.85M132.4 170.0h0.85M141.6 171.9h0.85M142.3 169.6h0.85M147.9 170.6h0.85M150.7 174.8h0.85M142.5 175.8h0.85M141.0 173.7h0.85M153.3 179.9h0.85M147.8 178.9h0.85M143.0 172.2h0.85M147.7 180.8h0.85M147.6 177.9h0.85M154.9 178.7h0.85M143.9 171.7h0.85M153.0 177.1h0.85M139.5 179.7h0.85M136.4 169.6h0.85M142.9 169.3h0.85M142.1 173.7h0.85M138.5 174.2h0.85M132.8 165.9h0.85M150.2 177.3h0.85M150.6 172.5h0.85M147.2 172.8h0.85M153.4 169.8h0.85M145.8 172.3h0.85M149.3 174.2h0.85M135.2 175.6h0.85M150.6 169.7h0.85M147.0 170.4h0.85M139.2 174.5h0.85M153.6 175.6h0.85M148.8 172.2h0.85M142.2 176.2h0.85M144.8 174.5h0.85M146.8 179.9h0.85M154.9 179.0h0.85M146.7 171.3h0.85M133.7 174.5h0.85M135.2 167.1h0.85M140.9 181.9h0.85M143.6 174.5h0.85M143.0 174.6h0.85M132.4 175.0h0.85M150.2 175.0h0.85M146.0 174.2h0.85M149.6 170.0h0.85M143.4 176.2h0.85M137.3 174.6h0.85M143.2 176.6h0.85M139.7 176.3h0.85M149.8 173.1h0.85M142.3 172.4h0.85M137.6 171.8h0.85M134.5 176.6h0.85M146.9 173.6h0.85M144.4 174.1h0.85M156.0 177.1h0.85M140.7 176.4h0.85M137.0 175.1h0.85M138.9 171.2h0.85M137.4 168.9h0.85M132.4 170.5h0.85M146.4 174.9h0.85M149.6 179.8h0.85M150.9 167.5h0.85M138.1 179.3h0.85M144.7 175.3h0.85M145.1 169.1h0.85M146.8 173.4h0.85M135.1 175.2h0.85M157.5 173.3h0.85M132.6 173.5h0.85M135.8 165.4h0.85M139.2 175.2h0.85M135.3 173.5h0.85M142.0 172.3h0.85M139.8 172.7h0.85M140.8 173.4h0.85M147.3 172.1h0.85M136.2 175.6h0.85M137.5 181.3h0.85M141.0 180.8h0.85M145.2 174.9h0.85M150.6 175.3h0.85M142.0 172.6h0.85M135.5 170.5h0.85M150.1 165.4h0.85M157.3 177.1h0.85M140.5 179.9h0.85M158.6 177.7h0.85M148.4 169.6h0.85M146.3 172.3h0.85M146.1 172.6h0.85M142.9 167.8h0.85M142.4 170.6h0.85M151.4 171.3h0.85M146.5 175.7h0.85M141.4 170.7h0.85M143.8 173.2h0.85M149.0 170.4h0.85M132.9 176.1h0.85M144.6 177.8h0.85M153.8 167.1h0.85M144.6 174.1h0.85M143.1 176.9h0.85M158.6 172.9h0.85M141.4 175.9h0.85M148.7 173.1h0.85M149.6 178.4h0.85M138.0 178.0h0.85M135.9 178.1h0.85M134.9 170.5h0.85M131.0 172.4h0.85M141.9 173.0h0.85M139.2 172.6h0.85M138.1 172.1h0.85M143.3 171.5h0.85M143.4 169.6h0.85M131.0 176.1h0.85M135.5 173.7h0.85M133.7 168.1h0.85M130.7 170.3h0.85M152.8 170.9h0.85M143.9 172.0h0.85M142.9 169.1h0.85M151.0 174.1h0.85M138.1 176.2h0.85M144.8 178.9h0.85M137.8 179.8h0.85M151.8 170.2h0.85M146.3 177.4h0.85M134.0 178.6h0.85M151.6 179.3h0.85M149.2 174.4h0.85M147.6 176.4h0.85M137.4 165.6h0.85M146.3 170.3h0.85M142.0 175.5h0.85M131.4 175.1h0.85M135.9 171.4h0.85M148.6 168.3h0.85M137.4 172.6h0.85M150.7 173.2h0.85M147.8 169.6h0.85M155.2 175.3h0.85M138.5 171.2h0.85M153.4 175.7h0.85M130.2 166.5h0.85M158.3 174.0h0.85M142.3 174.7h0.85M141.4 172.9h0.85M141.6 166.4h0.85M139.4 171.8h0.85M151.1 176.9h0.85M139.0 173.0h0.85M142.8 180.4h0.85M151.1 171.1h0.85M154.3 170.1h0.85M151.6 173.8h0.85M132.3 171.9h0.85M140.6 177.2h0.85M153.1 167.2h0.85M138.1 177.3h0.85M146.4 175.3h0.85M147.6 176.1h0.85M153.1 172.1h0.85M136.8 167.6h0.85M142.6 170.8h0.85M141.6 166.2h0.85M146.5 173.2h0.85M143.7 170.8h0.85M135.3 176.8h0.85M147.4 172.5h0.85M132.0 175.2h0.85M137.9 176.4h0.85M136.2 174.0h0.85M145.0 171.5h0.85M146.5 168.6h0.85M153.0 171.9h0.85M138.5 172.8h0.85M139.0 170.9h0.85M143.6 171.2h0.85M139.5 174.0h0.85M140.3 170.6h0.85M148.6 180.3h0.85M137.1 176.5h0.85M136.1 172.4h0.85M133.0 171.3h0.85M135.8 173.0h0.85M139.3 181.0h0.85M134.8 175.6h0.85M148.9 167.2h0.85M132.4 172.3h0.85M140.1 177.4h0.85M159.0 171.3h0.85M154.3 173.5h0.85M140.4 172.7h0.85M140.3 168.2h0.85M141.7 169.5h0.85M145.2 183.0h0.85M131.5 179.3h0.85M133.1 172.4h0.85M150.9 175.3h0.85M152.3 178.3h0.85M140.1 171.7h0.85M147.6 175.3h0.85M156.6 166.0h0.85M150.9 175.3h0.85M140.0 170.7h0.85M135.9 170.8h0.85M155.8 173.7h0.85M140.2 173.8h0.85M147.2 176.2h0.85M142.4 172.9h0.85M136.1 173.4h0.85M141.4 171.4h0.85M139.9 178.0h0.85M149.1 174.6h0.85M152.5 174.0h0.85M152.2 173.6h0.85M154.6 175.5h0.85M140.0 169.4h0.85M143.7 174.1h0.85M133.5 172.9h0.85M137.6 174.6h0.85M131.9 173.6h0.85M158.5 177.0h0.85M142.4 179.0h0.85M139.5 176.5h0.85M145.1 172.1h0.85M146.7 182.0h0.85M135.5 170.5h0.85M156.7 171.4h0.85M141.7 172.0h0.85M136.4 175.3h0.85M134.2 170.0h0.85M140.5 175.6h0.85M154.5 173.5h0.85M150.3 178.5h0.85M146.5 176.6h0.85M140.9 168.0h0.85M149.1 169.6h0.85M147.3 170.7h0.85M132.8 173.2h0.85M132.0 173.9h0.85M141.0 172.9h0.85M155.3 176.5h0.85M140.6 176.5h0.85M145.9 172.5h0.85M131.4 171.1h0.85M158.9 173.8h0.85M147.3 179.7h0.85M136.6 177.5h0.85M142.8 171.0h0.85M137.2 184.0h0.85M146.0 175.5h0.85M135.2 170.8h0.85M144.3 172.5h0.85M141.2 172.6h0.85M144.4 175.6h0.85M148.5 180.1h0.85M139.3 174.4h0.85M154.0 172.3h0.85M152.3 171.9h0.85M138.9 169.8h0.85M141.5 181.0h0.85M158.0 174.0h0.85M147.0 177.7h0.85M133.8 172.2h0.85M141.1 167.0h0.85M136.1 171.4h0.85M139.9 172.9h0.85M138.4 175.3h0.85M147.5 173.0h0.85M157.5 167.5h0.85M142.1 173.8h0.85M154.4 173.2h0.85M147.0 174.2h0.85M159.6 172.4h0.85M134.9 171.8h0.85M145.9 178.6h0.85M154.3 172.0h0.85M136.2 171.9h0.85M135.0 169.7h0.85M143.1 170.8h0.85M156.9 164.6h0.85M146.9 171.0h0.85M156.5 170.0h0.85M146.6 179.4h0.85M147.1 171.3h0.85M140.9 174.3h0.85M154.8 174.1h0.85M147.7 169.6h0.85M142.9 178.0h0.85M140.0 171.8h0.85M139.2 177.7h0.85M146.7 175.0h0.85M136.3 167.2h0.85M151.3 172.0h0.85M149.6 175.4h0.85M137.5 169.6h0.85M150.2 166.0h0.85M135.4 174.2h0.85M151.4 181.0h0.85M133.8 172.9h0.85M150.0 173.5h0.85M135.6 176.9h0.85M141.9 173.5h0.85M136.4 172.6h0.85M151.1 174.4h0.85M151.8 175.6h0.85M139.0 172.5h0.85M142.7 171.9h0.85M154.1 169.4h0.85M156.7 171.0h0.85M134.7 173.4h0.85M131.3 179.4h0.85M156.1 178.6h0.85M157.2 178.0h0.85M136.2 176.6h0.85M139.9 171.9h0.85M134.5 175.6h0.85M151.5 169.6h0.85M145.4 175.1h0.85M141.3 172.8h0.85M152.3 178.2h0.85M148.5 176.0h0.85M148.7 171.4h0.85M141.7 173.6h0.85M134.5 176.3h0.85M158.2 180.8h0.85M140.4 171.8h0.85M135.5 175.9h0.85M141.7 177.6h0.85M133.1 174.1h0.85M137.2 174.4h0.85M140.5 166.9h0.85M149.3 173.7h0.85M143.7 173.2h0.85M134.3 173.6h0.85M148.9 179.5h0.85M144.1 171.6h0.85M152.2 172.8h0.85M140.4 173.5h0.85M147.5 169.2h0.85M143.3 173.3h0.85M138.7 179.5h0.85M144.0 174.3h0.85M154.8 166.1h0.85M139.5 170.4h0.85M130.5 171.4h0.85M145.8 172.5h0.85M158.6 168.1h0.85M145.2 174.6h0.85M143.4 175.8h0.85M140.4 175.4h0.85M140.5 171.9h0.85M134.8 172.1h0.85M148.6 171.9h0.85M148.7 173.0h0.85M142.6 178.2h0.85M132.9 173.4h0.85M150.2 175.7h0.85M146.0 178.6h0.85M139.1 174.2h0.85M157.6 169.7h0.85M147.5 175.9h0.85M145.7 175.3h0.85M136.1 174.4h0.85M142.1 175.2h0.85M144.5 180.4h0.85M151.5 181.3h0.85M151.6 175.4h0.85M149.4 178.6h0.85M136.6 168.7h0.85M131.4 176.6h0.85M140.5 172.9h0.85M144.2 176.7h0.85M140.1 171.1h0.85M139.2 176.6h0.85M141.7 176.0h0.85M151.7 173.0h0.85M136.5 169.6h0.85M138.8 170.2h0.85M144.8 169.3h0.85M144.5 172.4h0.85M149.6 170.0h0.85M143.8 176.3h0.85M138.4 170.5h0.85M130.4 174.0h0.85M137.9 172.4h0.85M148.9 163.1h0.85M150.1 181.7h0.85M142.2 172.3h0.85M141.8 176.8h0.85M163.0 170.8h0.85M142.0 173.1h0.85M140.8 166.0h0.85M145.2 171.1h0.85M145.1 172.0h0.85M135.2 167.2h0.85M154.2 173.4h0.85M145.6 179.1h0.85M146.8 174.5h0.85M150.0 169.7h0.85M130.0 175.0h0.85M141.2 178.7h0.85M131.6 173.4h0.85M147.9 175.2h0.85M132.3 168.6h0.85M138.7 181.1h0.85M135.9 172.0h0.85M149.8 175.2h0.85M154.0 171.2h0.85M137.0 176.5h0.85M140.7 173.6h0.85M134.1 170.9h0.85M136.1 171.4h0.85M136.7 172.5h0.85M139.7 177.4h0.85M157.2 172.4h0.85M155.5 175.3h0.85M130.6 177.5h0.85M138.2 179.1h0.85M154.3 171.9h0.85M134.5 177.4h0.85M135.3 173.3h0.85M150.8 173.2h0.85M148.6 180.4h0.85M145.5 176.1h0.85M137.9 164.2h0.85M144.0 173.7h0.85M147.2 173.8h0.85M137.7 171.6h0.85M143.3 170.5h0.85M131.3 174.6h0.85M142.5 175.7h0.85M138.2 173.2h0.85M135.1 172.3h0.85M149.6 179.7h0.85M140.4 175.2h0.85M136.6 168.6h0.85M138.0 172.8h0.85M140.2 170.9h0.85M144.2 177.6h0.85M138.3 175.1h0.85M147.5 177.2h0.85M148.2 177.2h0.85M143.4 169.2h0.85M133.8 172.1h0.85M134.8 171.0h0.85M141.1 173.6h0.85M139.4 174.9h0.85M158.7 170.3h0.85M138.3 169.7h0.85M152.1 176.8h0.85M131.9 175.4h0.85M131.4 175.1h0.85M143.0 173.9h0.85M144.4 178.3h0.85M143.9 173.6h0.85M137.1 175.6h0.85M149.6 176.4h0.85M150.4 173.2h0.85M131.4 174.1h0.85M154.9 178.1h0.85M137.4 181.0h0.85M154.4 176.7h0.85M135.0 176.2h0.85M150.8 181.5h0.85M139.5 172.9h0.85M152.9 177.9h0.85M150.5 172.1h0.85M137.9 174.8h0.85M147.1 177.0h0.85M137.2 168.4h0.85M152.2 173.6h0.85M142.0 177.2h0.85M131.4 173.8h0.85M140.3 175.5h0.85M142.8 176.2h0.85M132.6 172.4h0.85M136.0 177.6h0.85M153.7 174.2h0.85M149.0 173.1h0.85M138.0 178.7h0.85M142.4 178.6h0.85M163.0 169.8h0.85M148.1 172.8h0.85M146.6 165.9h0.85M148.3 170.9h0.85M145.7 175.5h0.85M150.2 174.0h0.85M145.9 172.9h0.85M130.9 171.8h0.85M139.2 172.8h0.85M144.6 174.7h0.85M152.1 180.8h0.85M134.8 174.5h0.85M146.9 173.1h0.85M149.0 166.1h0.85M148.9 173.2h0.85M159.2 173.6h0.85M160.4 181.7h0.85M145.8 172.9h0.85M149.2 179.1h0.85M158.3 175.2h0.85M136.3 179.4h0.85M144.1 175.8h0.85M138.6 174.6h0.85M151.1 174.2h0.85M136.6 176.8h0.85M144.9 170.6h0.85M137.6 180.6h0.85M142.1 175.9h0.85M139.6 173.5h0.85M143.2 172.3h0.85M149.9 177.8h0.85M150.4 172.6h0.85M138.3 167.0h0.85M152.5 172.9h0.85M133.5 170.0h0.85M150.2 173.0h0.85M149.8 174.7h0.85M151.4 174.9h0.85M132.8 179.4h0.85M144.7 171.3h0.85M139.3 171.1h0.85M146.6 175.8h0.85M132.5 167.5h0.85M154.2 175.4h0.85M132.5 177.6h0.85M153.5 175.7h0.85M147.8 172.1h0.85M136.9 181.1h0.85M140.1 176.0h0.85M137.1 168.9h0.85M139.1 181.5h0.85M143.7 167.0h0.85M152.2 178.2h0.85M136.6 174.4h0.85M143.4 171.2h0.85M144.2 168.3h0.85M146.5 177.5h0.85M136.2 176.4h0.85M149.9 176.0h0.85M155.6 174.0h0.85M137.0 176.8h0.85M147.8 166.3h0.85M144.0 171.2h0.85M140.2 174.3h0.85M156.3 175.4h0.85M137.6 171.9h0.85M145.1 175.4h0.85M166.4 170.5h0.85M138.5 177.4h0.85M140.4 174.6h0.85M149.1 170.3h0.85M149.8 172.2h0.85M146.0 178.2h0.85M136.5 171.1h0.85M153.0 174.0h0.85M142.0 177.1h0.85M135.0 173.8h0.85M132.6 169.2h0.85M148.8 178.3h0.85M144.9 168.7h0.85M142.2 175.1h0.85M143.0 178.1h0.85M136.3 175.0h0.85M140.3 173.6h0.85M140.3 175.6h0.85M133.0 172.8h0.85M146.1 177.0h0.85M152.3 174.6h0.85M152.9 178.4h0.85M142.2 180.9h0.85M156.2 172.9h0.85M142.2 172.2h0.85M142.2 175.1h0.85M145.5 172.5h0.85M147.3 178.2h0.85M150.8 176.2h0.85M140.4 172.8h0.85M157.2 174.1h0.85M136.8 177.1h0.85M157.1 168.5h0.85M157.1 170.4h0.85M150.5 174.2h0.85M138.1 170.5h0.85M134.6 169.4h0.85M140.1 177.5h0.85M141.0 180.8h0.85M141.1 171.4h0.85M143.1 179.8h0.85M137.0 173.8h0.85M151.6 172.1h0.85M147.5 173.3h0.85M141.5 173.4h0.85M141.1 176.5h0.85M130.0 169.3h0.85M139.1 168.4h0.85M135.1 169.5h0.85M142.0 167.8h0.85M140.5 171.4h0.85M151.5 168.1h0.85M133.3 170.5h0.85M147.7 170.8h0.85M140.8 173.1h0.85M147.1 168.6h0.85M135.6 173.5h0.85M153.8 171.2h0.85M136.2 176.1h0.85M143.1 173.6h0.85M157.6 171.0h0.85M148.8 180.3h0.85M138.8 181.7h0.85M148.7 174.8h0.85M154.9 174.5h0.85M141.4 168.6h0.85M148.7 171.8h0.85M135.5 181.5h0.85M152.5 179.2h0.85M157.7 169.2h0.85M158.5 170.1h0.85M134.3 175.0h0.85M140.1 179.8h0.85M140.0 176.1h0.85M142.8 171.1h0.85M140.7 172.3h0.85M144.4 173.3h0.85M150.1 172.8h0.85M145.4 179.6h0.85M147.1 183.7h0.85M144.1 175.0h0.85M148.2 178.0h0.85M149.6 173.7h0.85M141.5 172.5h0.85M143.2 168.5h0.85M132.9 169.8h0.85M155.0 174.8h0.85M151.7 173.0h0.85M145.8 170.9h0.85M138.9 171.6h0.85M131.4 175.9h0.85M149.5 175.7h0.85M152.0 170.9h0.85M148.0 173.6h0.85M139.0 173.9h0.85M135.1 172.6h0.85M142.8 167.6h0.85M155.5 177.2h0.85M149.6 179.9h0.85M148.6 175.9h0.85M156.7 172.1h0.85M131.9 177.1h0.85M141.0 177.4h0.85M148.5 171.4h0.85M142.5 169.9h0.85M143.4 173.2h0.85M149.8 180.5h0.85M145.3 172.9h0.85M144.1 173.5h0.85M139.3 174.7h0.85M133.8 170.9h0.85M145.1 177.2h0.85M147.4 172.9h0.85M152.4 175.0h0.85M157.5 175.6h0.85M143.0 169.6h0.85M153.7 177.3h0.85M154.5 171.9h0.85M134.1 178.7h0.85M143.1 165.2h0.85M148.5 169.4h0.85M154.8 177.7h0.85M143.0 176.0h0.85M133.0 168.8h0.85M150.6 166.9h0.85M142.2 175.4h0.85M149.2 175.0h0.85M162.2 178.1h0.85M141.8 173.3h0.85M137.0 174.5h0.85M160.7 176.3h0.85M142.3 169.6h0.85M136.7 175.1h0.85M133.7 176.5h0.85M141.1 171.6h0.85M145.6 172.1h0.85M142.7 171.2h0.85M146.9 167.8h0.85M142.2 175.8h0.85M150.3 175.7h0.85M153.9 174.7h0.85M164.6 172.0h0.85M148.7 167.4h0.85M143.4 176.8h0.85M152.7 174.6h0.85M131.2 170.2h0.85M154.9 179.4h0.85M139.3 176.8h0.85M149.2 172.5h0.85M151.7 170.6h0.85M147.8 175.9h0.85M141.6 171.8h0.85M155.9 170.9h0.85M135.4 168.8h0.85M141.0 173.1h0.85M136.1 177.8h0.85M144.0 175.9h0.85M131.3 172.6h0.85M156.2 177.6h0.85M147.0 177.9h0.85M149.3 175.0h0.85M146.6 175.6h0.85M139.8 180.2h0.85M163.6 174.5h0.85M143.1 182.4h0.85M147.2 176.1h0.85M147.5 174.4h0.85M140.7 176.9h0.85M131.2 177.8h0.85M156.3 173.3h0.85M140.4 181.1h0.85M142.2 172.1h0.85M151.6 170.2h0.85M139.3 171.3h0.85M137.4 171.9h0.85M141.1 165.9h0.85M150.2 172.9h0.85M140.4 172.9h0.85M150.5 175.1h0.85M162.3 166.3h0.85M150.5 177.5h0.85M142.5 173.5h0.85M143.4 175.4h0.85M140.2 171.4h0.85M151.6 174.0h0.85M150.5 183.6h0.85M131.9 170.7h0.85M137.4 173.6h0.85M157.6 175.6h0.85M152.7 180.8h0.85M137.5 175.5h0.85M134.6 179.8h0.85M139.1 171.2h0.85M134.4 169.2h0.85M142.9 171.8h0.85M145.9 172.2h0.85M147.1 174.7h0.85M152.5 176.5h0.85M138.7 178.4h0.85M138.4 170.6h0.85M150.7 169.4h0.85M137.4 168.4h0.85M130.0 175.7h0.85M135.4 181.9h0.85M157.9 175.9h0.85M137.8 174.2h0.85M141.7 179.4h0.85M144.8 176.1h0.85M150.6 172.6h0.85M149.9 169.0h0.85M154.7 176.0h0.85M142.9 179.3h0.85M137.2 166.7h0.85M148.8 174.7h0.85M140.8 171.2h0.85M148.4 178.2h0.85M135.3 168.0h0.85M150.4 169.4h0.85M156.0 180.7h0.85M138.6 184.7h0.85M141.6 173.9h0.85M143.0 176.3h0.85M151.9 175.9h0.85M137.4 172.9h0.85M145.7 174.3h0.85M138.7 175.3h0.85M137.0 174.1h0.85M144.6 178.7h0.85M153.7 169.8h0.85M140.3 166.4h0.85M162.9 164.8h0.85M143.3 167.3h0.85M144.4 175.2h0.85M149.7 171.5h0.85M150.6 171.1h0.85M135.0 170.7h0.85M136.6 181.8h0.85M152.3 177.1h0.85M149.9 166.3h0.85M153.1 169.4h0.85M143.7 175.4h0.85M142.8 174.1h0.85M148.3 179.5h0.85M158.3 180.4h0.85M145.2 165.3h0.85M133.4 172.1h0.85M149.9 179.6h0.85M140.3 171.3h0.85M144.8 175.2h0.85M150.5 177.7h0.85M141.9 163.2h0.85M140.0 160.9h0.85M142.3 186.3h0.85M155.6 175.9h0.85M165.1 169.6h0.85M147.8 176.7h0.85M137.4 171.7h0.85M150.6 175.4h0.85M138.6 173.7h0.85M150.3 173.4h0.85M137.0 176.1h0.85M142.8 174.9h0.85M132.9 174.1h0.85M140.5 167.8h0.85M158.6 175.0h0.85M146.4 178.2h0.85M157.3 178.9h0.85M137.6 175.3h0.85M138.4 173.3h0.85M147.7 179.7h0.85M134.0 177.8h0.85M147.7 169.7h0.85M171.7 173.9h0.85M155.5 174.1h0.85M147.7 178.4h0.85M144.7 174.4h0.85M156.1 179.4h0.85M167.7 175.8h0.85M149.2 169.9h0.85M130.5 179.6h0.85M145.8 179.8h0.85M151.9 169.2h0.85M151.4 169.8h0.85M147.1 160.5h0.85M132.0 176.0h0.85M142.6 176.2h0.85M152.4 183.8h0.85M138.8 178.6h0.85M150.0 173.5h0.85M149.1 174.8h0.85M150.7 173.6h0.85M145.0 171.0h0.85M140.2 175.4h0.85M147.2 176.1h0.85M152.8 171.0h0.85M136.9 166.8h0.85M156.6 183.2h0.85M147.8 177.3h0.85M136.9 175.0h0.85M157.9 175.9h0.85M130.7 175.8h0.85M144.3 178.4h0.85M160.2 174.7h0.85M149.2 179.0h0.85M136.1 173.5h0.85M151.3 176.1h0.85M148.8 171.1h0.85M136.5 180.4h0.85M150.8 172.9h0.85M150.3 171.1h0.85M135.0 176.1h0.85M143.6 175.9h0.85M167.2 176.4h0.85M146.2 183.9h0.85M136.9 173.9h0.85M139.9 174.2h0.85M166.4 165.7h0.85M156.7 168.5h0.85M143.6 173.1h0.85M133.8 177.6h0.85M132.1 177.4h0.85M171.6 168.6h0.85M147.1 175.1h0.85M154.0 178.9h0.85M151.2 172.0h0.85M143.5 170.6h0.85M155.9 171.2h0.85M134.3 172.0h0.85M161.0 167.3h0.85M153.2 178.1h0.85M139.5 175.6h0.85M130.4 176.4h0.85M149.2 171.2h0.85M146.5 174.8h0.85M150.3 177.9h0.85M155.1 174.2h0.85M150.5 178.8h0.85M160.9 175.2h0.85M140.3 171.7h0.85M143.9 166.8h0.85M134.5 177.8h0.85M164.3 181.0h0.85M139.0 180.3h0.85M148.3 172.4h0.85M157.8 178.9h0.85M153.6 177.4h0.85M154.5 173.4h0.85M142.1 172.1h0.85M153.7 177.0h0.85M154.5 173.3h0.85M142.4 174.8h0.85M145.3 173.8h0.85M158.8 175.7h0.85M147.5 175.5h0.85M145.7 173.9h0.85M159.8 171.2h0.85M152.5 179.1h0.85M154.6 184.9h0.85M136.8 172.0h0.85M149.0 177.3h0.85M150.8 171.9h0.85M141.7 182.1h0.85M151.9 178.0h0.85M153.5 183.2h0.85M144.0 176.4h0.85M130.2 173.4h0.85M148.4 177.9h0.85M138.5 168.8h0.85M137.3 165.4h0.85M135.1 174.3h0.85M149.8 181.5h0.85M146.8 171.4h0.85M147.2 173.2h0.85M155.2 179.7h0.85M165.0 180.3h0.85M143.2 160.8h0.85M151.7 176.6h0.85M143.6 178.5h0.85M147.7 177.4h0.85M142.6 174.0h0.85M148.7 173.3h0.85M133.5 169.0h0.85M147.5 170.9h0.85M136.4 171.6h0.85M151.3 165.0h0.85M142.5 181.3h0.85M141.6 167.9h0.85M147.1 175.9h0.85M147.7 176.1h0.85M165.1 172.9h0.85M148.1 174.3h0.85M135.5 173.0h0.85M132.6 180.8h0.85M143.2 169.9h0.85M137.1 174.6h0.85M138.0 169.4h0.85M132.2 174.2h0.85M160.6 161.7h0.85M140.2 174.4h0.85M136.0 184.2h0.85M145.4 166.5h0.85M146.2 168.8h0.85M151.3 174.2h0.85M155.0 169.8h0.85M147.3 181.5h0.85M141.3 169.5h0.85M140.3 175.2h0.85M140.1 176.2h0.85M154.6 170.4h0.85M141.1 166.3h0.85M143.8 173.7h0.85M140.1 175.8h0.85M156.0 176.7h0.85M142.6 175.0h0.85M138.1 173.5h0.85M159.1 171.0h0.85M141.5 174.6h0.85M145.9 176.9h0.85M131.5 171.3h0.85M141.6 174.8h0.85M148.3 175.4h0.85M143.0 169.5h0.85M131.6 168.3h0.85M150.2 180.5h0.85M134.4 167.3h0.85M138.9 174.5h0.85M137.2 172.4h0.85M148.5 175.1h0.85M138.0 167.7h0.85M140.8 178.2h0.85M143.9 180.2h0.85M136.1 169.9h0.85M143.5 172.6h0.85M143.1 175.5h0.85M134.8 177.6h0.85M145.5 172.3h0.85M143.8 166.5h0.85M139.3 173.2h0.85M130.5 169.7h0.85M130.0 174.3h0.85M134.8 176.0h0.85M149.9 171.8h0.85M147.1 181.2h0.85M158.6 169.5h0.85M169.0 177.3h0.85M141.0 173.9h0.85M150.2 170.8h0.85M139.3 174.1h0.85M144.8 173.7h0.85M143.7 173.5h0.85M151.5 174.3h0.85M150.0 175.7h0.85M149.7 177.3h0.85M132.6 174.7h0.85M145.6 169.2h0.85M137.3 173.2h0.85M161.0 178.4h0.85M143.0 174.0h0.85M152.3 172.0h0.85M147.9 179.9h0.85M140.1 167.0h0.85M142.0 173.1h0.85M168.3 173.4h0.85M141.9 178.3h0.85M136.0 172.3h0.85M141.5 173.0h0.85M146.5 174.5h0.85M138.7 176.9h0.85M143.8 176.5h0.85M155.4 173.0h0.85M138.8 175.5h0.85M142.1 181.8h0.85M141.0 171.3h0.85M161.8 170.8h0.85M150.5 171.2h0.85M149.4 181.0h0.85M156.3 172.2h0.85M148.6 179.3h0.85M144.6 182.3h0.85M158.2 181.7h0.85M143.8 175.9h0.85M132.2 170.1h0.85M149.1 170.9h0.85M144.0 169.3h0.85M137.0 168.7h0.85M146.5 170.9h0.85M144.9 176.8h0.85M140.3 174.2h0.85M165.3 176.6h0.85M158.7 180.9h0.85M152.0 176.5h0.85M134.3 168.2h0.85M143.1 179.3h0.85M149.4 177.4h0.85M151.1 177.7h0.85M133.8 169.3h0.85M144.6 178.9h0.85M143.4 170.8h0.85M138.6 172.0h0.85M137.6 169.3h0.85M158.9 175.0h0.85M148.7 178.0h0.85M134.1 165.8h0.85M165.5 168.4h0.85M130.3 175.0h0.85M154.2 178.6h0.85M135.9 174.3h0.85M136.7 174.1h0.85M137.2 185.4h0.85M155.0 173.3h0.85M142.4 180.4h0.85M137.1 173.0h0.85M139.3 174.3h0.85M159.9 171.2h0.85M131.8 169.1h0.85M137.7 167.9h0.85M131.8 170.3h0.85M148.4 175.3h0.85M140.2 175.8h0.85M144.0 173.6h0.85M135.2 177.7h0.85M143.3 173.2h0.85M140.1 174.8h0.85M142.7 168.6h0.85M137.9 168.7h0.85M168.0 166.1h0.85M142.5 177.5h0.85M141.9 173.6h0.85M133.8 170.8h0.85M136.7 168.8h0.85M142.1 176.9h0.85M152.2 181.8h0.85M149.3 188.9h0.85M145.4 169.2h0.85M130.0 175.4h0.85M151.9 178.5h0.85M144.2 180.3h0.85M144.5 172.5h0.85M142.5 174.7h0.85M149.9 168.8h0.85M133.9 179.6h0.85M140.5 179.6h0.85M150.2 175.7h0.85M155.6 173.6h0.85M150.4 178.0h0.85M154.2 170.0h0.85M143.8 181.2h0.85M151.0 180.6h0.85M159.0 171.7h0.85M144.0 181.0h0.85M149.4 170.4h0.85M148.6 176.3h0.85M139.2 172.7h0.85M153.0 177.6h0.85M133.7 170.3h0.85M141.3 174.5h0.85M143.5 170.6h0.85M147.2 165.2h0.85M136.0 174.4h0.85M144.0 173.8h0.85M147.5 175.1h0.85M141.0 181.6h0.85M143.1 186.2h0.85M131.9 166.6h0.85M134.6 161.1h0.85M139.0 173.9h0.85M134.2 172.2h0.85M148.3 171.4h0.85M152.9 170.9h0.85M161.8 174.2h0.85M131.1 177.5h0.85M146.2 167.5h0.85M162.7 172.3h0.85M149.5 186.6h0.85M137.4 171.0h0.85M148.4 163.5h0.85M154.5 170.3h0.85M157.8 179.9h0.85M133.3 168.3h0.85M156.2 168.7h0.85M144.3 176.5h0.85M152.5 174.6h0.85M136.4 178.2h0.85M148.7 179.4h0.85M134.1 181.5h0.85M149.2 172.9h0.85M150.1 174.0h0.85M147.4 175.6h0.85M146.3 170.8h0.85M134.0 172.3h0.85M145.8 173.8h0.85M147.3 171.2h0.85M138.3 171.5h0.85M141.2 171.5h0.85M143.4 172.2h0.85M156.8 171.0h0.85M134.8 176.2h0.85M159.9 173.6h0.85M132.3 177.8h0.85M133.8 174.0h0.85M141.3 168.9h0.85M151.7 175.8h0.85M142.4 175.5h0.85M132.5 172.9h0.85M147.0 177.4h0.85M133.7 164.5h0.85M151.6 179.2h0.85M133.9 177.9h0.85M144.4 177.9h0.85M162.1 179.9h0.85M145.5 169.0h0.85M137.0 172.8h0.85M137.9 175.9h0.85M149.7 182.7h0.85M155.1 168.4h0.85M168.0 174.2h0.85M139.9 166.2h0.85" stroke="#000" stroke-width="0.85" fill="none" opacity="1"/>
<path d="M147.8 169.2h0.7M147.0 157.7h0.7M149.7 161.0h0.7M142.6 148.7h0.7M151.1 160.5h0.7M143.0 156.8h0.7M153.3 156.6h0.7M144.5 168.2h0.7M156.1 158.4h0.7M146.2 145.7h0.7M144.4 154.4h0.7M141.2 161.0h0.7M139.5 165.1h0.7M144.7 148.9h0.7M145.4 157.5h0.7M153.6 146.8h0.7M151.1 151.1h0.7M138.8 146.4h0.7M154.5 145.0h0.7M143.2 154.3h0.7M156.3 139.8h0.7M147.9 155.1h0.7M136.7 151.0h0.7M144.9 157.7h0.7M145.0 150.3h0.7M148.2 161.1h0.7M138.8 154.2h0.7M145.5 153.5h0.7M152.6 149.8h0.7M137.7 152.4h0.7M139.0 164.8h0.7M155.4 146.7h0.7M146.9 143.0h0.7M145.8 150.7h0.7M158.6 157.1h0.7M148.3 161.4h0.7M144.4 158.5h0.7M142.7 149.9h0.7M158.9 135.0h0.7M150.7 148.9h0.7M152.7 148.8h0.7M147.9 144.9h0.7M153.7 148.9h0.7M137.9 132.3h0.7M135.5 158.7h0.7M139.0 144.9h0.7M146.9 152.7h0.7M147.6 151.8h0.7M158.2 146.0h0.7M142.6 152.0h0.7M150.2 163.8h0.7M147.0 159.2h0.7M149.4 173.9h0.7M142.8 163.2h0.7M146.7 155.5h0.7M151.2 162.3h0.7M142.7 152.9h0.7M141.0 135.6h0.7M160.1 154.9h0.7M146.5 148.3h0.7M145.3 156.3h0.7M154.5 155.8h0.7M147.7 146.5h0.7M143.0 153.9h0.7M135.1 150.3h0.7M147.0 164.6h0.7M136.1 144.6h0.7M151.8 137.3h0.7M160.7 155.2h0.7M152.5 157.8h0.7M136.3 157.8h0.7M140.9 152.4h0.7M146.9 155.3h0.7M151.7 154.1h0.7M153.9 155.9h0.7M143.4 156.9h0.7M144.2 159.3h0.7M144.5 151.5h0.7M152.9 141.6h0.7M149.7 150.5h0.7M151.2 158.0h0.7M141.0 157.0h0.7M156.9 151.2h0.7M151.6 170.1h0.7M135.0 152.4h0.7M158.3 152.8h0.7M146.0 146.8h0.7M150.8 162.5h0.7M150.4 147.0h0.7M134.9 155.5h0.7M155.9 156.6h0.7M150.2 165.5h0.7M143.7 152.6h0.7M152.7 151.0h0.7M142.2 151.0h0.7M150.9 148.6h0.7M144.7 155.8h0.7M141.4 150.0h0.7M148.0 155.4h0.7M142.0 150.0h0.7M152.4 150.6h0.7M146.6 152.9h0.7M142.7 158.5h0.7M145.0 142.1h0.7M156.8 152.1h0.7M147.6 155.8h0.7M144.1 146.4h0.7M140.9 149.7h0.7M150.9 151.5h0.7M168.6 157.3h0.7M159.5 172.3h0.7M158.7 176.2h0.7M164.3 169.8h0.7M159.4 170.5h0.7M156.5 177.2h0.7M167.5 169.7h0.7M158.9 174.3h0.7M160.4 177.9h0.7M169.8 167.2h0.7M164.3 182.5h0.7M169.4 177.6h0.7M162.4 176.3h0.7M157.6 175.6h0.7M171.5 170.2h0.7M168.3 169.3h0.7M163.9 173.1h0.7M168.3 172.6h0.7M168.5 165.4h0.7M156.7 174.3h0.7M150.9 161.5h0.7M157.4 176.2h0.7M169.6 190.3h0.7M163.8 169.5h0.7M164.8 163.1h0.7M171.7 166.0h0.7M160.7 172.7h0.7M162.4 174.6h0.7M170.1 176.3h0.7M165.4 166.3h0.7M165.5 164.9h0.7M156.3 161.9h0.7M171.7 163.0h0.7M172.6 171.1h0.7M163.4 171.9h0.7M175.3 162.8h0.7M168.3 168.6h0.7M159.1 158.8h0.7M159.6 165.6h0.7M165.7 176.8h0.7M168.0 170.0h0.7M176.0 167.8h0.7M165.9 169.5h0.7M169.7 174.5h0.7M165.5 175.4h0.7M167.4 167.6h0.7M171.5 168.6h0.7M161.8 176.1h0.7M162.7 171.9h0.7M181.4 177.1h0.7M162.6 168.5h0.7M171.8 174.0h0.7M160.2 175.8h0.7M156.0 179.7h0.7M173.5 181.9h0.7M158.0 175.6h0.7M177.9 174.5h0.7M164.8 180.0h0.7M157.3 171.4h0.7M168.6 169.1h0.7M166.3 177.5h0.7M171.0 171.6h0.7M158.6 162.7h0.7M160.4 168.7h0.7M161.3 189.0h0.7M164.7 171.1h0.7M169.8 164.0h0.7M162.4 175.5h0.7M161.6 178.0h0.7M162.0 173.3h0.7M160.4 166.0h0.7M165.5 151.0h0.7M189.9 148.5h0.7M164.3 186.9h0.7M185.6 172.0h0.7M159.2 148.9h0.7M189.3 157.7h0.7M161.0 187.2h0.7M162.2 176.5h0.7M158.7 189.8h0.7M158.9 152.1h0.7M175.8 179.3h0.7M167.6 160.9h0.7M175.2 163.2h0.7M164.9 161.2h0.7M160.7 178.7h0.7M189.9 149.1h0.7M164.6 174.6h0.7M177.9 176.8h0.7M170.0 179.2h0.7M161.5 172.7h0.7M176.3 186.4h0.7M199.8 174.2h0.7M185.5 163.9h0.7M189.3 185.5h0.7M186.5 178.7h0.7M166.3 179.6h0.7M196.5 151.9h0.7M162.2 184.7h0.7M194.9 189.1h0.7M183.4 151.9h0.7M161.0 154.1h0.7M168.4 165.3h0.7M177.2 188.7h0.7M167.6 175.1h0.7M183.8 165.8h0.7M186.8 170.6h0.7M198.1 153.3h0.7M190.4 185.4h0.7M161.7 159.3h0.7M149.4 189.6h0.7M144.8 194.5h0.7M137.0 184.6h0.7M153.8 193.9h0.7M154.6 192.4h0.7M141.8 197.3h0.7M149.0 194.8h0.7M140.7 195.1h0.7M131.7 196.5h0.7M147.3 194.7h0.7M138.8 189.2h0.7M146.9 185.1h0.7M149.1 198.1h0.7M141.4 198.6h0.7M153.1 189.8h0.7M137.8 193.3h0.7M225.8 130.4h0.7M189.4 135.8h0.7M225.4 144.3h0.7M227.1 131.2h0.7" stroke="#222" stroke-width="0.7" fill="none" opacity="0.8"/>
<rect x="28.5" y="32.5" width="13" height="9.5" fill="#fff"/>
<rect x="136.5" y="32.5" width="13" height="9.5" fill="#fff"/>
<text x="38.6" y="24.6" class="s" font-size="10.8" text-anchor="start" >Control mAb</text>
<text x="167.8" y="24.4" class="s" font-size="10.6" text-anchor="start" >PC61</text>
<text x="29.6" y="41.2" class="s" font-size="10.5" text-anchor="start" >51</text>
<text x="115.8" y="41" class="s" font-size="10.5" text-anchor="end" >6.2</text>
<text x="137.4" y="41" class="s" font-size="10.5" text-anchor="start" >51</text>
<text x="223.4" y="41" class="s" font-size="10.5" text-anchor="end" >1.6</text>
<text x="28.3" y="135.9" class="s" font-size="10.5" text-anchor="start" >2.7</text>
<text x="115.2" y="135.9" class="s" font-size="10.5" text-anchor="end" >5.2</text>
<text x="137.4" y="135.9" class="s" font-size="10.5" text-anchor="start" >2.9</text>
<text x="223.6" y="136.1" class="s" font-size="10.5" text-anchor="end" >0.8</text>
<text class="s" font-size="10.7" text-anchor="middle" transform="translate(9.9 72) rotate(-90)">CD4</text>
<text class="s" font-size="10.7" text-anchor="middle" transform="translate(10.3 168.9) rotate(-90)">FoxP3</text>
<path d="M60.8 218.4H185.5" stroke="#222" stroke-width="1"/>
<text x="109.6" y="233.5" class="s" font-size="10.6" text-anchor="start" >CD25</text>
<path d="M339 4.2V92.8H472.7" stroke="#555" stroke-width="1.3" fill="none"/>
<text x="335.7" y="6.9" class="b" font-size="6.5" text-anchor="end">0.5</text>
<text x="335.7" y="23.9" class="b" font-size="6.5" text-anchor="end">0.4</text>
<text x="335.7" y="41.6" class="b" font-size="6.5" text-anchor="end">0.3</text>
<text x="335.7" y="59.6" class="b" font-size="6.5" text-anchor="end">0.2</text>
<text x="335.7" y="77.5" class="b" font-size="6.5" text-anchor="end">0.1</text>
<text x="335.7" y="95.1" class="b" font-size="6.5" text-anchor="end">0.0</text>
<path d="M336 4.6H339M336 21.6H339M336 39.3H339M336 57.3H339M336 75.2H339M336 92.8H339" stroke="#555" stroke-width="1.1" fill="none"/>
<path d="M355.4 22.8V17.3M349.4 17.3H361.5" stroke="#333" stroke-width="1" fill="none"/>
<rect x="343.9" y="22.8" width="23.1" height="70.0" fill="#000"/>
<path d="M389.2 23.1V9.6M383.2 9.6H395.3" stroke="#333" stroke-width="1" fill="none"/>
<rect x="378.2" y="23.6" width="22.1" height="69.2" fill="#fff" stroke="#444" stroke-width="1"/>
<path d="M422.5 81.9V79.3M416.6 79.3H428.4" stroke="#333" stroke-width="1" fill="none"/>
<rect x="411.1" y="81.9" width="22.8" height="10.9" fill="#000"/>
<path d="M456.1 72.3V68.5M450.0 68.5H462.2" stroke="#333" stroke-width="1" fill="none"/>
<rect x="444.9" y="72.8" width="22.4" height="20.0" fill="#fff" stroke="#444" stroke-width="1"/>
<text x="372.4" y="104.5" class="a" font-size="8.3" text-anchor="middle" >Control mAb</text>
<text x="440.3" y="104.5" class="a" font-size="8.3" text-anchor="middle" >PC61 mAb</text>
<text class="b" font-size="7.6" text-anchor="middle" transform="translate(319.9 50.8) rotate(-90)">no.&#160;donor&#160;CD4<tspan dy="-2.6" font-size="68%">+</tspan><tspan dy="2.6">&#160;T</tspan><tspan dy="1.5" font-size="68%">reg</tspan><tspan dy="-1.5">&#160;(x10</tspan><tspan dy="-2.6" font-size="68%">-5</tspan><tspan dy="2.6">)</tspan></text>
<path d="M339 125V214.3H472.7" stroke="#555" stroke-width="1.3" fill="none"/>
<text x="335.7" y="127.9" class="b" font-size="6.5" text-anchor="end">12</text>
<text x="335.7" y="142.7" class="b" font-size="6.5" text-anchor="end">10</text>
<text x="335.7" y="157.7" class="b" font-size="6.5" text-anchor="end">8</text>
<text x="335.7" y="172.7" class="b" font-size="6.5" text-anchor="end">6</text>
<text x="335.7" y="187.3" class="b" font-size="6.5" text-anchor="end">4</text>
<text x="335.7" y="201.9" class="b" font-size="6.5" text-anchor="end">2</text>
<text x="335.7" y="216.5" class="b" font-size="6.5" text-anchor="end">0</text>
<path d="M336 125.6H339M336 140.4H339M336 155.4H339M336 170.4H339M336 185H339M336 199.6H339M336 214.2H339" stroke="#555" stroke-width="1.1" fill="none"/>
<path d="M355.4 180.8V178.5M349.5 178.5H361.3" stroke="#333" stroke-width="1" fill="none"/>
<rect x="344" y="180.8" width="22.8" height="33.5" fill="#000"/>
<path d="M389.4 134.3V128.9M383.5 128.9H395.4" stroke="#333" stroke-width="1" fill="none"/>
<rect x="378.5" y="134.8" width="21.9" height="79.5" fill="#fff" stroke="#444" stroke-width="1"/>
<path d="M422.5 209.3V208M416.6 208H428.4" stroke="#333" stroke-width="1" fill="none"/>
<rect x="411.1" y="209.3" width="22.8" height="5.0" fill="#000"/>
<path d="M456.2 184.7V181.1M450.2 181.1H462.2" stroke="#333" stroke-width="1" fill="none"/>
<rect x="445.1" y="185.2" width="22.2" height="29.1" fill="#fff" stroke="#444" stroke-width="1"/>
<text x="372.4" y="226.7" class="a" font-size="8.3" text-anchor="middle" >Control mAb</text>
<text x="439.4" y="226.7" class="a" font-size="8.3" text-anchor="middle" >PC61 mAb</text>
<text class="b" font-size="7.3" text-anchor="middle" transform="translate(312.9 170.5) rotate(-90)">%&#160;FoxP3<tspan dy="-2.6" font-size="68%">+</tspan><tspan dy="2.6">&#160;in&#160;donor</tspan></text>
<text class="b" font-size="7.3" text-anchor="middle" transform="translate(323.2 170.3) rotate(-90)">CD4<tspan dy="-2.6" font-size="68%">+</tspan><tspan dy="2.6">&#160;T&#160;compartment</tspan></text>
<path d="M355.4 120.4H388.9" stroke="#444" stroke-width="1"/>
<text x="372.95" y="122.0" class="b" font-size="11.5" text-anchor="middle" >*</text>
<path d="M421.6 175.4H455.2" stroke="#444" stroke-width="1"/>
<text x="439.2" y="177.0" class="b" font-size="11.5" text-anchor="middle" >*</text>
<path d="M51 264V344.5H171.9" stroke="#555" stroke-width="1.3" fill="none"/>
<text x="48.1" y="266.6" class="b" font-size="5.7" text-anchor="end">10.0</text>
<text x="48.1" y="286.7" class="b" font-size="5.7" text-anchor="end">7.5</text>
<text x="48.1" y="306.6" class="b" font-size="5.7" text-anchor="end">5.0</text>
<text x="48.1" y="326.6" class="b" font-size="5.7" text-anchor="end">2.5</text>
<text x="48.1" y="346.6" class="b" font-size="5.7" text-anchor="end">0.0</text>
<path d="M48.4 264.5H51M48.4 284.6H51M48.4 304.5H51M48.4 324.5H51M48.4 344.5H51" stroke="#555" stroke-width="1.1" fill="none"/>
<path d="M66.2 274.5V271.3M60.9 271.3H71.5" stroke="#333" stroke-width="1" fill="none"/>
<rect x="56" y="274.5" width="20.4" height="70.0" fill="#000"/>
<path d="M96.1 317.8V314.4M90.8 314.4H101.4" stroke="#333" stroke-width="1" fill="none"/>
<rect x="86.5" y="318.3" width="19.2" height="26.2" fill="#fff" stroke="#444" stroke-width="1"/>
<path d="M126.2 291.1V286.6M121.0 286.6H131.4" stroke="#333" stroke-width="1" fill="none"/>
<rect x="116.2" y="291.1" width="20.0" height="53.4" fill="#000"/>
<path d="M156.6 322.8V319.5M151.1 319.5H162.0" stroke="#333" stroke-width="1" fill="none"/>
<rect x="146.5" y="323.3" width="20.1" height="21.2" fill="#fff" stroke="#444" stroke-width="1"/>
<text x="80.5" y="353.9" class="a" font-size="7.3" text-anchor="middle" >Control mAb</text>
<text x="142" y="353.9" class="a" font-size="7.3" text-anchor="middle" >PC61 mAb</text>
<text class="b" font-size="6.6" text-anchor="middle" transform="translate(24.2 307.3) rotate(-90)">no.&#160;donor&#160;effector&#160;CD4<tspan dy="-2.6" font-size="68%">+</tspan><tspan dy="2.6">&#160;T</tspan></text>
<text class="b" font-size="6.6" text-anchor="middle" transform="translate(33.6 304) rotate(-90)">(x10<tspan dy="-2.6" font-size="68%">-6</tspan><tspan dy="2.6">)</tspan></text>
<path d="M66.5 266.1H95.8" stroke="#444" stroke-width="1"/>
<text x="81.95" y="267.3" class="b" font-size="10.5" text-anchor="middle" >*</text>
<path d="M125.1 278.4H155.9" stroke="#444" stroke-width="1"/>
<text x="141.3" y="279.7" class="b" font-size="10.5" text-anchor="middle" >*</text>
<path d="M247.7 263.3V344.5H367.9" stroke="#555" stroke-width="1.3" fill="none"/>
<text x="244.8" y="265.8" class="b" font-size="5.7" text-anchor="end">300</text>
<text x="244.8" y="292.7" class="b" font-size="5.7" text-anchor="end">200</text>
<text x="244.8" y="319.7" class="b" font-size="5.7" text-anchor="end">100</text>
<text x="244.8" y="346.6" class="b" font-size="5.7" text-anchor="end">0</text>
<path d="M245.1 263.7H247.7M245.1 290.6H247.7M245.1 317.6H247.7M245.1 344.5H247.7" stroke="#555" stroke-width="1.1" fill="none"/>
<path d="M262.7 290.2V280.1M257.3 280.1H268.1" stroke="#333" stroke-width="1" fill="none"/>
<rect x="252.3" y="290.2" width="20.8" height="54.3" fill="#000"/>
<path d="M292.6 317.6V312.2M287.2 312.2H297.9" stroke="#333" stroke-width="1" fill="none"/>
<rect x="282.8" y="318.1" width="19.5" height="26.4" fill="#fff" stroke="#444" stroke-width="1"/>
<path d="M323.0 272V265.4M317.8 265.4H328.2" stroke="#333" stroke-width="1" fill="none"/>
<rect x="313" y="272" width="20.0" height="72.5" fill="#000"/>
<path d="M352.8 301.3V293.2M347.5 293.2H358.0" stroke="#333" stroke-width="1" fill="none"/>
<rect x="343.1" y="301.8" width="19.3" height="42.7" fill="#fff" stroke="#444" stroke-width="1"/>
<text x="276.8" y="353.9" class="a" font-size="7.5" text-anchor="middle" >Control mAb</text>
<text x="338.1" y="353.9" class="a" font-size="7.5" text-anchor="middle" >PC61 mAb</text>
<text class="b" font-size="6.8" text-anchor="middle" transform="translate(231.3 303.4) rotate(-90)">pg/mL&#160;IFNg</text>
<path d="M264.7 274.2H292.1" stroke="#444" stroke-width="1"/>
<text x="279.2" y="274.8" class="b" font-size="10.5" text-anchor="middle" >*</text>
<path d="M326.2 256.2H353.9" stroke="#444" stroke-width="1"/>
<text x="340.84999999999997" y="257.0" class="b" font-size="10.5" text-anchor="middle" >*</text>
<path d="M398.4 263.3V344.2H520" stroke="#555" stroke-width="1.3" fill="none"/>
<text x="395.5" y="265.7" class="b" font-size="5.7" text-anchor="end">600</text>
<text x="395.5" y="279.1" class="b" font-size="5.7" text-anchor="end">500</text>
<text x="395.5" y="292.5" class="b" font-size="5.7" text-anchor="end">400</text>
<text x="395.5" y="305.9" class="b" font-size="5.7" text-anchor="end">300</text>
<text x="395.5" y="319.3" class="b" font-size="5.7" text-anchor="end">200</text>
<text x="395.5" y="332.7" class="b" font-size="5.7" text-anchor="end">100</text>
<text x="395.5" y="346.2" class="b" font-size="5.7" text-anchor="end">0</text>
<path d="M395.79999999999995 263.6H398.4M395.79999999999995 277H398.4M395.79999999999995 290.4H398.4M395.79999999999995 303.8H398.4M395.79999999999995 317.2H398.4M395.79999999999995 330.6H398.4M395.79999999999995 344.1H398.4" stroke="#555" stroke-width="1.1" fill="none"/>
<path d="M413.9 314.4V310.7M408.6 310.7H419.3" stroke="#333" stroke-width="1" fill="none"/>
<rect x="403.7" y="314.4" width="20.5" height="29.8" fill="#000"/>
<path d="M444.2 271.6V268.5M438.9 268.5H449.6" stroke="#333" stroke-width="1" fill="none"/>
<rect x="434.5" y="272.1" width="19.5" height="72.1" fill="#fff" stroke="#444" stroke-width="1"/>
<path d="M474.4 310.7V304.5M469.0 304.5H479.7" stroke="#333" stroke-width="1" fill="none"/>
<rect x="464" y="310.7" width="20.7" height="33.5" fill="#000"/>
<path d="M504.6 300.3V291.9M499.3 291.9H509.9" stroke="#333" stroke-width="1" fill="none"/>
<rect x="495.0" y="300.8" width="19.2" height="43.4" fill="#fff" stroke="#444" stroke-width="1"/>
<text x="429.4" y="353.9" class="a" font-size="7.4" text-anchor="middle" >Control mAb</text>
<text x="490.2" y="353.9" class="a" font-size="7.4" text-anchor="middle" >PC61 mAb</text>
<text class="b" font-size="6.7" text-anchor="middle" transform="translate(383.6 303.3) rotate(-90)">pg/mL&#160;IL-5</text>
<path d="M409.7 257.7H437.4" stroke="#444" stroke-width="1"/>
<text x="424.34999999999997" y="258.8" class="b" font-size="10.5" text-anchor="middle" >*</text>
<path d="M475.1 285.9H502.9" stroke="#444" stroke-width="1"/>
<text x="489.0" y="283.2" class="a" font-size="7.9" text-anchor="middle" >NS</text>
</svg></body></html>
